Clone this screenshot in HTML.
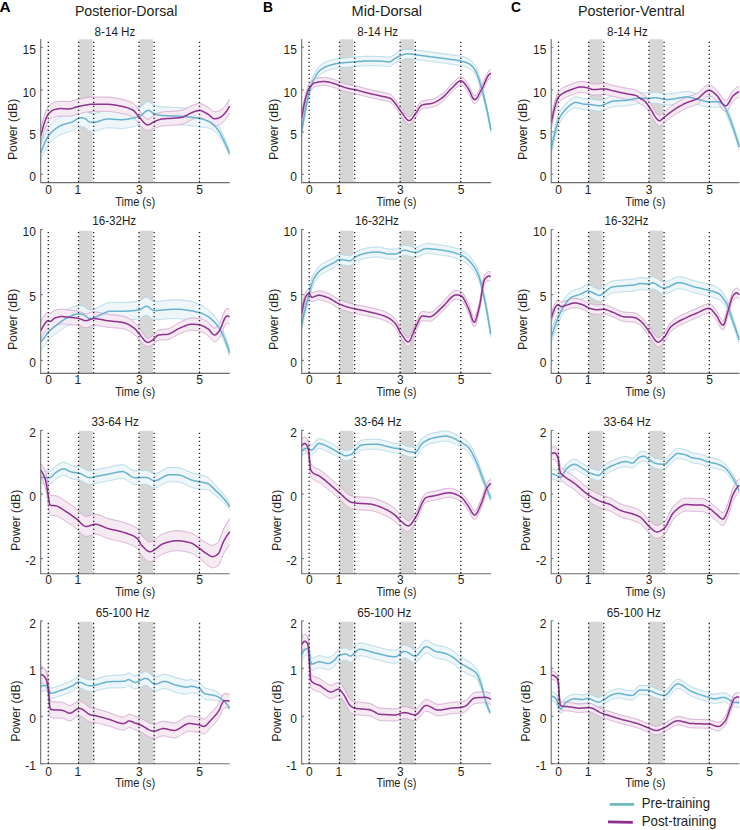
<!DOCTYPE html>
<html><head><meta charset="utf-8"><style>
html,body{margin:0;padding:0;background:#fff;}
body{width:740px;height:830px;position:relative;overflow:hidden;font-family:"Liberation Sans", sans-serif;}
</style></head><body>
<svg width="740" height="830" viewBox="0 0 740 830" style="position:absolute;left:0;top:0"><rect width="740" height="830" fill="#fff"/><text x="-0.6" y="11.9" font-family='"Liberation Sans", sans-serif' font-weight="bold" font-size="14" fill="#000" textLength="11.2" lengthAdjust="spacingAndGlyphs">A</text><text x="74.9" y="15.6" font-family='"Liberation Sans", sans-serif' font-size="15" fill="#231f20" textLength="102.4" lengthAdjust="spacingAndGlyphs">Posterior-Dorsal</text><clipPath id="clipA1"><rect x="40.7" y="36.0" width="190.0" height="146.6"/></clipPath><g><rect x="78.94" y="39.30" width="13.6" height="143.30" fill="#d6d6d6"/><rect x="139.42" y="39.30" width="13.6" height="143.30" fill="#d6d6d6"/><g clip-path="url(#clipA1)"><path d="M40.7,145.0 L41.7,142.1 L42.7,139.4 L43.7,136.9 L44.7,134.5 L45.7,132.4 L46.7,130.4 L47.7,128.7 L48.7,127.2 L49.7,125.8 L50.7,124.6 L51.7,123.6 L52.7,122.6 L53.7,121.7 L54.7,120.8 L55.7,119.9 L56.7,119.1 L57.7,118.4 L58.7,117.7 L59.7,117.1 L60.7,116.6 L61.7,116.2 L62.7,115.8 L63.7,115.5 L64.7,115.2 L65.7,114.9 L66.7,114.6 L67.7,114.4 L68.7,114.1 L69.7,113.8 L70.7,113.5 L71.7,113.1 L72.7,112.7 L73.7,112.2 L74.7,111.6 L75.7,110.9 L76.7,110.2 L77.7,109.6 L78.7,109.2 L79.7,108.9 L80.7,108.8 L81.7,108.9 L82.7,109.0 L83.7,109.3 L84.7,109.5 L85.7,110.1 L86.7,110.9 L87.7,111.9 L88.7,112.7 L89.7,113.2 L90.7,113.4 L91.7,113.5 L92.7,113.5 L93.7,113.5 L94.7,113.4 L95.7,113.3 L96.7,113.1 L97.7,112.8 L98.7,112.5 L99.7,112.1 L100.7,111.8 L101.7,111.4 L102.7,111.1 L103.7,110.8 L104.7,110.5 L105.7,110.3 L106.7,110.2 L107.7,110.2 L108.7,110.2 L109.7,110.2 L110.7,110.3 L111.7,110.3 L112.7,110.4 L113.7,110.5 L114.7,110.6 L115.7,110.7 L116.7,110.7 L117.7,110.8 L118.7,110.9 L119.7,110.9 L120.7,110.9 L121.7,110.9 L122.7,110.9 L123.7,110.8 L124.7,110.8 L125.7,110.7 L126.7,110.5 L127.7,110.4 L128.7,110.2 L129.7,110.1 L130.7,109.9 L131.7,109.6 L132.7,109.4 L133.7,109.2 L134.7,108.9 L135.7,108.6 L136.7,108.4 L137.7,108.1 L138.7,107.8 L139.7,107.4 L140.7,106.9 L141.7,106.1 L142.7,105.3 L143.7,104.4 L144.7,103.5 L145.7,102.7 L146.7,102.1 L147.7,101.7 L148.7,101.6 L149.7,102.0 L150.7,102.6 L151.7,103.5 L152.7,104.3 L153.7,104.9 L154.7,105.2 L155.7,105.5 L156.7,105.8 L157.7,106.0 L158.7,106.3 L159.7,106.5 L160.7,106.6 L161.7,106.7 L162.7,106.8 L163.7,106.9 L164.7,107.0 L165.7,107.0 L166.7,107.1 L167.7,107.2 L168.7,107.2 L169.7,107.2 L170.7,107.3 L171.7,107.3 L172.7,107.4 L173.7,107.4 L174.7,107.4 L175.7,107.5 L176.7,107.5 L177.7,107.6 L178.7,107.6 L179.7,107.7 L180.7,107.7 L181.7,107.8 L182.7,107.9 L183.7,107.9 L184.7,108.0 L185.7,108.1 L186.7,108.2 L187.7,108.3 L188.7,108.4 L189.7,108.6 L190.7,108.7 L191.7,108.8 L192.7,108.9 L193.7,109.1 L194.7,109.2 L195.7,109.4 L196.7,109.6 L197.7,109.7 L198.7,109.9 L199.7,110.1 L200.7,110.5 L201.7,110.9 L202.7,111.3 L203.7,111.8 L204.7,112.3 L205.7,112.9 L206.7,113.4 L207.7,114.0 L208.7,114.7 L209.7,115.4 L210.7,116.1 L211.7,116.9 L212.7,117.9 L213.7,119.1 L214.7,120.4 L215.7,121.7 L216.7,123.2 L217.7,124.7 L218.7,126.4 L219.7,128.2 L220.7,130.2 L221.7,132.3 L222.7,134.5 L223.7,136.7 L224.7,138.9 L225.7,141.2 L226.7,143.6 L227.7,146.1 L228.7,148.6 L229.6,151.0 L229.6,156.0 L228.7,154.0 L227.7,151.9 L226.7,149.8 L225.7,147.8 L224.7,145.9 L223.7,144.1 L222.7,142.3 L221.7,140.5 L220.7,138.8 L219.7,137.2 L218.7,135.8 L217.7,134.5 L216.7,133.4 L215.7,132.4 L214.7,131.4 L213.7,130.5 L212.7,129.8 L211.7,129.2 L210.7,128.7 L209.7,128.4 L208.7,128.2 L207.7,127.9 L206.7,127.7 L205.7,127.6 L204.7,127.4 L203.7,127.3 L202.7,127.3 L201.7,127.2 L200.7,127.2 L199.7,127.1 L198.7,126.9 L197.7,126.8 L196.7,126.6 L195.7,126.4 L194.7,126.3 L193.7,126.1 L192.7,126.0 L191.7,125.9 L190.7,125.7 L189.7,125.6 L188.7,125.5 L187.7,125.4 L186.7,125.3 L185.7,125.2 L184.7,125.1 L183.7,125.1 L182.7,125.0 L181.7,124.9 L180.7,124.9 L179.7,124.8 L178.7,124.8 L177.7,124.7 L176.7,124.7 L175.7,124.7 L174.7,124.6 L173.7,124.6 L172.7,124.6 L171.7,124.5 L170.7,124.5 L169.7,124.5 L168.7,124.4 L167.7,124.4 L166.7,124.3 L165.7,124.3 L164.7,124.2 L163.7,124.2 L162.7,124.1 L161.7,124.0 L160.7,123.9 L159.7,123.7 L158.7,123.6 L157.7,123.3 L156.7,123.1 L155.7,122.8 L154.7,122.5 L153.7,122.2 L152.7,121.6 L151.7,120.8 L150.7,120.0 L149.7,119.3 L148.7,119.0 L147.7,119.1 L146.7,119.5 L145.7,120.1 L144.7,120.9 L143.7,121.8 L142.7,122.7 L141.7,123.5 L140.7,124.3 L139.7,124.9 L138.7,125.2 L137.7,125.5 L136.7,125.8 L135.7,126.1 L134.7,126.4 L133.7,126.6 L132.7,126.9 L131.7,127.1 L130.7,127.4 L129.7,127.6 L128.7,127.7 L127.7,127.9 L126.7,128.1 L125.7,128.2 L124.7,128.3 L123.7,128.4 L122.7,128.4 L121.7,128.5 L120.7,128.5 L119.7,128.5 L118.7,128.4 L117.7,128.4 L116.7,128.3 L115.7,128.3 L114.7,128.2 L113.7,128.1 L112.7,128.0 L111.7,128.0 L110.7,127.9 L109.7,127.9 L108.7,127.8 L107.7,127.8 L106.7,127.9 L105.7,128.0 L104.7,128.2 L103.7,128.5 L102.7,128.8 L101.7,129.1 L100.7,129.5 L99.7,129.8 L98.7,130.2 L97.7,130.5 L96.7,130.8 L95.7,131.0 L94.7,131.2 L93.7,131.3 L92.7,131.3 L91.7,131.2 L90.7,131.2 L89.7,131.0 L88.7,130.5 L87.7,129.7 L86.7,128.7 L85.7,127.9 L84.7,127.3 L83.7,127.1 L82.7,126.9 L81.7,126.7 L80.7,126.6 L79.7,126.7 L78.7,127.0 L77.7,127.5 L76.7,128.1 L75.7,128.8 L74.7,129.5 L73.7,130.1 L72.7,130.6 L71.7,131.0 L70.7,131.4 L69.7,131.7 L68.7,132.0 L67.7,132.3 L66.7,132.6 L65.7,132.9 L64.7,133.2 L63.7,133.5 L62.7,133.8 L61.7,134.2 L60.7,134.6 L59.7,135.1 L58.7,135.6 L57.7,136.2 L56.7,136.8 L55.7,137.5 L54.7,138.2 L53.7,139.0 L52.7,139.8 L51.7,140.7 L50.7,141.7 L49.7,142.8 L48.7,144.0 L47.7,145.4 L46.7,147.0 L45.7,148.9 L44.7,151.0 L43.7,153.2 L42.7,155.6 L41.7,158.2 L40.7,161.0 Z" fill="#eff6fa" stroke="none"/><path d="M40.7,145.0 L41.7,142.1 L42.7,139.4 L43.7,136.9 L44.7,134.5 L45.7,132.4 L46.7,130.4 L47.7,128.7 L48.7,127.2 L49.7,125.8 L50.7,124.6 L51.7,123.6 L52.7,122.6 L53.7,121.7 L54.7,120.8 L55.7,119.9 L56.7,119.1 L57.7,118.4 L58.7,117.7 L59.7,117.1 L60.7,116.6 L61.7,116.2 L62.7,115.8 L63.7,115.5 L64.7,115.2 L65.7,114.9 L66.7,114.6 L67.7,114.4 L68.7,114.1 L69.7,113.8 L70.7,113.5 L71.7,113.1 L72.7,112.7 L73.7,112.2 L74.7,111.6 L75.7,110.9 L76.7,110.2 L77.7,109.6 L78.7,109.2 L79.7,108.9 L80.7,108.8 L81.7,108.9 L82.7,109.0 L83.7,109.3 L84.7,109.5 L85.7,110.1 L86.7,110.9 L87.7,111.9 L88.7,112.7 L89.7,113.2 L90.7,113.4 L91.7,113.5 L92.7,113.5 L93.7,113.5 L94.7,113.4 L95.7,113.3 L96.7,113.1 L97.7,112.8 L98.7,112.5 L99.7,112.1 L100.7,111.8 L101.7,111.4 L102.7,111.1 L103.7,110.8 L104.7,110.5 L105.7,110.3 L106.7,110.2 L107.7,110.2 L108.7,110.2 L109.7,110.2 L110.7,110.3 L111.7,110.3 L112.7,110.4 L113.7,110.5 L114.7,110.6 L115.7,110.7 L116.7,110.7 L117.7,110.8 L118.7,110.9 L119.7,110.9 L120.7,110.9 L121.7,110.9 L122.7,110.9 L123.7,110.8 L124.7,110.8 L125.7,110.7 L126.7,110.5 L127.7,110.4 L128.7,110.2 L129.7,110.1 L130.7,109.9 L131.7,109.6 L132.7,109.4 L133.7,109.2 L134.7,108.9 L135.7,108.6 L136.7,108.4 L137.7,108.1 L138.7,107.8 L139.7,107.4 L140.7,106.9 L141.7,106.1 L142.7,105.3 L143.7,104.4 L144.7,103.5 L145.7,102.7 L146.7,102.1 L147.7,101.7 L148.7,101.6 L149.7,102.0 L150.7,102.6 L151.7,103.5 L152.7,104.3 L153.7,104.9 L154.7,105.2 L155.7,105.5 L156.7,105.8 L157.7,106.0 L158.7,106.3 L159.7,106.5 L160.7,106.6 L161.7,106.7 L162.7,106.8 L163.7,106.9 L164.7,107.0 L165.7,107.0 L166.7,107.1 L167.7,107.2 L168.7,107.2 L169.7,107.2 L170.7,107.3 L171.7,107.3 L172.7,107.4 L173.7,107.4 L174.7,107.4 L175.7,107.5 L176.7,107.5 L177.7,107.6 L178.7,107.6 L179.7,107.7 L180.7,107.7 L181.7,107.8 L182.7,107.9 L183.7,107.9 L184.7,108.0 L185.7,108.1 L186.7,108.2 L187.7,108.3 L188.7,108.4 L189.7,108.6 L190.7,108.7 L191.7,108.8 L192.7,108.9 L193.7,109.1 L194.7,109.2 L195.7,109.4 L196.7,109.6 L197.7,109.7 L198.7,109.9 L199.7,110.1 L200.7,110.5 L201.7,110.9 L202.7,111.3 L203.7,111.8 L204.7,112.3 L205.7,112.9 L206.7,113.4 L207.7,114.0 L208.7,114.7 L209.7,115.4 L210.7,116.1 L211.7,116.9 L212.7,117.9 L213.7,119.1 L214.7,120.4 L215.7,121.7 L216.7,123.2 L217.7,124.7 L218.7,126.4 L219.7,128.2 L220.7,130.2 L221.7,132.3 L222.7,134.5 L223.7,136.7 L224.7,138.9 L225.7,141.2 L226.7,143.6 L227.7,146.1 L228.7,148.6 L229.6,151.0" fill="none" stroke="#a9d5e5" stroke-width="0.95"/><path d="M40.7,161.0 L41.7,158.2 L42.7,155.6 L43.7,153.2 L44.7,151.0 L45.7,148.9 L46.7,147.0 L47.7,145.4 L48.7,144.0 L49.7,142.8 L50.7,141.7 L51.7,140.7 L52.7,139.8 L53.7,139.0 L54.7,138.2 L55.7,137.5 L56.7,136.8 L57.7,136.2 L58.7,135.6 L59.7,135.1 L60.7,134.6 L61.7,134.2 L62.7,133.8 L63.7,133.5 L64.7,133.2 L65.7,132.9 L66.7,132.6 L67.7,132.3 L68.7,132.0 L69.7,131.7 L70.7,131.4 L71.7,131.0 L72.7,130.6 L73.7,130.1 L74.7,129.5 L75.7,128.8 L76.7,128.1 L77.7,127.5 L78.7,127.0 L79.7,126.7 L80.7,126.6 L81.7,126.7 L82.7,126.9 L83.7,127.1 L84.7,127.3 L85.7,127.9 L86.7,128.7 L87.7,129.7 L88.7,130.5 L89.7,131.0 L90.7,131.2 L91.7,131.2 L92.7,131.3 L93.7,131.3 L94.7,131.2 L95.7,131.0 L96.7,130.8 L97.7,130.5 L98.7,130.2 L99.7,129.8 L100.7,129.5 L101.7,129.1 L102.7,128.8 L103.7,128.5 L104.7,128.2 L105.7,128.0 L106.7,127.9 L107.7,127.8 L108.7,127.8 L109.7,127.9 L110.7,127.9 L111.7,128.0 L112.7,128.0 L113.7,128.1 L114.7,128.2 L115.7,128.3 L116.7,128.3 L117.7,128.4 L118.7,128.4 L119.7,128.5 L120.7,128.5 L121.7,128.5 L122.7,128.4 L123.7,128.4 L124.7,128.3 L125.7,128.2 L126.7,128.1 L127.7,127.9 L128.7,127.7 L129.7,127.6 L130.7,127.4 L131.7,127.1 L132.7,126.9 L133.7,126.6 L134.7,126.4 L135.7,126.1 L136.7,125.8 L137.7,125.5 L138.7,125.2 L139.7,124.9 L140.7,124.3 L141.7,123.5 L142.7,122.7 L143.7,121.8 L144.7,120.9 L145.7,120.1 L146.7,119.5 L147.7,119.1 L148.7,119.0 L149.7,119.3 L150.7,120.0 L151.7,120.8 L152.7,121.6 L153.7,122.2 L154.7,122.5 L155.7,122.8 L156.7,123.1 L157.7,123.3 L158.7,123.6 L159.7,123.7 L160.7,123.9 L161.7,124.0 L162.7,124.1 L163.7,124.2 L164.7,124.2 L165.7,124.3 L166.7,124.3 L167.7,124.4 L168.7,124.4 L169.7,124.5 L170.7,124.5 L171.7,124.5 L172.7,124.6 L173.7,124.6 L174.7,124.6 L175.7,124.7 L176.7,124.7 L177.7,124.7 L178.7,124.8 L179.7,124.8 L180.7,124.9 L181.7,124.9 L182.7,125.0 L183.7,125.1 L184.7,125.1 L185.7,125.2 L186.7,125.3 L187.7,125.4 L188.7,125.5 L189.7,125.6 L190.7,125.7 L191.7,125.9 L192.7,126.0 L193.7,126.1 L194.7,126.3 L195.7,126.4 L196.7,126.6 L197.7,126.8 L198.7,126.9 L199.7,127.1 L200.7,127.2 L201.7,127.2 L202.7,127.3 L203.7,127.3 L204.7,127.4 L205.7,127.6 L206.7,127.7 L207.7,127.9 L208.7,128.2 L209.7,128.4 L210.7,128.7 L211.7,129.2 L212.7,129.8 L213.7,130.5 L214.7,131.4 L215.7,132.4 L216.7,133.4 L217.7,134.5 L218.7,135.8 L219.7,137.2 L220.7,138.8 L221.7,140.5 L222.7,142.3 L223.7,144.1 L224.7,145.9 L225.7,147.8 L226.7,149.8 L227.7,151.9 L228.7,154.0 L229.6,156.0" fill="none" stroke="#a9d5e5" stroke-width="0.8"/><path d="M40.7,128.5 L41.7,124.5 L42.7,121.0 L43.7,117.7 L44.7,114.6 L45.7,111.8 L46.7,109.4 L47.7,107.6 L48.7,106.2 L49.7,105.2 L50.7,104.2 L51.7,103.5 L52.7,102.9 L53.7,102.5 L54.7,102.2 L55.7,101.9 L56.7,101.6 L57.7,101.4 L58.7,101.3 L59.7,101.2 L60.7,101.2 L61.7,101.2 L62.7,101.3 L63.7,101.3 L64.7,101.4 L65.7,101.4 L66.7,101.5 L67.7,101.5 L68.7,101.5 L69.7,101.5 L70.7,101.3 L71.7,101.1 L72.7,100.8 L73.7,100.5 L74.7,100.2 L75.7,99.9 L76.7,99.6 L77.7,99.4 L78.7,99.2 L79.7,99.0 L80.7,98.8 L81.7,98.6 L82.7,98.4 L83.7,98.2 L84.7,98.0 L85.7,97.8 L86.7,97.6 L87.7,97.4 L88.7,97.3 L89.7,97.2 L90.7,97.1 L91.7,97.0 L92.7,97.0 L93.7,97.0 L94.7,97.0 L95.7,97.0 L96.7,97.0 L97.7,97.0 L98.7,97.0 L99.7,97.0 L100.7,97.0 L101.7,97.0 L102.7,97.1 L103.7,97.1 L104.7,97.1 L105.7,97.1 L106.7,97.1 L107.7,97.1 L108.7,97.2 L109.7,97.2 L110.7,97.3 L111.7,97.4 L112.7,97.6 L113.7,97.7 L114.7,97.9 L115.7,98.0 L116.7,98.2 L117.7,98.4 L118.7,98.6 L119.7,98.8 L120.7,99.0 L121.7,99.2 L122.7,99.4 L123.7,99.7 L124.7,99.9 L125.7,100.2 L126.7,100.5 L127.7,100.8 L128.7,101.2 L129.7,101.6 L130.7,102.0 L131.7,102.5 L132.7,103.0 L133.7,103.6 L134.7,104.5 L135.7,105.7 L136.7,107.1 L137.7,108.4 L138.7,109.6 L139.7,110.7 L140.7,112.0 L141.7,113.4 L142.7,114.7 L143.7,116.1 L144.7,117.2 L145.7,118.2 L146.7,118.9 L147.7,119.3 L148.7,119.1 L149.7,118.5 L150.7,117.8 L151.7,116.9 L152.7,116.0 L153.7,115.3 L154.7,114.7 L155.7,114.1 L156.7,113.6 L157.7,113.2 L158.7,112.9 L159.7,112.6 L160.7,112.3 L161.7,112.1 L162.7,112.0 L163.7,111.8 L164.7,111.7 L165.7,111.7 L166.7,111.6 L167.7,111.5 L168.7,111.5 L169.7,111.4 L170.7,111.4 L171.7,111.3 L172.7,111.3 L173.7,111.2 L174.7,111.1 L175.7,111.1 L176.7,111.0 L177.7,110.9 L178.7,110.8 L179.7,110.7 L180.7,110.5 L181.7,110.3 L182.7,110.0 L183.7,109.6 L184.7,109.2 L185.7,108.7 L186.7,108.3 L187.7,107.8 L188.7,107.2 L189.7,106.7 L190.7,106.2 L191.7,105.7 L192.7,105.3 L193.7,104.9 L194.7,104.5 L195.7,104.1 L196.7,103.9 L197.7,103.7 L198.7,103.5 L199.7,103.5 L200.7,103.6 L201.7,103.9 L202.7,104.3 L203.7,104.8 L204.7,105.3 L205.7,105.9 L206.7,106.5 L207.7,107.1 L208.7,107.7 L209.7,108.5 L210.7,109.4 L211.7,110.3 L212.7,111.1 L213.7,111.6 L214.7,111.8 L215.7,111.8 L216.7,111.6 L217.7,111.4 L218.7,111.0 L219.7,110.6 L220.7,110.0 L221.7,109.3 L222.7,108.5 L223.7,107.6 L224.7,106.5 L225.7,105.2 L226.7,103.9 L227.7,102.3 L228.7,100.7 L229.6,99.0 L229.6,113.0 L228.7,114.7 L227.7,116.3 L226.7,117.9 L225.7,119.2 L224.7,120.5 L223.7,121.6 L222.7,122.5 L221.7,123.3 L220.7,124.0 L219.7,124.6 L218.7,125.0 L217.7,125.4 L216.7,125.6 L215.7,125.8 L214.7,125.8 L213.7,125.6 L212.7,125.1 L211.7,124.3 L210.7,123.4 L209.7,122.5 L208.7,121.7 L207.7,121.1 L206.7,120.5 L205.7,119.9 L204.7,119.3 L203.7,118.8 L202.7,118.3 L201.7,117.9 L200.7,117.6 L199.7,117.5 L198.7,117.5 L197.7,117.7 L196.7,117.9 L195.7,118.1 L194.7,118.5 L193.7,118.9 L192.7,119.3 L191.7,119.7 L190.7,120.2 L189.7,120.7 L188.7,121.2 L187.7,121.8 L186.7,122.3 L185.7,122.7 L184.7,123.2 L183.7,123.6 L182.7,124.0 L181.7,124.3 L180.7,124.5 L179.7,124.7 L178.7,124.8 L177.7,124.9 L176.7,125.0 L175.7,125.1 L174.7,125.1 L173.7,125.2 L172.7,125.3 L171.7,125.3 L170.7,125.4 L169.7,125.4 L168.7,125.5 L167.7,125.5 L166.7,125.6 L165.7,125.7 L164.7,125.7 L163.7,125.8 L162.7,126.0 L161.7,126.1 L160.7,126.3 L159.7,126.6 L158.7,126.9 L157.7,127.2 L156.7,127.6 L155.7,128.0 L154.7,128.2 L153.7,128.5 L152.7,128.8 L151.7,129.3 L150.7,129.8 L149.7,130.2 L148.7,130.4 L147.7,130.5 L146.7,130.4 L145.7,130.1 L144.7,129.5 L143.7,128.7 L142.7,127.7 L141.7,126.7 L140.7,125.7 L139.7,124.7 L138.7,123.6 L137.7,122.4 L136.7,121.1 L135.7,119.8 L134.7,118.6 L133.7,117.7 L132.7,117.1 L131.7,116.6 L130.7,116.1 L129.7,115.7 L128.7,115.3 L127.7,115.0 L126.7,114.6 L125.7,114.3 L124.7,114.1 L123.7,113.8 L122.7,113.6 L121.7,113.4 L120.7,113.2 L119.7,113.0 L118.7,112.8 L117.7,112.6 L116.7,112.5 L115.7,112.3 L114.7,112.1 L113.7,112.0 L112.7,111.8 L111.7,111.7 L110.7,111.6 L109.7,111.5 L108.7,111.5 L107.7,111.5 L106.7,111.5 L105.7,111.4 L104.7,111.4 L103.7,111.4 L102.7,111.4 L101.7,111.4 L100.7,111.4 L99.7,111.4 L98.7,111.4 L97.7,111.4 L96.7,111.4 L95.7,111.4 L94.7,111.4 L93.7,111.4 L92.7,111.4 L91.7,111.5 L90.7,111.6 L89.7,111.7 L88.7,111.8 L87.7,112.0 L86.7,112.1 L85.7,112.3 L84.7,112.5 L83.7,112.7 L82.7,112.9 L81.7,113.1 L80.7,113.4 L79.7,113.6 L78.7,113.8 L77.7,114.0 L76.7,114.3 L75.7,114.6 L74.7,114.9 L73.7,115.2 L72.7,115.5 L71.7,115.8 L70.7,116.0 L69.7,116.2 L68.7,116.3 L67.7,116.3 L66.7,116.2 L65.7,116.2 L64.7,116.1 L63.7,116.1 L62.7,116.1 L61.7,116.0 L60.7,116.0 L59.7,116.0 L58.7,116.1 L57.7,116.3 L56.7,116.5 L55.7,116.7 L54.7,117.0 L53.7,117.4 L52.7,117.8 L51.7,118.4 L50.7,119.1 L49.7,120.1 L48.7,121.2 L47.7,122.5 L46.7,124.4 L45.7,126.8 L44.7,129.5 L43.7,132.6 L42.7,136.0 L41.7,139.5 L40.7,143.5 Z" fill="#f5e9f2" stroke="none"/><path d="M40.7,128.5 L41.7,124.5 L42.7,121.0 L43.7,117.7 L44.7,114.6 L45.7,111.8 L46.7,109.4 L47.7,107.6 L48.7,106.2 L49.7,105.2 L50.7,104.2 L51.7,103.5 L52.7,102.9 L53.7,102.5 L54.7,102.2 L55.7,101.9 L56.7,101.6 L57.7,101.4 L58.7,101.3 L59.7,101.2 L60.7,101.2 L61.7,101.2 L62.7,101.3 L63.7,101.3 L64.7,101.4 L65.7,101.4 L66.7,101.5 L67.7,101.5 L68.7,101.5 L69.7,101.5 L70.7,101.3 L71.7,101.1 L72.7,100.8 L73.7,100.5 L74.7,100.2 L75.7,99.9 L76.7,99.6 L77.7,99.4 L78.7,99.2 L79.7,99.0 L80.7,98.8 L81.7,98.6 L82.7,98.4 L83.7,98.2 L84.7,98.0 L85.7,97.8 L86.7,97.6 L87.7,97.4 L88.7,97.3 L89.7,97.2 L90.7,97.1 L91.7,97.0 L92.7,97.0 L93.7,97.0 L94.7,97.0 L95.7,97.0 L96.7,97.0 L97.7,97.0 L98.7,97.0 L99.7,97.0 L100.7,97.0 L101.7,97.0 L102.7,97.1 L103.7,97.1 L104.7,97.1 L105.7,97.1 L106.7,97.1 L107.7,97.1 L108.7,97.2 L109.7,97.2 L110.7,97.3 L111.7,97.4 L112.7,97.6 L113.7,97.7 L114.7,97.9 L115.7,98.0 L116.7,98.2 L117.7,98.4 L118.7,98.6 L119.7,98.8 L120.7,99.0 L121.7,99.2 L122.7,99.4 L123.7,99.7 L124.7,99.9 L125.7,100.2 L126.7,100.5 L127.7,100.8 L128.7,101.2 L129.7,101.6 L130.7,102.0 L131.7,102.5 L132.7,103.0 L133.7,103.6 L134.7,104.5 L135.7,105.7 L136.7,107.1 L137.7,108.4 L138.7,109.6 L139.7,110.7 L140.7,112.0 L141.7,113.4 L142.7,114.7 L143.7,116.1 L144.7,117.2 L145.7,118.2 L146.7,118.9 L147.7,119.3 L148.7,119.1 L149.7,118.5 L150.7,117.8 L151.7,116.9 L152.7,116.0 L153.7,115.3 L154.7,114.7 L155.7,114.1 L156.7,113.6 L157.7,113.2 L158.7,112.9 L159.7,112.6 L160.7,112.3 L161.7,112.1 L162.7,112.0 L163.7,111.8 L164.7,111.7 L165.7,111.7 L166.7,111.6 L167.7,111.5 L168.7,111.5 L169.7,111.4 L170.7,111.4 L171.7,111.3 L172.7,111.3 L173.7,111.2 L174.7,111.1 L175.7,111.1 L176.7,111.0 L177.7,110.9 L178.7,110.8 L179.7,110.7 L180.7,110.5 L181.7,110.3 L182.7,110.0 L183.7,109.6 L184.7,109.2 L185.7,108.7 L186.7,108.3 L187.7,107.8 L188.7,107.2 L189.7,106.7 L190.7,106.2 L191.7,105.7 L192.7,105.3 L193.7,104.9 L194.7,104.5 L195.7,104.1 L196.7,103.9 L197.7,103.7 L198.7,103.5 L199.7,103.5 L200.7,103.6 L201.7,103.9 L202.7,104.3 L203.7,104.8 L204.7,105.3 L205.7,105.9 L206.7,106.5 L207.7,107.1 L208.7,107.7 L209.7,108.5 L210.7,109.4 L211.7,110.3 L212.7,111.1 L213.7,111.6 L214.7,111.8 L215.7,111.8 L216.7,111.6 L217.7,111.4 L218.7,111.0 L219.7,110.6 L220.7,110.0 L221.7,109.3 L222.7,108.5 L223.7,107.6 L224.7,106.5 L225.7,105.2 L226.7,103.9 L227.7,102.3 L228.7,100.7 L229.6,99.0" fill="none" stroke="#d4a2d0" stroke-width="0.95"/><path d="M40.7,143.5 L41.7,139.5 L42.7,136.0 L43.7,132.6 L44.7,129.5 L45.7,126.8 L46.7,124.4 L47.7,122.5 L48.7,121.2 L49.7,120.1 L50.7,119.1 L51.7,118.4 L52.7,117.8 L53.7,117.4 L54.7,117.0 L55.7,116.7 L56.7,116.5 L57.7,116.3 L58.7,116.1 L59.7,116.0 L60.7,116.0 L61.7,116.0 L62.7,116.1 L63.7,116.1 L64.7,116.1 L65.7,116.2 L66.7,116.2 L67.7,116.3 L68.7,116.3 L69.7,116.2 L70.7,116.0 L71.7,115.8 L72.7,115.5 L73.7,115.2 L74.7,114.9 L75.7,114.6 L76.7,114.3 L77.7,114.0 L78.7,113.8 L79.7,113.6 L80.7,113.4 L81.7,113.1 L82.7,112.9 L83.7,112.7 L84.7,112.5 L85.7,112.3 L86.7,112.1 L87.7,112.0 L88.7,111.8 L89.7,111.7 L90.7,111.6 L91.7,111.5 L92.7,111.4 L93.7,111.4 L94.7,111.4 L95.7,111.4 L96.7,111.4 L97.7,111.4 L98.7,111.4 L99.7,111.4 L100.7,111.4 L101.7,111.4 L102.7,111.4 L103.7,111.4 L104.7,111.4 L105.7,111.4 L106.7,111.5 L107.7,111.5 L108.7,111.5 L109.7,111.5 L110.7,111.6 L111.7,111.7 L112.7,111.8 L113.7,112.0 L114.7,112.1 L115.7,112.3 L116.7,112.5 L117.7,112.6 L118.7,112.8 L119.7,113.0 L120.7,113.2 L121.7,113.4 L122.7,113.6 L123.7,113.8 L124.7,114.1 L125.7,114.3 L126.7,114.6 L127.7,115.0 L128.7,115.3 L129.7,115.7 L130.7,116.1 L131.7,116.6 L132.7,117.1 L133.7,117.7 L134.7,118.6 L135.7,119.8 L136.7,121.1 L137.7,122.4 L138.7,123.6 L139.7,124.7 L140.7,125.7 L141.7,126.7 L142.7,127.7 L143.7,128.7 L144.7,129.5 L145.7,130.1 L146.7,130.4 L147.7,130.5 L148.7,130.4 L149.7,130.2 L150.7,129.8 L151.7,129.3 L152.7,128.8 L153.7,128.5 L154.7,128.2 L155.7,128.0 L156.7,127.6 L157.7,127.2 L158.7,126.9 L159.7,126.6 L160.7,126.3 L161.7,126.1 L162.7,126.0 L163.7,125.8 L164.7,125.7 L165.7,125.7 L166.7,125.6 L167.7,125.5 L168.7,125.5 L169.7,125.4 L170.7,125.4 L171.7,125.3 L172.7,125.3 L173.7,125.2 L174.7,125.1 L175.7,125.1 L176.7,125.0 L177.7,124.9 L178.7,124.8 L179.7,124.7 L180.7,124.5 L181.7,124.3 L182.7,124.0 L183.7,123.6 L184.7,123.2 L185.7,122.7 L186.7,122.3 L187.7,121.8 L188.7,121.2 L189.7,120.7 L190.7,120.2 L191.7,119.7 L192.7,119.3 L193.7,118.9 L194.7,118.5 L195.7,118.1 L196.7,117.9 L197.7,117.7 L198.7,117.5 L199.7,117.5 L200.7,117.6 L201.7,117.9 L202.7,118.3 L203.7,118.8 L204.7,119.3 L205.7,119.9 L206.7,120.5 L207.7,121.1 L208.7,121.7 L209.7,122.5 L210.7,123.4 L211.7,124.3 L212.7,125.1 L213.7,125.6 L214.7,125.8 L215.7,125.8 L216.7,125.6 L217.7,125.4 L218.7,125.0 L219.7,124.6 L220.7,124.0 L221.7,123.3 L222.7,122.5 L223.7,121.6 L224.7,120.5 L225.7,119.2 L226.7,117.9 L227.7,116.3 L228.7,114.7 L229.6,113.0" fill="none" stroke="#d4a2d0" stroke-width="0.8"/><path d="M40.7,153.0 L41.7,150.2 L42.7,147.5 L43.7,145.1 L44.7,142.8 L45.7,140.6 L46.7,138.7 L47.7,137.0 L48.7,135.6 L49.7,134.3 L50.7,133.2 L51.7,132.1 L52.7,131.2 L53.7,130.3 L54.7,129.5 L55.7,128.7 L56.7,128.0 L57.7,127.3 L58.7,126.6 L59.7,126.1 L60.7,125.6 L61.7,125.2 L62.7,124.8 L63.7,124.5 L64.7,124.2 L65.7,123.9 L66.7,123.6 L67.7,123.3 L68.7,123.1 L69.7,122.8 L70.7,122.4 L71.7,122.1 L72.7,121.7 L73.7,121.1 L74.7,120.5 L75.7,119.8 L76.7,119.2 L77.7,118.6 L78.7,118.1 L79.7,117.8 L80.7,117.7 L81.7,117.8 L82.7,117.9 L83.7,118.2 L84.7,118.4 L85.7,119.0 L86.7,119.8 L87.7,120.8 L88.7,121.6 L89.7,122.1 L90.7,122.3 L91.7,122.3 L92.7,122.4 L93.7,122.4 L94.7,122.3 L95.7,122.2 L96.7,121.9 L97.7,121.7 L98.7,121.3 L99.7,121.0 L100.7,120.6 L101.7,120.3 L102.7,119.9 L103.7,119.6 L104.7,119.4 L105.7,119.2 L106.7,119.0 L107.7,119.0 L108.7,119.0 L109.7,119.0 L110.7,119.1 L111.7,119.2 L112.7,119.2 L113.7,119.3 L114.7,119.4 L115.7,119.5 L116.7,119.5 L117.7,119.6 L118.7,119.6 L119.7,119.7 L120.7,119.7 L121.7,119.7 L122.7,119.7 L123.7,119.6 L124.7,119.5 L125.7,119.4 L126.7,119.3 L127.7,119.2 L128.7,119.0 L129.7,118.8 L130.7,118.6 L131.7,118.4 L132.7,118.2 L133.7,117.9 L134.7,117.6 L135.7,117.4 L136.7,117.1 L137.7,116.8 L138.7,116.5 L139.7,116.1 L140.7,115.6 L141.7,114.8 L142.7,114.0 L143.7,113.1 L144.7,112.2 L145.7,111.4 L146.7,110.8 L147.7,110.4 L148.7,110.3 L149.7,110.6 L150.7,111.3 L151.7,112.1 L152.7,112.9 L153.7,113.5 L154.7,113.9 L155.7,114.2 L156.7,114.4 L157.7,114.7 L158.7,114.9 L159.7,115.1 L160.7,115.3 L161.7,115.4 L162.7,115.5 L163.7,115.5 L164.7,115.6 L165.7,115.7 L166.7,115.7 L167.7,115.8 L168.7,115.8 L169.7,115.9 L170.7,115.9 L171.7,115.9 L172.7,116.0 L173.7,116.0 L174.7,116.0 L175.7,116.1 L176.7,116.1 L177.7,116.1 L178.7,116.2 L179.7,116.2 L180.7,116.3 L181.7,116.4 L182.7,116.4 L183.7,116.5 L184.7,116.6 L185.7,116.7 L186.7,116.8 L187.7,116.9 L188.7,117.0 L189.7,117.1 L190.7,117.2 L191.7,117.3 L192.7,117.5 L193.7,117.6 L194.7,117.8 L195.7,117.9 L196.7,118.1 L197.7,118.3 L198.7,118.4 L199.7,118.6 L200.7,118.8 L201.7,119.0 L202.7,119.3 L203.7,119.6 L204.7,119.9 L205.7,120.2 L206.7,120.6 L207.7,121.0 L208.7,121.4 L209.7,121.9 L210.7,122.4 L211.7,123.0 L212.7,123.8 L213.7,124.8 L214.7,125.9 L215.7,127.1 L216.7,128.3 L217.7,129.6 L218.7,131.1 L219.7,132.7 L220.7,134.5 L221.7,136.4 L222.7,138.4 L223.7,140.4 L224.7,142.4 L225.7,144.5 L226.7,146.7 L227.7,149.0 L228.7,151.3 L229.6,153.5" fill="none" stroke="#66b3cf" stroke-width="1.5" stroke-linejoin="round"/><path d="M40.7,136.0 L41.7,132.0 L42.7,128.5 L43.7,125.1 L44.7,122.1 L45.7,119.3 L46.7,116.9 L47.7,115.0 L48.7,113.7 L49.7,112.6 L50.7,111.7 L51.7,110.9 L52.7,110.3 L53.7,109.9 L54.7,109.6 L55.7,109.3 L56.7,109.1 L57.7,108.9 L58.7,108.7 L59.7,108.6 L60.7,108.6 L61.7,108.6 L62.7,108.7 L63.7,108.7 L64.7,108.8 L65.7,108.8 L66.7,108.9 L67.7,108.9 L68.7,108.9 L69.7,108.8 L70.7,108.7 L71.7,108.4 L72.7,108.2 L73.7,107.9 L74.7,107.5 L75.7,107.2 L76.7,106.9 L77.7,106.7 L78.7,106.5 L79.7,106.3 L80.7,106.1 L81.7,105.9 L82.7,105.6 L83.7,105.4 L84.7,105.2 L85.7,105.0 L86.7,104.9 L87.7,104.7 L88.7,104.5 L89.7,104.4 L90.7,104.3 L91.7,104.3 L92.7,104.2 L93.7,104.2 L94.7,104.2 L95.7,104.2 L96.7,104.2 L97.7,104.2 L98.7,104.2 L99.7,104.2 L100.7,104.2 L101.7,104.2 L102.7,104.2 L103.7,104.3 L104.7,104.3 L105.7,104.3 L106.7,104.3 L107.7,104.3 L108.7,104.3 L109.7,104.4 L110.7,104.5 L111.7,104.6 L112.7,104.7 L113.7,104.8 L114.7,105.0 L115.7,105.2 L116.7,105.3 L117.7,105.5 L118.7,105.7 L119.7,105.9 L120.7,106.1 L121.7,106.3 L122.7,106.5 L123.7,106.8 L124.7,107.0 L125.7,107.3 L126.7,107.6 L127.7,107.9 L128.7,108.2 L129.7,108.6 L130.7,109.1 L131.7,109.5 L132.7,110.0 L133.7,110.6 L134.7,111.6 L135.7,112.8 L136.7,114.1 L137.7,115.4 L138.7,116.6 L139.7,117.7 L140.7,118.8 L141.7,120.0 L142.7,121.2 L143.7,122.4 L144.7,123.3 L145.7,124.1 L146.7,124.7 L147.7,124.9 L148.7,124.8 L149.7,124.4 L150.7,123.8 L151.7,123.1 L152.7,122.4 L153.7,121.9 L154.7,121.5 L155.7,121.0 L156.7,120.6 L157.7,120.2 L158.7,119.9 L159.7,119.6 L160.7,119.3 L161.7,119.1 L162.7,119.0 L163.7,118.8 L164.7,118.7 L165.7,118.7 L166.7,118.6 L167.7,118.5 L168.7,118.5 L169.7,118.4 L170.7,118.4 L171.7,118.3 L172.7,118.3 L173.7,118.2 L174.7,118.1 L175.7,118.1 L176.7,118.0 L177.7,117.9 L178.7,117.8 L179.7,117.7 L180.7,117.5 L181.7,117.3 L182.7,117.0 L183.7,116.6 L184.7,116.2 L185.7,115.7 L186.7,115.3 L187.7,114.8 L188.7,114.2 L189.7,113.7 L190.7,113.2 L191.7,112.7 L192.7,112.3 L193.7,111.9 L194.7,111.5 L195.7,111.1 L196.7,110.9 L197.7,110.7 L198.7,110.5 L199.7,110.5 L200.7,110.6 L201.7,110.9 L202.7,111.3 L203.7,111.8 L204.7,112.3 L205.7,112.9 L206.7,113.5 L207.7,114.1 L208.7,114.7 L209.7,115.5 L210.7,116.4 L211.7,117.3 L212.7,118.1 L213.7,118.6 L214.7,118.8 L215.7,118.8 L216.7,118.6 L217.7,118.4 L218.7,118.0 L219.7,117.6 L220.7,117.0 L221.7,116.3 L222.7,115.5 L223.7,114.6 L224.7,113.5 L225.7,112.2 L226.7,110.9 L227.7,109.3 L228.7,107.7 L229.6,106.0" fill="none" stroke="#8e318f" stroke-width="1.5" stroke-linejoin="round"/></g><line x1="48.30" y1="41.70" x2="48.30" y2="182.90" stroke="#262626" stroke-width="1.35" stroke-dasharray="1.4 2.6"/><line x1="78.54" y1="41.70" x2="78.54" y2="182.90" stroke="#262626" stroke-width="1.35" stroke-dasharray="1.4 2.6"/><line x1="93.66" y1="41.70" x2="93.66" y2="182.90" stroke="#262626" stroke-width="1.35" stroke-dasharray="1.4 2.6"/><line x1="139.02" y1="41.70" x2="139.02" y2="182.90" stroke="#262626" stroke-width="1.35" stroke-dasharray="1.4 2.6"/><line x1="154.14" y1="41.70" x2="154.14" y2="182.90" stroke="#262626" stroke-width="1.35" stroke-dasharray="1.4 2.6"/><line x1="199.50" y1="41.70" x2="199.50" y2="182.90" stroke="#262626" stroke-width="1.35" stroke-dasharray="1.4 2.6"/><path d="M40.70,39.00 L40.70,182.60 L229.70,182.60" fill="none" stroke="#6d6e71" stroke-width="1.1"/><line x1="40.70" y1="174.30" x2="42.90" y2="174.30" stroke="#6d6e71" stroke-width="1"/><text x="35.90" y="180.90" text-anchor="end" font-family='"Liberation Sans", sans-serif' font-size="12" fill="#231f20">0</text><line x1="40.70" y1="131.90" x2="42.90" y2="131.90" stroke="#6d6e71" stroke-width="1"/><text x="35.90" y="138.50" text-anchor="end" font-family='"Liberation Sans", sans-serif' font-size="12" fill="#231f20">5</text><line x1="40.70" y1="89.90" x2="42.90" y2="89.90" stroke="#6d6e71" stroke-width="1"/><text x="35.90" y="96.50" text-anchor="end" font-family='"Liberation Sans", sans-serif' font-size="12" fill="#231f20">10</text><line x1="40.70" y1="47.20" x2="42.90" y2="47.20" stroke="#6d6e71" stroke-width="1"/><text x="35.90" y="53.80" text-anchor="end" font-family='"Liberation Sans", sans-serif' font-size="12" fill="#231f20">15</text><line x1="48.30" y1="182.60" x2="48.30" y2="180.60" stroke="#262626" stroke-width="1"/><text x="48.50" y="193.60" text-anchor="middle" font-family='"Liberation Sans", sans-serif' font-size="12" fill="#231f20">0</text><line x1="78.54" y1="182.60" x2="78.54" y2="180.60" stroke="#262626" stroke-width="1"/><text x="77.94" y="193.60" text-anchor="middle" font-family='"Liberation Sans", sans-serif' font-size="12" fill="#231f20">1</text><line x1="139.02" y1="182.60" x2="139.02" y2="180.60" stroke="#262626" stroke-width="1"/><text x="139.22" y="193.60" text-anchor="middle" font-family='"Liberation Sans", sans-serif' font-size="12" fill="#231f20">3</text><line x1="199.50" y1="182.60" x2="199.50" y2="180.60" stroke="#262626" stroke-width="1"/><text x="199.70" y="193.60" text-anchor="middle" font-family='"Liberation Sans", sans-serif' font-size="12" fill="#231f20">5</text><text x="115.20" y="205.70" font-family='"Liberation Sans", sans-serif' font-size="12" fill="#231f20" textLength="40" lengthAdjust="spacingAndGlyphs">Time (s)</text><text x="94.50" y="35.80" font-family='"Liberation Sans", sans-serif' font-size="12" fill="#231f20" textLength="40.9" lengthAdjust="spacingAndGlyphs">8-14 Hz</text><text transform="translate(16.85,160.10) rotate(-90)" x="0" y="0" font-family='"Liberation Sans", sans-serif' font-size="12" fill="#231f20" textLength="61.4" lengthAdjust="spacingAndGlyphs">Power (dB)</text></g><clipPath id="clipA2"><rect x="40.7" y="226.0" width="190.0" height="147.39999999999998"/></clipPath><g><rect x="78.94" y="230.70" width="13.6" height="142.70" fill="#d6d6d6"/><rect x="139.42" y="230.70" width="13.6" height="142.70" fill="#d6d6d6"/><g clip-path="url(#clipA2)"><path d="M40.7,334.0 L41.7,332.9 L42.7,331.7 L43.7,330.5 L44.7,329.1 L45.7,327.7 L46.7,326.3 L47.7,324.9 L48.7,323.8 L49.7,322.8 L50.7,321.8 L51.7,320.9 L52.7,320.1 L53.7,319.2 L54.7,318.4 L55.7,317.6 L56.7,316.9 L57.7,316.1 L58.7,315.3 L59.7,314.5 L60.7,313.7 L61.7,313.0 L62.7,312.3 L63.7,311.6 L64.7,311.0 L65.7,310.4 L66.7,309.9 L67.7,309.4 L68.7,308.9 L69.7,308.4 L70.7,307.9 L71.7,307.4 L72.7,307.0 L73.7,306.6 L74.7,306.2 L75.7,305.9 L76.7,305.7 L77.7,305.6 L78.7,305.5 L79.7,305.6 L80.7,305.7 L81.7,305.9 L82.7,306.1 L83.7,306.3 L84.7,306.9 L85.7,307.6 L86.7,308.4 L87.7,309.2 L88.7,309.8 L89.7,310.1 L90.7,310.1 L91.7,309.9 L92.7,309.6 L93.7,309.4 L94.7,309.0 L95.7,308.6 L96.7,308.1 L97.7,307.6 L98.7,307.0 L99.7,306.5 L100.7,306.0 L101.7,305.6 L102.7,305.1 L103.7,304.6 L104.7,304.2 L105.7,303.7 L106.7,303.3 L107.7,302.9 L108.7,302.7 L109.7,302.5 L110.7,302.5 L111.7,302.5 L112.7,302.5 L113.7,302.5 L114.7,302.5 L115.7,302.4 L116.7,302.4 L117.7,302.4 L118.7,302.4 L119.7,302.4 L120.7,302.4 L121.7,302.4 L122.7,302.4 L123.7,302.4 L124.7,302.3 L125.7,302.3 L126.7,302.3 L127.7,302.2 L128.7,302.2 L129.7,302.1 L130.7,302.0 L131.7,301.9 L132.7,301.8 L133.7,301.7 L134.7,301.6 L135.7,301.4 L136.7,301.3 L137.7,301.1 L138.7,301.0 L139.7,300.7 L140.7,300.3 L141.7,299.6 L142.7,298.9 L143.7,298.2 L144.7,297.6 L145.7,297.2 L146.7,297.1 L147.7,297.4 L148.7,298.0 L149.7,298.8 L150.7,299.7 L151.7,300.5 L152.7,301.1 L153.7,301.4 L154.7,301.3 L155.7,301.3 L156.7,301.3 L157.7,301.2 L158.7,301.1 L159.7,301.1 L160.7,301.0 L161.7,300.9 L162.7,300.8 L163.7,300.7 L164.7,300.6 L165.7,300.5 L166.7,300.4 L167.7,300.3 L168.7,300.2 L169.7,300.1 L170.7,300.1 L171.7,300.0 L172.7,299.9 L173.7,299.9 L174.7,299.9 L175.7,299.8 L176.7,299.8 L177.7,299.9 L178.7,299.9 L179.7,299.9 L180.7,300.0 L181.7,300.1 L182.7,300.1 L183.7,300.2 L184.7,300.3 L185.7,300.5 L186.7,300.6 L187.7,300.7 L188.7,300.9 L189.7,301.0 L190.7,301.3 L191.7,301.6 L192.7,302.0 L193.7,302.3 L194.7,302.7 L195.7,303.0 L196.7,303.4 L197.7,303.7 L198.7,304.1 L199.7,304.5 L200.7,304.9 L201.7,305.4 L202.7,306.0 L203.7,306.6 L204.7,307.2 L205.7,307.9 L206.7,308.6 L207.7,309.4 L208.7,310.2 L209.7,311.0 L210.7,312.0 L211.7,313.0 L212.7,314.1 L213.7,315.2 L214.7,316.4 L215.7,317.7 L216.7,319.1 L217.7,320.6 L218.7,322.2 L219.7,323.9 L220.7,325.8 L221.7,327.7 L222.7,329.9 L223.7,332.4 L224.7,335.0 L225.7,337.7 L226.7,340.6 L227.7,343.7 L228.7,346.9 L229.6,350.0 L229.6,356.0 L228.7,353.3 L227.7,350.5 L226.7,347.8 L225.7,345.3 L224.7,343.0 L223.7,340.8 L222.7,338.8 L221.7,337.0 L220.7,335.4 L219.7,334.0 L218.7,332.6 L217.7,331.4 L216.7,330.4 L215.7,329.4 L214.7,328.5 L213.7,327.6 L212.7,326.7 L211.7,325.9 L210.7,325.2 L209.7,324.5 L208.7,323.9 L207.7,323.4 L206.7,323.0 L205.7,322.5 L204.7,322.1 L203.7,321.7 L202.7,321.4 L201.7,321.1 L200.7,320.9 L199.7,320.8 L198.7,320.7 L197.7,320.6 L196.7,320.5 L195.7,320.4 L194.7,320.3 L193.7,320.3 L192.7,320.2 L191.7,320.2 L190.7,320.1 L189.7,320.0 L188.7,319.8 L187.7,319.7 L186.7,319.5 L185.7,319.4 L184.7,319.2 L183.7,319.1 L182.7,319.0 L181.7,318.9 L180.7,318.8 L179.7,318.7 L178.7,318.7 L177.7,318.6 L176.7,318.6 L175.7,318.6 L174.7,318.6 L173.7,318.6 L172.7,318.6 L171.7,318.6 L170.7,318.7 L169.7,318.7 L168.7,318.8 L167.7,318.9 L166.7,318.9 L165.7,319.0 L164.7,319.1 L163.7,319.2 L162.7,319.3 L161.7,319.3 L160.7,319.4 L159.7,319.5 L158.7,319.5 L157.7,319.6 L156.7,319.6 L155.7,319.6 L154.7,319.6 L153.7,319.6 L152.7,319.3 L151.7,318.7 L150.7,317.9 L149.7,317.0 L148.7,316.2 L147.7,315.6 L146.7,315.3 L145.7,315.4 L144.7,315.7 L143.7,316.3 L142.7,317.0 L141.7,317.7 L140.7,318.3 L139.7,318.7 L138.7,318.9 L137.7,319.1 L136.7,319.2 L135.7,319.3 L134.7,319.5 L133.7,319.6 L132.7,319.7 L131.7,319.7 L130.7,319.8 L129.7,319.9 L128.7,319.9 L127.7,320.0 L126.7,320.0 L125.7,320.0 L124.7,320.0 L123.7,320.0 L122.7,320.0 L121.7,320.0 L120.7,320.0 L119.7,320.0 L118.7,320.0 L117.7,320.0 L116.7,320.0 L115.7,320.0 L114.7,319.9 L113.7,319.9 L112.7,319.9 L111.7,319.9 L110.7,319.9 L109.7,319.9 L108.7,320.1 L107.7,320.3 L106.7,320.6 L105.7,321.0 L104.7,321.4 L103.7,321.9 L102.7,322.4 L101.7,322.8 L100.7,323.2 L99.7,323.7 L98.7,324.2 L97.7,324.7 L96.7,325.2 L95.7,325.7 L94.7,326.1 L93.7,326.5 L92.7,326.7 L91.7,326.9 L90.7,327.1 L89.7,327.1 L88.7,326.7 L87.7,326.1 L86.7,325.3 L85.7,324.5 L84.7,323.8 L83.7,323.2 L82.7,322.9 L81.7,322.7 L80.7,322.5 L79.7,322.4 L78.7,322.3 L77.7,322.3 L76.7,322.4 L75.7,322.6 L74.7,322.9 L73.7,323.2 L72.7,323.6 L71.7,324.0 L70.7,324.5 L69.7,325.0 L68.7,325.5 L67.7,325.9 L66.7,326.4 L65.7,326.9 L64.7,327.5 L63.7,328.1 L62.7,328.7 L61.7,329.4 L60.7,330.1 L59.7,330.9 L58.7,331.6 L57.7,332.4 L56.7,333.2 L55.7,333.9 L54.7,334.7 L53.7,335.5 L52.7,336.3 L51.7,337.1 L50.7,338.0 L49.7,339.0 L48.7,340.0 L47.7,341.1 L46.7,342.4 L45.7,343.8 L44.7,345.2 L43.7,346.6 L42.7,347.8 L41.7,348.9 L40.7,350.0 Z" fill="#eff6fa" stroke="none"/><path d="M40.7,334.0 L41.7,332.9 L42.7,331.7 L43.7,330.5 L44.7,329.1 L45.7,327.7 L46.7,326.3 L47.7,324.9 L48.7,323.8 L49.7,322.8 L50.7,321.8 L51.7,320.9 L52.7,320.1 L53.7,319.2 L54.7,318.4 L55.7,317.6 L56.7,316.9 L57.7,316.1 L58.7,315.3 L59.7,314.5 L60.7,313.7 L61.7,313.0 L62.7,312.3 L63.7,311.6 L64.7,311.0 L65.7,310.4 L66.7,309.9 L67.7,309.4 L68.7,308.9 L69.7,308.4 L70.7,307.9 L71.7,307.4 L72.7,307.0 L73.7,306.6 L74.7,306.2 L75.7,305.9 L76.7,305.7 L77.7,305.6 L78.7,305.5 L79.7,305.6 L80.7,305.7 L81.7,305.9 L82.7,306.1 L83.7,306.3 L84.7,306.9 L85.7,307.6 L86.7,308.4 L87.7,309.2 L88.7,309.8 L89.7,310.1 L90.7,310.1 L91.7,309.9 L92.7,309.6 L93.7,309.4 L94.7,309.0 L95.7,308.6 L96.7,308.1 L97.7,307.6 L98.7,307.0 L99.7,306.5 L100.7,306.0 L101.7,305.6 L102.7,305.1 L103.7,304.6 L104.7,304.2 L105.7,303.7 L106.7,303.3 L107.7,302.9 L108.7,302.7 L109.7,302.5 L110.7,302.5 L111.7,302.5 L112.7,302.5 L113.7,302.5 L114.7,302.5 L115.7,302.4 L116.7,302.4 L117.7,302.4 L118.7,302.4 L119.7,302.4 L120.7,302.4 L121.7,302.4 L122.7,302.4 L123.7,302.4 L124.7,302.3 L125.7,302.3 L126.7,302.3 L127.7,302.2 L128.7,302.2 L129.7,302.1 L130.7,302.0 L131.7,301.9 L132.7,301.8 L133.7,301.7 L134.7,301.6 L135.7,301.4 L136.7,301.3 L137.7,301.1 L138.7,301.0 L139.7,300.7 L140.7,300.3 L141.7,299.6 L142.7,298.9 L143.7,298.2 L144.7,297.6 L145.7,297.2 L146.7,297.1 L147.7,297.4 L148.7,298.0 L149.7,298.8 L150.7,299.7 L151.7,300.5 L152.7,301.1 L153.7,301.4 L154.7,301.3 L155.7,301.3 L156.7,301.3 L157.7,301.2 L158.7,301.1 L159.7,301.1 L160.7,301.0 L161.7,300.9 L162.7,300.8 L163.7,300.7 L164.7,300.6 L165.7,300.5 L166.7,300.4 L167.7,300.3 L168.7,300.2 L169.7,300.1 L170.7,300.1 L171.7,300.0 L172.7,299.9 L173.7,299.9 L174.7,299.9 L175.7,299.8 L176.7,299.8 L177.7,299.9 L178.7,299.9 L179.7,299.9 L180.7,300.0 L181.7,300.1 L182.7,300.1 L183.7,300.2 L184.7,300.3 L185.7,300.5 L186.7,300.6 L187.7,300.7 L188.7,300.9 L189.7,301.0 L190.7,301.3 L191.7,301.6 L192.7,302.0 L193.7,302.3 L194.7,302.7 L195.7,303.0 L196.7,303.4 L197.7,303.7 L198.7,304.1 L199.7,304.5 L200.7,304.9 L201.7,305.4 L202.7,306.0 L203.7,306.6 L204.7,307.2 L205.7,307.9 L206.7,308.6 L207.7,309.4 L208.7,310.2 L209.7,311.0 L210.7,312.0 L211.7,313.0 L212.7,314.1 L213.7,315.2 L214.7,316.4 L215.7,317.7 L216.7,319.1 L217.7,320.6 L218.7,322.2 L219.7,323.9 L220.7,325.8 L221.7,327.7 L222.7,329.9 L223.7,332.4 L224.7,335.0 L225.7,337.7 L226.7,340.6 L227.7,343.7 L228.7,346.9 L229.6,350.0" fill="none" stroke="#a9d5e5" stroke-width="0.95"/><path d="M40.7,350.0 L41.7,348.9 L42.7,347.8 L43.7,346.6 L44.7,345.2 L45.7,343.8 L46.7,342.4 L47.7,341.1 L48.7,340.0 L49.7,339.0 L50.7,338.0 L51.7,337.1 L52.7,336.3 L53.7,335.5 L54.7,334.7 L55.7,333.9 L56.7,333.2 L57.7,332.4 L58.7,331.6 L59.7,330.9 L60.7,330.1 L61.7,329.4 L62.7,328.7 L63.7,328.1 L64.7,327.5 L65.7,326.9 L66.7,326.4 L67.7,325.9 L68.7,325.5 L69.7,325.0 L70.7,324.5 L71.7,324.0 L72.7,323.6 L73.7,323.2 L74.7,322.9 L75.7,322.6 L76.7,322.4 L77.7,322.3 L78.7,322.3 L79.7,322.4 L80.7,322.5 L81.7,322.7 L82.7,322.9 L83.7,323.2 L84.7,323.8 L85.7,324.5 L86.7,325.3 L87.7,326.1 L88.7,326.7 L89.7,327.1 L90.7,327.1 L91.7,326.9 L92.7,326.7 L93.7,326.5 L94.7,326.1 L95.7,325.7 L96.7,325.2 L97.7,324.7 L98.7,324.2 L99.7,323.7 L100.7,323.2 L101.7,322.8 L102.7,322.4 L103.7,321.9 L104.7,321.4 L105.7,321.0 L106.7,320.6 L107.7,320.3 L108.7,320.1 L109.7,319.9 L110.7,319.9 L111.7,319.9 L112.7,319.9 L113.7,319.9 L114.7,319.9 L115.7,320.0 L116.7,320.0 L117.7,320.0 L118.7,320.0 L119.7,320.0 L120.7,320.0 L121.7,320.0 L122.7,320.0 L123.7,320.0 L124.7,320.0 L125.7,320.0 L126.7,320.0 L127.7,320.0 L128.7,319.9 L129.7,319.9 L130.7,319.8 L131.7,319.7 L132.7,319.7 L133.7,319.6 L134.7,319.5 L135.7,319.3 L136.7,319.2 L137.7,319.1 L138.7,318.9 L139.7,318.7 L140.7,318.3 L141.7,317.7 L142.7,317.0 L143.7,316.3 L144.7,315.7 L145.7,315.4 L146.7,315.3 L147.7,315.6 L148.7,316.2 L149.7,317.0 L150.7,317.9 L151.7,318.7 L152.7,319.3 L153.7,319.6 L154.7,319.6 L155.7,319.6 L156.7,319.6 L157.7,319.6 L158.7,319.5 L159.7,319.5 L160.7,319.4 L161.7,319.3 L162.7,319.3 L163.7,319.2 L164.7,319.1 L165.7,319.0 L166.7,318.9 L167.7,318.9 L168.7,318.8 L169.7,318.7 L170.7,318.7 L171.7,318.6 L172.7,318.6 L173.7,318.6 L174.7,318.6 L175.7,318.6 L176.7,318.6 L177.7,318.6 L178.7,318.7 L179.7,318.7 L180.7,318.8 L181.7,318.9 L182.7,319.0 L183.7,319.1 L184.7,319.2 L185.7,319.4 L186.7,319.5 L187.7,319.7 L188.7,319.8 L189.7,320.0 L190.7,320.1 L191.7,320.2 L192.7,320.2 L193.7,320.3 L194.7,320.3 L195.7,320.4 L196.7,320.5 L197.7,320.6 L198.7,320.7 L199.7,320.8 L200.7,320.9 L201.7,321.1 L202.7,321.4 L203.7,321.7 L204.7,322.1 L205.7,322.5 L206.7,323.0 L207.7,323.4 L208.7,323.9 L209.7,324.5 L210.7,325.2 L211.7,325.9 L212.7,326.7 L213.7,327.6 L214.7,328.5 L215.7,329.4 L216.7,330.4 L217.7,331.4 L218.7,332.6 L219.7,334.0 L220.7,335.4 L221.7,337.0 L222.7,338.8 L223.7,340.8 L224.7,343.0 L225.7,345.3 L226.7,347.8 L227.7,350.5 L228.7,353.3 L229.6,356.0" fill="none" stroke="#a9d5e5" stroke-width="0.8"/><path d="M40.7,322.0 L41.7,320.0 L42.7,318.3 L43.7,316.6 L44.7,315.1 L45.7,313.9 L46.7,312.9 L47.7,312.4 L48.7,312.4 L49.7,313.0 L50.7,313.1 L51.7,312.5 L52.7,311.7 L53.7,310.8 L54.7,310.2 L55.7,310.0 L56.7,309.8 L57.7,309.6 L58.7,309.4 L59.7,309.3 L60.7,309.2 L61.7,309.2 L62.7,309.3 L63.7,309.3 L64.7,309.4 L65.7,309.6 L66.7,309.7 L67.7,309.8 L68.7,309.9 L69.7,310.1 L70.7,310.2 L71.7,310.3 L72.7,310.4 L73.7,310.6 L74.7,310.7 L75.7,310.8 L76.7,311.0 L77.7,311.2 L78.7,311.4 L79.7,311.7 L80.7,312.0 L81.7,312.5 L82.7,312.9 L83.7,313.3 L84.7,313.6 L85.7,313.7 L86.7,313.7 L87.7,313.5 L88.7,313.1 L89.7,312.7 L90.7,312.4 L91.7,312.0 L92.7,311.8 L93.7,311.8 L94.7,311.8 L95.7,311.9 L96.7,312.1 L97.7,312.2 L98.7,312.4 L99.7,312.6 L100.7,312.8 L101.7,313.0 L102.7,313.2 L103.7,313.4 L104.7,313.6 L105.7,313.8 L106.7,314.0 L107.7,314.1 L108.7,314.3 L109.7,314.4 L110.7,314.6 L111.7,314.7 L112.7,314.8 L113.7,314.9 L114.7,315.0 L115.7,315.1 L116.7,315.2 L117.7,315.4 L118.7,315.5 L119.7,315.6 L120.7,315.8 L121.7,316.0 L122.7,316.2 L123.7,316.4 L124.7,316.7 L125.7,317.0 L126.7,317.4 L127.7,317.9 L128.7,318.4 L129.7,319.0 L130.7,319.6 L131.7,320.3 L132.7,321.0 L133.7,321.8 L134.7,322.6 L135.7,323.5 L136.7,324.6 L137.7,325.9 L138.7,327.2 L139.7,328.3 L140.7,329.8 L141.7,331.4 L142.7,332.9 L143.7,334.4 L144.7,335.8 L145.7,337.0 L146.7,337.8 L147.7,338.3 L148.7,338.2 L149.7,337.7 L150.7,337.0 L151.7,336.2 L152.7,335.3 L153.7,334.4 L154.7,333.5 L155.7,332.3 L156.7,331.2 L157.7,330.3 L158.7,329.9 L159.7,329.7 L160.7,329.6 L161.7,329.5 L162.7,329.4 L163.7,329.4 L164.7,329.3 L165.7,329.2 L166.7,329.1 L167.7,328.9 L168.7,328.6 L169.7,328.3 L170.7,327.8 L171.7,327.2 L172.7,326.6 L173.7,326.0 L174.7,325.4 L175.7,324.7 L176.7,324.1 L177.7,323.5 L178.7,322.9 L179.7,322.5 L180.7,322.0 L181.7,321.6 L182.7,321.1 L183.7,320.6 L184.7,320.2 L185.7,319.7 L186.7,319.3 L187.7,319.0 L188.7,318.6 L189.7,318.4 L190.7,318.2 L191.7,318.1 L192.7,318.1 L193.7,318.1 L194.7,318.1 L195.7,318.2 L196.7,318.3 L197.7,318.3 L198.7,318.4 L199.7,318.5 L200.7,318.7 L201.7,319.0 L202.7,319.4 L203.7,319.8 L204.7,320.3 L205.7,320.9 L206.7,321.4 L207.7,322.0 L208.7,322.7 L209.7,323.7 L210.7,324.9 L211.7,326.1 L212.7,327.1 L213.7,327.8 L214.7,328.1 L215.7,327.7 L216.7,326.9 L217.7,325.8 L218.7,324.6 L219.7,323.2 L220.7,321.0 L221.7,318.5 L222.7,315.9 L223.7,313.3 L224.7,311.1 L225.7,309.5 L226.7,308.7 L227.7,308.7 L228.7,308.8 L229.6,309.3 L229.6,324.3 L228.7,323.8 L227.7,323.5 L226.7,323.5 L225.7,324.2 L224.7,325.7 L223.7,327.9 L222.7,330.4 L221.7,332.9 L220.7,335.4 L219.7,337.4 L218.7,338.8 L217.7,339.9 L216.7,340.9 L215.7,341.7 L214.7,341.9 L213.7,341.6 L212.7,340.8 L211.7,339.7 L210.7,338.5 L209.7,337.2 L208.7,336.1 L207.7,335.4 L206.7,334.7 L205.7,334.1 L204.7,333.4 L203.7,332.9 L202.7,332.3 L201.7,331.9 L200.7,331.5 L199.7,331.3 L198.7,331.1 L197.7,330.9 L196.7,330.8 L195.7,330.6 L194.7,330.5 L193.7,330.4 L192.7,330.3 L191.7,330.3 L190.7,330.3 L189.7,330.4 L188.7,330.6 L187.7,330.8 L186.7,331.1 L185.7,331.5 L184.7,331.8 L183.7,332.2 L182.7,332.7 L181.7,333.1 L180.7,333.5 L179.7,333.9 L178.7,334.3 L177.7,334.7 L176.7,335.3 L175.7,335.9 L174.7,336.5 L173.7,337.0 L172.7,337.6 L171.7,338.2 L170.7,338.7 L169.7,339.1 L168.7,339.4 L167.7,339.6 L166.7,339.7 L165.7,339.8 L164.7,339.8 L163.7,339.8 L162.7,339.8 L161.7,339.9 L160.7,339.9 L159.7,340.0 L158.7,340.1 L157.7,340.4 L156.7,341.2 L155.7,342.3 L154.7,343.2 L153.7,343.9 L152.7,344.5 L151.7,345.1 L150.7,345.7 L149.7,346.1 L148.7,346.4 L147.7,346.5 L146.7,346.5 L145.7,346.1 L144.7,345.5 L143.7,344.6 L142.7,343.6 L141.7,342.5 L140.7,341.4 L139.7,340.3 L138.7,339.2 L137.7,338.0 L136.7,336.8 L135.7,335.6 L134.7,334.8 L133.7,334.0 L132.7,333.3 L131.7,332.6 L130.7,331.9 L129.7,331.3 L128.7,330.8 L127.7,330.3 L126.7,329.9 L125.7,329.5 L124.7,329.2 L123.7,329.0 L122.7,328.8 L121.7,328.6 L120.7,328.5 L119.7,328.4 L118.7,328.2 L117.7,328.1 L116.7,328.1 L115.7,328.0 L114.7,327.9 L113.7,327.8 L112.7,327.7 L111.7,327.7 L110.7,327.6 L109.7,327.5 L108.7,327.4 L107.7,327.3 L106.7,327.2 L105.7,327.0 L104.7,326.8 L103.7,326.7 L102.7,326.5 L101.7,326.3 L100.7,326.1 L99.7,326.0 L98.7,325.8 L97.7,325.7 L96.7,325.6 L95.7,325.5 L94.7,325.4 L93.7,325.4 L92.7,325.5 L91.7,325.7 L90.7,326.1 L89.7,326.5 L88.7,326.9 L87.7,327.3 L86.7,327.6 L85.7,327.6 L84.7,327.5 L83.7,327.3 L82.7,326.9 L81.7,326.5 L80.7,326.1 L79.7,325.8 L78.7,325.5 L77.7,325.4 L76.7,325.2 L75.7,325.1 L74.7,325.0 L73.7,324.9 L72.7,324.8 L71.7,324.7 L70.7,324.6 L69.7,324.5 L68.7,324.4 L67.7,324.3 L66.7,324.2 L65.7,324.2 L64.7,324.1 L63.7,324.0 L62.7,324.0 L61.7,324.0 L60.7,324.0 L59.7,324.2 L58.7,324.4 L57.7,324.7 L56.7,325.1 L55.7,325.5 L54.7,325.9 L53.7,326.7 L52.7,327.7 L51.7,328.7 L50.7,329.4 L49.7,329.6 L48.7,329.1 L47.7,329.3 L46.7,329.9 L45.7,331.0 L44.7,332.5 L43.7,334.1 L42.7,335.9 L41.7,337.8 L40.7,340.0 Z" fill="#f5e9f2" stroke="none"/><path d="M40.7,322.0 L41.7,320.0 L42.7,318.3 L43.7,316.6 L44.7,315.1 L45.7,313.9 L46.7,312.9 L47.7,312.4 L48.7,312.4 L49.7,313.0 L50.7,313.1 L51.7,312.5 L52.7,311.7 L53.7,310.8 L54.7,310.2 L55.7,310.0 L56.7,309.8 L57.7,309.6 L58.7,309.4 L59.7,309.3 L60.7,309.2 L61.7,309.2 L62.7,309.3 L63.7,309.3 L64.7,309.4 L65.7,309.6 L66.7,309.7 L67.7,309.8 L68.7,309.9 L69.7,310.1 L70.7,310.2 L71.7,310.3 L72.7,310.4 L73.7,310.6 L74.7,310.7 L75.7,310.8 L76.7,311.0 L77.7,311.2 L78.7,311.4 L79.7,311.7 L80.7,312.0 L81.7,312.5 L82.7,312.9 L83.7,313.3 L84.7,313.6 L85.7,313.7 L86.7,313.7 L87.7,313.5 L88.7,313.1 L89.7,312.7 L90.7,312.4 L91.7,312.0 L92.7,311.8 L93.7,311.8 L94.7,311.8 L95.7,311.9 L96.7,312.1 L97.7,312.2 L98.7,312.4 L99.7,312.6 L100.7,312.8 L101.7,313.0 L102.7,313.2 L103.7,313.4 L104.7,313.6 L105.7,313.8 L106.7,314.0 L107.7,314.1 L108.7,314.3 L109.7,314.4 L110.7,314.6 L111.7,314.7 L112.7,314.8 L113.7,314.9 L114.7,315.0 L115.7,315.1 L116.7,315.2 L117.7,315.4 L118.7,315.5 L119.7,315.6 L120.7,315.8 L121.7,316.0 L122.7,316.2 L123.7,316.4 L124.7,316.7 L125.7,317.0 L126.7,317.4 L127.7,317.9 L128.7,318.4 L129.7,319.0 L130.7,319.6 L131.7,320.3 L132.7,321.0 L133.7,321.8 L134.7,322.6 L135.7,323.5 L136.7,324.6 L137.7,325.9 L138.7,327.2 L139.7,328.3 L140.7,329.8 L141.7,331.4 L142.7,332.9 L143.7,334.4 L144.7,335.8 L145.7,337.0 L146.7,337.8 L147.7,338.3 L148.7,338.2 L149.7,337.7 L150.7,337.0 L151.7,336.2 L152.7,335.3 L153.7,334.4 L154.7,333.5 L155.7,332.3 L156.7,331.2 L157.7,330.3 L158.7,329.9 L159.7,329.7 L160.7,329.6 L161.7,329.5 L162.7,329.4 L163.7,329.4 L164.7,329.3 L165.7,329.2 L166.7,329.1 L167.7,328.9 L168.7,328.6 L169.7,328.3 L170.7,327.8 L171.7,327.2 L172.7,326.6 L173.7,326.0 L174.7,325.4 L175.7,324.7 L176.7,324.1 L177.7,323.5 L178.7,322.9 L179.7,322.5 L180.7,322.0 L181.7,321.6 L182.7,321.1 L183.7,320.6 L184.7,320.2 L185.7,319.7 L186.7,319.3 L187.7,319.0 L188.7,318.6 L189.7,318.4 L190.7,318.2 L191.7,318.1 L192.7,318.1 L193.7,318.1 L194.7,318.1 L195.7,318.2 L196.7,318.3 L197.7,318.3 L198.7,318.4 L199.7,318.5 L200.7,318.7 L201.7,319.0 L202.7,319.4 L203.7,319.8 L204.7,320.3 L205.7,320.9 L206.7,321.4 L207.7,322.0 L208.7,322.7 L209.7,323.7 L210.7,324.9 L211.7,326.1 L212.7,327.1 L213.7,327.8 L214.7,328.1 L215.7,327.7 L216.7,326.9 L217.7,325.8 L218.7,324.6 L219.7,323.2 L220.7,321.0 L221.7,318.5 L222.7,315.9 L223.7,313.3 L224.7,311.1 L225.7,309.5 L226.7,308.7 L227.7,308.7 L228.7,308.8 L229.6,309.3" fill="none" stroke="#d4a2d0" stroke-width="0.95"/><path d="M40.7,340.0 L41.7,337.8 L42.7,335.9 L43.7,334.1 L44.7,332.5 L45.7,331.0 L46.7,329.9 L47.7,329.3 L48.7,329.1 L49.7,329.6 L50.7,329.4 L51.7,328.7 L52.7,327.7 L53.7,326.7 L54.7,325.9 L55.7,325.5 L56.7,325.1 L57.7,324.7 L58.7,324.4 L59.7,324.2 L60.7,324.0 L61.7,324.0 L62.7,324.0 L63.7,324.0 L64.7,324.1 L65.7,324.2 L66.7,324.2 L67.7,324.3 L68.7,324.4 L69.7,324.5 L70.7,324.6 L71.7,324.7 L72.7,324.8 L73.7,324.9 L74.7,325.0 L75.7,325.1 L76.7,325.2 L77.7,325.4 L78.7,325.5 L79.7,325.8 L80.7,326.1 L81.7,326.5 L82.7,326.9 L83.7,327.3 L84.7,327.5 L85.7,327.6 L86.7,327.6 L87.7,327.3 L88.7,326.9 L89.7,326.5 L90.7,326.1 L91.7,325.7 L92.7,325.5 L93.7,325.4 L94.7,325.4 L95.7,325.5 L96.7,325.6 L97.7,325.7 L98.7,325.8 L99.7,326.0 L100.7,326.1 L101.7,326.3 L102.7,326.5 L103.7,326.7 L104.7,326.8 L105.7,327.0 L106.7,327.2 L107.7,327.3 L108.7,327.4 L109.7,327.5 L110.7,327.6 L111.7,327.7 L112.7,327.7 L113.7,327.8 L114.7,327.9 L115.7,328.0 L116.7,328.1 L117.7,328.1 L118.7,328.2 L119.7,328.4 L120.7,328.5 L121.7,328.6 L122.7,328.8 L123.7,329.0 L124.7,329.2 L125.7,329.5 L126.7,329.9 L127.7,330.3 L128.7,330.8 L129.7,331.3 L130.7,331.9 L131.7,332.6 L132.7,333.3 L133.7,334.0 L134.7,334.8 L135.7,335.6 L136.7,336.8 L137.7,338.0 L138.7,339.2 L139.7,340.3 L140.7,341.4 L141.7,342.5 L142.7,343.6 L143.7,344.6 L144.7,345.5 L145.7,346.1 L146.7,346.5 L147.7,346.5 L148.7,346.4 L149.7,346.1 L150.7,345.7 L151.7,345.1 L152.7,344.5 L153.7,343.9 L154.7,343.2 L155.7,342.3 L156.7,341.2 L157.7,340.4 L158.7,340.1 L159.7,340.0 L160.7,339.9 L161.7,339.9 L162.7,339.8 L163.7,339.8 L164.7,339.8 L165.7,339.8 L166.7,339.7 L167.7,339.6 L168.7,339.4 L169.7,339.1 L170.7,338.7 L171.7,338.2 L172.7,337.6 L173.7,337.0 L174.7,336.5 L175.7,335.9 L176.7,335.3 L177.7,334.7 L178.7,334.3 L179.7,333.9 L180.7,333.5 L181.7,333.1 L182.7,332.7 L183.7,332.2 L184.7,331.8 L185.7,331.5 L186.7,331.1 L187.7,330.8 L188.7,330.6 L189.7,330.4 L190.7,330.3 L191.7,330.3 L192.7,330.3 L193.7,330.4 L194.7,330.5 L195.7,330.6 L196.7,330.8 L197.7,330.9 L198.7,331.1 L199.7,331.3 L200.7,331.5 L201.7,331.9 L202.7,332.3 L203.7,332.9 L204.7,333.4 L205.7,334.1 L206.7,334.7 L207.7,335.4 L208.7,336.1 L209.7,337.2 L210.7,338.5 L211.7,339.7 L212.7,340.8 L213.7,341.6 L214.7,341.9 L215.7,341.7 L216.7,340.9 L217.7,339.9 L218.7,338.8 L219.7,337.4 L220.7,335.4 L221.7,332.9 L222.7,330.4 L223.7,327.9 L224.7,325.7 L225.7,324.2 L226.7,323.5 L227.7,323.5 L228.7,323.8 L229.6,324.3" fill="none" stroke="#d4a2d0" stroke-width="0.8"/><path d="M40.7,342.0 L41.7,340.9 L42.7,339.7 L43.7,338.5 L44.7,337.2 L45.7,335.7 L46.7,334.3 L47.7,333.0 L48.7,331.9 L49.7,330.9 L50.7,329.9 L51.7,329.0 L52.7,328.2 L53.7,327.4 L54.7,326.6 L55.7,325.8 L56.7,325.0 L57.7,324.2 L58.7,323.5 L59.7,322.7 L60.7,321.9 L61.7,321.2 L62.7,320.5 L63.7,319.9 L64.7,319.2 L65.7,318.7 L66.7,318.1 L67.7,317.7 L68.7,317.2 L69.7,316.7 L70.7,316.2 L71.7,315.7 L72.7,315.3 L73.7,314.9 L74.7,314.6 L75.7,314.3 L76.7,314.1 L77.7,313.9 L78.7,313.9 L79.7,314.0 L80.7,314.1 L81.7,314.3 L82.7,314.5 L83.7,314.8 L84.7,315.3 L85.7,316.1 L86.7,316.9 L87.7,317.7 L88.7,318.3 L89.7,318.6 L90.7,318.6 L91.7,318.4 L92.7,318.2 L93.7,317.9 L94.7,317.6 L95.7,317.2 L96.7,316.7 L97.7,316.1 L98.7,315.6 L99.7,315.1 L100.7,314.6 L101.7,314.2 L102.7,313.8 L103.7,313.3 L104.7,312.8 L105.7,312.4 L106.7,312.0 L107.7,311.6 L108.7,311.4 L109.7,311.2 L110.7,311.2 L111.7,311.2 L112.7,311.2 L113.7,311.2 L114.7,311.2 L115.7,311.2 L116.7,311.2 L117.7,311.2 L118.7,311.2 L119.7,311.2 L120.7,311.2 L121.7,311.2 L122.7,311.2 L123.7,311.2 L124.7,311.2 L125.7,311.2 L126.7,311.1 L127.7,311.1 L128.7,311.1 L129.7,311.0 L130.7,310.9 L131.7,310.8 L132.7,310.7 L133.7,310.6 L134.7,310.5 L135.7,310.4 L136.7,310.2 L137.7,310.1 L138.7,310.0 L139.7,309.7 L140.7,309.3 L141.7,308.7 L142.7,308.0 L143.7,307.3 L144.7,306.7 L145.7,306.3 L146.7,306.2 L147.7,306.5 L148.7,307.1 L149.7,307.9 L150.7,308.8 L151.7,309.6 L152.7,310.2 L153.7,310.5 L154.7,310.5 L155.7,310.5 L156.7,310.4 L157.7,310.4 L158.7,310.3 L159.7,310.3 L160.7,310.2 L161.7,310.1 L162.7,310.0 L163.7,309.9 L164.7,309.8 L165.7,309.8 L166.7,309.7 L167.7,309.6 L168.7,309.5 L169.7,309.4 L170.7,309.4 L171.7,309.3 L172.7,309.3 L173.7,309.2 L174.7,309.2 L175.7,309.2 L176.7,309.2 L177.7,309.2 L178.7,309.3 L179.7,309.3 L180.7,309.4 L181.7,309.5 L182.7,309.6 L183.7,309.7 L184.7,309.8 L185.7,309.9 L186.7,310.1 L187.7,310.2 L188.7,310.4 L189.7,310.5 L190.7,310.7 L191.7,310.9 L192.7,311.1 L193.7,311.3 L194.7,311.5 L195.7,311.7 L196.7,311.9 L197.7,312.2 L198.7,312.4 L199.7,312.6 L200.7,312.9 L201.7,313.3 L202.7,313.7 L203.7,314.1 L204.7,314.7 L205.7,315.2 L206.7,315.8 L207.7,316.4 L208.7,317.1 L209.7,317.8 L210.7,318.6 L211.7,319.5 L212.7,320.4 L213.7,321.4 L214.7,322.4 L215.7,323.5 L216.7,324.7 L217.7,326.0 L218.7,327.4 L219.7,328.9 L220.7,330.6 L221.7,332.4 L222.7,334.4 L223.7,336.6 L224.7,339.0 L225.7,341.5 L226.7,344.2 L227.7,347.1 L228.7,350.1 L229.6,353.0" fill="none" stroke="#66b3cf" stroke-width="1.5" stroke-linejoin="round"/><path d="M40.7,331.0 L41.7,328.9 L42.7,327.1 L43.7,325.4 L44.7,323.8 L45.7,322.5 L46.7,321.4 L47.7,320.8 L48.7,320.8 L49.7,321.3 L50.7,321.3 L51.7,320.6 L52.7,319.7 L53.7,318.8 L54.7,318.1 L55.7,317.7 L56.7,317.4 L57.7,317.2 L58.7,316.9 L59.7,316.7 L60.7,316.6 L61.7,316.6 L62.7,316.6 L63.7,316.7 L64.7,316.8 L65.7,316.9 L66.7,317.0 L67.7,317.1 L68.7,317.2 L69.7,317.3 L70.7,317.4 L71.7,317.5 L72.7,317.6 L73.7,317.7 L74.7,317.8 L75.7,318.0 L76.7,318.1 L77.7,318.3 L78.7,318.4 L79.7,318.7 L80.7,319.1 L81.7,319.5 L82.7,319.9 L83.7,320.3 L84.7,320.6 L85.7,320.7 L86.7,320.6 L87.7,320.4 L88.7,320.0 L89.7,319.6 L90.7,319.2 L91.7,318.9 L92.7,318.7 L93.7,318.6 L94.7,318.6 L95.7,318.7 L96.7,318.8 L97.7,318.9 L98.7,319.1 L99.7,319.3 L100.7,319.4 L101.7,319.6 L102.7,319.8 L103.7,320.0 L104.7,320.2 L105.7,320.4 L106.7,320.6 L107.7,320.7 L108.7,320.8 L109.7,321.0 L110.7,321.1 L111.7,321.2 L112.7,321.3 L113.7,321.4 L114.7,321.5 L115.7,321.5 L116.7,321.6 L117.7,321.8 L118.7,321.9 L119.7,322.0 L120.7,322.1 L121.7,322.3 L122.7,322.5 L123.7,322.7 L124.7,322.9 L125.7,323.2 L126.7,323.6 L127.7,324.1 L128.7,324.6 L129.7,325.2 L130.7,325.8 L131.7,326.4 L132.7,327.1 L133.7,327.9 L134.7,328.7 L135.7,329.5 L136.7,330.7 L137.7,332.0 L138.7,333.2 L139.7,334.3 L140.7,335.6 L141.7,336.9 L142.7,338.3 L143.7,339.5 L144.7,340.6 L145.7,341.5 L146.7,342.1 L147.7,342.4 L148.7,342.3 L149.7,341.9 L150.7,341.3 L151.7,340.6 L152.7,339.9 L153.7,339.1 L154.7,338.3 L155.7,337.3 L156.7,336.2 L157.7,335.4 L158.7,335.0 L159.7,334.9 L160.7,334.8 L161.7,334.7 L162.7,334.6 L163.7,334.6 L164.7,334.5 L165.7,334.5 L166.7,334.4 L167.7,334.3 L168.7,334.0 L169.7,333.7 L170.7,333.2 L171.7,332.7 L172.7,332.1 L173.7,331.5 L174.7,330.9 L175.7,330.3 L176.7,329.7 L177.7,329.1 L178.7,328.6 L179.7,328.2 L180.7,327.7 L181.7,327.3 L182.7,326.9 L183.7,326.4 L184.7,326.0 L185.7,325.6 L186.7,325.2 L187.7,324.9 L188.7,324.6 L189.7,324.4 L190.7,324.3 L191.7,324.2 L192.7,324.2 L193.7,324.3 L194.7,324.3 L195.7,324.4 L196.7,324.5 L197.7,324.6 L198.7,324.8 L199.7,324.9 L200.7,325.1 L201.7,325.5 L202.7,325.9 L203.7,326.3 L204.7,326.9 L205.7,327.5 L206.7,328.1 L207.7,328.7 L208.7,329.4 L209.7,330.5 L210.7,331.7 L211.7,332.9 L212.7,334.0 L213.7,334.7 L214.7,335.0 L215.7,334.7 L216.7,333.9 L217.7,332.9 L218.7,331.7 L219.7,330.3 L220.7,328.2 L221.7,325.7 L222.7,323.1 L223.7,320.6 L224.7,318.4 L225.7,316.9 L226.7,316.1 L227.7,316.1 L228.7,316.3 L229.6,316.8" fill="none" stroke="#8e318f" stroke-width="1.5" stroke-linejoin="round"/></g><line x1="48.30" y1="231.90" x2="48.30" y2="373.70" stroke="#262626" stroke-width="1.35" stroke-dasharray="1.4 2.6"/><line x1="78.54" y1="231.90" x2="78.54" y2="373.70" stroke="#262626" stroke-width="1.35" stroke-dasharray="1.4 2.6"/><line x1="93.66" y1="231.90" x2="93.66" y2="373.70" stroke="#262626" stroke-width="1.35" stroke-dasharray="1.4 2.6"/><line x1="139.02" y1="231.90" x2="139.02" y2="373.70" stroke="#262626" stroke-width="1.35" stroke-dasharray="1.4 2.6"/><line x1="154.14" y1="231.90" x2="154.14" y2="373.70" stroke="#262626" stroke-width="1.35" stroke-dasharray="1.4 2.6"/><line x1="199.50" y1="231.90" x2="199.50" y2="373.70" stroke="#262626" stroke-width="1.35" stroke-dasharray="1.4 2.6"/><path d="M40.70,229.00 L40.70,373.40 L229.70,373.40" fill="none" stroke="#6d6e71" stroke-width="1.1"/><line x1="40.70" y1="360.40" x2="42.90" y2="360.40" stroke="#6d6e71" stroke-width="1"/><text x="35.90" y="367.00" text-anchor="end" font-family='"Liberation Sans", sans-serif' font-size="12" fill="#231f20">0</text><line x1="40.70" y1="294.70" x2="42.90" y2="294.70" stroke="#6d6e71" stroke-width="1"/><text x="35.90" y="301.30" text-anchor="end" font-family='"Liberation Sans", sans-serif' font-size="12" fill="#231f20">5</text><line x1="40.70" y1="229.60" x2="42.90" y2="229.60" stroke="#6d6e71" stroke-width="1"/><text x="35.90" y="236.20" text-anchor="end" font-family='"Liberation Sans", sans-serif' font-size="12" fill="#231f20">10</text><line x1="48.30" y1="373.40" x2="48.30" y2="371.40" stroke="#262626" stroke-width="1"/><text x="48.50" y="384.10" text-anchor="middle" font-family='"Liberation Sans", sans-serif' font-size="12" fill="#231f20">0</text><line x1="78.54" y1="373.40" x2="78.54" y2="371.40" stroke="#262626" stroke-width="1"/><text x="77.94" y="384.10" text-anchor="middle" font-family='"Liberation Sans", sans-serif' font-size="12" fill="#231f20">1</text><line x1="139.02" y1="373.40" x2="139.02" y2="371.40" stroke="#262626" stroke-width="1"/><text x="139.22" y="384.10" text-anchor="middle" font-family='"Liberation Sans", sans-serif' font-size="12" fill="#231f20">3</text><line x1="199.50" y1="373.40" x2="199.50" y2="371.40" stroke="#262626" stroke-width="1"/><text x="199.70" y="384.10" text-anchor="middle" font-family='"Liberation Sans", sans-serif' font-size="12" fill="#231f20">5</text><text x="115.20" y="396.20" font-family='"Liberation Sans", sans-serif' font-size="12" fill="#231f20" textLength="40" lengthAdjust="spacingAndGlyphs">Time (s)</text><text x="92.25" y="225.20" font-family='"Liberation Sans", sans-serif' font-size="12" fill="#231f20" textLength="43.9" lengthAdjust="spacingAndGlyphs">16-32Hz</text><text transform="translate(16.85,350.10) rotate(-90)" x="0" y="0" font-family='"Liberation Sans", sans-serif' font-size="12" fill="#231f20" textLength="61.4" lengthAdjust="spacingAndGlyphs">Power (dB)</text></g><clipPath id="clipA3"><rect x="40.7" y="427.0" width="190.0" height="146.79999999999995"/></clipPath><g><rect x="78.94" y="430.90" width="13.6" height="142.90" fill="#d6d6d6"/><rect x="139.42" y="430.90" width="13.6" height="142.90" fill="#d6d6d6"/><g clip-path="url(#clipA3)"><path d="M40.7,470.5 L41.7,470.7 L42.7,470.9 L43.7,471.0 L44.7,471.1 L45.7,471.1 L46.7,471.1 L47.7,471.2 L48.7,471.2 L49.7,471.1 L50.7,470.8 L51.7,470.1 L52.7,469.1 L53.7,468.0 L54.7,467.0 L55.7,466.1 L56.7,465.4 L57.7,464.8 L58.7,464.2 L59.7,463.6 L60.7,463.1 L61.7,462.6 L62.7,462.4 L63.7,462.3 L64.7,462.4 L65.7,462.7 L66.7,463.1 L67.7,463.6 L68.7,464.1 L69.7,464.7 L70.7,465.1 L71.7,465.5 L72.7,465.7 L73.7,465.8 L74.7,465.9 L75.7,466.0 L76.7,466.1 L77.7,466.2 L78.7,466.3 L79.7,466.6 L80.7,467.0 L81.7,467.5 L82.7,468.0 L83.7,468.6 L84.7,469.1 L85.7,469.7 L86.7,470.1 L87.7,470.5 L88.7,470.8 L89.7,470.9 L90.7,470.9 L91.7,470.7 L92.7,470.4 L93.7,470.2 L94.7,470.0 L95.7,469.8 L96.7,469.6 L97.7,469.4 L98.7,469.2 L99.7,469.0 L100.7,468.8 L101.7,468.6 L102.7,468.4 L103.7,468.2 L104.7,468.0 L105.7,467.8 L106.7,467.6 L107.7,467.4 L108.7,467.2 L109.7,467.0 L110.7,466.8 L111.7,466.5 L112.7,466.3 L113.7,466.0 L114.7,465.8 L115.7,465.6 L116.7,465.4 L117.7,465.2 L118.7,465.0 L119.7,464.9 L120.7,464.8 L121.7,464.7 L122.7,464.7 L123.7,464.9 L124.7,465.2 L125.7,465.7 L126.7,466.3 L127.7,467.0 L128.7,467.7 L129.7,468.4 L130.7,469.1 L131.7,469.7 L132.7,470.2 L133.7,470.6 L134.7,470.7 L135.7,470.7 L136.7,470.7 L137.7,470.7 L138.7,470.6 L139.7,470.6 L140.7,470.5 L141.7,470.5 L142.7,470.5 L143.7,470.4 L144.7,470.4 L145.7,470.4 L146.7,470.4 L147.7,470.7 L148.7,471.1 L149.7,471.7 L150.7,472.3 L151.7,472.8 L152.7,473.3 L153.7,473.6 L154.7,473.6 L155.7,473.5 L156.7,473.2 L157.7,472.9 L158.7,472.4 L159.7,471.9 L160.7,471.4 L161.7,470.8 L162.7,470.2 L163.7,469.6 L164.7,469.0 L165.7,468.6 L166.7,468.1 L167.7,467.8 L168.7,467.6 L169.7,467.6 L170.7,467.5 L171.7,467.5 L172.7,467.5 L173.7,467.5 L174.7,467.5 L175.7,467.5 L176.7,467.5 L177.7,467.6 L178.7,467.7 L179.7,467.9 L180.7,468.2 L181.7,468.5 L182.7,468.9 L183.7,469.3 L184.7,469.7 L185.7,470.2 L186.7,470.7 L187.7,471.1 L188.7,471.6 L189.7,472.0 L190.7,472.4 L191.7,472.8 L192.7,473.1 L193.7,473.4 L194.7,473.6 L195.7,473.8 L196.7,474.1 L197.7,474.3 L198.7,474.5 L199.7,474.7 L200.7,474.9 L201.7,475.2 L202.7,475.5 L203.7,475.8 L204.7,476.1 L205.7,476.4 L206.7,476.8 L207.7,477.3 L208.7,478.0 L209.7,478.8 L210.7,479.9 L211.7,481.0 L212.7,482.1 L213.7,483.3 L214.7,484.4 L215.7,485.5 L216.7,486.6 L217.7,487.7 L218.7,488.8 L219.7,489.9 L220.7,491.0 L221.7,492.2 L222.7,493.5 L223.7,494.7 L224.7,496.0 L225.7,497.4 L226.7,498.9 L227.7,500.4 L228.7,501.9 L229.7,503.5 L229.9,503.8 L229.9,509.8 L229.7,509.5 L228.7,508.3 L227.7,507.0 L226.7,505.8 L225.7,504.6 L224.7,503.5 L223.7,502.5 L222.7,501.5 L221.7,500.6 L220.7,499.7 L219.7,498.8 L218.7,498.0 L217.7,497.2 L216.7,496.4 L215.7,495.6 L214.7,494.8 L213.7,494.0 L212.7,493.1 L211.7,492.2 L210.7,491.4 L209.7,490.6 L208.7,490.1 L207.7,489.6 L206.7,489.5 L205.7,489.4 L204.7,489.3 L203.7,489.3 L202.7,489.3 L201.7,489.3 L200.7,489.3 L199.7,489.3 L198.7,489.1 L197.7,488.8 L196.7,488.6 L195.7,488.4 L194.7,488.2 L193.7,487.9 L192.7,487.6 L191.7,487.3 L190.7,486.9 L189.7,486.5 L188.7,486.1 L187.7,485.6 L186.7,485.1 L185.7,484.6 L184.7,484.2 L183.7,483.7 L182.7,483.3 L181.7,482.9 L180.7,482.6 L179.7,482.3 L178.7,482.1 L177.7,481.9 L176.7,481.9 L175.7,481.9 L174.7,481.9 L173.7,481.9 L172.7,481.9 L171.7,481.9 L170.7,481.9 L169.7,481.8 L168.7,481.9 L167.7,482.1 L166.7,482.4 L165.7,482.8 L164.7,483.3 L163.7,483.8 L162.7,484.4 L161.7,485.0 L160.7,485.6 L159.7,486.1 L158.7,486.6 L157.7,487.1 L156.7,487.4 L155.7,487.7 L154.7,487.8 L153.7,487.7 L152.7,487.4 L151.7,486.9 L150.7,486.4 L149.7,485.8 L148.7,485.2 L147.7,484.8 L146.7,484.5 L145.7,484.4 L144.7,484.4 L143.7,484.5 L142.7,484.5 L141.7,484.5 L140.7,484.5 L139.7,484.6 L138.7,484.6 L137.7,484.6 L136.7,484.7 L135.7,484.7 L134.7,484.7 L133.7,484.5 L132.7,484.1 L131.7,483.6 L130.7,483.0 L129.7,482.3 L128.7,481.6 L127.7,480.9 L126.7,480.2 L125.7,479.6 L124.7,479.1 L123.7,478.7 L122.7,478.5 L121.7,478.5 L120.7,478.6 L119.7,478.7 L118.7,478.8 L117.7,478.9 L116.7,479.1 L115.7,479.3 L114.7,479.5 L113.7,479.8 L112.7,480.0 L111.7,480.3 L110.7,480.5 L109.7,480.7 L108.7,480.9 L107.7,481.1 L106.7,481.3 L105.7,481.5 L104.7,481.7 L103.7,481.8 L102.7,482.0 L101.7,482.2 L100.7,482.4 L99.7,482.6 L98.7,482.8 L97.7,482.9 L96.7,483.1 L95.7,483.3 L94.7,483.5 L93.7,483.7 L92.7,483.9 L91.7,484.2 L90.7,484.4 L89.7,484.4 L88.7,484.3 L87.7,484.0 L86.7,483.6 L85.7,483.1 L84.7,482.6 L83.7,482.0 L82.7,481.4 L81.7,480.9 L80.7,480.4 L79.7,480.0 L78.7,479.7 L77.7,479.6 L76.7,479.4 L75.7,479.3 L74.7,479.3 L73.7,479.1 L72.7,479.0 L71.7,478.8 L70.7,478.4 L69.7,478.0 L68.7,477.4 L67.7,476.9 L66.7,476.4 L65.7,475.9 L64.7,475.6 L63.7,475.5 L62.7,475.6 L61.7,475.8 L60.7,476.3 L59.7,476.8 L58.7,477.3 L57.7,478.0 L56.7,478.6 L55.7,479.2 L54.7,480.1 L53.7,481.1 L52.7,482.2 L51.7,483.2 L50.7,483.9 L49.7,484.2 L48.7,484.2 L47.7,484.2 L46.7,484.2 L45.7,484.2 L44.7,484.1 L43.7,484.0 L42.7,483.9 L41.7,483.7 L40.7,483.5 Z" fill="#eff6fa" stroke="none"/><path d="M40.7,470.5 L41.7,470.7 L42.7,470.9 L43.7,471.0 L44.7,471.1 L45.7,471.1 L46.7,471.1 L47.7,471.2 L48.7,471.2 L49.7,471.1 L50.7,470.8 L51.7,470.1 L52.7,469.1 L53.7,468.0 L54.7,467.0 L55.7,466.1 L56.7,465.4 L57.7,464.8 L58.7,464.2 L59.7,463.6 L60.7,463.1 L61.7,462.6 L62.7,462.4 L63.7,462.3 L64.7,462.4 L65.7,462.7 L66.7,463.1 L67.7,463.6 L68.7,464.1 L69.7,464.7 L70.7,465.1 L71.7,465.5 L72.7,465.7 L73.7,465.8 L74.7,465.9 L75.7,466.0 L76.7,466.1 L77.7,466.2 L78.7,466.3 L79.7,466.6 L80.7,467.0 L81.7,467.5 L82.7,468.0 L83.7,468.6 L84.7,469.1 L85.7,469.7 L86.7,470.1 L87.7,470.5 L88.7,470.8 L89.7,470.9 L90.7,470.9 L91.7,470.7 L92.7,470.4 L93.7,470.2 L94.7,470.0 L95.7,469.8 L96.7,469.6 L97.7,469.4 L98.7,469.2 L99.7,469.0 L100.7,468.8 L101.7,468.6 L102.7,468.4 L103.7,468.2 L104.7,468.0 L105.7,467.8 L106.7,467.6 L107.7,467.4 L108.7,467.2 L109.7,467.0 L110.7,466.8 L111.7,466.5 L112.7,466.3 L113.7,466.0 L114.7,465.8 L115.7,465.6 L116.7,465.4 L117.7,465.2 L118.7,465.0 L119.7,464.9 L120.7,464.8 L121.7,464.7 L122.7,464.7 L123.7,464.9 L124.7,465.2 L125.7,465.7 L126.7,466.3 L127.7,467.0 L128.7,467.7 L129.7,468.4 L130.7,469.1 L131.7,469.7 L132.7,470.2 L133.7,470.6 L134.7,470.7 L135.7,470.7 L136.7,470.7 L137.7,470.7 L138.7,470.6 L139.7,470.6 L140.7,470.5 L141.7,470.5 L142.7,470.5 L143.7,470.4 L144.7,470.4 L145.7,470.4 L146.7,470.4 L147.7,470.7 L148.7,471.1 L149.7,471.7 L150.7,472.3 L151.7,472.8 L152.7,473.3 L153.7,473.6 L154.7,473.6 L155.7,473.5 L156.7,473.2 L157.7,472.9 L158.7,472.4 L159.7,471.9 L160.7,471.4 L161.7,470.8 L162.7,470.2 L163.7,469.6 L164.7,469.0 L165.7,468.6 L166.7,468.1 L167.7,467.8 L168.7,467.6 L169.7,467.6 L170.7,467.5 L171.7,467.5 L172.7,467.5 L173.7,467.5 L174.7,467.5 L175.7,467.5 L176.7,467.5 L177.7,467.6 L178.7,467.7 L179.7,467.9 L180.7,468.2 L181.7,468.5 L182.7,468.9 L183.7,469.3 L184.7,469.7 L185.7,470.2 L186.7,470.7 L187.7,471.1 L188.7,471.6 L189.7,472.0 L190.7,472.4 L191.7,472.8 L192.7,473.1 L193.7,473.4 L194.7,473.6 L195.7,473.8 L196.7,474.1 L197.7,474.3 L198.7,474.5 L199.7,474.7 L200.7,474.9 L201.7,475.2 L202.7,475.5 L203.7,475.8 L204.7,476.1 L205.7,476.4 L206.7,476.8 L207.7,477.3 L208.7,478.0 L209.7,478.8 L210.7,479.9 L211.7,481.0 L212.7,482.1 L213.7,483.3 L214.7,484.4 L215.7,485.5 L216.7,486.6 L217.7,487.7 L218.7,488.8 L219.7,489.9 L220.7,491.0 L221.7,492.2 L222.7,493.5 L223.7,494.7 L224.7,496.0 L225.7,497.4 L226.7,498.9 L227.7,500.4 L228.7,501.9 L229.7,503.5 L229.9,503.8" fill="none" stroke="#a9d5e5" stroke-width="0.95"/><path d="M40.7,483.5 L41.7,483.7 L42.7,483.9 L43.7,484.0 L44.7,484.1 L45.7,484.2 L46.7,484.2 L47.7,484.2 L48.7,484.2 L49.7,484.2 L50.7,483.9 L51.7,483.2 L52.7,482.2 L53.7,481.1 L54.7,480.1 L55.7,479.2 L56.7,478.6 L57.7,478.0 L58.7,477.3 L59.7,476.8 L60.7,476.3 L61.7,475.8 L62.7,475.6 L63.7,475.5 L64.7,475.6 L65.7,475.9 L66.7,476.4 L67.7,476.9 L68.7,477.4 L69.7,478.0 L70.7,478.4 L71.7,478.8 L72.7,479.0 L73.7,479.1 L74.7,479.3 L75.7,479.3 L76.7,479.4 L77.7,479.6 L78.7,479.7 L79.7,480.0 L80.7,480.4 L81.7,480.9 L82.7,481.4 L83.7,482.0 L84.7,482.6 L85.7,483.1 L86.7,483.6 L87.7,484.0 L88.7,484.3 L89.7,484.4 L90.7,484.4 L91.7,484.2 L92.7,483.9 L93.7,483.7 L94.7,483.5 L95.7,483.3 L96.7,483.1 L97.7,482.9 L98.7,482.8 L99.7,482.6 L100.7,482.4 L101.7,482.2 L102.7,482.0 L103.7,481.8 L104.7,481.7 L105.7,481.5 L106.7,481.3 L107.7,481.1 L108.7,480.9 L109.7,480.7 L110.7,480.5 L111.7,480.3 L112.7,480.0 L113.7,479.8 L114.7,479.5 L115.7,479.3 L116.7,479.1 L117.7,478.9 L118.7,478.8 L119.7,478.7 L120.7,478.6 L121.7,478.5 L122.7,478.5 L123.7,478.7 L124.7,479.1 L125.7,479.6 L126.7,480.2 L127.7,480.9 L128.7,481.6 L129.7,482.3 L130.7,483.0 L131.7,483.6 L132.7,484.1 L133.7,484.5 L134.7,484.7 L135.7,484.7 L136.7,484.7 L137.7,484.6 L138.7,484.6 L139.7,484.6 L140.7,484.5 L141.7,484.5 L142.7,484.5 L143.7,484.5 L144.7,484.4 L145.7,484.4 L146.7,484.5 L147.7,484.8 L148.7,485.2 L149.7,485.8 L150.7,486.4 L151.7,486.9 L152.7,487.4 L153.7,487.7 L154.7,487.8 L155.7,487.7 L156.7,487.4 L157.7,487.1 L158.7,486.6 L159.7,486.1 L160.7,485.6 L161.7,485.0 L162.7,484.4 L163.7,483.8 L164.7,483.3 L165.7,482.8 L166.7,482.4 L167.7,482.1 L168.7,481.9 L169.7,481.8 L170.7,481.9 L171.7,481.9 L172.7,481.9 L173.7,481.9 L174.7,481.9 L175.7,481.9 L176.7,481.9 L177.7,481.9 L178.7,482.1 L179.7,482.3 L180.7,482.6 L181.7,482.9 L182.7,483.3 L183.7,483.7 L184.7,484.2 L185.7,484.6 L186.7,485.1 L187.7,485.6 L188.7,486.1 L189.7,486.5 L190.7,486.9 L191.7,487.3 L192.7,487.6 L193.7,487.9 L194.7,488.2 L195.7,488.4 L196.7,488.6 L197.7,488.8 L198.7,489.1 L199.7,489.3 L200.7,489.3 L201.7,489.3 L202.7,489.3 L203.7,489.3 L204.7,489.3 L205.7,489.4 L206.7,489.5 L207.7,489.6 L208.7,490.1 L209.7,490.6 L210.7,491.4 L211.7,492.2 L212.7,493.1 L213.7,494.0 L214.7,494.8 L215.7,495.6 L216.7,496.4 L217.7,497.2 L218.7,498.0 L219.7,498.8 L220.7,499.7 L221.7,500.6 L222.7,501.5 L223.7,502.5 L224.7,503.5 L225.7,504.6 L226.7,505.8 L227.7,507.0 L228.7,508.3 L229.7,509.5 L229.9,509.8" fill="none" stroke="#a9d5e5" stroke-width="0.8"/><path d="M40.7,464.0 L41.7,465.2 L42.7,466.5 L43.7,468.0 L44.7,469.9 L45.7,472.7 L46.7,477.5 L47.7,483.3 L48.7,489.1 L49.7,494.7 L50.7,495.5 L51.7,495.5 L52.7,495.6 L53.7,495.6 L54.7,495.7 L55.7,495.8 L56.7,496.1 L57.7,496.4 L58.7,496.9 L59.7,497.4 L60.7,498.0 L61.7,498.7 L62.7,499.3 L63.7,500.0 L64.7,500.7 L65.7,501.4 L66.7,502.0 L67.7,502.6 L68.7,503.3 L69.7,504.0 L70.7,504.6 L71.7,505.4 L72.7,506.1 L73.7,506.8 L74.7,507.6 L75.7,508.3 L76.7,509.1 L77.7,509.9 L78.7,510.9 L79.7,511.9 L80.7,513.0 L81.7,514.0 L82.7,514.9 L83.7,515.6 L84.7,516.1 L85.7,516.4 L86.7,516.4 L87.7,516.2 L88.7,516.0 L89.7,515.7 L90.7,515.3 L91.7,515.0 L92.7,514.7 L93.7,514.5 L94.7,514.3 L95.7,514.3 L96.7,514.4 L97.7,514.6 L98.7,514.9 L99.7,515.2 L100.7,515.6 L101.7,516.0 L102.7,516.4 L103.7,516.9 L104.7,517.3 L105.7,517.7 L106.7,518.1 L107.7,518.4 L108.7,518.7 L109.7,519.0 L110.7,519.2 L111.7,519.4 L112.7,519.7 L113.7,519.9 L114.7,520.1 L115.7,520.3 L116.7,520.5 L117.7,520.8 L118.7,521.0 L119.7,521.2 L120.7,521.5 L121.7,521.8 L122.7,522.1 L123.7,522.4 L124.7,522.7 L125.7,523.0 L126.7,523.3 L127.7,523.7 L128.7,524.0 L129.7,524.4 L130.7,524.8 L131.7,525.2 L132.7,525.7 L133.7,526.2 L134.7,526.7 L135.7,527.4 L136.7,528.1 L137.7,528.9 L138.7,530.3 L139.7,532.1 L140.7,533.9 L141.7,535.4 L142.7,536.4 L143.7,537.5 L144.7,538.5 L145.7,539.5 L146.7,540.3 L147.7,541.0 L148.7,541.5 L149.7,541.8 L150.7,541.7 L151.7,541.4 L152.7,540.8 L153.7,540.1 L154.7,539.5 L155.7,538.9 L156.7,538.1 L157.7,537.3 L158.7,536.5 L159.7,535.7 L160.7,535.0 L161.7,534.4 L162.7,533.9 L163.7,533.5 L164.7,533.2 L165.7,532.8 L166.7,532.5 L167.7,532.2 L168.7,531.9 L169.7,531.7 L170.7,531.4 L171.7,531.2 L172.7,531.0 L173.7,530.9 L174.7,530.8 L175.7,530.7 L176.7,530.7 L177.7,530.7 L178.7,530.8 L179.7,530.8 L180.7,530.9 L181.7,531.0 L182.7,531.2 L183.7,531.3 L184.7,531.5 L185.7,531.7 L186.7,531.9 L187.7,532.1 L188.7,532.4 L189.7,532.6 L190.7,532.9 L191.7,533.2 L192.7,533.7 L193.7,534.3 L194.7,534.9 L195.7,535.6 L196.7,536.4 L197.7,537.1 L198.7,537.8 L199.7,538.5 L200.7,539.2 L201.7,539.8 L202.7,540.5 L203.7,541.2 L204.7,541.9 L205.7,542.5 L206.7,543.1 L207.7,543.6 L208.7,544.1 L209.7,544.6 L210.7,545.1 L211.7,545.3 L212.7,545.3 L213.7,545.1 L214.7,544.6 L215.7,544.0 L216.7,543.3 L217.7,542.4 L218.7,541.3 L219.7,539.3 L220.7,536.7 L221.7,533.8 L222.7,531.1 L223.7,528.8 L224.7,526.9 L225.7,525.1 L226.7,523.4 L227.7,521.8 L228.7,520.3 L229.7,519.0 L229.9,518.7 L229.9,544.7 L229.7,544.9 L228.7,546.1 L227.7,547.3 L226.7,548.8 L225.7,550.3 L224.7,551.9 L223.7,553.6 L222.7,555.6 L221.7,558.2 L220.7,560.8 L219.7,563.3 L218.7,565.1 L217.7,566.0 L216.7,566.6 L215.7,567.2 L214.7,567.6 L213.7,567.8 L212.7,567.9 L211.7,567.7 L210.7,567.2 L209.7,566.6 L208.7,565.8 L207.7,565.1 L206.7,564.4 L205.7,563.6 L204.7,562.8 L203.7,562.0 L202.7,561.1 L201.7,560.2 L200.7,559.3 L199.7,558.5 L198.7,557.8 L197.7,557.1 L196.7,556.4 L195.7,555.6 L194.7,554.9 L193.7,554.3 L192.7,553.7 L191.7,553.2 L190.7,552.9 L189.7,552.6 L188.7,552.4 L187.7,552.1 L186.7,551.9 L185.7,551.7 L184.7,551.5 L183.7,551.3 L182.7,551.2 L181.7,551.0 L180.7,550.9 L179.7,550.8 L178.7,550.8 L177.7,550.7 L176.7,550.7 L175.7,550.7 L174.7,550.8 L173.7,550.9 L172.7,551.0 L171.7,551.2 L170.7,551.4 L169.7,551.7 L168.7,551.9 L167.7,552.2 L166.7,552.5 L165.7,552.8 L164.7,553.2 L163.7,553.5 L162.7,553.9 L161.7,554.4 L160.7,555.0 L159.7,555.7 L158.7,556.5 L157.7,557.3 L156.7,558.1 L155.7,558.9 L154.7,559.5 L153.7,560.1 L152.7,560.8 L151.7,561.4 L150.7,561.7 L149.7,561.8 L148.7,561.5 L147.7,561.0 L146.7,560.3 L145.7,559.5 L144.7,558.5 L143.7,557.5 L142.7,556.4 L141.7,555.4 L140.7,553.9 L139.7,552.1 L138.7,550.3 L137.7,548.9 L136.7,548.1 L135.7,547.4 L134.7,546.7 L133.7,546.2 L132.7,545.7 L131.7,545.2 L130.7,544.8 L129.7,544.4 L128.7,544.0 L127.7,543.7 L126.7,543.3 L125.7,543.0 L124.7,542.7 L123.7,542.4 L122.7,542.1 L121.7,541.8 L120.7,541.5 L119.7,541.2 L118.7,541.0 L117.7,540.8 L116.7,540.5 L115.7,540.3 L114.7,540.1 L113.7,539.9 L112.7,539.7 L111.7,539.4 L110.7,539.2 L109.7,539.0 L108.7,538.7 L107.7,538.4 L106.7,538.1 L105.7,537.7 L104.7,537.3 L103.7,536.9 L102.7,536.4 L101.7,536.0 L100.7,535.6 L99.7,535.2 L98.7,534.9 L97.7,534.6 L96.7,534.4 L95.7,534.3 L94.7,534.3 L93.7,534.5 L92.7,534.7 L91.7,535.0 L90.7,535.3 L89.7,535.7 L88.7,536.0 L87.7,536.2 L86.7,536.4 L85.7,536.4 L84.7,536.1 L83.7,535.6 L82.7,534.9 L81.7,534.0 L80.7,533.0 L79.7,531.9 L78.7,530.9 L77.7,529.9 L76.7,529.1 L75.7,528.3 L74.7,527.6 L73.7,526.8 L72.7,526.1 L71.7,525.4 L70.7,524.6 L69.7,524.0 L68.7,523.3 L67.7,522.6 L66.7,522.0 L65.7,521.4 L64.7,520.7 L63.7,520.0 L62.7,519.3 L61.7,518.7 L60.7,518.0 L59.7,517.4 L58.7,516.9 L57.7,516.4 L56.7,516.1 L55.7,515.8 L54.7,515.7 L53.7,515.6 L52.7,515.6 L51.7,515.5 L50.7,515.5 L49.7,514.5 L48.7,508.0 L47.7,501.3 L46.7,494.7 L45.7,489.0 L44.7,485.4 L43.7,482.6 L42.7,480.2 L41.7,478.0 L40.7,476.0 Z" fill="#f5e9f2" stroke="none"/><path d="M40.7,464.0 L41.7,465.2 L42.7,466.5 L43.7,468.0 L44.7,469.9 L45.7,472.7 L46.7,477.5 L47.7,483.3 L48.7,489.1 L49.7,494.7 L50.7,495.5 L51.7,495.5 L52.7,495.6 L53.7,495.6 L54.7,495.7 L55.7,495.8 L56.7,496.1 L57.7,496.4 L58.7,496.9 L59.7,497.4 L60.7,498.0 L61.7,498.7 L62.7,499.3 L63.7,500.0 L64.7,500.7 L65.7,501.4 L66.7,502.0 L67.7,502.6 L68.7,503.3 L69.7,504.0 L70.7,504.6 L71.7,505.4 L72.7,506.1 L73.7,506.8 L74.7,507.6 L75.7,508.3 L76.7,509.1 L77.7,509.9 L78.7,510.9 L79.7,511.9 L80.7,513.0 L81.7,514.0 L82.7,514.9 L83.7,515.6 L84.7,516.1 L85.7,516.4 L86.7,516.4 L87.7,516.2 L88.7,516.0 L89.7,515.7 L90.7,515.3 L91.7,515.0 L92.7,514.7 L93.7,514.5 L94.7,514.3 L95.7,514.3 L96.7,514.4 L97.7,514.6 L98.7,514.9 L99.7,515.2 L100.7,515.6 L101.7,516.0 L102.7,516.4 L103.7,516.9 L104.7,517.3 L105.7,517.7 L106.7,518.1 L107.7,518.4 L108.7,518.7 L109.7,519.0 L110.7,519.2 L111.7,519.4 L112.7,519.7 L113.7,519.9 L114.7,520.1 L115.7,520.3 L116.7,520.5 L117.7,520.8 L118.7,521.0 L119.7,521.2 L120.7,521.5 L121.7,521.8 L122.7,522.1 L123.7,522.4 L124.7,522.7 L125.7,523.0 L126.7,523.3 L127.7,523.7 L128.7,524.0 L129.7,524.4 L130.7,524.8 L131.7,525.2 L132.7,525.7 L133.7,526.2 L134.7,526.7 L135.7,527.4 L136.7,528.1 L137.7,528.9 L138.7,530.3 L139.7,532.1 L140.7,533.9 L141.7,535.4 L142.7,536.4 L143.7,537.5 L144.7,538.5 L145.7,539.5 L146.7,540.3 L147.7,541.0 L148.7,541.5 L149.7,541.8 L150.7,541.7 L151.7,541.4 L152.7,540.8 L153.7,540.1 L154.7,539.5 L155.7,538.9 L156.7,538.1 L157.7,537.3 L158.7,536.5 L159.7,535.7 L160.7,535.0 L161.7,534.4 L162.7,533.9 L163.7,533.5 L164.7,533.2 L165.7,532.8 L166.7,532.5 L167.7,532.2 L168.7,531.9 L169.7,531.7 L170.7,531.4 L171.7,531.2 L172.7,531.0 L173.7,530.9 L174.7,530.8 L175.7,530.7 L176.7,530.7 L177.7,530.7 L178.7,530.8 L179.7,530.8 L180.7,530.9 L181.7,531.0 L182.7,531.2 L183.7,531.3 L184.7,531.5 L185.7,531.7 L186.7,531.9 L187.7,532.1 L188.7,532.4 L189.7,532.6 L190.7,532.9 L191.7,533.2 L192.7,533.7 L193.7,534.3 L194.7,534.9 L195.7,535.6 L196.7,536.4 L197.7,537.1 L198.7,537.8 L199.7,538.5 L200.7,539.2 L201.7,539.8 L202.7,540.5 L203.7,541.2 L204.7,541.9 L205.7,542.5 L206.7,543.1 L207.7,543.6 L208.7,544.1 L209.7,544.6 L210.7,545.1 L211.7,545.3 L212.7,545.3 L213.7,545.1 L214.7,544.6 L215.7,544.0 L216.7,543.3 L217.7,542.4 L218.7,541.3 L219.7,539.3 L220.7,536.7 L221.7,533.8 L222.7,531.1 L223.7,528.8 L224.7,526.9 L225.7,525.1 L226.7,523.4 L227.7,521.8 L228.7,520.3 L229.7,519.0 L229.9,518.7" fill="none" stroke="#d4a2d0" stroke-width="0.95"/><path d="M40.7,476.0 L41.7,478.0 L42.7,480.2 L43.7,482.6 L44.7,485.4 L45.7,489.0 L46.7,494.7 L47.7,501.3 L48.7,508.0 L49.7,514.5 L50.7,515.5 L51.7,515.5 L52.7,515.6 L53.7,515.6 L54.7,515.7 L55.7,515.8 L56.7,516.1 L57.7,516.4 L58.7,516.9 L59.7,517.4 L60.7,518.0 L61.7,518.7 L62.7,519.3 L63.7,520.0 L64.7,520.7 L65.7,521.4 L66.7,522.0 L67.7,522.6 L68.7,523.3 L69.7,524.0 L70.7,524.6 L71.7,525.4 L72.7,526.1 L73.7,526.8 L74.7,527.6 L75.7,528.3 L76.7,529.1 L77.7,529.9 L78.7,530.9 L79.7,531.9 L80.7,533.0 L81.7,534.0 L82.7,534.9 L83.7,535.6 L84.7,536.1 L85.7,536.4 L86.7,536.4 L87.7,536.2 L88.7,536.0 L89.7,535.7 L90.7,535.3 L91.7,535.0 L92.7,534.7 L93.7,534.5 L94.7,534.3 L95.7,534.3 L96.7,534.4 L97.7,534.6 L98.7,534.9 L99.7,535.2 L100.7,535.6 L101.7,536.0 L102.7,536.4 L103.7,536.9 L104.7,537.3 L105.7,537.7 L106.7,538.1 L107.7,538.4 L108.7,538.7 L109.7,539.0 L110.7,539.2 L111.7,539.4 L112.7,539.7 L113.7,539.9 L114.7,540.1 L115.7,540.3 L116.7,540.5 L117.7,540.8 L118.7,541.0 L119.7,541.2 L120.7,541.5 L121.7,541.8 L122.7,542.1 L123.7,542.4 L124.7,542.7 L125.7,543.0 L126.7,543.3 L127.7,543.7 L128.7,544.0 L129.7,544.4 L130.7,544.8 L131.7,545.2 L132.7,545.7 L133.7,546.2 L134.7,546.7 L135.7,547.4 L136.7,548.1 L137.7,548.9 L138.7,550.3 L139.7,552.1 L140.7,553.9 L141.7,555.4 L142.7,556.4 L143.7,557.5 L144.7,558.5 L145.7,559.5 L146.7,560.3 L147.7,561.0 L148.7,561.5 L149.7,561.8 L150.7,561.7 L151.7,561.4 L152.7,560.8 L153.7,560.1 L154.7,559.5 L155.7,558.9 L156.7,558.1 L157.7,557.3 L158.7,556.5 L159.7,555.7 L160.7,555.0 L161.7,554.4 L162.7,553.9 L163.7,553.5 L164.7,553.2 L165.7,552.8 L166.7,552.5 L167.7,552.2 L168.7,551.9 L169.7,551.7 L170.7,551.4 L171.7,551.2 L172.7,551.0 L173.7,550.9 L174.7,550.8 L175.7,550.7 L176.7,550.7 L177.7,550.7 L178.7,550.8 L179.7,550.8 L180.7,550.9 L181.7,551.0 L182.7,551.2 L183.7,551.3 L184.7,551.5 L185.7,551.7 L186.7,551.9 L187.7,552.1 L188.7,552.4 L189.7,552.6 L190.7,552.9 L191.7,553.2 L192.7,553.7 L193.7,554.3 L194.7,554.9 L195.7,555.6 L196.7,556.4 L197.7,557.1 L198.7,557.8 L199.7,558.5 L200.7,559.3 L201.7,560.2 L202.7,561.1 L203.7,562.0 L204.7,562.8 L205.7,563.6 L206.7,564.4 L207.7,565.1 L208.7,565.8 L209.7,566.6 L210.7,567.2 L211.7,567.7 L212.7,567.9 L213.7,567.8 L214.7,567.6 L215.7,567.2 L216.7,566.6 L217.7,566.0 L218.7,565.1 L219.7,563.3 L220.7,560.8 L221.7,558.2 L222.7,555.6 L223.7,553.6 L224.7,551.9 L225.7,550.3 L226.7,548.8 L227.7,547.3 L228.7,546.1 L229.7,544.9 L229.9,544.7" fill="none" stroke="#d4a2d0" stroke-width="0.8"/><path d="M40.7,477.0 L41.7,477.2 L42.7,477.4 L43.7,477.5 L44.7,477.6 L45.7,477.6 L46.7,477.7 L47.7,477.7 L48.7,477.7 L49.7,477.7 L50.7,477.3 L51.7,476.6 L52.7,475.7 L53.7,474.6 L54.7,473.5 L55.7,472.6 L56.7,472.0 L57.7,471.4 L58.7,470.8 L59.7,470.2 L60.7,469.7 L61.7,469.2 L62.7,469.0 L63.7,468.9 L64.7,469.0 L65.7,469.3 L66.7,469.7 L67.7,470.3 L68.7,470.8 L69.7,471.3 L70.7,471.8 L71.7,472.1 L72.7,472.3 L73.7,472.5 L74.7,472.6 L75.7,472.7 L76.7,472.8 L77.7,472.9 L78.7,473.0 L79.7,473.3 L80.7,473.7 L81.7,474.2 L82.7,474.7 L83.7,475.3 L84.7,475.8 L85.7,476.4 L86.7,476.9 L87.7,477.3 L88.7,477.6 L89.7,477.7 L90.7,477.6 L91.7,477.4 L92.7,477.2 L93.7,476.9 L94.7,476.7 L95.7,476.5 L96.7,476.4 L97.7,476.2 L98.7,476.0 L99.7,475.8 L100.7,475.6 L101.7,475.4 L102.7,475.2 L103.7,475.0 L104.7,474.8 L105.7,474.7 L106.7,474.5 L107.7,474.3 L108.7,474.1 L109.7,473.9 L110.7,473.6 L111.7,473.4 L112.7,473.2 L113.7,472.9 L114.7,472.7 L115.7,472.4 L116.7,472.2 L117.7,472.1 L118.7,471.9 L119.7,471.8 L120.7,471.7 L121.7,471.6 L122.7,471.6 L123.7,471.8 L124.7,472.1 L125.7,472.6 L126.7,473.2 L127.7,473.9 L128.7,474.6 L129.7,475.4 L130.7,476.1 L131.7,476.7 L132.7,477.2 L133.7,477.5 L134.7,477.7 L135.7,477.7 L136.7,477.7 L137.7,477.7 L138.7,477.6 L139.7,477.6 L140.7,477.5 L141.7,477.5 L142.7,477.5 L143.7,477.4 L144.7,477.4 L145.7,477.4 L146.7,477.4 L147.7,477.7 L148.7,478.2 L149.7,478.7 L150.7,479.3 L151.7,479.9 L152.7,480.3 L153.7,480.6 L154.7,480.7 L155.7,480.6 L156.7,480.3 L157.7,480.0 L158.7,479.5 L159.7,479.0 L160.7,478.5 L161.7,477.9 L162.7,477.3 L163.7,476.7 L164.7,476.2 L165.7,475.7 L166.7,475.3 L167.7,475.0 L168.7,474.8 L169.7,474.7 L170.7,474.7 L171.7,474.7 L172.7,474.7 L173.7,474.7 L174.7,474.7 L175.7,474.7 L176.7,474.7 L177.7,474.8 L178.7,474.9 L179.7,475.1 L180.7,475.4 L181.7,475.7 L182.7,476.1 L183.7,476.5 L184.7,477.0 L185.7,477.4 L186.7,477.9 L187.7,478.4 L188.7,478.8 L189.7,479.3 L190.7,479.7 L191.7,480.0 L192.7,480.4 L193.7,480.6 L194.7,480.9 L195.7,481.1 L196.7,481.3 L197.7,481.6 L198.7,481.8 L199.7,482.0 L200.7,482.1 L201.7,482.3 L202.7,482.4 L203.7,482.5 L204.7,482.7 L205.7,482.9 L206.7,483.1 L207.7,483.5 L208.7,484.0 L209.7,484.7 L210.7,485.6 L211.7,486.6 L212.7,487.6 L213.7,488.6 L214.7,489.6 L215.7,490.6 L216.7,491.5 L217.7,492.4 L218.7,493.4 L219.7,494.4 L220.7,495.4 L221.7,496.4 L222.7,497.5 L223.7,498.6 L224.7,499.8 L225.7,501.0 L226.7,502.3 L227.7,503.7 L228.7,505.1 L229.7,506.5 L229.9,506.8" fill="none" stroke="#66b3cf" stroke-width="1.5" stroke-linejoin="round"/><path d="M40.7,470.0 L41.7,471.6 L42.7,473.3 L43.7,475.3 L44.7,477.7 L45.7,480.8 L46.7,486.1 L47.7,492.3 L48.7,498.5 L49.7,504.6 L50.7,505.5 L51.7,505.5 L52.7,505.6 L53.7,505.6 L54.7,505.7 L55.7,505.8 L56.7,506.1 L57.7,506.4 L58.7,506.9 L59.7,507.4 L60.7,508.0 L61.7,508.7 L62.7,509.3 L63.7,510.0 L64.7,510.7 L65.7,511.4 L66.7,512.0 L67.7,512.6 L68.7,513.3 L69.7,514.0 L70.7,514.6 L71.7,515.4 L72.7,516.1 L73.7,516.8 L74.7,517.6 L75.7,518.3 L76.7,519.1 L77.7,519.9 L78.7,520.9 L79.7,521.9 L80.7,523.0 L81.7,524.0 L82.7,524.9 L83.7,525.6 L84.7,526.1 L85.7,526.4 L86.7,526.4 L87.7,526.2 L88.7,526.0 L89.7,525.7 L90.7,525.3 L91.7,525.0 L92.7,524.7 L93.7,524.5 L94.7,524.3 L95.7,524.3 L96.7,524.4 L97.7,524.6 L98.7,524.9 L99.7,525.2 L100.7,525.6 L101.7,526.0 L102.7,526.4 L103.7,526.9 L104.7,527.3 L105.7,527.7 L106.7,528.1 L107.7,528.4 L108.7,528.7 L109.7,529.0 L110.7,529.2 L111.7,529.4 L112.7,529.7 L113.7,529.9 L114.7,530.1 L115.7,530.3 L116.7,530.5 L117.7,530.8 L118.7,531.0 L119.7,531.2 L120.7,531.5 L121.7,531.8 L122.7,532.1 L123.7,532.4 L124.7,532.7 L125.7,533.0 L126.7,533.3 L127.7,533.7 L128.7,534.0 L129.7,534.4 L130.7,534.8 L131.7,535.2 L132.7,535.7 L133.7,536.2 L134.7,536.7 L135.7,537.4 L136.7,538.1 L137.7,538.9 L138.7,540.3 L139.7,542.1 L140.7,543.9 L141.7,545.4 L142.7,546.4 L143.7,547.5 L144.7,548.5 L145.7,549.5 L146.7,550.3 L147.7,551.0 L148.7,551.5 L149.7,551.8 L150.7,551.7 L151.7,551.4 L152.7,550.8 L153.7,550.1 L154.7,549.5 L155.7,548.9 L156.7,548.1 L157.7,547.3 L158.7,546.5 L159.7,545.7 L160.7,545.0 L161.7,544.4 L162.7,543.9 L163.7,543.5 L164.7,543.2 L165.7,542.8 L166.7,542.5 L167.7,542.2 L168.7,541.9 L169.7,541.7 L170.7,541.4 L171.7,541.2 L172.7,541.0 L173.7,540.9 L174.7,540.8 L175.7,540.7 L176.7,540.7 L177.7,540.7 L178.7,540.8 L179.7,540.8 L180.7,540.9 L181.7,541.0 L182.7,541.2 L183.7,541.3 L184.7,541.5 L185.7,541.7 L186.7,541.9 L187.7,542.1 L188.7,542.4 L189.7,542.6 L190.7,542.9 L191.7,543.2 L192.7,543.7 L193.7,544.3 L194.7,544.9 L195.7,545.6 L196.7,546.4 L197.7,547.1 L198.7,547.8 L199.7,548.5 L200.7,549.2 L201.7,550.0 L202.7,550.8 L203.7,551.6 L204.7,552.4 L205.7,553.1 L206.7,553.7 L207.7,554.3 L208.7,555.0 L209.7,555.6 L210.7,556.1 L211.7,556.5 L212.7,556.6 L213.7,556.5 L214.7,556.1 L215.7,555.6 L216.7,555.0 L217.7,554.2 L218.7,553.2 L219.7,551.3 L220.7,548.8 L221.7,546.0 L222.7,543.4 L223.7,541.2 L224.7,539.4 L225.7,537.7 L226.7,536.1 L227.7,534.6 L228.7,533.2 L229.7,531.9 L229.9,531.7" fill="none" stroke="#8e318f" stroke-width="1.5" stroke-linejoin="round"/></g><line x1="48.30" y1="432.70" x2="48.30" y2="574.10" stroke="#262626" stroke-width="1.35" stroke-dasharray="1.4 2.6"/><line x1="78.54" y1="432.70" x2="78.54" y2="574.10" stroke="#262626" stroke-width="1.35" stroke-dasharray="1.4 2.6"/><line x1="93.66" y1="432.70" x2="93.66" y2="574.10" stroke="#262626" stroke-width="1.35" stroke-dasharray="1.4 2.6"/><line x1="139.02" y1="432.70" x2="139.02" y2="574.10" stroke="#262626" stroke-width="1.35" stroke-dasharray="1.4 2.6"/><line x1="154.14" y1="432.70" x2="154.14" y2="574.10" stroke="#262626" stroke-width="1.35" stroke-dasharray="1.4 2.6"/><line x1="199.50" y1="432.70" x2="199.50" y2="574.10" stroke="#262626" stroke-width="1.35" stroke-dasharray="1.4 2.6"/><path d="M40.70,430.00 L40.70,573.80 L229.70,573.80" fill="none" stroke="#6d6e71" stroke-width="1.1"/><line x1="40.70" y1="558.60" x2="42.90" y2="558.60" stroke="#6d6e71" stroke-width="1"/><text x="35.90" y="565.20" text-anchor="end" font-family='"Liberation Sans", sans-serif' font-size="12" fill="#231f20">-2</text><line x1="40.70" y1="494.00" x2="42.90" y2="494.00" stroke="#6d6e71" stroke-width="1"/><text x="35.90" y="500.60" text-anchor="end" font-family='"Liberation Sans", sans-serif' font-size="12" fill="#231f20">0</text><line x1="40.70" y1="430.40" x2="42.90" y2="430.40" stroke="#6d6e71" stroke-width="1"/><text x="35.90" y="437.00" text-anchor="end" font-family='"Liberation Sans", sans-serif' font-size="12" fill="#231f20">2</text><line x1="48.30" y1="573.80" x2="48.30" y2="571.80" stroke="#262626" stroke-width="1"/><text x="48.50" y="584.30" text-anchor="middle" font-family='"Liberation Sans", sans-serif' font-size="12" fill="#231f20">0</text><line x1="78.54" y1="573.80" x2="78.54" y2="571.80" stroke="#262626" stroke-width="1"/><text x="77.94" y="584.30" text-anchor="middle" font-family='"Liberation Sans", sans-serif' font-size="12" fill="#231f20">1</text><line x1="139.02" y1="573.80" x2="139.02" y2="571.80" stroke="#262626" stroke-width="1"/><text x="139.22" y="584.30" text-anchor="middle" font-family='"Liberation Sans", sans-serif' font-size="12" fill="#231f20">3</text><line x1="199.50" y1="573.80" x2="199.50" y2="571.80" stroke="#262626" stroke-width="1"/><text x="199.70" y="584.30" text-anchor="middle" font-family='"Liberation Sans", sans-serif' font-size="12" fill="#231f20">5</text><text x="115.20" y="596.10" font-family='"Liberation Sans", sans-serif' font-size="12" fill="#231f20" textLength="40" lengthAdjust="spacingAndGlyphs">Time (s)</text><text x="91.45" y="426.30" font-family='"Liberation Sans", sans-serif' font-size="12" fill="#231f20" textLength="47.3" lengthAdjust="spacingAndGlyphs">33-64 Hz</text><text transform="translate(19.80,551.10) rotate(-90)" x="0" y="0" font-family='"Liberation Sans", sans-serif' font-size="12" fill="#231f20" textLength="61.4" lengthAdjust="spacingAndGlyphs">Power (dB)</text></g><clipPath id="clipA4"><rect x="40.7" y="617.6" width="190.0" height="146.19999999999993"/></clipPath><g><rect x="78.94" y="621.70" width="13.6" height="142.10" fill="#d6d6d6"/><rect x="139.42" y="621.70" width="13.6" height="142.10" fill="#d6d6d6"/><g clip-path="url(#clipA4)"><path d="M40.7,681.8 L41.7,681.2 L42.7,680.8 L43.7,680.5 L44.7,680.4 L45.7,680.3 L46.7,680.3 L47.7,681.3 L48.7,683.9 L49.7,686.6 L50.7,688.0 L51.7,688.0 L52.7,687.8 L53.7,687.6 L54.7,687.3 L55.7,686.9 L56.7,686.6 L57.7,686.2 L58.7,685.8 L59.7,685.4 L60.7,685.0 L61.7,684.7 L62.7,684.3 L63.7,684.0 L64.7,683.6 L65.7,683.2 L66.7,682.8 L67.7,682.4 L68.7,682.0 L69.7,681.5 L70.7,681.1 L71.7,680.6 L72.7,680.1 L73.7,679.4 L74.7,678.6 L75.7,677.9 L76.7,677.2 L77.7,676.7 L78.7,676.6 L79.7,676.7 L80.7,676.9 L81.7,677.2 L82.7,677.6 L83.7,678.0 L84.7,678.5 L85.7,678.9 L86.7,679.3 L87.7,679.6 L88.7,679.9 L89.7,680.0 L90.7,679.9 L91.7,679.8 L92.7,679.6 L93.7,679.5 L94.7,679.3 L95.7,679.0 L96.7,678.8 L97.7,678.5 L98.7,678.2 L99.7,677.9 L100.7,677.6 L101.7,677.3 L102.7,677.0 L103.7,676.7 L104.7,676.4 L105.7,676.2 L106.7,676.0 L107.7,675.8 L108.7,675.7 L109.7,675.6 L110.7,675.5 L111.7,675.4 L112.7,675.4 L113.7,675.3 L114.7,675.3 L115.7,675.3 L116.7,675.2 L117.7,675.2 L118.7,675.1 L119.7,675.1 L120.7,675.0 L121.7,675.0 L122.7,674.9 L123.7,674.8 L124.7,674.7 L125.7,674.5 L126.7,673.9 L127.7,673.2 L128.7,673.0 L129.7,673.2 L130.7,673.7 L131.7,674.4 L132.7,675.0 L133.7,675.5 L134.7,675.8 L135.7,675.7 L136.7,675.5 L137.7,675.1 L138.7,674.6 L139.7,674.1 L140.7,673.5 L141.7,673.0 L142.7,672.5 L143.7,672.0 L144.7,671.7 L145.7,671.6 L146.7,671.7 L147.7,672.2 L148.7,672.8 L149.7,673.6 L150.7,674.5 L151.7,675.4 L152.7,676.1 L153.7,676.7 L154.7,677.1 L155.7,677.1 L156.7,676.9 L157.7,676.6 L158.7,676.2 L159.7,675.7 L160.7,675.2 L161.7,674.8 L162.7,674.5 L163.7,674.3 L164.7,674.3 L165.7,674.4 L166.7,674.6 L167.7,674.9 L168.7,675.2 L169.7,675.6 L170.7,675.9 L171.7,676.3 L172.7,676.7 L173.7,677.1 L174.7,677.4 L175.7,677.6 L176.7,677.8 L177.7,678.1 L178.7,678.3 L179.7,678.6 L180.7,678.8 L181.7,679.1 L182.7,679.4 L183.7,679.7 L184.7,679.9 L185.7,680.1 L186.7,680.2 L187.7,680.3 L188.7,680.1 L189.7,679.6 L190.7,679.5 L191.7,679.7 L192.7,679.8 L193.7,680.1 L194.7,680.4 L195.7,680.7 L196.7,681.1 L197.7,681.5 L198.7,682.0 L199.7,682.5 L200.7,683.5 L201.7,684.9 L202.7,686.3 L203.7,687.3 L204.7,687.8 L205.7,688.2 L206.7,688.5 L207.7,688.8 L208.7,689.1 L209.7,689.3 L210.7,689.5 L211.7,689.8 L212.7,690.0 L213.7,690.3 L214.7,690.6 L215.7,691.0 L216.7,691.6 L217.7,692.2 L218.7,692.9 L219.7,693.7 L220.7,694.6 L221.7,695.5 L222.7,696.5 L223.7,697.6 L224.7,698.8 L225.7,700.1 L226.7,701.5 L227.7,703.0 L228.7,704.6 L229.6,706.1 L229.6,710.1 L228.7,709.0 L227.7,707.8 L226.7,706.7 L225.7,705.7 L224.7,704.8 L223.7,704.0 L222.7,703.3 L221.7,702.8 L220.7,702.3 L219.7,701.8 L218.7,701.4 L217.7,701.1 L216.7,700.9 L215.7,700.7 L214.7,700.6 L213.7,700.4 L212.7,700.3 L211.7,700.2 L210.7,700.1 L209.7,700.0 L208.7,699.9 L207.7,699.8 L206.7,699.7 L205.7,699.5 L204.7,699.2 L203.7,698.9 L202.7,698.0 L201.7,696.7 L200.7,695.4 L199.7,694.6 L198.7,694.2 L197.7,693.9 L196.7,693.6 L195.7,693.4 L194.7,693.2 L193.7,693.0 L192.7,692.9 L191.7,692.9 L190.7,692.9 L189.7,693.1 L188.7,693.7 L187.7,694.1 L186.7,694.1 L185.7,694.1 L184.7,694.1 L183.7,694.0 L182.7,693.9 L181.7,693.7 L180.7,693.6 L179.7,693.3 L178.7,693.1 L177.7,692.8 L176.7,692.5 L175.7,692.3 L174.7,692.0 L173.7,691.7 L172.7,691.3 L171.7,690.9 L170.7,690.4 L169.7,690.0 L168.7,689.6 L167.7,689.2 L166.7,688.9 L165.7,688.7 L164.7,688.6 L163.7,688.5 L162.7,688.7 L161.7,689.0 L160.7,689.4 L159.7,689.8 L158.7,690.2 L157.7,690.6 L156.7,690.9 L155.7,691.1 L154.7,691.0 L153.7,690.6 L152.7,690.0 L151.7,689.2 L150.7,688.3 L149.7,687.4 L148.7,686.5 L147.7,685.8 L146.7,685.4 L145.7,685.2 L144.7,685.3 L143.7,685.6 L142.7,685.9 L141.7,686.4 L140.7,686.9 L139.7,687.5 L138.7,688.0 L137.7,688.4 L136.7,688.8 L135.7,689.0 L134.7,689.0 L133.7,688.7 L132.7,688.1 L131.7,687.5 L130.7,686.8 L129.7,686.3 L128.7,686.0 L127.7,686.2 L126.7,686.8 L125.7,687.4 L124.7,687.6 L123.7,687.6 L122.7,687.7 L121.7,687.7 L120.7,687.8 L119.7,687.8 L118.7,687.8 L117.7,687.8 L116.7,687.8 L115.7,687.8 L114.7,687.8 L113.7,687.8 L112.7,687.8 L111.7,687.8 L110.7,687.9 L109.7,687.9 L108.7,688.0 L107.7,688.1 L106.7,688.2 L105.7,688.4 L104.7,688.6 L103.7,688.8 L102.7,689.1 L101.7,689.3 L100.7,689.6 L99.7,689.9 L98.7,690.2 L97.7,690.4 L96.7,690.7 L95.7,690.9 L94.7,691.1 L93.7,691.2 L92.7,691.4 L91.7,691.5 L90.7,691.6 L89.7,691.6 L88.7,691.5 L87.7,691.2 L86.7,690.9 L85.7,690.4 L84.7,690.0 L83.7,689.5 L82.7,689.0 L81.7,688.6 L80.7,688.2 L79.7,688.0 L78.7,687.8 L77.7,687.9 L76.7,688.4 L75.7,689.0 L74.7,689.8 L73.7,690.5 L72.7,691.2 L71.7,691.7 L70.7,692.1 L69.7,692.5 L68.7,692.9 L67.7,693.3 L66.7,693.7 L65.7,694.0 L64.7,694.4 L63.7,694.7 L62.7,695.1 L61.7,695.4 L60.7,695.7 L59.7,696.0 L58.7,696.4 L57.7,696.7 L56.7,697.1 L55.7,697.4 L54.7,697.8 L53.7,698.0 L52.7,698.2 L51.7,698.3 L50.7,698.4 L49.7,696.9 L48.7,694.1 L47.7,691.5 L46.7,690.5 L45.7,690.5 L44.7,690.5 L43.7,690.6 L42.7,690.9 L41.7,691.2 L40.7,691.8 Z" fill="#eff6fa" stroke="none"/><path d="M40.7,681.8 L41.7,681.2 L42.7,680.8 L43.7,680.5 L44.7,680.4 L45.7,680.3 L46.7,680.3 L47.7,681.3 L48.7,683.9 L49.7,686.6 L50.7,688.0 L51.7,688.0 L52.7,687.8 L53.7,687.6 L54.7,687.3 L55.7,686.9 L56.7,686.6 L57.7,686.2 L58.7,685.8 L59.7,685.4 L60.7,685.0 L61.7,684.7 L62.7,684.3 L63.7,684.0 L64.7,683.6 L65.7,683.2 L66.7,682.8 L67.7,682.4 L68.7,682.0 L69.7,681.5 L70.7,681.1 L71.7,680.6 L72.7,680.1 L73.7,679.4 L74.7,678.6 L75.7,677.9 L76.7,677.2 L77.7,676.7 L78.7,676.6 L79.7,676.7 L80.7,676.9 L81.7,677.2 L82.7,677.6 L83.7,678.0 L84.7,678.5 L85.7,678.9 L86.7,679.3 L87.7,679.6 L88.7,679.9 L89.7,680.0 L90.7,679.9 L91.7,679.8 L92.7,679.6 L93.7,679.5 L94.7,679.3 L95.7,679.0 L96.7,678.8 L97.7,678.5 L98.7,678.2 L99.7,677.9 L100.7,677.6 L101.7,677.3 L102.7,677.0 L103.7,676.7 L104.7,676.4 L105.7,676.2 L106.7,676.0 L107.7,675.8 L108.7,675.7 L109.7,675.6 L110.7,675.5 L111.7,675.4 L112.7,675.4 L113.7,675.3 L114.7,675.3 L115.7,675.3 L116.7,675.2 L117.7,675.2 L118.7,675.1 L119.7,675.1 L120.7,675.0 L121.7,675.0 L122.7,674.9 L123.7,674.8 L124.7,674.7 L125.7,674.5 L126.7,673.9 L127.7,673.2 L128.7,673.0 L129.7,673.2 L130.7,673.7 L131.7,674.4 L132.7,675.0 L133.7,675.5 L134.7,675.8 L135.7,675.7 L136.7,675.5 L137.7,675.1 L138.7,674.6 L139.7,674.1 L140.7,673.5 L141.7,673.0 L142.7,672.5 L143.7,672.0 L144.7,671.7 L145.7,671.6 L146.7,671.7 L147.7,672.2 L148.7,672.8 L149.7,673.6 L150.7,674.5 L151.7,675.4 L152.7,676.1 L153.7,676.7 L154.7,677.1 L155.7,677.1 L156.7,676.9 L157.7,676.6 L158.7,676.2 L159.7,675.7 L160.7,675.2 L161.7,674.8 L162.7,674.5 L163.7,674.3 L164.7,674.3 L165.7,674.4 L166.7,674.6 L167.7,674.9 L168.7,675.2 L169.7,675.6 L170.7,675.9 L171.7,676.3 L172.7,676.7 L173.7,677.1 L174.7,677.4 L175.7,677.6 L176.7,677.8 L177.7,678.1 L178.7,678.3 L179.7,678.6 L180.7,678.8 L181.7,679.1 L182.7,679.4 L183.7,679.7 L184.7,679.9 L185.7,680.1 L186.7,680.2 L187.7,680.3 L188.7,680.1 L189.7,679.6 L190.7,679.5 L191.7,679.7 L192.7,679.8 L193.7,680.1 L194.7,680.4 L195.7,680.7 L196.7,681.1 L197.7,681.5 L198.7,682.0 L199.7,682.5 L200.7,683.5 L201.7,684.9 L202.7,686.3 L203.7,687.3 L204.7,687.8 L205.7,688.2 L206.7,688.5 L207.7,688.8 L208.7,689.1 L209.7,689.3 L210.7,689.5 L211.7,689.8 L212.7,690.0 L213.7,690.3 L214.7,690.6 L215.7,691.0 L216.7,691.6 L217.7,692.2 L218.7,692.9 L219.7,693.7 L220.7,694.6 L221.7,695.5 L222.7,696.5 L223.7,697.6 L224.7,698.8 L225.7,700.1 L226.7,701.5 L227.7,703.0 L228.7,704.6 L229.6,706.1" fill="none" stroke="#a9d5e5" stroke-width="0.95"/><path d="M40.7,691.8 L41.7,691.2 L42.7,690.9 L43.7,690.6 L44.7,690.5 L45.7,690.5 L46.7,690.5 L47.7,691.5 L48.7,694.1 L49.7,696.9 L50.7,698.4 L51.7,698.3 L52.7,698.2 L53.7,698.0 L54.7,697.8 L55.7,697.4 L56.7,697.1 L57.7,696.7 L58.7,696.4 L59.7,696.0 L60.7,695.7 L61.7,695.4 L62.7,695.1 L63.7,694.7 L64.7,694.4 L65.7,694.0 L66.7,693.7 L67.7,693.3 L68.7,692.9 L69.7,692.5 L70.7,692.1 L71.7,691.7 L72.7,691.2 L73.7,690.5 L74.7,689.8 L75.7,689.0 L76.7,688.4 L77.7,687.9 L78.7,687.8 L79.7,688.0 L80.7,688.2 L81.7,688.6 L82.7,689.0 L83.7,689.5 L84.7,690.0 L85.7,690.4 L86.7,690.9 L87.7,691.2 L88.7,691.5 L89.7,691.6 L90.7,691.6 L91.7,691.5 L92.7,691.4 L93.7,691.2 L94.7,691.1 L95.7,690.9 L96.7,690.7 L97.7,690.4 L98.7,690.2 L99.7,689.9 L100.7,689.6 L101.7,689.3 L102.7,689.1 L103.7,688.8 L104.7,688.6 L105.7,688.4 L106.7,688.2 L107.7,688.1 L108.7,688.0 L109.7,687.9 L110.7,687.9 L111.7,687.8 L112.7,687.8 L113.7,687.8 L114.7,687.8 L115.7,687.8 L116.7,687.8 L117.7,687.8 L118.7,687.8 L119.7,687.8 L120.7,687.8 L121.7,687.7 L122.7,687.7 L123.7,687.6 L124.7,687.6 L125.7,687.4 L126.7,686.8 L127.7,686.2 L128.7,686.0 L129.7,686.3 L130.7,686.8 L131.7,687.5 L132.7,688.1 L133.7,688.7 L134.7,689.0 L135.7,689.0 L136.7,688.8 L137.7,688.4 L138.7,688.0 L139.7,687.5 L140.7,686.9 L141.7,686.4 L142.7,685.9 L143.7,685.6 L144.7,685.3 L145.7,685.2 L146.7,685.4 L147.7,685.8 L148.7,686.5 L149.7,687.4 L150.7,688.3 L151.7,689.2 L152.7,690.0 L153.7,690.6 L154.7,691.0 L155.7,691.1 L156.7,690.9 L157.7,690.6 L158.7,690.2 L159.7,689.8 L160.7,689.4 L161.7,689.0 L162.7,688.7 L163.7,688.5 L164.7,688.6 L165.7,688.7 L166.7,688.9 L167.7,689.2 L168.7,689.6 L169.7,690.0 L170.7,690.4 L171.7,690.9 L172.7,691.3 L173.7,691.7 L174.7,692.0 L175.7,692.3 L176.7,692.5 L177.7,692.8 L178.7,693.1 L179.7,693.3 L180.7,693.6 L181.7,693.7 L182.7,693.9 L183.7,694.0 L184.7,694.1 L185.7,694.1 L186.7,694.1 L187.7,694.1 L188.7,693.7 L189.7,693.1 L190.7,692.9 L191.7,692.9 L192.7,692.9 L193.7,693.0 L194.7,693.2 L195.7,693.4 L196.7,693.6 L197.7,693.9 L198.7,694.2 L199.7,694.6 L200.7,695.4 L201.7,696.7 L202.7,698.0 L203.7,698.9 L204.7,699.2 L205.7,699.5 L206.7,699.7 L207.7,699.8 L208.7,699.9 L209.7,700.0 L210.7,700.1 L211.7,700.2 L212.7,700.3 L213.7,700.4 L214.7,700.6 L215.7,700.7 L216.7,700.9 L217.7,701.1 L218.7,701.4 L219.7,701.8 L220.7,702.3 L221.7,702.8 L222.7,703.3 L223.7,704.0 L224.7,704.8 L225.7,705.7 L226.7,706.7 L227.7,707.8 L228.7,709.0 L229.6,710.1" fill="none" stroke="#a9d5e5" stroke-width="0.8"/><path d="M40.7,666.0 L41.7,666.2 L42.7,666.7 L43.7,667.5 L44.7,668.6 L45.7,670.0 L46.7,672.2 L47.7,677.2 L48.7,684.1 L49.7,697.9 L50.7,701.1 L51.7,701.3 L52.7,701.5 L53.7,701.7 L54.7,701.8 L55.7,701.9 L56.7,701.9 L57.7,702.0 L58.7,702.0 L59.7,702.1 L60.7,702.2 L61.7,702.3 L62.7,702.5 L63.7,702.8 L64.7,703.2 L65.7,703.8 L66.7,704.3 L67.7,704.9 L68.7,705.3 L69.7,705.4 L70.7,705.3 L71.7,704.9 L72.7,704.4 L73.7,703.7 L74.7,703.0 L75.7,702.3 L76.7,701.6 L77.7,701.2 L78.7,700.9 L79.7,700.9 L80.7,701.2 L81.7,701.6 L82.7,702.1 L83.7,702.8 L84.7,703.6 L85.7,704.4 L86.7,705.2 L87.7,705.9 L88.7,706.6 L89.7,707.2 L90.7,707.7 L91.7,707.9 L92.7,708.1 L93.7,708.3 L94.7,708.5 L95.7,708.7 L96.7,708.9 L97.7,709.2 L98.7,709.5 L99.7,709.7 L100.7,710.0 L101.7,710.3 L102.7,710.6 L103.7,710.9 L104.7,711.2 L105.7,711.5 L106.7,711.8 L107.7,712.1 L108.7,712.4 L109.7,712.8 L110.7,713.2 L111.7,713.6 L112.7,714.0 L113.7,714.4 L114.7,714.8 L115.7,715.2 L116.7,715.6 L117.7,715.9 L118.7,716.3 L119.7,716.6 L120.7,716.8 L121.7,716.9 L122.7,717.0 L123.7,717.0 L124.7,716.8 L125.7,716.2 L126.7,715.5 L127.7,714.8 L128.7,714.3 L129.7,714.3 L130.7,714.5 L131.7,714.8 L132.7,715.3 L133.7,715.7 L134.7,716.1 L135.7,716.4 L136.7,716.7 L137.7,717.0 L138.7,717.3 L139.7,717.7 L140.7,718.1 L141.7,718.6 L142.7,719.2 L143.7,719.7 L144.7,720.3 L145.7,720.9 L146.7,721.5 L147.7,722.1 L148.7,722.6 L149.7,723.0 L150.7,723.4 L151.7,723.7 L152.7,723.9 L153.7,724.0 L154.7,723.9 L155.7,723.7 L156.7,723.4 L157.7,723.0 L158.7,722.6 L159.7,722.2 L160.7,721.8 L161.7,721.5 L162.7,721.3 L163.7,721.3 L164.7,721.3 L165.7,721.5 L166.7,721.6 L167.7,721.8 L168.7,722.1 L169.7,722.3 L170.7,722.5 L171.7,722.7 L172.7,722.8 L173.7,722.9 L174.7,722.9 L175.7,722.7 L176.7,722.3 L177.7,721.9 L178.7,721.3 L179.7,720.7 L180.7,720.0 L181.7,719.3 L182.7,718.6 L183.7,717.9 L184.7,717.3 L185.7,716.8 L186.7,716.3 L187.7,716.0 L188.7,715.8 L189.7,715.8 L190.7,715.9 L191.7,716.0 L192.7,716.1 L193.7,716.2 L194.7,716.4 L195.7,716.6 L196.7,716.8 L197.7,717.0 L198.7,717.2 L199.7,717.4 L200.7,717.8 L201.7,718.2 L202.7,718.6 L203.7,718.9 L204.7,718.7 L205.7,718.2 L206.7,717.4 L207.7,716.3 L208.7,715.2 L209.7,714.0 L210.7,712.9 L211.7,711.9 L212.7,710.9 L213.7,709.9 L214.7,708.8 L215.7,707.6 L216.7,706.4 L217.7,705.1 L218.7,703.7 L219.7,701.9 L220.7,699.6 L221.7,697.1 L222.7,695.0 L223.7,693.8 L224.7,693.6 L225.7,693.6 L226.7,693.7 L227.7,693.8 L228.7,693.9 L229.6,694.1 L229.6,708.1 L228.7,707.9 L227.7,707.8 L226.7,707.8 L225.7,707.8 L224.7,707.8 L223.7,708.0 L222.7,709.3 L221.7,711.4 L220.7,713.9 L219.7,716.3 L218.7,718.2 L217.7,719.6 L216.7,720.9 L215.7,722.2 L214.7,723.4 L213.7,724.5 L212.7,725.6 L211.7,726.6 L210.7,727.7 L209.7,728.8 L208.7,730.0 L207.7,731.2 L206.7,732.3 L205.7,733.2 L204.7,733.8 L203.7,733.9 L202.7,733.7 L201.7,733.3 L200.7,732.9 L199.7,732.6 L198.7,732.4 L197.7,732.3 L196.7,732.1 L195.7,731.9 L194.7,731.8 L193.7,731.7 L192.7,731.6 L191.7,731.5 L190.7,731.4 L189.7,731.4 L188.7,731.4 L187.7,731.5 L186.7,731.8 L185.7,732.2 L184.7,732.7 L183.7,733.3 L182.7,734.0 L181.7,734.6 L180.7,735.3 L179.7,735.9 L178.7,736.5 L177.7,737.0 L176.7,737.4 L175.7,737.7 L174.7,737.9 L173.7,737.9 L172.7,737.8 L171.7,737.6 L170.7,737.4 L169.7,737.1 L168.7,736.9 L167.7,736.6 L166.7,736.4 L165.7,736.2 L164.7,736.0 L163.7,735.9 L162.7,735.9 L161.7,736.1 L160.7,736.3 L159.7,736.7 L158.7,737.0 L157.7,737.4 L156.7,737.8 L155.7,738.0 L154.7,738.2 L153.7,738.2 L152.7,738.1 L151.7,737.9 L150.7,737.6 L149.7,737.1 L148.7,736.6 L147.7,736.1 L146.7,735.5 L145.7,734.9 L144.7,734.3 L143.7,733.6 L142.7,733.0 L141.7,732.4 L140.7,731.9 L139.7,731.4 L138.7,731.0 L137.7,730.7 L136.7,730.3 L135.7,730.0 L134.7,729.7 L133.7,729.2 L132.7,728.7 L131.7,728.2 L130.7,727.8 L129.7,727.6 L128.7,727.6 L127.7,728.1 L126.7,728.7 L125.7,729.4 L124.7,730.0 L123.7,730.2 L122.7,730.1 L121.7,730.0 L120.7,729.8 L119.7,729.6 L118.7,729.3 L117.7,729.0 L116.7,728.7 L115.7,728.4 L114.7,728.1 L113.7,727.7 L112.7,727.3 L111.7,727.0 L110.7,726.6 L109.7,726.3 L108.7,726.0 L107.7,725.7 L106.7,725.5 L105.7,725.2 L104.7,725.0 L103.7,724.7 L102.7,724.5 L101.7,724.2 L100.7,724.0 L99.7,723.8 L98.7,723.5 L97.7,723.3 L96.7,723.1 L95.7,722.9 L94.7,722.7 L93.7,722.6 L92.7,722.5 L91.7,722.4 L90.7,722.1 L89.7,721.7 L88.7,721.2 L87.7,720.6 L86.7,719.9 L85.7,719.1 L84.7,718.4 L83.7,717.7 L82.7,717.0 L81.7,716.5 L80.7,716.1 L79.7,715.9 L78.7,716.0 L77.7,716.3 L76.7,716.8 L75.7,717.5 L74.7,718.3 L73.7,719.0 L72.7,719.8 L71.7,720.4 L70.7,720.8 L69.7,721.0 L68.7,720.9 L67.7,720.5 L66.7,720.0 L65.7,719.5 L64.7,719.0 L63.7,718.6 L62.7,718.4 L61.7,718.3 L60.7,718.2 L59.7,718.2 L58.7,718.1 L57.7,718.1 L56.7,718.1 L55.7,718.1 L54.7,718.1 L53.7,718.0 L52.7,717.9 L51.7,717.8 L50.7,717.6 L49.7,714.5 L48.7,700.7 L47.7,693.8 L46.7,688.9 L45.7,686.8 L44.7,685.4 L43.7,684.4 L42.7,683.6 L41.7,683.1 L40.7,683.0 Z" fill="#f5e9f2" stroke="none"/><path d="M40.7,666.0 L41.7,666.2 L42.7,666.7 L43.7,667.5 L44.7,668.6 L45.7,670.0 L46.7,672.2 L47.7,677.2 L48.7,684.1 L49.7,697.9 L50.7,701.1 L51.7,701.3 L52.7,701.5 L53.7,701.7 L54.7,701.8 L55.7,701.9 L56.7,701.9 L57.7,702.0 L58.7,702.0 L59.7,702.1 L60.7,702.2 L61.7,702.3 L62.7,702.5 L63.7,702.8 L64.7,703.2 L65.7,703.8 L66.7,704.3 L67.7,704.9 L68.7,705.3 L69.7,705.4 L70.7,705.3 L71.7,704.9 L72.7,704.4 L73.7,703.7 L74.7,703.0 L75.7,702.3 L76.7,701.6 L77.7,701.2 L78.7,700.9 L79.7,700.9 L80.7,701.2 L81.7,701.6 L82.7,702.1 L83.7,702.8 L84.7,703.6 L85.7,704.4 L86.7,705.2 L87.7,705.9 L88.7,706.6 L89.7,707.2 L90.7,707.7 L91.7,707.9 L92.7,708.1 L93.7,708.3 L94.7,708.5 L95.7,708.7 L96.7,708.9 L97.7,709.2 L98.7,709.5 L99.7,709.7 L100.7,710.0 L101.7,710.3 L102.7,710.6 L103.7,710.9 L104.7,711.2 L105.7,711.5 L106.7,711.8 L107.7,712.1 L108.7,712.4 L109.7,712.8 L110.7,713.2 L111.7,713.6 L112.7,714.0 L113.7,714.4 L114.7,714.8 L115.7,715.2 L116.7,715.6 L117.7,715.9 L118.7,716.3 L119.7,716.6 L120.7,716.8 L121.7,716.9 L122.7,717.0 L123.7,717.0 L124.7,716.8 L125.7,716.2 L126.7,715.5 L127.7,714.8 L128.7,714.3 L129.7,714.3 L130.7,714.5 L131.7,714.8 L132.7,715.3 L133.7,715.7 L134.7,716.1 L135.7,716.4 L136.7,716.7 L137.7,717.0 L138.7,717.3 L139.7,717.7 L140.7,718.1 L141.7,718.6 L142.7,719.2 L143.7,719.7 L144.7,720.3 L145.7,720.9 L146.7,721.5 L147.7,722.1 L148.7,722.6 L149.7,723.0 L150.7,723.4 L151.7,723.7 L152.7,723.9 L153.7,724.0 L154.7,723.9 L155.7,723.7 L156.7,723.4 L157.7,723.0 L158.7,722.6 L159.7,722.2 L160.7,721.8 L161.7,721.5 L162.7,721.3 L163.7,721.3 L164.7,721.3 L165.7,721.5 L166.7,721.6 L167.7,721.8 L168.7,722.1 L169.7,722.3 L170.7,722.5 L171.7,722.7 L172.7,722.8 L173.7,722.9 L174.7,722.9 L175.7,722.7 L176.7,722.3 L177.7,721.9 L178.7,721.3 L179.7,720.7 L180.7,720.0 L181.7,719.3 L182.7,718.6 L183.7,717.9 L184.7,717.3 L185.7,716.8 L186.7,716.3 L187.7,716.0 L188.7,715.8 L189.7,715.8 L190.7,715.9 L191.7,716.0 L192.7,716.1 L193.7,716.2 L194.7,716.4 L195.7,716.6 L196.7,716.8 L197.7,717.0 L198.7,717.2 L199.7,717.4 L200.7,717.8 L201.7,718.2 L202.7,718.6 L203.7,718.9 L204.7,718.7 L205.7,718.2 L206.7,717.4 L207.7,716.3 L208.7,715.2 L209.7,714.0 L210.7,712.9 L211.7,711.9 L212.7,710.9 L213.7,709.9 L214.7,708.8 L215.7,707.6 L216.7,706.4 L217.7,705.1 L218.7,703.7 L219.7,701.9 L220.7,699.6 L221.7,697.1 L222.7,695.0 L223.7,693.8 L224.7,693.6 L225.7,693.6 L226.7,693.7 L227.7,693.8 L228.7,693.9 L229.6,694.1" fill="none" stroke="#d4a2d0" stroke-width="0.95"/><path d="M40.7,683.0 L41.7,683.1 L42.7,683.6 L43.7,684.4 L44.7,685.4 L45.7,686.8 L46.7,688.9 L47.7,693.8 L48.7,700.7 L49.7,714.5 L50.7,717.6 L51.7,717.8 L52.7,717.9 L53.7,718.0 L54.7,718.1 L55.7,718.1 L56.7,718.1 L57.7,718.1 L58.7,718.1 L59.7,718.2 L60.7,718.2 L61.7,718.3 L62.7,718.4 L63.7,718.6 L64.7,719.0 L65.7,719.5 L66.7,720.0 L67.7,720.5 L68.7,720.9 L69.7,721.0 L70.7,720.8 L71.7,720.4 L72.7,719.8 L73.7,719.0 L74.7,718.3 L75.7,717.5 L76.7,716.8 L77.7,716.3 L78.7,716.0 L79.7,715.9 L80.7,716.1 L81.7,716.5 L82.7,717.0 L83.7,717.7 L84.7,718.4 L85.7,719.1 L86.7,719.9 L87.7,720.6 L88.7,721.2 L89.7,721.7 L90.7,722.1 L91.7,722.4 L92.7,722.5 L93.7,722.6 L94.7,722.7 L95.7,722.9 L96.7,723.1 L97.7,723.3 L98.7,723.5 L99.7,723.8 L100.7,724.0 L101.7,724.2 L102.7,724.5 L103.7,724.7 L104.7,725.0 L105.7,725.2 L106.7,725.5 L107.7,725.7 L108.7,726.0 L109.7,726.3 L110.7,726.6 L111.7,727.0 L112.7,727.3 L113.7,727.7 L114.7,728.1 L115.7,728.4 L116.7,728.7 L117.7,729.0 L118.7,729.3 L119.7,729.6 L120.7,729.8 L121.7,730.0 L122.7,730.1 L123.7,730.2 L124.7,730.0 L125.7,729.4 L126.7,728.7 L127.7,728.1 L128.7,727.6 L129.7,727.6 L130.7,727.8 L131.7,728.2 L132.7,728.7 L133.7,729.2 L134.7,729.7 L135.7,730.0 L136.7,730.3 L137.7,730.7 L138.7,731.0 L139.7,731.4 L140.7,731.9 L141.7,732.4 L142.7,733.0 L143.7,733.6 L144.7,734.3 L145.7,734.9 L146.7,735.5 L147.7,736.1 L148.7,736.6 L149.7,737.1 L150.7,737.6 L151.7,737.9 L152.7,738.1 L153.7,738.2 L154.7,738.2 L155.7,738.0 L156.7,737.8 L157.7,737.4 L158.7,737.0 L159.7,736.7 L160.7,736.3 L161.7,736.1 L162.7,735.9 L163.7,735.9 L164.7,736.0 L165.7,736.2 L166.7,736.4 L167.7,736.6 L168.7,736.9 L169.7,737.1 L170.7,737.4 L171.7,737.6 L172.7,737.8 L173.7,737.9 L174.7,737.9 L175.7,737.7 L176.7,737.4 L177.7,737.0 L178.7,736.5 L179.7,735.9 L180.7,735.3 L181.7,734.6 L182.7,734.0 L183.7,733.3 L184.7,732.7 L185.7,732.2 L186.7,731.8 L187.7,731.5 L188.7,731.4 L189.7,731.4 L190.7,731.4 L191.7,731.5 L192.7,731.6 L193.7,731.7 L194.7,731.8 L195.7,731.9 L196.7,732.1 L197.7,732.3 L198.7,732.4 L199.7,732.6 L200.7,732.9 L201.7,733.3 L202.7,733.7 L203.7,733.9 L204.7,733.8 L205.7,733.2 L206.7,732.3 L207.7,731.2 L208.7,730.0 L209.7,728.8 L210.7,727.7 L211.7,726.6 L212.7,725.6 L213.7,724.5 L214.7,723.4 L215.7,722.2 L216.7,720.9 L217.7,719.6 L218.7,718.2 L219.7,716.3 L220.7,713.9 L221.7,711.4 L222.7,709.3 L223.7,708.0 L224.7,707.8 L225.7,707.8 L226.7,707.8 L227.7,707.8 L228.7,707.9 L229.6,708.1" fill="none" stroke="#d4a2d0" stroke-width="0.8"/><path d="M40.7,686.8 L41.7,686.2 L42.7,685.8 L43.7,685.6 L44.7,685.5 L45.7,685.4 L46.7,685.4 L47.7,686.4 L48.7,689.0 L49.7,691.8 L50.7,693.2 L51.7,693.2 L52.7,693.0 L53.7,692.8 L54.7,692.5 L55.7,692.2 L56.7,691.8 L57.7,691.4 L58.7,691.1 L59.7,690.7 L60.7,690.4 L61.7,690.0 L62.7,689.7 L63.7,689.4 L64.7,689.0 L65.7,688.6 L66.7,688.2 L67.7,687.9 L68.7,687.4 L69.7,687.0 L70.7,686.6 L71.7,686.1 L72.7,685.6 L73.7,685.0 L74.7,684.2 L75.7,683.4 L76.7,682.8 L77.7,682.3 L78.7,682.2 L79.7,682.3 L80.7,682.5 L81.7,682.9 L82.7,683.3 L83.7,683.7 L84.7,684.2 L85.7,684.7 L86.7,685.1 L87.7,685.4 L88.7,685.7 L89.7,685.8 L90.7,685.8 L91.7,685.7 L92.7,685.5 L93.7,685.4 L94.7,685.2 L95.7,685.0 L96.7,684.7 L97.7,684.5 L98.7,684.2 L99.7,683.9 L100.7,683.6 L101.7,683.3 L102.7,683.0 L103.7,682.7 L104.7,682.5 L105.7,682.3 L106.7,682.1 L107.7,681.9 L108.7,681.8 L109.7,681.7 L110.7,681.7 L111.7,681.6 L112.7,681.6 L113.7,681.6 L114.7,681.5 L115.7,681.5 L116.7,681.5 L117.7,681.5 L118.7,681.5 L119.7,681.4 L120.7,681.4 L121.7,681.3 L122.7,681.3 L123.7,681.2 L124.7,681.1 L125.7,680.9 L126.7,680.3 L127.7,679.7 L128.7,679.5 L129.7,679.8 L130.7,680.3 L131.7,680.9 L132.7,681.6 L133.7,682.1 L134.7,682.4 L135.7,682.4 L136.7,682.1 L137.7,681.8 L138.7,681.3 L139.7,680.8 L140.7,680.2 L141.7,679.7 L142.7,679.2 L143.7,678.8 L144.7,678.5 L145.7,678.4 L146.7,678.5 L147.7,679.0 L148.7,679.7 L149.7,680.5 L150.7,681.4 L151.7,682.3 L152.7,683.1 L153.7,683.7 L154.7,684.0 L155.7,684.1 L156.7,683.9 L157.7,683.6 L158.7,683.2 L159.7,682.8 L160.7,682.3 L161.7,681.9 L162.7,681.6 L163.7,681.4 L164.7,681.4 L165.7,681.5 L166.7,681.8 L167.7,682.0 L168.7,682.4 L169.7,682.8 L170.7,683.2 L171.7,683.6 L172.7,684.0 L173.7,684.4 L174.7,684.7 L175.7,684.9 L176.7,685.2 L177.7,685.4 L178.7,685.7 L179.7,686.0 L180.7,686.2 L181.7,686.4 L182.7,686.6 L183.7,686.8 L184.7,687.0 L185.7,687.1 L186.7,687.2 L187.7,687.2 L188.7,686.9 L189.7,686.4 L190.7,686.2 L191.7,686.3 L192.7,686.4 L193.7,686.5 L194.7,686.8 L195.7,687.0 L196.7,687.4 L197.7,687.7 L198.7,688.1 L199.7,688.5 L200.7,689.4 L201.7,690.8 L202.7,692.1 L203.7,693.1 L204.7,693.5 L205.7,693.8 L206.7,694.1 L207.7,694.3 L208.7,694.5 L209.7,694.7 L210.7,694.8 L211.7,695.0 L212.7,695.1 L213.7,695.3 L214.7,695.6 L215.7,695.9 L216.7,696.2 L217.7,696.7 L218.7,697.2 L219.7,697.8 L220.7,698.4 L221.7,699.2 L222.7,699.9 L223.7,700.8 L224.7,701.8 L225.7,702.9 L226.7,704.1 L227.7,705.4 L228.7,706.8 L229.6,708.1" fill="none" stroke="#66b3cf" stroke-width="1.5" stroke-linejoin="round"/><path d="M40.7,674.5 L41.7,674.7 L42.7,675.2 L43.7,676.0 L44.7,677.0 L45.7,678.4 L46.7,680.6 L47.7,685.5 L48.7,692.4 L49.7,706.2 L50.7,709.4 L51.7,709.6 L52.7,709.7 L53.7,709.8 L54.7,709.9 L55.7,710.0 L56.7,710.0 L57.7,710.1 L58.7,710.1 L59.7,710.1 L60.7,710.2 L61.7,710.3 L62.7,710.5 L63.7,710.7 L64.7,711.1 L65.7,711.6 L66.7,712.2 L67.7,712.7 L68.7,713.1 L69.7,713.2 L70.7,713.1 L71.7,712.7 L72.7,712.1 L73.7,711.4 L74.7,710.6 L75.7,709.9 L76.7,709.2 L77.7,708.7 L78.7,708.4 L79.7,708.4 L80.7,708.6 L81.7,709.0 L82.7,709.6 L83.7,710.2 L84.7,711.0 L85.7,711.7 L86.7,712.5 L87.7,713.3 L88.7,713.9 L89.7,714.5 L90.7,714.9 L91.7,715.2 L92.7,715.3 L93.7,715.4 L94.7,715.6 L95.7,715.8 L96.7,716.0 L97.7,716.2 L98.7,716.5 L99.7,716.7 L100.7,717.0 L101.7,717.3 L102.7,717.5 L103.7,717.8 L104.7,718.1 L105.7,718.4 L106.7,718.7 L107.7,718.9 L108.7,719.2 L109.7,719.5 L110.7,719.9 L111.7,720.3 L112.7,720.6 L113.7,721.0 L114.7,721.4 L115.7,721.8 L116.7,722.2 L117.7,722.5 L118.7,722.8 L119.7,723.1 L120.7,723.3 L121.7,723.4 L122.7,723.6 L123.7,723.6 L124.7,723.4 L125.7,722.8 L126.7,722.1 L127.7,721.4 L128.7,721.0 L129.7,720.9 L130.7,721.2 L131.7,721.5 L132.7,722.0 L133.7,722.5 L134.7,722.9 L135.7,723.2 L136.7,723.5 L137.7,723.8 L138.7,724.2 L139.7,724.6 L140.7,725.0 L141.7,725.5 L142.7,726.1 L143.7,726.7 L144.7,727.3 L145.7,727.9 L146.7,728.5 L147.7,729.1 L148.7,729.6 L149.7,730.1 L150.7,730.5 L151.7,730.8 L152.7,731.0 L153.7,731.1 L154.7,731.0 L155.7,730.9 L156.7,730.6 L157.7,730.2 L158.7,729.8 L159.7,729.4 L160.7,729.1 L161.7,728.8 L162.7,728.6 L163.7,728.6 L164.7,728.7 L165.7,728.8 L166.7,729.0 L167.7,729.2 L168.7,729.5 L169.7,729.7 L170.7,730.0 L171.7,730.2 L172.7,730.3 L173.7,730.4 L174.7,730.4 L175.7,730.2 L176.7,729.9 L177.7,729.5 L178.7,728.9 L179.7,728.3 L180.7,727.6 L181.7,727.0 L182.7,726.3 L183.7,725.6 L184.7,725.0 L185.7,724.5 L186.7,724.1 L187.7,723.8 L188.7,723.6 L189.7,723.6 L190.7,723.6 L191.7,723.7 L192.7,723.8 L193.7,723.9 L194.7,724.1 L195.7,724.3 L196.7,724.4 L197.7,724.6 L198.7,724.8 L199.7,725.0 L200.7,725.4 L201.7,725.8 L202.7,726.2 L203.7,726.4 L204.7,726.3 L205.7,725.7 L206.7,724.8 L207.7,723.8 L208.7,722.6 L209.7,721.4 L210.7,720.3 L211.7,719.3 L212.7,718.2 L213.7,717.2 L214.7,716.1 L215.7,714.9 L216.7,713.7 L217.7,712.4 L218.7,710.9 L219.7,709.1 L220.7,706.8 L221.7,704.3 L222.7,702.2 L223.7,700.9 L224.7,700.7 L225.7,700.7 L226.7,700.7 L227.7,700.8 L228.7,700.9 L229.6,701.1" fill="none" stroke="#8e318f" stroke-width="1.5" stroke-linejoin="round"/></g><line x1="48.30" y1="622.80" x2="48.30" y2="764.10" stroke="#262626" stroke-width="1.35" stroke-dasharray="1.4 2.6"/><line x1="78.54" y1="622.80" x2="78.54" y2="764.10" stroke="#262626" stroke-width="1.35" stroke-dasharray="1.4 2.6"/><line x1="93.66" y1="622.80" x2="93.66" y2="764.10" stroke="#262626" stroke-width="1.35" stroke-dasharray="1.4 2.6"/><line x1="139.02" y1="622.80" x2="139.02" y2="764.10" stroke="#262626" stroke-width="1.35" stroke-dasharray="1.4 2.6"/><line x1="154.14" y1="622.80" x2="154.14" y2="764.10" stroke="#262626" stroke-width="1.35" stroke-dasharray="1.4 2.6"/><line x1="199.50" y1="622.80" x2="199.50" y2="764.10" stroke="#262626" stroke-width="1.35" stroke-dasharray="1.4 2.6"/><path d="M40.70,620.60 L40.70,763.80 L229.70,763.80" fill="none" stroke="#6d6e71" stroke-width="1.1"/><line x1="40.70" y1="763.80" x2="42.90" y2="763.80" stroke="#6d6e71" stroke-width="1"/><text x="35.90" y="770.40" text-anchor="end" font-family='"Liberation Sans", sans-serif' font-size="12" fill="#231f20">-1</text><line x1="40.70" y1="716.30" x2="42.90" y2="716.30" stroke="#6d6e71" stroke-width="1"/><text x="35.90" y="722.90" text-anchor="end" font-family='"Liberation Sans", sans-serif' font-size="12" fill="#231f20">0</text><line x1="40.70" y1="668.30" x2="42.90" y2="668.30" stroke="#6d6e71" stroke-width="1"/><text x="35.90" y="674.90" text-anchor="end" font-family='"Liberation Sans", sans-serif' font-size="12" fill="#231f20">1</text><line x1="40.70" y1="620.90" x2="42.90" y2="620.90" stroke="#6d6e71" stroke-width="1"/><text x="35.90" y="627.50" text-anchor="end" font-family='"Liberation Sans", sans-serif' font-size="12" fill="#231f20">2</text><line x1="48.30" y1="763.80" x2="48.30" y2="761.80" stroke="#262626" stroke-width="1"/><text x="48.50" y="775.90" text-anchor="middle" font-family='"Liberation Sans", sans-serif' font-size="12" fill="#231f20">0</text><line x1="78.54" y1="763.80" x2="78.54" y2="761.80" stroke="#262626" stroke-width="1"/><text x="77.94" y="775.90" text-anchor="middle" font-family='"Liberation Sans", sans-serif' font-size="12" fill="#231f20">1</text><line x1="139.02" y1="763.80" x2="139.02" y2="761.80" stroke="#262626" stroke-width="1"/><text x="139.22" y="775.90" text-anchor="middle" font-family='"Liberation Sans", sans-serif' font-size="12" fill="#231f20">3</text><line x1="199.50" y1="763.80" x2="199.50" y2="761.80" stroke="#262626" stroke-width="1"/><text x="199.70" y="775.90" text-anchor="middle" font-family='"Liberation Sans", sans-serif' font-size="12" fill="#231f20">5</text><text x="115.20" y="787.20" font-family='"Liberation Sans", sans-serif' font-size="12" fill="#231f20" textLength="40" lengthAdjust="spacingAndGlyphs">Time (s)</text><text x="95.65" y="616.80" font-family='"Liberation Sans", sans-serif' font-size="12" fill="#231f20" textLength="54.0" lengthAdjust="spacingAndGlyphs">65-100 Hz</text><text transform="translate(19.80,741.70) rotate(-90)" x="0" y="0" font-family='"Liberation Sans", sans-serif' font-size="12" fill="#231f20" textLength="61.4" lengthAdjust="spacingAndGlyphs">Power (dB)</text></g><text x="263.0" y="11.9" font-family='"Liberation Sans", sans-serif' font-weight="bold" font-size="14" fill="#000" textLength="10.0" lengthAdjust="spacingAndGlyphs">B</text><text x="351.6" y="15.6" font-family='"Liberation Sans", sans-serif' font-size="15" fill="#231f20" textLength="70.5" lengthAdjust="spacingAndGlyphs">Mid-Dorsal</text><clipPath id="clipB1"><rect x="301.7" y="36.0" width="190.40000000000003" height="146.6"/></clipPath><g><rect x="339.92" y="39.30" width="13.6" height="143.30" fill="#d6d6d6"/><rect x="400.56" y="39.30" width="13.6" height="143.30" fill="#d6d6d6"/><g clip-path="url(#clipB1)"><path d="M301.7,126.3 L302.7,120.2 L303.7,114.4 L304.7,108.9 L305.7,103.7 L306.7,98.6 L307.7,93.8 L308.7,89.5 L309.7,85.9 L310.7,82.6 L311.7,79.7 L312.7,77.1 L313.7,75.0 L314.7,73.1 L315.7,71.3 L316.7,69.6 L317.7,68.1 L318.7,66.9 L319.7,65.8 L320.7,65.0 L321.7,64.3 L322.7,63.7 L323.7,63.1 L324.7,62.5 L325.7,62.1 L326.7,61.6 L327.7,61.3 L328.7,60.9 L329.7,60.6 L330.7,60.3 L331.7,60.0 L332.7,59.8 L333.7,59.5 L334.7,59.3 L335.7,59.1 L336.7,58.9 L337.7,58.8 L338.7,58.6 L339.7,58.5 L340.7,58.4 L341.7,58.2 L342.7,58.1 L343.7,58.0 L344.7,58.0 L345.7,57.9 L346.7,57.8 L347.7,57.7 L348.7,57.6 L349.7,57.6 L350.7,57.5 L351.7,57.4 L352.7,57.3 L353.7,57.3 L354.7,57.2 L355.7,57.1 L356.7,57.0 L357.7,56.9 L358.7,56.8 L359.7,56.8 L360.7,56.7 L361.7,56.6 L362.7,56.5 L363.7,56.4 L364.7,56.4 L365.7,56.3 L366.7,56.3 L367.7,56.3 L368.7,56.3 L369.7,56.3 L370.7,56.3 L371.7,56.3 L372.7,56.3 L373.7,56.3 L374.7,56.4 L375.7,56.4 L376.7,56.4 L377.7,56.4 L378.7,56.4 L379.7,56.5 L380.7,56.5 L381.7,56.5 L382.7,56.6 L383.7,56.7 L384.7,56.8 L385.7,56.9 L386.7,57.1 L387.7,57.1 L388.7,57.2 L389.7,57.2 L390.7,56.8 L391.7,56.2 L392.7,55.4 L393.7,54.7 L394.7,54.0 L395.7,53.4 L396.7,52.8 L397.7,52.2 L398.7,51.7 L399.7,51.2 L400.7,50.9 L401.7,50.6 L402.7,50.2 L403.7,49.9 L404.7,49.6 L405.7,49.4 L406.7,49.2 L407.7,49.1 L408.7,49.1 L409.7,49.2 L410.7,49.3 L411.7,49.4 L412.7,49.6 L413.7,49.7 L414.7,49.9 L415.7,50.1 L416.7,50.2 L417.7,50.3 L418.7,50.5 L419.7,50.6 L420.7,50.7 L421.7,50.9 L422.7,51.0 L423.7,51.1 L424.7,51.3 L425.7,51.4 L426.7,51.5 L427.7,51.7 L428.7,51.8 L429.7,51.9 L430.7,52.1 L431.7,52.2 L432.7,52.3 L433.7,52.4 L434.7,52.6 L435.7,52.7 L436.7,52.8 L437.7,53.0 L438.7,53.1 L439.7,53.2 L440.7,53.4 L441.7,53.5 L442.7,53.6 L443.7,53.8 L444.7,53.9 L445.7,54.0 L446.7,54.2 L447.7,54.3 L448.7,54.4 L449.7,54.6 L450.7,54.7 L451.7,54.9 L452.7,55.0 L453.7,55.1 L454.7,55.3 L455.7,55.4 L456.7,55.6 L457.7,55.7 L458.7,55.9 L459.7,56.1 L460.7,56.3 L461.7,56.5 L462.7,56.7 L463.7,57.0 L464.7,57.3 L465.7,57.6 L466.7,58.0 L467.7,58.4 L468.7,58.9 L469.7,59.4 L470.7,60.2 L471.7,61.2 L472.7,62.5 L473.7,63.8 L474.7,65.4 L475.7,67.1 L476.7,69.0 L477.7,71.6 L478.7,74.6 L479.7,78.0 L480.7,81.6 L481.7,85.1 L482.7,88.8 L483.7,92.7 L484.7,96.9 L485.7,101.2 L486.7,105.7 L487.7,110.3 L488.7,115.3 L489.7,120.5 L490.7,126.0 L490.9,127.1 L490.9,133.1 L490.7,132.0 L489.7,126.7 L488.7,121.7 L487.7,116.9 L486.7,112.3 L485.7,108.0 L484.7,103.9 L483.7,99.9 L482.7,96.2 L481.7,92.6 L480.7,89.2 L479.7,85.9 L478.7,82.6 L477.7,79.7 L476.7,77.3 L475.7,75.6 L474.7,74.0 L473.7,72.6 L472.7,71.4 L471.7,70.4 L470.7,69.5 L469.7,68.8 L468.7,68.3 L467.7,67.8 L466.7,67.4 L465.7,67.0 L464.7,66.7 L463.7,66.4 L462.7,66.1 L461.7,65.9 L460.7,65.7 L459.7,65.5 L458.7,65.3 L457.7,65.1 L456.7,65.0 L455.7,64.8 L454.7,64.7 L453.7,64.5 L452.7,64.4 L451.7,64.3 L450.7,64.1 L449.7,64.0 L448.7,63.8 L447.7,63.7 L446.7,63.6 L445.7,63.4 L444.7,63.3 L443.7,63.2 L442.7,63.0 L441.7,62.9 L440.7,62.8 L439.7,62.6 L438.7,62.5 L437.7,62.4 L436.7,62.2 L435.7,62.1 L434.7,62.0 L433.7,61.8 L432.7,61.7 L431.7,61.6 L430.7,61.5 L429.7,61.3 L428.7,61.2 L427.7,61.1 L426.7,60.9 L425.7,60.8 L424.7,60.7 L423.7,60.5 L422.7,60.4 L421.7,60.3 L420.7,60.1 L419.7,60.0 L418.7,59.9 L417.7,59.7 L416.7,59.6 L415.7,59.5 L414.7,59.3 L413.7,59.1 L412.7,59.0 L411.7,58.8 L410.7,58.7 L409.7,58.6 L408.7,58.5 L407.7,58.5 L406.7,58.6 L405.7,58.8 L404.7,59.0 L403.7,59.3 L402.7,59.6 L401.7,60.0 L400.7,60.3 L399.7,60.6 L398.7,61.1 L397.7,61.6 L396.7,62.2 L395.7,62.8 L394.7,63.4 L393.7,64.1 L392.7,64.8 L391.7,65.6 L390.7,66.2 L389.7,66.6 L388.7,66.6 L387.7,66.5 L386.7,66.5 L385.7,66.3 L384.7,66.2 L383.7,66.1 L382.7,66.0 L381.7,65.9 L380.7,65.9 L379.7,65.9 L378.7,65.8 L377.7,65.8 L376.7,65.8 L375.7,65.8 L374.7,65.8 L373.7,65.7 L372.7,65.7 L371.7,65.7 L370.7,65.7 L369.7,65.7 L368.7,65.7 L367.7,65.7 L366.7,65.7 L365.7,65.7 L364.7,65.8 L363.7,65.8 L362.7,65.9 L361.7,66.0 L360.7,66.1 L359.7,66.2 L358.7,66.2 L357.7,66.3 L356.7,66.4 L355.7,66.5 L354.7,66.6 L353.7,66.7 L352.7,66.7 L351.7,66.8 L350.7,66.9 L349.7,67.0 L348.7,67.0 L347.7,67.1 L346.7,67.2 L345.7,67.3 L344.7,67.4 L343.7,67.4 L342.7,67.5 L341.7,67.6 L340.7,67.8 L339.7,67.9 L338.7,68.0 L337.7,68.2 L336.7,68.3 L335.7,68.5 L334.7,68.7 L333.7,68.9 L332.7,69.2 L331.7,69.4 L330.7,69.7 L329.7,70.0 L328.7,70.3 L327.7,70.7 L326.7,71.0 L325.7,71.5 L324.7,71.9 L323.7,72.5 L322.7,73.1 L321.7,73.7 L320.7,74.4 L319.7,75.2 L318.7,76.3 L317.7,77.5 L316.7,79.0 L315.7,80.7 L314.7,82.5 L313.7,84.4 L312.7,86.5 L311.7,89.1 L310.7,92.0 L309.7,95.3 L308.7,98.9 L307.7,103.2 L306.7,108.0 L305.7,113.1 L304.7,118.3 L303.7,123.8 L302.7,129.6 L301.7,135.7 Z" fill="#eff6fa" stroke="none"/><path d="M301.7,126.3 L302.7,120.2 L303.7,114.4 L304.7,108.9 L305.7,103.7 L306.7,98.6 L307.7,93.8 L308.7,89.5 L309.7,85.9 L310.7,82.6 L311.7,79.7 L312.7,77.1 L313.7,75.0 L314.7,73.1 L315.7,71.3 L316.7,69.6 L317.7,68.1 L318.7,66.9 L319.7,65.8 L320.7,65.0 L321.7,64.3 L322.7,63.7 L323.7,63.1 L324.7,62.5 L325.7,62.1 L326.7,61.6 L327.7,61.3 L328.7,60.9 L329.7,60.6 L330.7,60.3 L331.7,60.0 L332.7,59.8 L333.7,59.5 L334.7,59.3 L335.7,59.1 L336.7,58.9 L337.7,58.8 L338.7,58.6 L339.7,58.5 L340.7,58.4 L341.7,58.2 L342.7,58.1 L343.7,58.0 L344.7,58.0 L345.7,57.9 L346.7,57.8 L347.7,57.7 L348.7,57.6 L349.7,57.6 L350.7,57.5 L351.7,57.4 L352.7,57.3 L353.7,57.3 L354.7,57.2 L355.7,57.1 L356.7,57.0 L357.7,56.9 L358.7,56.8 L359.7,56.8 L360.7,56.7 L361.7,56.6 L362.7,56.5 L363.7,56.4 L364.7,56.4 L365.7,56.3 L366.7,56.3 L367.7,56.3 L368.7,56.3 L369.7,56.3 L370.7,56.3 L371.7,56.3 L372.7,56.3 L373.7,56.3 L374.7,56.4 L375.7,56.4 L376.7,56.4 L377.7,56.4 L378.7,56.4 L379.7,56.5 L380.7,56.5 L381.7,56.5 L382.7,56.6 L383.7,56.7 L384.7,56.8 L385.7,56.9 L386.7,57.1 L387.7,57.1 L388.7,57.2 L389.7,57.2 L390.7,56.8 L391.7,56.2 L392.7,55.4 L393.7,54.7 L394.7,54.0 L395.7,53.4 L396.7,52.8 L397.7,52.2 L398.7,51.7 L399.7,51.2 L400.7,50.9 L401.7,50.6 L402.7,50.2 L403.7,49.9 L404.7,49.6 L405.7,49.4 L406.7,49.2 L407.7,49.1 L408.7,49.1 L409.7,49.2 L410.7,49.3 L411.7,49.4 L412.7,49.6 L413.7,49.7 L414.7,49.9 L415.7,50.1 L416.7,50.2 L417.7,50.3 L418.7,50.5 L419.7,50.6 L420.7,50.7 L421.7,50.9 L422.7,51.0 L423.7,51.1 L424.7,51.3 L425.7,51.4 L426.7,51.5 L427.7,51.7 L428.7,51.8 L429.7,51.9 L430.7,52.1 L431.7,52.2 L432.7,52.3 L433.7,52.4 L434.7,52.6 L435.7,52.7 L436.7,52.8 L437.7,53.0 L438.7,53.1 L439.7,53.2 L440.7,53.4 L441.7,53.5 L442.7,53.6 L443.7,53.8 L444.7,53.9 L445.7,54.0 L446.7,54.2 L447.7,54.3 L448.7,54.4 L449.7,54.6 L450.7,54.7 L451.7,54.9 L452.7,55.0 L453.7,55.1 L454.7,55.3 L455.7,55.4 L456.7,55.6 L457.7,55.7 L458.7,55.9 L459.7,56.1 L460.7,56.3 L461.7,56.5 L462.7,56.7 L463.7,57.0 L464.7,57.3 L465.7,57.6 L466.7,58.0 L467.7,58.4 L468.7,58.9 L469.7,59.4 L470.7,60.2 L471.7,61.2 L472.7,62.5 L473.7,63.8 L474.7,65.4 L475.7,67.1 L476.7,69.0 L477.7,71.6 L478.7,74.6 L479.7,78.0 L480.7,81.6 L481.7,85.1 L482.7,88.8 L483.7,92.7 L484.7,96.9 L485.7,101.2 L486.7,105.7 L487.7,110.3 L488.7,115.3 L489.7,120.5 L490.7,126.0 L490.9,127.1" fill="none" stroke="#a9d5e5" stroke-width="0.95"/><path d="M301.7,135.7 L302.7,129.6 L303.7,123.8 L304.7,118.3 L305.7,113.1 L306.7,108.0 L307.7,103.2 L308.7,98.9 L309.7,95.3 L310.7,92.0 L311.7,89.1 L312.7,86.5 L313.7,84.4 L314.7,82.5 L315.7,80.7 L316.7,79.0 L317.7,77.5 L318.7,76.3 L319.7,75.2 L320.7,74.4 L321.7,73.7 L322.7,73.1 L323.7,72.5 L324.7,71.9 L325.7,71.5 L326.7,71.0 L327.7,70.7 L328.7,70.3 L329.7,70.0 L330.7,69.7 L331.7,69.4 L332.7,69.2 L333.7,68.9 L334.7,68.7 L335.7,68.5 L336.7,68.3 L337.7,68.2 L338.7,68.0 L339.7,67.9 L340.7,67.8 L341.7,67.6 L342.7,67.5 L343.7,67.4 L344.7,67.4 L345.7,67.3 L346.7,67.2 L347.7,67.1 L348.7,67.0 L349.7,67.0 L350.7,66.9 L351.7,66.8 L352.7,66.7 L353.7,66.7 L354.7,66.6 L355.7,66.5 L356.7,66.4 L357.7,66.3 L358.7,66.2 L359.7,66.2 L360.7,66.1 L361.7,66.0 L362.7,65.9 L363.7,65.8 L364.7,65.8 L365.7,65.7 L366.7,65.7 L367.7,65.7 L368.7,65.7 L369.7,65.7 L370.7,65.7 L371.7,65.7 L372.7,65.7 L373.7,65.7 L374.7,65.8 L375.7,65.8 L376.7,65.8 L377.7,65.8 L378.7,65.8 L379.7,65.9 L380.7,65.9 L381.7,65.9 L382.7,66.0 L383.7,66.1 L384.7,66.2 L385.7,66.3 L386.7,66.5 L387.7,66.5 L388.7,66.6 L389.7,66.6 L390.7,66.2 L391.7,65.6 L392.7,64.8 L393.7,64.1 L394.7,63.4 L395.7,62.8 L396.7,62.2 L397.7,61.6 L398.7,61.1 L399.7,60.6 L400.7,60.3 L401.7,60.0 L402.7,59.6 L403.7,59.3 L404.7,59.0 L405.7,58.8 L406.7,58.6 L407.7,58.5 L408.7,58.5 L409.7,58.6 L410.7,58.7 L411.7,58.8 L412.7,59.0 L413.7,59.1 L414.7,59.3 L415.7,59.5 L416.7,59.6 L417.7,59.7 L418.7,59.9 L419.7,60.0 L420.7,60.1 L421.7,60.3 L422.7,60.4 L423.7,60.5 L424.7,60.7 L425.7,60.8 L426.7,60.9 L427.7,61.1 L428.7,61.2 L429.7,61.3 L430.7,61.5 L431.7,61.6 L432.7,61.7 L433.7,61.8 L434.7,62.0 L435.7,62.1 L436.7,62.2 L437.7,62.4 L438.7,62.5 L439.7,62.6 L440.7,62.8 L441.7,62.9 L442.7,63.0 L443.7,63.2 L444.7,63.3 L445.7,63.4 L446.7,63.6 L447.7,63.7 L448.7,63.8 L449.7,64.0 L450.7,64.1 L451.7,64.3 L452.7,64.4 L453.7,64.5 L454.7,64.7 L455.7,64.8 L456.7,65.0 L457.7,65.1 L458.7,65.3 L459.7,65.5 L460.7,65.7 L461.7,65.9 L462.7,66.1 L463.7,66.4 L464.7,66.7 L465.7,67.0 L466.7,67.4 L467.7,67.8 L468.7,68.3 L469.7,68.8 L470.7,69.5 L471.7,70.4 L472.7,71.4 L473.7,72.6 L474.7,74.0 L475.7,75.6 L476.7,77.3 L477.7,79.7 L478.7,82.6 L479.7,85.9 L480.7,89.2 L481.7,92.6 L482.7,96.2 L483.7,99.9 L484.7,103.9 L485.7,108.0 L486.7,112.3 L487.7,116.9 L488.7,121.7 L489.7,126.7 L490.7,132.0 L490.9,133.1" fill="none" stroke="#a9d5e5" stroke-width="0.8"/><path d="M301.7,114.0 L302.7,108.0 L303.7,102.5 L304.7,97.8 L305.7,93.9 L306.7,90.4 L307.7,87.4 L308.7,85.1 L309.7,83.5 L310.7,82.2 L311.7,81.0 L312.7,80.0 L313.7,79.3 L314.7,78.9 L315.7,78.6 L316.7,78.4 L317.7,78.2 L318.7,78.0 L319.7,77.8 L320.7,77.7 L321.7,77.6 L322.7,77.5 L323.7,77.5 L324.7,77.5 L325.7,77.6 L326.7,77.7 L327.7,77.9 L328.7,78.1 L329.7,78.3 L330.7,78.6 L331.7,78.9 L332.7,79.2 L333.7,79.5 L334.7,79.8 L335.7,80.1 L336.7,80.5 L337.7,80.8 L338.7,81.2 L339.7,81.6 L340.7,81.9 L341.7,82.3 L342.7,82.7 L343.7,83.1 L344.7,83.4 L345.7,83.8 L346.7,84.0 L347.7,84.3 L348.7,84.5 L349.7,84.7 L350.7,84.9 L351.7,85.0 L352.7,85.2 L353.7,85.4 L354.7,85.6 L355.7,85.8 L356.7,86.1 L357.7,86.3 L358.7,86.6 L359.7,86.9 L360.7,87.1 L361.7,87.4 L362.7,87.7 L363.7,88.0 L364.7,88.2 L365.7,88.5 L366.7,88.8 L367.7,89.0 L368.7,89.3 L369.7,89.5 L370.7,89.7 L371.7,90.0 L372.7,90.2 L373.7,90.4 L374.7,90.6 L375.7,90.9 L376.7,91.1 L377.7,91.3 L378.7,91.5 L379.7,91.8 L380.7,92.0 L381.7,92.2 L382.7,92.4 L383.7,92.6 L384.7,92.8 L385.7,93.0 L386.7,93.2 L387.7,93.5 L388.7,93.7 L389.7,94.1 L390.7,94.5 L391.7,95.2 L392.7,96.3 L393.7,97.5 L394.7,98.7 L395.7,100.0 L396.7,101.3 L397.7,102.8 L398.7,104.3 L399.7,105.7 L400.7,107.2 L401.7,108.5 L402.7,109.8 L403.7,111.2 L404.7,112.7 L405.7,114.1 L406.7,115.2 L407.7,116.1 L408.7,116.6 L409.7,116.6 L410.7,116.0 L411.7,114.9 L412.7,113.6 L413.7,112.1 L414.7,110.7 L415.7,109.4 L416.7,107.9 L417.7,106.3 L418.7,104.7 L419.7,103.2 L420.7,102.0 L421.7,101.2 L422.7,100.9 L423.7,100.6 L424.7,100.4 L425.7,100.2 L426.7,100.1 L427.7,100.0 L428.7,99.9 L429.7,99.7 L430.7,99.6 L431.7,99.4 L432.7,99.1 L433.7,98.8 L434.7,98.4 L435.7,97.9 L436.7,97.4 L437.7,96.8 L438.7,96.2 L439.7,95.5 L440.7,94.8 L441.7,94.1 L442.7,93.4 L443.7,92.6 L444.7,91.6 L445.7,90.6 L446.7,89.5 L447.7,88.4 L448.7,87.3 L449.7,86.3 L450.7,85.2 L451.7,84.3 L452.7,83.3 L453.7,82.3 L454.7,81.2 L455.7,80.1 L456.7,79.1 L457.7,78.2 L458.7,77.5 L459.7,77.0 L460.7,76.8 L461.7,77.0 L462.7,77.6 L463.7,78.5 L464.7,79.7 L465.7,81.0 L466.7,82.4 L467.7,83.8 L468.7,85.3 L469.7,87.3 L470.7,89.5 L471.7,91.8 L472.7,93.8 L473.7,95.2 L474.7,95.7 L475.7,95.3 L476.7,94.3 L477.7,92.8 L478.7,90.9 L479.7,89.0 L480.7,87.0 L481.7,85.3 L482.7,83.3 L483.7,81.2 L484.7,78.9 L485.7,76.6 L486.7,74.4 L487.7,72.5 L488.7,71.0 L489.7,70.0 L490.7,69.5 L490.9,69.4 L490.9,77.4 L490.7,77.5 L489.7,78.0 L488.7,79.0 L487.7,80.5 L486.7,82.4 L485.7,84.6 L484.7,86.9 L483.7,89.2 L482.7,91.3 L481.7,93.3 L480.7,95.0 L479.7,97.0 L478.7,98.9 L477.7,100.8 L476.7,102.3 L475.7,103.3 L474.7,103.7 L473.7,103.2 L472.7,101.8 L471.7,99.8 L470.7,97.5 L469.7,95.3 L468.7,93.3 L467.7,91.8 L466.7,90.4 L465.7,89.0 L464.7,87.7 L463.7,86.5 L462.7,85.6 L461.7,85.0 L460.7,84.8 L459.7,85.0 L458.7,85.5 L457.7,86.2 L456.7,87.1 L455.7,88.1 L454.7,89.2 L453.7,90.3 L452.7,91.3 L451.7,92.3 L450.7,93.2 L449.7,94.3 L448.7,95.3 L447.7,96.4 L446.7,97.5 L445.7,98.6 L444.7,99.6 L443.7,100.6 L442.7,101.4 L441.7,102.1 L440.7,102.8 L439.7,103.5 L438.7,104.2 L437.7,104.8 L436.7,105.4 L435.7,105.9 L434.7,106.4 L433.7,106.8 L432.7,107.1 L431.7,107.4 L430.7,107.6 L429.7,107.7 L428.7,107.9 L427.7,108.0 L426.7,108.1 L425.7,108.2 L424.7,108.4 L423.7,108.6 L422.7,108.9 L421.7,109.2 L420.7,110.0 L419.7,111.2 L418.7,112.7 L417.7,114.3 L416.7,115.9 L415.7,117.4 L414.7,118.7 L413.7,120.1 L412.7,121.6 L411.7,122.9 L410.7,124.0 L409.7,124.6 L408.7,124.6 L407.7,124.1 L406.7,123.2 L405.7,122.1 L404.7,120.7 L403.7,119.2 L402.7,117.8 L401.7,116.5 L400.7,115.2 L399.7,113.7 L398.7,112.3 L397.7,110.8 L396.7,109.3 L395.7,108.0 L394.7,106.7 L393.7,105.5 L392.7,104.3 L391.7,103.2 L390.7,102.5 L389.7,102.1 L388.7,101.7 L387.7,101.5 L386.7,101.2 L385.7,101.0 L384.7,100.8 L383.7,100.6 L382.7,100.4 L381.7,100.2 L380.7,100.0 L379.7,99.8 L378.7,99.5 L377.7,99.3 L376.7,99.1 L375.7,98.9 L374.7,98.6 L373.7,98.4 L372.7,98.2 L371.7,98.0 L370.7,97.7 L369.7,97.5 L368.7,97.3 L367.7,97.0 L366.7,96.8 L365.7,96.5 L364.7,96.2 L363.7,96.0 L362.7,95.7 L361.7,95.4 L360.7,95.1 L359.7,94.9 L358.7,94.6 L357.7,94.3 L356.7,94.1 L355.7,93.8 L354.7,93.6 L353.7,93.4 L352.7,93.2 L351.7,93.0 L350.7,92.9 L349.7,92.7 L348.7,92.5 L347.7,92.3 L346.7,92.0 L345.7,91.8 L344.7,91.4 L343.7,91.1 L342.7,90.7 L341.7,90.3 L340.7,89.9 L339.7,89.6 L338.7,89.2 L337.7,88.8 L336.7,88.5 L335.7,88.1 L334.7,87.8 L333.7,87.5 L332.7,87.2 L331.7,86.9 L330.7,86.6 L329.7,86.3 L328.7,86.1 L327.7,85.9 L326.7,85.7 L325.7,85.6 L324.7,85.5 L323.7,85.5 L322.7,85.5 L321.7,85.6 L320.7,85.7 L319.7,85.8 L318.7,86.0 L317.7,86.2 L316.7,86.4 L315.7,86.6 L314.7,86.9 L313.7,87.3 L312.7,88.0 L311.7,89.0 L310.7,90.2 L309.7,91.5 L308.7,93.1 L307.7,95.4 L306.7,98.4 L305.7,101.9 L304.7,105.8 L303.7,110.5 L302.7,116.0 L301.7,122.0 Z" fill="#f5e9f2" stroke="none"/><path d="M301.7,114.0 L302.7,108.0 L303.7,102.5 L304.7,97.8 L305.7,93.9 L306.7,90.4 L307.7,87.4 L308.7,85.1 L309.7,83.5 L310.7,82.2 L311.7,81.0 L312.7,80.0 L313.7,79.3 L314.7,78.9 L315.7,78.6 L316.7,78.4 L317.7,78.2 L318.7,78.0 L319.7,77.8 L320.7,77.7 L321.7,77.6 L322.7,77.5 L323.7,77.5 L324.7,77.5 L325.7,77.6 L326.7,77.7 L327.7,77.9 L328.7,78.1 L329.7,78.3 L330.7,78.6 L331.7,78.9 L332.7,79.2 L333.7,79.5 L334.7,79.8 L335.7,80.1 L336.7,80.5 L337.7,80.8 L338.7,81.2 L339.7,81.6 L340.7,81.9 L341.7,82.3 L342.7,82.7 L343.7,83.1 L344.7,83.4 L345.7,83.8 L346.7,84.0 L347.7,84.3 L348.7,84.5 L349.7,84.7 L350.7,84.9 L351.7,85.0 L352.7,85.2 L353.7,85.4 L354.7,85.6 L355.7,85.8 L356.7,86.1 L357.7,86.3 L358.7,86.6 L359.7,86.9 L360.7,87.1 L361.7,87.4 L362.7,87.7 L363.7,88.0 L364.7,88.2 L365.7,88.5 L366.7,88.8 L367.7,89.0 L368.7,89.3 L369.7,89.5 L370.7,89.7 L371.7,90.0 L372.7,90.2 L373.7,90.4 L374.7,90.6 L375.7,90.9 L376.7,91.1 L377.7,91.3 L378.7,91.5 L379.7,91.8 L380.7,92.0 L381.7,92.2 L382.7,92.4 L383.7,92.6 L384.7,92.8 L385.7,93.0 L386.7,93.2 L387.7,93.5 L388.7,93.7 L389.7,94.1 L390.7,94.5 L391.7,95.2 L392.7,96.3 L393.7,97.5 L394.7,98.7 L395.7,100.0 L396.7,101.3 L397.7,102.8 L398.7,104.3 L399.7,105.7 L400.7,107.2 L401.7,108.5 L402.7,109.8 L403.7,111.2 L404.7,112.7 L405.7,114.1 L406.7,115.2 L407.7,116.1 L408.7,116.6 L409.7,116.6 L410.7,116.0 L411.7,114.9 L412.7,113.6 L413.7,112.1 L414.7,110.7 L415.7,109.4 L416.7,107.9 L417.7,106.3 L418.7,104.7 L419.7,103.2 L420.7,102.0 L421.7,101.2 L422.7,100.9 L423.7,100.6 L424.7,100.4 L425.7,100.2 L426.7,100.1 L427.7,100.0 L428.7,99.9 L429.7,99.7 L430.7,99.6 L431.7,99.4 L432.7,99.1 L433.7,98.8 L434.7,98.4 L435.7,97.9 L436.7,97.4 L437.7,96.8 L438.7,96.2 L439.7,95.5 L440.7,94.8 L441.7,94.1 L442.7,93.4 L443.7,92.6 L444.7,91.6 L445.7,90.6 L446.7,89.5 L447.7,88.4 L448.7,87.3 L449.7,86.3 L450.7,85.2 L451.7,84.3 L452.7,83.3 L453.7,82.3 L454.7,81.2 L455.7,80.1 L456.7,79.1 L457.7,78.2 L458.7,77.5 L459.7,77.0 L460.7,76.8 L461.7,77.0 L462.7,77.6 L463.7,78.5 L464.7,79.7 L465.7,81.0 L466.7,82.4 L467.7,83.8 L468.7,85.3 L469.7,87.3 L470.7,89.5 L471.7,91.8 L472.7,93.8 L473.7,95.2 L474.7,95.7 L475.7,95.3 L476.7,94.3 L477.7,92.8 L478.7,90.9 L479.7,89.0 L480.7,87.0 L481.7,85.3 L482.7,83.3 L483.7,81.2 L484.7,78.9 L485.7,76.6 L486.7,74.4 L487.7,72.5 L488.7,71.0 L489.7,70.0 L490.7,69.5 L490.9,69.4" fill="none" stroke="#d4a2d0" stroke-width="0.95"/><path d="M301.7,122.0 L302.7,116.0 L303.7,110.5 L304.7,105.8 L305.7,101.9 L306.7,98.4 L307.7,95.4 L308.7,93.1 L309.7,91.5 L310.7,90.2 L311.7,89.0 L312.7,88.0 L313.7,87.3 L314.7,86.9 L315.7,86.6 L316.7,86.4 L317.7,86.2 L318.7,86.0 L319.7,85.8 L320.7,85.7 L321.7,85.6 L322.7,85.5 L323.7,85.5 L324.7,85.5 L325.7,85.6 L326.7,85.7 L327.7,85.9 L328.7,86.1 L329.7,86.3 L330.7,86.6 L331.7,86.9 L332.7,87.2 L333.7,87.5 L334.7,87.8 L335.7,88.1 L336.7,88.5 L337.7,88.8 L338.7,89.2 L339.7,89.6 L340.7,89.9 L341.7,90.3 L342.7,90.7 L343.7,91.1 L344.7,91.4 L345.7,91.8 L346.7,92.0 L347.7,92.3 L348.7,92.5 L349.7,92.7 L350.7,92.9 L351.7,93.0 L352.7,93.2 L353.7,93.4 L354.7,93.6 L355.7,93.8 L356.7,94.1 L357.7,94.3 L358.7,94.6 L359.7,94.9 L360.7,95.1 L361.7,95.4 L362.7,95.7 L363.7,96.0 L364.7,96.2 L365.7,96.5 L366.7,96.8 L367.7,97.0 L368.7,97.3 L369.7,97.5 L370.7,97.7 L371.7,98.0 L372.7,98.2 L373.7,98.4 L374.7,98.6 L375.7,98.9 L376.7,99.1 L377.7,99.3 L378.7,99.5 L379.7,99.8 L380.7,100.0 L381.7,100.2 L382.7,100.4 L383.7,100.6 L384.7,100.8 L385.7,101.0 L386.7,101.2 L387.7,101.5 L388.7,101.7 L389.7,102.1 L390.7,102.5 L391.7,103.2 L392.7,104.3 L393.7,105.5 L394.7,106.7 L395.7,108.0 L396.7,109.3 L397.7,110.8 L398.7,112.3 L399.7,113.7 L400.7,115.2 L401.7,116.5 L402.7,117.8 L403.7,119.2 L404.7,120.7 L405.7,122.1 L406.7,123.2 L407.7,124.1 L408.7,124.6 L409.7,124.6 L410.7,124.0 L411.7,122.9 L412.7,121.6 L413.7,120.1 L414.7,118.7 L415.7,117.4 L416.7,115.9 L417.7,114.3 L418.7,112.7 L419.7,111.2 L420.7,110.0 L421.7,109.2 L422.7,108.9 L423.7,108.6 L424.7,108.4 L425.7,108.2 L426.7,108.1 L427.7,108.0 L428.7,107.9 L429.7,107.7 L430.7,107.6 L431.7,107.4 L432.7,107.1 L433.7,106.8 L434.7,106.4 L435.7,105.9 L436.7,105.4 L437.7,104.8 L438.7,104.2 L439.7,103.5 L440.7,102.8 L441.7,102.1 L442.7,101.4 L443.7,100.6 L444.7,99.6 L445.7,98.6 L446.7,97.5 L447.7,96.4 L448.7,95.3 L449.7,94.3 L450.7,93.2 L451.7,92.3 L452.7,91.3 L453.7,90.3 L454.7,89.2 L455.7,88.1 L456.7,87.1 L457.7,86.2 L458.7,85.5 L459.7,85.0 L460.7,84.8 L461.7,85.0 L462.7,85.6 L463.7,86.5 L464.7,87.7 L465.7,89.0 L466.7,90.4 L467.7,91.8 L468.7,93.3 L469.7,95.3 L470.7,97.5 L471.7,99.8 L472.7,101.8 L473.7,103.2 L474.7,103.7 L475.7,103.3 L476.7,102.3 L477.7,100.8 L478.7,98.9 L479.7,97.0 L480.7,95.0 L481.7,93.3 L482.7,91.3 L483.7,89.2 L484.7,86.9 L485.7,84.6 L486.7,82.4 L487.7,80.5 L488.7,79.0 L489.7,78.0 L490.7,77.5 L490.9,77.4" fill="none" stroke="#d4a2d0" stroke-width="0.8"/><path d="M301.7,131.0 L302.7,124.9 L303.7,119.1 L304.7,113.6 L305.7,108.4 L306.7,103.3 L307.7,98.5 L308.7,94.2 L309.7,90.6 L310.7,87.3 L311.7,84.4 L312.7,81.8 L313.7,79.7 L314.7,77.8 L315.7,76.0 L316.7,74.3 L317.7,72.8 L318.7,71.6 L319.7,70.5 L320.7,69.7 L321.7,69.0 L322.7,68.4 L323.7,67.8 L324.7,67.2 L325.7,66.8 L326.7,66.3 L327.7,66.0 L328.7,65.6 L329.7,65.3 L330.7,65.0 L331.7,64.7 L332.7,64.5 L333.7,64.2 L334.7,64.0 L335.7,63.8 L336.7,63.6 L337.7,63.5 L338.7,63.3 L339.7,63.2 L340.7,63.1 L341.7,62.9 L342.7,62.8 L343.7,62.7 L344.7,62.7 L345.7,62.6 L346.7,62.5 L347.7,62.4 L348.7,62.3 L349.7,62.3 L350.7,62.2 L351.7,62.1 L352.7,62.0 L353.7,62.0 L354.7,61.9 L355.7,61.8 L356.7,61.7 L357.7,61.6 L358.7,61.5 L359.7,61.5 L360.7,61.4 L361.7,61.3 L362.7,61.2 L363.7,61.1 L364.7,61.1 L365.7,61.0 L366.7,61.0 L367.7,61.0 L368.7,61.0 L369.7,61.0 L370.7,61.0 L371.7,61.0 L372.7,61.0 L373.7,61.0 L374.7,61.1 L375.7,61.1 L376.7,61.1 L377.7,61.1 L378.7,61.1 L379.7,61.2 L380.7,61.2 L381.7,61.2 L382.7,61.3 L383.7,61.4 L384.7,61.5 L385.7,61.6 L386.7,61.8 L387.7,61.8 L388.7,61.9 L389.7,61.9 L390.7,61.5 L391.7,60.9 L392.7,60.1 L393.7,59.4 L394.7,58.7 L395.7,58.1 L396.7,57.5 L397.7,56.9 L398.7,56.4 L399.7,55.9 L400.7,55.6 L401.7,55.3 L402.7,54.9 L403.7,54.6 L404.7,54.3 L405.7,54.1 L406.7,53.9 L407.7,53.8 L408.7,53.8 L409.7,53.9 L410.7,54.0 L411.7,54.1 L412.7,54.3 L413.7,54.4 L414.7,54.6 L415.7,54.8 L416.7,54.9 L417.7,55.0 L418.7,55.2 L419.7,55.3 L420.7,55.4 L421.7,55.6 L422.7,55.7 L423.7,55.8 L424.7,56.0 L425.7,56.1 L426.7,56.2 L427.7,56.4 L428.7,56.5 L429.7,56.6 L430.7,56.8 L431.7,56.9 L432.7,57.0 L433.7,57.1 L434.7,57.3 L435.7,57.4 L436.7,57.5 L437.7,57.7 L438.7,57.8 L439.7,57.9 L440.7,58.1 L441.7,58.2 L442.7,58.3 L443.7,58.5 L444.7,58.6 L445.7,58.7 L446.7,58.9 L447.7,59.0 L448.7,59.1 L449.7,59.3 L450.7,59.4 L451.7,59.6 L452.7,59.7 L453.7,59.8 L454.7,60.0 L455.7,60.1 L456.7,60.3 L457.7,60.4 L458.7,60.6 L459.7,60.8 L460.7,61.0 L461.7,61.2 L462.7,61.4 L463.7,61.7 L464.7,62.0 L465.7,62.3 L466.7,62.7 L467.7,63.1 L468.7,63.6 L469.7,64.1 L470.7,64.9 L471.7,65.8 L472.7,66.9 L473.7,68.2 L474.7,69.7 L475.7,71.3 L476.7,73.2 L477.7,75.7 L478.7,78.6 L479.7,81.9 L480.7,85.4 L481.7,88.9 L482.7,92.5 L483.7,96.3 L484.7,100.4 L485.7,104.6 L486.7,109.0 L487.7,113.6 L488.7,118.5 L489.7,123.6 L490.7,129.0 L490.9,130.1" fill="none" stroke="#66b3cf" stroke-width="1.5" stroke-linejoin="round"/><path d="M301.7,118.0 L302.7,112.0 L303.7,106.5 L304.7,101.8 L305.7,97.9 L306.7,94.4 L307.7,91.4 L308.7,89.1 L309.7,87.5 L310.7,86.2 L311.7,85.0 L312.7,84.0 L313.7,83.3 L314.7,82.9 L315.7,82.6 L316.7,82.4 L317.7,82.2 L318.7,82.0 L319.7,81.8 L320.7,81.7 L321.7,81.6 L322.7,81.5 L323.7,81.5 L324.7,81.5 L325.7,81.6 L326.7,81.7 L327.7,81.9 L328.7,82.1 L329.7,82.3 L330.7,82.6 L331.7,82.9 L332.7,83.2 L333.7,83.5 L334.7,83.8 L335.7,84.1 L336.7,84.5 L337.7,84.8 L338.7,85.2 L339.7,85.6 L340.7,85.9 L341.7,86.3 L342.7,86.7 L343.7,87.1 L344.7,87.4 L345.7,87.8 L346.7,88.0 L347.7,88.3 L348.7,88.5 L349.7,88.7 L350.7,88.9 L351.7,89.0 L352.7,89.2 L353.7,89.4 L354.7,89.6 L355.7,89.8 L356.7,90.1 L357.7,90.3 L358.7,90.6 L359.7,90.9 L360.7,91.1 L361.7,91.4 L362.7,91.7 L363.7,92.0 L364.7,92.2 L365.7,92.5 L366.7,92.8 L367.7,93.0 L368.7,93.3 L369.7,93.5 L370.7,93.7 L371.7,94.0 L372.7,94.2 L373.7,94.4 L374.7,94.6 L375.7,94.9 L376.7,95.1 L377.7,95.3 L378.7,95.5 L379.7,95.8 L380.7,96.0 L381.7,96.2 L382.7,96.4 L383.7,96.6 L384.7,96.8 L385.7,97.0 L386.7,97.2 L387.7,97.5 L388.7,97.7 L389.7,98.1 L390.7,98.5 L391.7,99.2 L392.7,100.3 L393.7,101.5 L394.7,102.7 L395.7,104.0 L396.7,105.3 L397.7,106.8 L398.7,108.3 L399.7,109.7 L400.7,111.2 L401.7,112.5 L402.7,113.8 L403.7,115.2 L404.7,116.7 L405.7,118.1 L406.7,119.2 L407.7,120.1 L408.7,120.6 L409.7,120.6 L410.7,120.0 L411.7,118.9 L412.7,117.6 L413.7,116.1 L414.7,114.7 L415.7,113.4 L416.7,111.9 L417.7,110.3 L418.7,108.7 L419.7,107.2 L420.7,106.0 L421.7,105.2 L422.7,104.9 L423.7,104.6 L424.7,104.4 L425.7,104.2 L426.7,104.1 L427.7,104.0 L428.7,103.9 L429.7,103.7 L430.7,103.6 L431.7,103.4 L432.7,103.1 L433.7,102.8 L434.7,102.4 L435.7,101.9 L436.7,101.4 L437.7,100.8 L438.7,100.2 L439.7,99.5 L440.7,98.8 L441.7,98.1 L442.7,97.4 L443.7,96.6 L444.7,95.6 L445.7,94.6 L446.7,93.5 L447.7,92.4 L448.7,91.3 L449.7,90.3 L450.7,89.2 L451.7,88.3 L452.7,87.3 L453.7,86.3 L454.7,85.2 L455.7,84.1 L456.7,83.1 L457.7,82.2 L458.7,81.5 L459.7,81.0 L460.7,80.8 L461.7,81.0 L462.7,81.6 L463.7,82.5 L464.7,83.7 L465.7,85.0 L466.7,86.4 L467.7,87.8 L468.7,89.3 L469.7,91.3 L470.7,93.5 L471.7,95.8 L472.7,97.8 L473.7,99.2 L474.7,99.7 L475.7,99.3 L476.7,98.3 L477.7,96.8 L478.7,94.9 L479.7,93.0 L480.7,91.0 L481.7,89.3 L482.7,87.3 L483.7,85.2 L484.7,82.9 L485.7,80.6 L486.7,78.4 L487.7,76.5 L488.7,75.0 L489.7,74.0 L490.7,73.5 L490.9,73.4" fill="none" stroke="#8e318f" stroke-width="1.5" stroke-linejoin="round"/></g><line x1="309.20" y1="41.70" x2="309.20" y2="182.90" stroke="#262626" stroke-width="1.35" stroke-dasharray="1.4 2.6"/><line x1="339.52" y1="41.70" x2="339.52" y2="182.90" stroke="#262626" stroke-width="1.35" stroke-dasharray="1.4 2.6"/><line x1="354.68" y1="41.70" x2="354.68" y2="182.90" stroke="#262626" stroke-width="1.35" stroke-dasharray="1.4 2.6"/><line x1="400.16" y1="41.70" x2="400.16" y2="182.90" stroke="#262626" stroke-width="1.35" stroke-dasharray="1.4 2.6"/><line x1="415.32" y1="41.70" x2="415.32" y2="182.90" stroke="#262626" stroke-width="1.35" stroke-dasharray="1.4 2.6"/><line x1="460.80" y1="41.70" x2="460.80" y2="182.90" stroke="#262626" stroke-width="1.35" stroke-dasharray="1.4 2.6"/><path d="M301.70,39.00 L301.70,182.60 L491.10,182.60" fill="none" stroke="#6d6e71" stroke-width="1.1"/><line x1="301.70" y1="174.30" x2="303.90" y2="174.30" stroke="#6d6e71" stroke-width="1"/><text x="296.90" y="180.90" text-anchor="end" font-family='"Liberation Sans", sans-serif' font-size="12" fill="#231f20">0</text><line x1="301.70" y1="131.90" x2="303.90" y2="131.90" stroke="#6d6e71" stroke-width="1"/><text x="296.90" y="138.50" text-anchor="end" font-family='"Liberation Sans", sans-serif' font-size="12" fill="#231f20">5</text><line x1="301.70" y1="89.90" x2="303.90" y2="89.90" stroke="#6d6e71" stroke-width="1"/><text x="296.90" y="96.50" text-anchor="end" font-family='"Liberation Sans", sans-serif' font-size="12" fill="#231f20">10</text><line x1="301.70" y1="47.20" x2="303.90" y2="47.20" stroke="#6d6e71" stroke-width="1"/><text x="296.90" y="53.80" text-anchor="end" font-family='"Liberation Sans", sans-serif' font-size="12" fill="#231f20">15</text><line x1="309.20" y1="182.60" x2="309.20" y2="180.60" stroke="#262626" stroke-width="1"/><text x="309.40" y="193.60" text-anchor="middle" font-family='"Liberation Sans", sans-serif' font-size="12" fill="#231f20">0</text><line x1="339.52" y1="182.60" x2="339.52" y2="180.60" stroke="#262626" stroke-width="1"/><text x="338.92" y="193.60" text-anchor="middle" font-family='"Liberation Sans", sans-serif' font-size="12" fill="#231f20">1</text><line x1="400.16" y1="182.60" x2="400.16" y2="180.60" stroke="#262626" stroke-width="1"/><text x="400.36" y="193.60" text-anchor="middle" font-family='"Liberation Sans", sans-serif' font-size="12" fill="#231f20">3</text><line x1="460.80" y1="182.60" x2="460.80" y2="180.60" stroke="#262626" stroke-width="1"/><text x="461.00" y="193.60" text-anchor="middle" font-family='"Liberation Sans", sans-serif' font-size="12" fill="#231f20">5</text><text x="376.40" y="205.70" font-family='"Liberation Sans", sans-serif' font-size="12" fill="#231f20" textLength="40" lengthAdjust="spacingAndGlyphs">Time (s)</text><text x="357.30" y="35.80" font-family='"Liberation Sans", sans-serif' font-size="12" fill="#231f20" textLength="40.9" lengthAdjust="spacingAndGlyphs">8-14 Hz</text><text transform="translate(277.85,160.10) rotate(-90)" x="0" y="0" font-family='"Liberation Sans", sans-serif' font-size="12" fill="#231f20" textLength="61.4" lengthAdjust="spacingAndGlyphs">Power (dB)</text></g><clipPath id="clipB2"><rect x="301.7" y="226.0" width="190.40000000000003" height="147.39999999999998"/></clipPath><g><rect x="339.92" y="230.70" width="13.6" height="142.70" fill="#d6d6d6"/><rect x="400.56" y="230.70" width="13.6" height="142.70" fill="#d6d6d6"/><g clip-path="url(#clipB2)"><path d="M301.6,320.0 L302.6,315.4 L303.6,310.8 L304.6,306.5 L305.6,302.3 L306.6,298.1 L307.6,294.1 L308.6,290.4 L309.6,286.8 L310.6,283.2 L311.6,279.8 L312.6,276.8 L313.6,274.5 L314.6,272.6 L315.6,271.0 L316.6,269.5 L317.6,268.1 L318.6,266.9 L319.6,265.9 L320.6,265.1 L321.6,264.3 L322.6,263.6 L323.6,263.0 L324.6,262.5 L325.6,261.9 L326.6,261.4 L327.6,260.9 L328.6,260.4 L329.6,259.9 L330.6,259.4 L331.6,258.9 L332.6,258.4 L333.6,257.9 L334.6,257.3 L335.6,256.6 L336.6,255.8 L337.6,255.1 L338.6,254.7 L339.6,254.5 L340.6,254.5 L341.6,254.6 L342.6,254.8 L343.6,254.9 L344.6,255.1 L345.6,255.3 L346.6,255.5 L347.6,255.6 L348.6,255.7 L349.6,255.8 L350.6,255.7 L351.6,255.1 L352.6,254.2 L353.6,253.2 L354.6,252.5 L355.6,251.9 L356.6,251.4 L357.6,250.9 L358.6,250.5 L359.6,250.0 L360.6,249.6 L361.6,249.3 L362.6,249.0 L363.6,248.7 L364.6,248.5 L365.6,248.3 L366.6,248.1 L367.6,247.9 L368.6,247.8 L369.6,247.6 L370.6,247.5 L371.6,247.3 L372.6,247.2 L373.6,247.1 L374.6,247.1 L375.6,247.0 L376.6,247.0 L377.6,247.0 L378.6,247.1 L379.6,247.2 L380.6,247.4 L381.6,247.6 L382.6,247.8 L383.6,248.0 L384.6,248.2 L385.6,248.5 L386.6,248.7 L387.6,248.9 L388.6,249.0 L389.6,249.1 L390.6,249.1 L391.6,249.1 L392.6,249.1 L393.6,249.1 L394.6,249.1 L395.6,249.1 L396.6,248.8 L397.6,248.4 L398.6,247.8 L399.6,247.2 L400.6,246.6 L401.6,246.0 L402.6,245.6 L403.6,245.3 L404.6,245.2 L405.6,245.3 L406.6,245.4 L407.6,245.7 L408.6,245.9 L409.6,246.3 L410.6,246.6 L411.6,246.9 L412.6,247.1 L413.6,247.3 L414.6,247.5 L415.6,247.5 L416.6,247.4 L417.6,247.1 L418.6,246.7 L419.6,246.2 L420.6,245.7 L421.6,245.2 L422.6,244.6 L423.6,244.2 L424.6,243.9 L425.6,243.6 L426.6,243.6 L427.6,243.6 L428.6,243.7 L429.6,243.7 L430.6,243.8 L431.6,243.9 L432.6,243.9 L433.6,244.1 L434.6,244.2 L435.6,244.3 L436.6,244.4 L437.6,244.6 L438.6,244.7 L439.6,244.9 L440.6,245.0 L441.6,245.1 L442.6,245.3 L443.6,245.4 L444.6,245.6 L445.6,245.8 L446.6,245.9 L447.6,246.1 L448.6,246.3 L449.6,246.5 L450.6,246.8 L451.6,247.0 L452.6,247.3 L453.6,247.5 L454.6,247.8 L455.6,248.1 L456.6,248.4 L457.6,248.7 L458.6,249.1 L459.6,249.4 L460.6,249.8 L461.6,250.2 L462.6,250.8 L463.6,251.3 L464.6,252.0 L465.6,252.7 L466.6,253.5 L467.6,254.4 L468.6,255.3 L469.6,256.3 L470.6,257.4 L471.6,258.6 L472.6,260.0 L473.6,261.5 L474.6,263.1 L475.6,264.9 L476.6,266.9 L477.6,269.1 L478.6,271.6 L479.6,274.6 L480.6,278.2 L481.6,282.2 L482.6,286.6 L483.6,291.1 L484.6,295.8 L485.6,300.8 L486.6,306.2 L487.6,311.9 L488.6,318.0 L489.6,324.3 L490.6,331.0 L490.6,337.0 L489.6,330.5 L488.6,324.4 L487.6,318.5 L486.6,312.9 L485.6,307.8 L484.6,303.0 L483.6,298.5 L482.6,294.1 L481.6,290.0 L480.6,286.1 L479.6,282.7 L478.6,279.9 L477.6,277.6 L476.6,275.7 L475.6,273.9 L474.6,272.2 L473.6,270.8 L472.6,269.5 L471.6,268.3 L470.6,267.3 L469.6,266.3 L468.6,265.3 L467.6,264.4 L466.6,263.5 L465.6,262.7 L464.6,262.0 L463.6,261.3 L462.6,260.8 L461.6,260.2 L460.6,259.8 L459.6,259.4 L458.6,259.1 L457.6,258.7 L456.6,258.4 L455.6,258.1 L454.6,257.8 L453.6,257.5 L452.6,257.3 L451.6,257.0 L450.6,256.8 L449.6,256.5 L448.6,256.3 L447.6,256.1 L446.6,255.9 L445.6,255.8 L444.6,255.6 L443.6,255.4 L442.6,255.3 L441.6,255.1 L440.6,255.0 L439.6,254.9 L438.6,254.7 L437.6,254.6 L436.6,254.4 L435.6,254.3 L434.6,254.2 L433.6,254.1 L432.6,253.9 L431.6,253.9 L430.6,253.8 L429.6,253.7 L428.6,253.7 L427.6,253.6 L426.6,253.6 L425.6,253.6 L424.6,253.9 L423.6,254.2 L422.6,254.6 L421.6,255.2 L420.6,255.7 L419.6,256.2 L418.6,256.7 L417.6,257.1 L416.6,257.4 L415.6,257.5 L414.6,257.5 L413.6,257.3 L412.6,257.1 L411.6,256.9 L410.6,256.6 L409.6,256.3 L408.6,255.9 L407.6,255.7 L406.6,255.4 L405.6,255.3 L404.6,255.2 L403.6,255.3 L402.6,255.6 L401.6,256.0 L400.6,256.6 L399.6,257.2 L398.6,257.8 L397.6,258.4 L396.6,258.8 L395.6,259.1 L394.6,259.1 L393.6,259.1 L392.6,259.1 L391.6,259.1 L390.6,259.1 L389.6,259.1 L388.6,259.0 L387.6,258.9 L386.6,258.7 L385.6,258.5 L384.6,258.2 L383.6,258.0 L382.6,257.8 L381.6,257.6 L380.6,257.4 L379.6,257.2 L378.6,257.1 L377.6,257.0 L376.6,257.0 L375.6,257.0 L374.6,257.1 L373.6,257.1 L372.6,257.2 L371.6,257.3 L370.6,257.5 L369.6,257.6 L368.6,257.8 L367.6,257.9 L366.6,258.1 L365.6,258.3 L364.6,258.5 L363.6,258.7 L362.6,259.0 L361.6,259.3 L360.6,259.6 L359.6,260.0 L358.6,260.5 L357.6,260.9 L356.6,261.4 L355.6,261.9 L354.6,262.5 L353.6,263.2 L352.6,264.2 L351.6,265.1 L350.6,265.7 L349.6,265.8 L348.6,265.7 L347.6,265.6 L346.6,265.5 L345.6,265.3 L344.6,265.1 L343.6,264.9 L342.6,264.8 L341.6,264.6 L340.6,264.5 L339.6,264.5 L338.6,264.7 L337.6,265.1 L336.6,265.8 L335.6,266.6 L334.6,267.3 L333.6,267.9 L332.6,268.4 L331.6,268.9 L330.6,269.4 L329.6,269.9 L328.6,270.4 L327.6,270.9 L326.6,271.4 L325.6,271.9 L324.6,272.5 L323.6,273.0 L322.6,273.6 L321.6,274.3 L320.6,275.1 L319.6,275.9 L318.6,276.9 L317.6,278.1 L316.6,279.5 L315.6,281.0 L314.6,282.6 L313.6,284.5 L312.6,286.8 L311.6,289.8 L310.6,293.2 L309.6,296.8 L308.6,300.4 L307.6,304.1 L306.6,308.1 L305.6,312.3 L304.6,316.5 L303.6,320.8 L302.6,325.4 L301.6,330.0 Z" fill="#eff6fa" stroke="none"/><path d="M301.6,320.0 L302.6,315.4 L303.6,310.8 L304.6,306.5 L305.6,302.3 L306.6,298.1 L307.6,294.1 L308.6,290.4 L309.6,286.8 L310.6,283.2 L311.6,279.8 L312.6,276.8 L313.6,274.5 L314.6,272.6 L315.6,271.0 L316.6,269.5 L317.6,268.1 L318.6,266.9 L319.6,265.9 L320.6,265.1 L321.6,264.3 L322.6,263.6 L323.6,263.0 L324.6,262.5 L325.6,261.9 L326.6,261.4 L327.6,260.9 L328.6,260.4 L329.6,259.9 L330.6,259.4 L331.6,258.9 L332.6,258.4 L333.6,257.9 L334.6,257.3 L335.6,256.6 L336.6,255.8 L337.6,255.1 L338.6,254.7 L339.6,254.5 L340.6,254.5 L341.6,254.6 L342.6,254.8 L343.6,254.9 L344.6,255.1 L345.6,255.3 L346.6,255.5 L347.6,255.6 L348.6,255.7 L349.6,255.8 L350.6,255.7 L351.6,255.1 L352.6,254.2 L353.6,253.2 L354.6,252.5 L355.6,251.9 L356.6,251.4 L357.6,250.9 L358.6,250.5 L359.6,250.0 L360.6,249.6 L361.6,249.3 L362.6,249.0 L363.6,248.7 L364.6,248.5 L365.6,248.3 L366.6,248.1 L367.6,247.9 L368.6,247.8 L369.6,247.6 L370.6,247.5 L371.6,247.3 L372.6,247.2 L373.6,247.1 L374.6,247.1 L375.6,247.0 L376.6,247.0 L377.6,247.0 L378.6,247.1 L379.6,247.2 L380.6,247.4 L381.6,247.6 L382.6,247.8 L383.6,248.0 L384.6,248.2 L385.6,248.5 L386.6,248.7 L387.6,248.9 L388.6,249.0 L389.6,249.1 L390.6,249.1 L391.6,249.1 L392.6,249.1 L393.6,249.1 L394.6,249.1 L395.6,249.1 L396.6,248.8 L397.6,248.4 L398.6,247.8 L399.6,247.2 L400.6,246.6 L401.6,246.0 L402.6,245.6 L403.6,245.3 L404.6,245.2 L405.6,245.3 L406.6,245.4 L407.6,245.7 L408.6,245.9 L409.6,246.3 L410.6,246.6 L411.6,246.9 L412.6,247.1 L413.6,247.3 L414.6,247.5 L415.6,247.5 L416.6,247.4 L417.6,247.1 L418.6,246.7 L419.6,246.2 L420.6,245.7 L421.6,245.2 L422.6,244.6 L423.6,244.2 L424.6,243.9 L425.6,243.6 L426.6,243.6 L427.6,243.6 L428.6,243.7 L429.6,243.7 L430.6,243.8 L431.6,243.9 L432.6,243.9 L433.6,244.1 L434.6,244.2 L435.6,244.3 L436.6,244.4 L437.6,244.6 L438.6,244.7 L439.6,244.9 L440.6,245.0 L441.6,245.1 L442.6,245.3 L443.6,245.4 L444.6,245.6 L445.6,245.8 L446.6,245.9 L447.6,246.1 L448.6,246.3 L449.6,246.5 L450.6,246.8 L451.6,247.0 L452.6,247.3 L453.6,247.5 L454.6,247.8 L455.6,248.1 L456.6,248.4 L457.6,248.7 L458.6,249.1 L459.6,249.4 L460.6,249.8 L461.6,250.2 L462.6,250.8 L463.6,251.3 L464.6,252.0 L465.6,252.7 L466.6,253.5 L467.6,254.4 L468.6,255.3 L469.6,256.3 L470.6,257.4 L471.6,258.6 L472.6,260.0 L473.6,261.5 L474.6,263.1 L475.6,264.9 L476.6,266.9 L477.6,269.1 L478.6,271.6 L479.6,274.6 L480.6,278.2 L481.6,282.2 L482.6,286.6 L483.6,291.1 L484.6,295.8 L485.6,300.8 L486.6,306.2 L487.6,311.9 L488.6,318.0 L489.6,324.3 L490.6,331.0" fill="none" stroke="#a9d5e5" stroke-width="0.95"/><path d="M301.6,330.0 L302.6,325.4 L303.6,320.8 L304.6,316.5 L305.6,312.3 L306.6,308.1 L307.6,304.1 L308.6,300.4 L309.6,296.8 L310.6,293.2 L311.6,289.8 L312.6,286.8 L313.6,284.5 L314.6,282.6 L315.6,281.0 L316.6,279.5 L317.6,278.1 L318.6,276.9 L319.6,275.9 L320.6,275.1 L321.6,274.3 L322.6,273.6 L323.6,273.0 L324.6,272.5 L325.6,271.9 L326.6,271.4 L327.6,270.9 L328.6,270.4 L329.6,269.9 L330.6,269.4 L331.6,268.9 L332.6,268.4 L333.6,267.9 L334.6,267.3 L335.6,266.6 L336.6,265.8 L337.6,265.1 L338.6,264.7 L339.6,264.5 L340.6,264.5 L341.6,264.6 L342.6,264.8 L343.6,264.9 L344.6,265.1 L345.6,265.3 L346.6,265.5 L347.6,265.6 L348.6,265.7 L349.6,265.8 L350.6,265.7 L351.6,265.1 L352.6,264.2 L353.6,263.2 L354.6,262.5 L355.6,261.9 L356.6,261.4 L357.6,260.9 L358.6,260.5 L359.6,260.0 L360.6,259.6 L361.6,259.3 L362.6,259.0 L363.6,258.7 L364.6,258.5 L365.6,258.3 L366.6,258.1 L367.6,257.9 L368.6,257.8 L369.6,257.6 L370.6,257.5 L371.6,257.3 L372.6,257.2 L373.6,257.1 L374.6,257.1 L375.6,257.0 L376.6,257.0 L377.6,257.0 L378.6,257.1 L379.6,257.2 L380.6,257.4 L381.6,257.6 L382.6,257.8 L383.6,258.0 L384.6,258.2 L385.6,258.5 L386.6,258.7 L387.6,258.9 L388.6,259.0 L389.6,259.1 L390.6,259.1 L391.6,259.1 L392.6,259.1 L393.6,259.1 L394.6,259.1 L395.6,259.1 L396.6,258.8 L397.6,258.4 L398.6,257.8 L399.6,257.2 L400.6,256.6 L401.6,256.0 L402.6,255.6 L403.6,255.3 L404.6,255.2 L405.6,255.3 L406.6,255.4 L407.6,255.7 L408.6,255.9 L409.6,256.3 L410.6,256.6 L411.6,256.9 L412.6,257.1 L413.6,257.3 L414.6,257.5 L415.6,257.5 L416.6,257.4 L417.6,257.1 L418.6,256.7 L419.6,256.2 L420.6,255.7 L421.6,255.2 L422.6,254.6 L423.6,254.2 L424.6,253.9 L425.6,253.6 L426.6,253.6 L427.6,253.6 L428.6,253.7 L429.6,253.7 L430.6,253.8 L431.6,253.9 L432.6,253.9 L433.6,254.1 L434.6,254.2 L435.6,254.3 L436.6,254.4 L437.6,254.6 L438.6,254.7 L439.6,254.9 L440.6,255.0 L441.6,255.1 L442.6,255.3 L443.6,255.4 L444.6,255.6 L445.6,255.8 L446.6,255.9 L447.6,256.1 L448.6,256.3 L449.6,256.5 L450.6,256.8 L451.6,257.0 L452.6,257.3 L453.6,257.5 L454.6,257.8 L455.6,258.1 L456.6,258.4 L457.6,258.7 L458.6,259.1 L459.6,259.4 L460.6,259.8 L461.6,260.2 L462.6,260.8 L463.6,261.3 L464.6,262.0 L465.6,262.7 L466.6,263.5 L467.6,264.4 L468.6,265.3 L469.6,266.3 L470.6,267.3 L471.6,268.3 L472.6,269.5 L473.6,270.8 L474.6,272.2 L475.6,273.9 L476.6,275.7 L477.6,277.6 L478.6,279.9 L479.6,282.7 L480.6,286.1 L481.6,290.0 L482.6,294.1 L483.6,298.5 L484.6,303.0 L485.6,307.8 L486.6,312.9 L487.6,318.5 L488.6,324.4 L489.6,330.5 L490.6,337.0" fill="none" stroke="#a9d5e5" stroke-width="0.8"/><path d="M301.6,309.5 L302.6,303.9 L303.6,299.1 L304.6,295.2 L305.6,292.4 L306.6,290.8 L307.6,289.6 L308.6,288.8 L309.6,289.0 L310.6,291.4 L311.6,292.8 L312.6,292.7 L313.6,292.4 L314.6,292.0 L315.6,291.6 L316.6,291.3 L317.6,291.0 L318.6,290.8 L319.6,290.8 L320.6,290.9 L321.6,291.1 L322.6,291.4 L323.6,291.7 L324.6,292.0 L325.6,292.3 L326.6,292.7 L327.6,293.0 L328.6,293.4 L329.6,293.9 L330.6,294.5 L331.6,295.0 L332.6,295.7 L333.6,296.3 L334.6,296.9 L335.6,297.5 L336.6,298.1 L337.6,298.7 L338.6,299.2 L339.6,299.6 L340.6,300.0 L341.6,300.4 L342.6,300.8 L343.6,301.2 L344.6,301.6 L345.6,301.9 L346.6,302.2 L347.6,302.5 L348.6,302.8 L349.6,303.1 L350.6,303.4 L351.6,303.6 L352.6,303.9 L353.6,304.1 L354.6,304.3 L355.6,304.5 L356.6,304.7 L357.6,304.9 L358.6,305.1 L359.6,305.3 L360.6,305.5 L361.6,305.7 L362.6,305.9 L363.6,306.1 L364.6,306.3 L365.6,306.5 L366.6,306.8 L367.6,307.0 L368.6,307.2 L369.6,307.5 L370.6,307.7 L371.6,307.9 L372.6,308.2 L373.6,308.4 L374.6,308.6 L375.6,308.9 L376.6,309.1 L377.6,309.4 L378.6,309.7 L379.6,309.9 L380.6,310.2 L381.6,310.6 L382.6,310.9 L383.6,311.2 L384.6,311.6 L385.6,312.0 L386.6,312.4 L387.6,312.9 L388.6,313.5 L389.6,314.1 L390.6,314.7 L391.6,315.5 L392.6,316.3 L393.6,317.2 L394.6,318.2 L395.6,319.3 L396.6,320.9 L397.6,322.7 L398.6,324.7 L399.6,326.7 L400.6,328.4 L401.6,329.9 L402.6,331.4 L403.6,332.9 L404.6,334.4 L405.6,335.7 L406.6,336.7 L407.6,337.3 L408.6,337.3 L409.6,336.5 L410.6,334.8 L411.6,332.6 L412.6,330.0 L413.6,327.4 L414.6,324.9 L415.6,322.9 L416.6,320.9 L417.6,318.6 L418.6,316.4 L419.6,314.4 L420.6,312.8 L421.6,311.8 L422.6,311.5 L423.6,311.6 L424.6,311.7 L425.6,311.8 L426.6,312.0 L427.6,312.2 L428.6,312.3 L429.6,312.3 L430.6,312.2 L431.6,311.8 L432.6,311.3 L433.6,310.7 L434.6,309.9 L435.6,309.0 L436.6,308.1 L437.6,307.1 L438.6,306.1 L439.6,305.1 L440.6,304.1 L441.6,303.2 L442.6,302.4 L443.6,301.4 L444.6,300.4 L445.6,299.2 L446.6,298.1 L447.6,296.9 L448.6,295.7 L449.6,294.6 L450.6,293.6 L451.6,292.6 L452.6,291.8 L453.6,291.1 L454.6,290.7 L455.6,290.4 L456.6,290.4 L457.6,290.5 L458.6,290.6 L459.6,290.8 L460.6,291.0 L461.6,291.5 L462.6,292.5 L463.6,294.0 L464.6,295.8 L465.6,297.8 L466.6,300.0 L467.6,302.2 L468.6,304.3 L469.6,306.7 L470.6,309.8 L471.6,313.0 L472.6,315.7 L473.6,317.5 L474.6,317.7 L475.6,316.1 L476.6,313.3 L477.6,309.5 L478.6,305.4 L479.6,301.3 L480.6,296.1 L481.6,289.4 L482.6,282.7 L483.6,277.4 L484.6,275.1 L485.6,273.7 L486.6,272.7 L487.6,271.9 L488.6,271.5 L489.6,271.6 L490.6,272.3 L490.6,281.3 L489.6,280.6 L488.6,280.5 L487.6,280.9 L486.6,281.7 L485.6,282.7 L484.6,284.1 L483.6,286.4 L482.6,291.7 L481.6,298.4 L480.6,305.1 L479.6,310.3 L478.6,314.4 L477.6,318.5 L476.6,322.3 L475.6,325.1 L474.6,326.7 L473.6,326.5 L472.6,324.7 L471.6,322.0 L470.6,318.8 L469.6,315.7 L468.6,313.3 L467.6,311.2 L466.6,309.0 L465.6,306.8 L464.6,304.8 L463.6,303.0 L462.6,301.5 L461.6,300.5 L460.6,300.0 L459.6,299.8 L458.6,299.6 L457.6,299.5 L456.6,299.4 L455.6,299.4 L454.6,299.7 L453.6,300.1 L452.6,300.8 L451.6,301.6 L450.6,302.6 L449.6,303.6 L448.6,304.7 L447.6,305.9 L446.6,307.1 L445.6,308.2 L444.6,309.4 L443.6,310.4 L442.6,311.4 L441.6,312.2 L440.6,313.1 L439.6,314.1 L438.6,315.1 L437.6,316.1 L436.6,317.1 L435.6,318.0 L434.6,318.9 L433.6,319.7 L432.6,320.3 L431.6,320.8 L430.6,321.2 L429.6,321.3 L428.6,321.3 L427.6,321.2 L426.6,321.0 L425.6,320.8 L424.6,320.7 L423.6,320.6 L422.6,320.5 L421.6,320.8 L420.6,321.8 L419.6,323.4 L418.6,325.4 L417.6,327.6 L416.6,329.9 L415.6,331.9 L414.6,333.9 L413.6,336.4 L412.6,339.0 L411.6,341.6 L410.6,343.8 L409.6,345.5 L408.6,346.3 L407.6,346.3 L406.6,345.7 L405.6,344.7 L404.6,343.4 L403.6,341.9 L402.6,340.4 L401.6,338.9 L400.6,337.4 L399.6,335.7 L398.6,333.7 L397.6,331.7 L396.6,329.9 L395.6,328.3 L394.6,327.2 L393.6,326.2 L392.6,325.3 L391.6,324.5 L390.6,323.7 L389.6,323.1 L388.6,322.5 L387.6,321.9 L386.6,321.4 L385.6,321.0 L384.6,320.6 L383.6,320.2 L382.6,319.9 L381.6,319.6 L380.6,319.2 L379.6,318.9 L378.6,318.7 L377.6,318.4 L376.6,318.1 L375.6,317.9 L374.6,317.6 L373.6,317.4 L372.6,317.2 L371.6,316.9 L370.6,316.7 L369.6,316.5 L368.6,316.2 L367.6,316.0 L366.6,315.8 L365.6,315.5 L364.6,315.3 L363.6,315.1 L362.6,314.9 L361.6,314.7 L360.6,314.5 L359.6,314.3 L358.6,314.1 L357.6,313.9 L356.6,313.7 L355.6,313.5 L354.6,313.3 L353.6,313.1 L352.6,312.9 L351.6,312.6 L350.6,312.4 L349.6,312.1 L348.6,311.8 L347.6,311.5 L346.6,311.2 L345.6,310.9 L344.6,310.6 L343.6,310.2 L342.6,309.8 L341.6,309.4 L340.6,309.0 L339.6,308.6 L338.6,308.2 L337.6,307.7 L336.6,307.1 L335.6,306.5 L334.6,305.9 L333.6,305.3 L332.6,304.7 L331.6,304.0 L330.6,303.5 L329.6,302.9 L328.6,302.4 L327.6,302.0 L326.6,301.7 L325.6,301.3 L324.6,301.0 L323.6,300.7 L322.6,300.4 L321.6,300.1 L320.6,299.9 L319.6,299.8 L318.6,299.8 L317.6,300.0 L316.6,300.3 L315.6,300.6 L314.6,301.0 L313.6,301.4 L312.6,301.7 L311.6,301.8 L310.6,300.4 L309.6,298.0 L308.6,297.8 L307.6,298.6 L306.6,299.8 L305.6,301.4 L304.6,304.2 L303.6,308.1 L302.6,312.9 L301.6,318.5 Z" fill="#f5e9f2" stroke="none"/><path d="M301.6,309.5 L302.6,303.9 L303.6,299.1 L304.6,295.2 L305.6,292.4 L306.6,290.8 L307.6,289.6 L308.6,288.8 L309.6,289.0 L310.6,291.4 L311.6,292.8 L312.6,292.7 L313.6,292.4 L314.6,292.0 L315.6,291.6 L316.6,291.3 L317.6,291.0 L318.6,290.8 L319.6,290.8 L320.6,290.9 L321.6,291.1 L322.6,291.4 L323.6,291.7 L324.6,292.0 L325.6,292.3 L326.6,292.7 L327.6,293.0 L328.6,293.4 L329.6,293.9 L330.6,294.5 L331.6,295.0 L332.6,295.7 L333.6,296.3 L334.6,296.9 L335.6,297.5 L336.6,298.1 L337.6,298.7 L338.6,299.2 L339.6,299.6 L340.6,300.0 L341.6,300.4 L342.6,300.8 L343.6,301.2 L344.6,301.6 L345.6,301.9 L346.6,302.2 L347.6,302.5 L348.6,302.8 L349.6,303.1 L350.6,303.4 L351.6,303.6 L352.6,303.9 L353.6,304.1 L354.6,304.3 L355.6,304.5 L356.6,304.7 L357.6,304.9 L358.6,305.1 L359.6,305.3 L360.6,305.5 L361.6,305.7 L362.6,305.9 L363.6,306.1 L364.6,306.3 L365.6,306.5 L366.6,306.8 L367.6,307.0 L368.6,307.2 L369.6,307.5 L370.6,307.7 L371.6,307.9 L372.6,308.2 L373.6,308.4 L374.6,308.6 L375.6,308.9 L376.6,309.1 L377.6,309.4 L378.6,309.7 L379.6,309.9 L380.6,310.2 L381.6,310.6 L382.6,310.9 L383.6,311.2 L384.6,311.6 L385.6,312.0 L386.6,312.4 L387.6,312.9 L388.6,313.5 L389.6,314.1 L390.6,314.7 L391.6,315.5 L392.6,316.3 L393.6,317.2 L394.6,318.2 L395.6,319.3 L396.6,320.9 L397.6,322.7 L398.6,324.7 L399.6,326.7 L400.6,328.4 L401.6,329.9 L402.6,331.4 L403.6,332.9 L404.6,334.4 L405.6,335.7 L406.6,336.7 L407.6,337.3 L408.6,337.3 L409.6,336.5 L410.6,334.8 L411.6,332.6 L412.6,330.0 L413.6,327.4 L414.6,324.9 L415.6,322.9 L416.6,320.9 L417.6,318.6 L418.6,316.4 L419.6,314.4 L420.6,312.8 L421.6,311.8 L422.6,311.5 L423.6,311.6 L424.6,311.7 L425.6,311.8 L426.6,312.0 L427.6,312.2 L428.6,312.3 L429.6,312.3 L430.6,312.2 L431.6,311.8 L432.6,311.3 L433.6,310.7 L434.6,309.9 L435.6,309.0 L436.6,308.1 L437.6,307.1 L438.6,306.1 L439.6,305.1 L440.6,304.1 L441.6,303.2 L442.6,302.4 L443.6,301.4 L444.6,300.4 L445.6,299.2 L446.6,298.1 L447.6,296.9 L448.6,295.7 L449.6,294.6 L450.6,293.6 L451.6,292.6 L452.6,291.8 L453.6,291.1 L454.6,290.7 L455.6,290.4 L456.6,290.4 L457.6,290.5 L458.6,290.6 L459.6,290.8 L460.6,291.0 L461.6,291.5 L462.6,292.5 L463.6,294.0 L464.6,295.8 L465.6,297.8 L466.6,300.0 L467.6,302.2 L468.6,304.3 L469.6,306.7 L470.6,309.8 L471.6,313.0 L472.6,315.7 L473.6,317.5 L474.6,317.7 L475.6,316.1 L476.6,313.3 L477.6,309.5 L478.6,305.4 L479.6,301.3 L480.6,296.1 L481.6,289.4 L482.6,282.7 L483.6,277.4 L484.6,275.1 L485.6,273.7 L486.6,272.7 L487.6,271.9 L488.6,271.5 L489.6,271.6 L490.6,272.3" fill="none" stroke="#d4a2d0" stroke-width="0.95"/><path d="M301.6,318.5 L302.6,312.9 L303.6,308.1 L304.6,304.2 L305.6,301.4 L306.6,299.8 L307.6,298.6 L308.6,297.8 L309.6,298.0 L310.6,300.4 L311.6,301.8 L312.6,301.7 L313.6,301.4 L314.6,301.0 L315.6,300.6 L316.6,300.3 L317.6,300.0 L318.6,299.8 L319.6,299.8 L320.6,299.9 L321.6,300.1 L322.6,300.4 L323.6,300.7 L324.6,301.0 L325.6,301.3 L326.6,301.7 L327.6,302.0 L328.6,302.4 L329.6,302.9 L330.6,303.5 L331.6,304.0 L332.6,304.7 L333.6,305.3 L334.6,305.9 L335.6,306.5 L336.6,307.1 L337.6,307.7 L338.6,308.2 L339.6,308.6 L340.6,309.0 L341.6,309.4 L342.6,309.8 L343.6,310.2 L344.6,310.6 L345.6,310.9 L346.6,311.2 L347.6,311.5 L348.6,311.8 L349.6,312.1 L350.6,312.4 L351.6,312.6 L352.6,312.9 L353.6,313.1 L354.6,313.3 L355.6,313.5 L356.6,313.7 L357.6,313.9 L358.6,314.1 L359.6,314.3 L360.6,314.5 L361.6,314.7 L362.6,314.9 L363.6,315.1 L364.6,315.3 L365.6,315.5 L366.6,315.8 L367.6,316.0 L368.6,316.2 L369.6,316.5 L370.6,316.7 L371.6,316.9 L372.6,317.2 L373.6,317.4 L374.6,317.6 L375.6,317.9 L376.6,318.1 L377.6,318.4 L378.6,318.7 L379.6,318.9 L380.6,319.2 L381.6,319.6 L382.6,319.9 L383.6,320.2 L384.6,320.6 L385.6,321.0 L386.6,321.4 L387.6,321.9 L388.6,322.5 L389.6,323.1 L390.6,323.7 L391.6,324.5 L392.6,325.3 L393.6,326.2 L394.6,327.2 L395.6,328.3 L396.6,329.9 L397.6,331.7 L398.6,333.7 L399.6,335.7 L400.6,337.4 L401.6,338.9 L402.6,340.4 L403.6,341.9 L404.6,343.4 L405.6,344.7 L406.6,345.7 L407.6,346.3 L408.6,346.3 L409.6,345.5 L410.6,343.8 L411.6,341.6 L412.6,339.0 L413.6,336.4 L414.6,333.9 L415.6,331.9 L416.6,329.9 L417.6,327.6 L418.6,325.4 L419.6,323.4 L420.6,321.8 L421.6,320.8 L422.6,320.5 L423.6,320.6 L424.6,320.7 L425.6,320.8 L426.6,321.0 L427.6,321.2 L428.6,321.3 L429.6,321.3 L430.6,321.2 L431.6,320.8 L432.6,320.3 L433.6,319.7 L434.6,318.9 L435.6,318.0 L436.6,317.1 L437.6,316.1 L438.6,315.1 L439.6,314.1 L440.6,313.1 L441.6,312.2 L442.6,311.4 L443.6,310.4 L444.6,309.4 L445.6,308.2 L446.6,307.1 L447.6,305.9 L448.6,304.7 L449.6,303.6 L450.6,302.6 L451.6,301.6 L452.6,300.8 L453.6,300.1 L454.6,299.7 L455.6,299.4 L456.6,299.4 L457.6,299.5 L458.6,299.6 L459.6,299.8 L460.6,300.0 L461.6,300.5 L462.6,301.5 L463.6,303.0 L464.6,304.8 L465.6,306.8 L466.6,309.0 L467.6,311.2 L468.6,313.3 L469.6,315.7 L470.6,318.8 L471.6,322.0 L472.6,324.7 L473.6,326.5 L474.6,326.7 L475.6,325.1 L476.6,322.3 L477.6,318.5 L478.6,314.4 L479.6,310.3 L480.6,305.1 L481.6,298.4 L482.6,291.7 L483.6,286.4 L484.6,284.1 L485.6,282.7 L486.6,281.7 L487.6,280.9 L488.6,280.5 L489.6,280.6 L490.6,281.3" fill="none" stroke="#d4a2d0" stroke-width="0.8"/><path d="M301.6,325.0 L302.6,320.4 L303.6,315.8 L304.6,311.5 L305.6,307.3 L306.6,303.1 L307.6,299.1 L308.6,295.4 L309.6,291.8 L310.6,288.2 L311.6,284.8 L312.6,281.8 L313.6,279.5 L314.6,277.6 L315.6,276.0 L316.6,274.5 L317.6,273.1 L318.6,271.9 L319.6,270.9 L320.6,270.1 L321.6,269.3 L322.6,268.6 L323.6,268.0 L324.6,267.5 L325.6,266.9 L326.6,266.4 L327.6,265.9 L328.6,265.4 L329.6,264.9 L330.6,264.4 L331.6,263.9 L332.6,263.4 L333.6,262.9 L334.6,262.3 L335.6,261.6 L336.6,260.8 L337.6,260.1 L338.6,259.7 L339.6,259.5 L340.6,259.5 L341.6,259.6 L342.6,259.8 L343.6,259.9 L344.6,260.1 L345.6,260.3 L346.6,260.5 L347.6,260.6 L348.6,260.7 L349.6,260.8 L350.6,260.7 L351.6,260.1 L352.6,259.2 L353.6,258.2 L354.6,257.5 L355.6,256.9 L356.6,256.4 L357.6,255.9 L358.6,255.5 L359.6,255.0 L360.6,254.6 L361.6,254.3 L362.6,254.0 L363.6,253.7 L364.6,253.5 L365.6,253.3 L366.6,253.1 L367.6,252.9 L368.6,252.8 L369.6,252.6 L370.6,252.5 L371.6,252.3 L372.6,252.2 L373.6,252.1 L374.6,252.1 L375.6,252.0 L376.6,252.0 L377.6,252.0 L378.6,252.1 L379.6,252.2 L380.6,252.4 L381.6,252.6 L382.6,252.8 L383.6,253.0 L384.6,253.2 L385.6,253.5 L386.6,253.7 L387.6,253.9 L388.6,254.0 L389.6,254.1 L390.6,254.1 L391.6,254.1 L392.6,254.1 L393.6,254.1 L394.6,254.1 L395.6,254.1 L396.6,253.8 L397.6,253.4 L398.6,252.8 L399.6,252.2 L400.6,251.6 L401.6,251.0 L402.6,250.6 L403.6,250.3 L404.6,250.2 L405.6,250.3 L406.6,250.4 L407.6,250.7 L408.6,250.9 L409.6,251.3 L410.6,251.6 L411.6,251.9 L412.6,252.1 L413.6,252.3 L414.6,252.5 L415.6,252.5 L416.6,252.4 L417.6,252.1 L418.6,251.7 L419.6,251.2 L420.6,250.7 L421.6,250.2 L422.6,249.6 L423.6,249.2 L424.6,248.9 L425.6,248.6 L426.6,248.6 L427.6,248.6 L428.6,248.7 L429.6,248.7 L430.6,248.8 L431.6,248.9 L432.6,248.9 L433.6,249.1 L434.6,249.2 L435.6,249.3 L436.6,249.4 L437.6,249.6 L438.6,249.7 L439.6,249.9 L440.6,250.0 L441.6,250.1 L442.6,250.3 L443.6,250.4 L444.6,250.6 L445.6,250.8 L446.6,250.9 L447.6,251.1 L448.6,251.3 L449.6,251.5 L450.6,251.8 L451.6,252.0 L452.6,252.3 L453.6,252.5 L454.6,252.8 L455.6,253.1 L456.6,253.4 L457.6,253.7 L458.6,254.1 L459.6,254.4 L460.6,254.8 L461.6,255.2 L462.6,255.8 L463.6,256.3 L464.6,257.0 L465.6,257.7 L466.6,258.5 L467.6,259.4 L468.6,260.3 L469.6,261.3 L470.6,262.3 L471.6,263.5 L472.6,264.7 L473.6,266.1 L474.6,267.7 L475.6,269.4 L476.6,271.3 L477.6,273.4 L478.6,275.7 L479.6,278.7 L480.6,282.2 L481.6,286.1 L482.6,290.4 L483.6,294.8 L484.6,299.4 L485.6,304.3 L486.6,309.6 L487.6,315.2 L488.6,321.2 L489.6,327.4 L490.6,334.0" fill="none" stroke="#66b3cf" stroke-width="1.5" stroke-linejoin="round"/><path d="M301.6,314.0 L302.6,308.4 L303.6,303.6 L304.6,299.7 L305.6,296.9 L306.6,295.3 L307.6,294.1 L308.6,293.3 L309.6,293.5 L310.6,295.9 L311.6,297.3 L312.6,297.2 L313.6,296.9 L314.6,296.5 L315.6,296.1 L316.6,295.8 L317.6,295.5 L318.6,295.3 L319.6,295.3 L320.6,295.4 L321.6,295.6 L322.6,295.9 L323.6,296.2 L324.6,296.5 L325.6,296.8 L326.6,297.2 L327.6,297.5 L328.6,297.9 L329.6,298.4 L330.6,299.0 L331.6,299.5 L332.6,300.2 L333.6,300.8 L334.6,301.4 L335.6,302.0 L336.6,302.6 L337.6,303.2 L338.6,303.7 L339.6,304.1 L340.6,304.5 L341.6,304.9 L342.6,305.3 L343.6,305.7 L344.6,306.1 L345.6,306.4 L346.6,306.7 L347.6,307.0 L348.6,307.3 L349.6,307.6 L350.6,307.9 L351.6,308.1 L352.6,308.4 L353.6,308.6 L354.6,308.8 L355.6,309.0 L356.6,309.2 L357.6,309.4 L358.6,309.6 L359.6,309.8 L360.6,310.0 L361.6,310.2 L362.6,310.4 L363.6,310.6 L364.6,310.8 L365.6,311.0 L366.6,311.3 L367.6,311.5 L368.6,311.7 L369.6,312.0 L370.6,312.2 L371.6,312.4 L372.6,312.7 L373.6,312.9 L374.6,313.1 L375.6,313.4 L376.6,313.6 L377.6,313.9 L378.6,314.2 L379.6,314.4 L380.6,314.7 L381.6,315.1 L382.6,315.4 L383.6,315.7 L384.6,316.1 L385.6,316.5 L386.6,316.9 L387.6,317.4 L388.6,318.0 L389.6,318.6 L390.6,319.2 L391.6,320.0 L392.6,320.8 L393.6,321.7 L394.6,322.7 L395.6,323.8 L396.6,325.4 L397.6,327.2 L398.6,329.2 L399.6,331.2 L400.6,332.9 L401.6,334.4 L402.6,335.9 L403.6,337.4 L404.6,338.9 L405.6,340.2 L406.6,341.2 L407.6,341.8 L408.6,341.8 L409.6,341.0 L410.6,339.3 L411.6,337.1 L412.6,334.5 L413.6,331.9 L414.6,329.4 L415.6,327.4 L416.6,325.4 L417.6,323.1 L418.6,320.9 L419.6,318.9 L420.6,317.3 L421.6,316.3 L422.6,316.0 L423.6,316.1 L424.6,316.2 L425.6,316.3 L426.6,316.5 L427.6,316.7 L428.6,316.8 L429.6,316.8 L430.6,316.7 L431.6,316.3 L432.6,315.8 L433.6,315.2 L434.6,314.4 L435.6,313.5 L436.6,312.6 L437.6,311.6 L438.6,310.6 L439.6,309.6 L440.6,308.6 L441.6,307.7 L442.6,306.9 L443.6,305.9 L444.6,304.9 L445.6,303.7 L446.6,302.6 L447.6,301.4 L448.6,300.2 L449.6,299.1 L450.6,298.1 L451.6,297.1 L452.6,296.3 L453.6,295.6 L454.6,295.2 L455.6,294.9 L456.6,294.9 L457.6,295.0 L458.6,295.1 L459.6,295.3 L460.6,295.5 L461.6,296.0 L462.6,297.0 L463.6,298.5 L464.6,300.3 L465.6,302.3 L466.6,304.5 L467.6,306.7 L468.6,308.8 L469.6,311.2 L470.6,314.3 L471.6,317.5 L472.6,320.2 L473.6,322.0 L474.6,322.2 L475.6,320.6 L476.6,317.8 L477.6,314.0 L478.6,309.9 L479.6,305.8 L480.6,300.6 L481.6,293.9 L482.6,287.2 L483.6,281.9 L484.6,279.6 L485.6,278.2 L486.6,277.2 L487.6,276.4 L488.6,276.0 L489.6,276.1 L490.6,276.8" fill="none" stroke="#8e318f" stroke-width="1.5" stroke-linejoin="round"/></g><line x1="309.20" y1="231.90" x2="309.20" y2="373.70" stroke="#262626" stroke-width="1.35" stroke-dasharray="1.4 2.6"/><line x1="339.52" y1="231.90" x2="339.52" y2="373.70" stroke="#262626" stroke-width="1.35" stroke-dasharray="1.4 2.6"/><line x1="354.68" y1="231.90" x2="354.68" y2="373.70" stroke="#262626" stroke-width="1.35" stroke-dasharray="1.4 2.6"/><line x1="400.16" y1="231.90" x2="400.16" y2="373.70" stroke="#262626" stroke-width="1.35" stroke-dasharray="1.4 2.6"/><line x1="415.32" y1="231.90" x2="415.32" y2="373.70" stroke="#262626" stroke-width="1.35" stroke-dasharray="1.4 2.6"/><line x1="460.80" y1="231.90" x2="460.80" y2="373.70" stroke="#262626" stroke-width="1.35" stroke-dasharray="1.4 2.6"/><path d="M301.70,229.00 L301.70,373.40 L491.10,373.40" fill="none" stroke="#6d6e71" stroke-width="1.1"/><line x1="301.70" y1="360.40" x2="303.90" y2="360.40" stroke="#6d6e71" stroke-width="1"/><text x="296.90" y="367.00" text-anchor="end" font-family='"Liberation Sans", sans-serif' font-size="12" fill="#231f20">0</text><line x1="301.70" y1="294.70" x2="303.90" y2="294.70" stroke="#6d6e71" stroke-width="1"/><text x="296.90" y="301.30" text-anchor="end" font-family='"Liberation Sans", sans-serif' font-size="12" fill="#231f20">5</text><line x1="301.70" y1="229.60" x2="303.90" y2="229.60" stroke="#6d6e71" stroke-width="1"/><text x="296.90" y="236.20" text-anchor="end" font-family='"Liberation Sans", sans-serif' font-size="12" fill="#231f20">10</text><line x1="309.20" y1="373.40" x2="309.20" y2="371.40" stroke="#262626" stroke-width="1"/><text x="309.40" y="384.10" text-anchor="middle" font-family='"Liberation Sans", sans-serif' font-size="12" fill="#231f20">0</text><line x1="339.52" y1="373.40" x2="339.52" y2="371.40" stroke="#262626" stroke-width="1"/><text x="338.92" y="384.10" text-anchor="middle" font-family='"Liberation Sans", sans-serif' font-size="12" fill="#231f20">1</text><line x1="400.16" y1="373.40" x2="400.16" y2="371.40" stroke="#262626" stroke-width="1"/><text x="400.36" y="384.10" text-anchor="middle" font-family='"Liberation Sans", sans-serif' font-size="12" fill="#231f20">3</text><line x1="460.80" y1="373.40" x2="460.80" y2="371.40" stroke="#262626" stroke-width="1"/><text x="461.00" y="384.10" text-anchor="middle" font-family='"Liberation Sans", sans-serif' font-size="12" fill="#231f20">5</text><text x="376.40" y="396.20" font-family='"Liberation Sans", sans-serif' font-size="12" fill="#231f20" textLength="40" lengthAdjust="spacingAndGlyphs">Time (s)</text><text x="355.00" y="225.20" font-family='"Liberation Sans", sans-serif' font-size="12" fill="#231f20" textLength="43.9" lengthAdjust="spacingAndGlyphs">16-32Hz</text><text transform="translate(277.85,350.10) rotate(-90)" x="0" y="0" font-family='"Liberation Sans", sans-serif' font-size="12" fill="#231f20" textLength="61.4" lengthAdjust="spacingAndGlyphs">Power (dB)</text></g><clipPath id="clipB3"><rect x="301.7" y="427.0" width="190.40000000000003" height="146.79999999999995"/></clipPath><g><rect x="339.92" y="430.90" width="13.6" height="142.90" fill="#d6d6d6"/><rect x="400.56" y="430.90" width="13.6" height="142.90" fill="#d6d6d6"/><g clip-path="url(#clipB3)"><path d="M301.6,446.0 L302.6,445.1 L303.6,444.3 L304.6,443.7 L305.6,443.4 L306.6,443.2 L307.6,443.3 L308.6,443.8 L309.6,444.4 L310.6,444.8 L311.6,445.0 L312.6,444.6 L313.6,443.7 L314.6,442.5 L315.6,441.2 L316.6,440.0 L317.6,439.0 L318.6,438.5 L319.6,438.5 L320.6,438.7 L321.6,439.0 L322.6,439.3 L323.6,439.7 L324.6,440.1 L325.6,440.6 L326.6,441.0 L327.6,441.5 L328.6,441.9 L329.6,442.4 L330.6,443.0 L331.6,443.5 L332.6,444.1 L333.6,444.7 L334.6,445.3 L335.6,445.9 L336.6,446.5 L337.6,447.0 L338.6,447.6 L339.6,448.0 L340.6,448.6 L341.6,449.1 L342.6,449.7 L343.6,450.2 L344.6,450.5 L345.6,450.7 L346.6,450.7 L347.6,450.5 L348.6,450.3 L349.6,450.0 L350.6,449.6 L351.6,449.2 L352.6,448.3 L353.6,447.1 L354.6,446.0 L355.6,445.0 L356.6,444.0 L357.6,443.0 L358.6,442.0 L359.6,441.1 L360.6,440.5 L361.6,440.0 L362.6,439.9 L363.6,439.8 L364.6,439.7 L365.6,439.6 L366.6,439.5 L367.6,439.4 L368.6,439.4 L369.6,439.3 L370.6,439.3 L371.6,439.3 L372.6,439.2 L373.6,439.2 L374.6,439.2 L375.6,439.2 L376.6,439.2 L377.6,439.3 L378.6,439.4 L379.6,439.6 L380.6,439.8 L381.6,440.0 L382.6,440.3 L383.6,440.5 L384.6,440.8 L385.6,441.0 L386.6,441.2 L387.6,441.5 L388.6,441.7 L389.6,442.0 L390.6,442.3 L391.6,442.5 L392.6,442.8 L393.6,443.0 L394.6,443.2 L395.6,443.3 L396.6,443.3 L397.6,443.4 L398.6,443.4 L399.6,443.5 L400.6,443.6 L401.6,443.9 L402.6,444.2 L403.6,444.7 L404.6,445.1 L405.6,445.6 L406.6,446.0 L407.6,446.4 L408.6,446.6 L409.6,446.8 L410.6,446.9 L411.6,447.0 L412.6,447.2 L413.6,447.2 L414.6,447.3 L415.6,447.3 L416.6,446.6 L417.6,445.3 L418.6,443.6 L419.6,441.8 L420.6,440.1 L421.6,438.9 L422.6,438.1 L423.6,437.4 L424.6,436.7 L425.6,436.1 L426.6,435.5 L427.6,435.0 L428.6,434.5 L429.6,434.1 L430.6,433.7 L431.6,433.4 L432.6,433.1 L433.6,432.9 L434.6,432.7 L435.6,432.5 L436.6,432.3 L437.6,432.1 L438.6,431.9 L439.6,431.7 L440.6,431.6 L441.6,431.4 L442.6,431.3 L443.6,431.2 L444.6,431.1 L445.6,431.1 L446.6,431.1 L447.6,431.2 L448.6,431.4 L449.6,431.7 L450.6,432.1 L451.6,432.5 L452.6,432.9 L453.6,433.3 L454.6,433.7 L455.6,434.2 L456.6,434.8 L457.6,435.3 L458.6,435.9 L459.6,436.5 L460.6,437.1 L461.6,437.7 L462.6,438.2 L463.6,438.8 L464.6,439.4 L465.6,440.0 L466.6,440.7 L467.6,441.5 L468.6,442.5 L469.6,443.8 L470.6,445.3 L471.6,447.1 L472.6,449.1 L473.6,451.2 L474.6,453.4 L475.6,455.6 L476.6,457.8 L477.6,460.3 L478.6,463.0 L479.6,465.8 L480.6,468.7 L481.6,471.5 L482.6,474.3 L483.6,476.9 L484.6,479.6 L485.6,482.2 L486.6,484.8 L487.6,487.4 L488.6,490.0 L489.6,492.6 L490.6,495.1 L490.9,495.9 L490.9,501.9 L490.6,501.2 L489.6,498.8 L488.6,496.4 L487.6,494.1 L486.6,491.6 L485.6,489.2 L484.6,486.8 L483.6,484.3 L482.6,481.9 L481.6,479.3 L480.6,476.6 L479.6,474.0 L478.6,471.3 L477.6,468.9 L476.6,466.6 L475.6,464.5 L474.6,462.5 L473.6,460.5 L472.6,458.6 L471.6,456.8 L470.6,455.2 L469.6,453.8 L468.6,452.5 L467.6,451.5 L466.6,450.7 L465.6,450.0 L464.6,449.4 L463.6,448.8 L462.6,448.2 L461.6,447.7 L460.6,447.1 L459.6,446.5 L458.6,445.9 L457.6,445.3 L456.6,444.8 L455.6,444.2 L454.6,443.7 L453.6,443.3 L452.6,442.9 L451.6,442.5 L450.6,442.1 L449.6,441.7 L448.6,441.4 L447.6,441.2 L446.6,441.1 L445.6,441.1 L444.6,441.1 L443.6,441.2 L442.6,441.3 L441.6,441.4 L440.6,441.6 L439.6,441.7 L438.6,441.9 L437.6,442.1 L436.6,442.3 L435.6,442.5 L434.6,442.7 L433.6,442.9 L432.6,443.1 L431.6,443.4 L430.6,443.7 L429.6,444.1 L428.6,444.5 L427.6,445.0 L426.6,445.5 L425.6,446.1 L424.6,446.7 L423.6,447.4 L422.6,448.1 L421.6,448.9 L420.6,450.1 L419.6,451.8 L418.6,453.6 L417.6,455.3 L416.6,456.6 L415.6,457.3 L414.6,457.3 L413.6,457.2 L412.6,457.2 L411.6,457.0 L410.6,456.9 L409.6,456.8 L408.6,456.6 L407.6,456.4 L406.6,456.0 L405.6,455.6 L404.6,455.1 L403.6,454.7 L402.6,454.2 L401.6,453.9 L400.6,453.6 L399.6,453.5 L398.6,453.4 L397.6,453.4 L396.6,453.3 L395.6,453.3 L394.6,453.2 L393.6,453.0 L392.6,452.8 L391.6,452.5 L390.6,452.3 L389.6,452.0 L388.6,451.7 L387.6,451.5 L386.6,451.2 L385.6,451.0 L384.6,450.8 L383.6,450.5 L382.6,450.3 L381.6,450.0 L380.6,449.8 L379.6,449.6 L378.6,449.4 L377.6,449.3 L376.6,449.2 L375.6,449.2 L374.6,449.2 L373.6,449.2 L372.6,449.2 L371.6,449.3 L370.6,449.3 L369.6,449.3 L368.6,449.4 L367.6,449.4 L366.6,449.5 L365.6,449.6 L364.6,449.7 L363.6,449.8 L362.6,449.9 L361.6,450.0 L360.6,450.5 L359.6,451.1 L358.6,452.0 L357.6,453.0 L356.6,454.0 L355.6,455.0 L354.6,456.0 L353.6,457.1 L352.6,458.3 L351.6,459.2 L350.6,459.6 L349.6,460.0 L348.6,460.3 L347.6,460.5 L346.6,460.7 L345.6,460.7 L344.6,460.5 L343.6,460.2 L342.6,459.7 L341.6,459.1 L340.6,458.6 L339.6,458.0 L338.6,457.6 L337.6,457.0 L336.6,456.5 L335.6,455.9 L334.6,455.3 L333.6,454.7 L332.6,454.1 L331.6,453.5 L330.6,453.0 L329.6,452.4 L328.6,451.9 L327.6,451.5 L326.6,451.0 L325.6,450.6 L324.6,450.1 L323.6,449.7 L322.6,449.3 L321.6,449.0 L320.6,448.7 L319.6,448.5 L318.6,448.5 L317.6,449.0 L316.6,450.0 L315.6,451.2 L314.6,452.5 L313.6,453.7 L312.6,454.6 L311.6,455.0 L310.6,454.8 L309.6,454.4 L308.6,453.8 L307.6,453.3 L306.6,453.2 L305.6,453.4 L304.6,453.7 L303.6,454.3 L302.6,455.1 L301.6,456.0 Z" fill="#eff6fa" stroke="none"/><path d="M301.6,446.0 L302.6,445.1 L303.6,444.3 L304.6,443.7 L305.6,443.4 L306.6,443.2 L307.6,443.3 L308.6,443.8 L309.6,444.4 L310.6,444.8 L311.6,445.0 L312.6,444.6 L313.6,443.7 L314.6,442.5 L315.6,441.2 L316.6,440.0 L317.6,439.0 L318.6,438.5 L319.6,438.5 L320.6,438.7 L321.6,439.0 L322.6,439.3 L323.6,439.7 L324.6,440.1 L325.6,440.6 L326.6,441.0 L327.6,441.5 L328.6,441.9 L329.6,442.4 L330.6,443.0 L331.6,443.5 L332.6,444.1 L333.6,444.7 L334.6,445.3 L335.6,445.9 L336.6,446.5 L337.6,447.0 L338.6,447.6 L339.6,448.0 L340.6,448.6 L341.6,449.1 L342.6,449.7 L343.6,450.2 L344.6,450.5 L345.6,450.7 L346.6,450.7 L347.6,450.5 L348.6,450.3 L349.6,450.0 L350.6,449.6 L351.6,449.2 L352.6,448.3 L353.6,447.1 L354.6,446.0 L355.6,445.0 L356.6,444.0 L357.6,443.0 L358.6,442.0 L359.6,441.1 L360.6,440.5 L361.6,440.0 L362.6,439.9 L363.6,439.8 L364.6,439.7 L365.6,439.6 L366.6,439.5 L367.6,439.4 L368.6,439.4 L369.6,439.3 L370.6,439.3 L371.6,439.3 L372.6,439.2 L373.6,439.2 L374.6,439.2 L375.6,439.2 L376.6,439.2 L377.6,439.3 L378.6,439.4 L379.6,439.6 L380.6,439.8 L381.6,440.0 L382.6,440.3 L383.6,440.5 L384.6,440.8 L385.6,441.0 L386.6,441.2 L387.6,441.5 L388.6,441.7 L389.6,442.0 L390.6,442.3 L391.6,442.5 L392.6,442.8 L393.6,443.0 L394.6,443.2 L395.6,443.3 L396.6,443.3 L397.6,443.4 L398.6,443.4 L399.6,443.5 L400.6,443.6 L401.6,443.9 L402.6,444.2 L403.6,444.7 L404.6,445.1 L405.6,445.6 L406.6,446.0 L407.6,446.4 L408.6,446.6 L409.6,446.8 L410.6,446.9 L411.6,447.0 L412.6,447.2 L413.6,447.2 L414.6,447.3 L415.6,447.3 L416.6,446.6 L417.6,445.3 L418.6,443.6 L419.6,441.8 L420.6,440.1 L421.6,438.9 L422.6,438.1 L423.6,437.4 L424.6,436.7 L425.6,436.1 L426.6,435.5 L427.6,435.0 L428.6,434.5 L429.6,434.1 L430.6,433.7 L431.6,433.4 L432.6,433.1 L433.6,432.9 L434.6,432.7 L435.6,432.5 L436.6,432.3 L437.6,432.1 L438.6,431.9 L439.6,431.7 L440.6,431.6 L441.6,431.4 L442.6,431.3 L443.6,431.2 L444.6,431.1 L445.6,431.1 L446.6,431.1 L447.6,431.2 L448.6,431.4 L449.6,431.7 L450.6,432.1 L451.6,432.5 L452.6,432.9 L453.6,433.3 L454.6,433.7 L455.6,434.2 L456.6,434.8 L457.6,435.3 L458.6,435.9 L459.6,436.5 L460.6,437.1 L461.6,437.7 L462.6,438.2 L463.6,438.8 L464.6,439.4 L465.6,440.0 L466.6,440.7 L467.6,441.5 L468.6,442.5 L469.6,443.8 L470.6,445.3 L471.6,447.1 L472.6,449.1 L473.6,451.2 L474.6,453.4 L475.6,455.6 L476.6,457.8 L477.6,460.3 L478.6,463.0 L479.6,465.8 L480.6,468.7 L481.6,471.5 L482.6,474.3 L483.6,476.9 L484.6,479.6 L485.6,482.2 L486.6,484.8 L487.6,487.4 L488.6,490.0 L489.6,492.6 L490.6,495.1 L490.9,495.9" fill="none" stroke="#a9d5e5" stroke-width="0.95"/><path d="M301.6,456.0 L302.6,455.1 L303.6,454.3 L304.6,453.7 L305.6,453.4 L306.6,453.2 L307.6,453.3 L308.6,453.8 L309.6,454.4 L310.6,454.8 L311.6,455.0 L312.6,454.6 L313.6,453.7 L314.6,452.5 L315.6,451.2 L316.6,450.0 L317.6,449.0 L318.6,448.5 L319.6,448.5 L320.6,448.7 L321.6,449.0 L322.6,449.3 L323.6,449.7 L324.6,450.1 L325.6,450.6 L326.6,451.0 L327.6,451.5 L328.6,451.9 L329.6,452.4 L330.6,453.0 L331.6,453.5 L332.6,454.1 L333.6,454.7 L334.6,455.3 L335.6,455.9 L336.6,456.5 L337.6,457.0 L338.6,457.6 L339.6,458.0 L340.6,458.6 L341.6,459.1 L342.6,459.7 L343.6,460.2 L344.6,460.5 L345.6,460.7 L346.6,460.7 L347.6,460.5 L348.6,460.3 L349.6,460.0 L350.6,459.6 L351.6,459.2 L352.6,458.3 L353.6,457.1 L354.6,456.0 L355.6,455.0 L356.6,454.0 L357.6,453.0 L358.6,452.0 L359.6,451.1 L360.6,450.5 L361.6,450.0 L362.6,449.9 L363.6,449.8 L364.6,449.7 L365.6,449.6 L366.6,449.5 L367.6,449.4 L368.6,449.4 L369.6,449.3 L370.6,449.3 L371.6,449.3 L372.6,449.2 L373.6,449.2 L374.6,449.2 L375.6,449.2 L376.6,449.2 L377.6,449.3 L378.6,449.4 L379.6,449.6 L380.6,449.8 L381.6,450.0 L382.6,450.3 L383.6,450.5 L384.6,450.8 L385.6,451.0 L386.6,451.2 L387.6,451.5 L388.6,451.7 L389.6,452.0 L390.6,452.3 L391.6,452.5 L392.6,452.8 L393.6,453.0 L394.6,453.2 L395.6,453.3 L396.6,453.3 L397.6,453.4 L398.6,453.4 L399.6,453.5 L400.6,453.6 L401.6,453.9 L402.6,454.2 L403.6,454.7 L404.6,455.1 L405.6,455.6 L406.6,456.0 L407.6,456.4 L408.6,456.6 L409.6,456.8 L410.6,456.9 L411.6,457.0 L412.6,457.2 L413.6,457.2 L414.6,457.3 L415.6,457.3 L416.6,456.6 L417.6,455.3 L418.6,453.6 L419.6,451.8 L420.6,450.1 L421.6,448.9 L422.6,448.1 L423.6,447.4 L424.6,446.7 L425.6,446.1 L426.6,445.5 L427.6,445.0 L428.6,444.5 L429.6,444.1 L430.6,443.7 L431.6,443.4 L432.6,443.1 L433.6,442.9 L434.6,442.7 L435.6,442.5 L436.6,442.3 L437.6,442.1 L438.6,441.9 L439.6,441.7 L440.6,441.6 L441.6,441.4 L442.6,441.3 L443.6,441.2 L444.6,441.1 L445.6,441.1 L446.6,441.1 L447.6,441.2 L448.6,441.4 L449.6,441.7 L450.6,442.1 L451.6,442.5 L452.6,442.9 L453.6,443.3 L454.6,443.7 L455.6,444.2 L456.6,444.8 L457.6,445.3 L458.6,445.9 L459.6,446.5 L460.6,447.1 L461.6,447.7 L462.6,448.2 L463.6,448.8 L464.6,449.4 L465.6,450.0 L466.6,450.7 L467.6,451.5 L468.6,452.5 L469.6,453.8 L470.6,455.2 L471.6,456.8 L472.6,458.6 L473.6,460.5 L474.6,462.5 L475.6,464.5 L476.6,466.6 L477.6,468.9 L478.6,471.3 L479.6,474.0 L480.6,476.6 L481.6,479.3 L482.6,481.9 L483.6,484.3 L484.6,486.8 L485.6,489.2 L486.6,491.6 L487.6,494.1 L488.6,496.4 L489.6,498.8 L490.6,501.2 L490.9,501.9" fill="none" stroke="#a9d5e5" stroke-width="0.8"/><path d="M301.6,439.5 L302.6,438.1 L303.6,437.3 L304.6,437.0 L305.6,437.3 L306.6,438.4 L307.6,440.1 L308.6,443.8 L309.6,454.6 L310.6,463.4 L311.6,465.0 L312.6,466.1 L313.6,466.8 L314.6,467.4 L315.6,467.9 L316.6,468.3 L317.6,468.7 L318.6,469.1 L319.6,469.6 L320.6,470.3 L321.6,471.1 L322.6,471.8 L323.6,472.6 L324.6,473.4 L325.6,474.2 L326.6,475.1 L327.6,476.0 L328.6,476.8 L329.6,477.7 L330.6,478.6 L331.6,479.5 L332.6,480.3 L333.6,481.2 L334.6,482.1 L335.6,483.0 L336.6,483.9 L337.6,484.7 L338.6,485.6 L339.6,486.4 L340.6,487.2 L341.6,488.2 L342.6,489.1 L343.6,490.1 L344.6,491.0 L345.6,492.0 L346.6,492.8 L347.6,493.7 L348.6,494.4 L349.6,495.0 L350.6,495.5 L351.6,495.9 L352.6,496.1 L353.6,496.3 L354.6,496.5 L355.6,496.6 L356.6,496.7 L357.6,496.8 L358.6,496.8 L359.6,496.9 L360.6,497.0 L361.6,497.0 L362.6,497.1 L363.6,497.1 L364.6,497.2 L365.6,497.2 L366.6,497.3 L367.6,497.3 L368.6,497.4 L369.6,497.5 L370.6,497.6 L371.6,497.8 L372.6,498.0 L373.6,498.2 L374.6,498.5 L375.6,498.7 L376.6,499.1 L377.6,499.4 L378.6,499.8 L379.6,500.2 L380.6,500.6 L381.6,501.0 L382.6,501.4 L383.6,501.9 L384.6,502.3 L385.6,502.8 L386.6,503.2 L387.6,503.7 L388.6,504.3 L389.6,504.8 L390.6,505.5 L391.6,506.1 L392.6,506.8 L393.6,507.5 L394.6,508.3 L395.6,509.2 L396.6,510.2 L397.6,511.3 L398.6,512.5 L399.6,513.7 L400.6,514.8 L401.6,515.8 L402.6,516.6 L403.6,517.5 L404.6,518.4 L405.6,519.2 L406.6,519.8 L407.6,520.3 L408.6,520.5 L409.6,520.2 L410.6,519.4 L411.6,518.3 L412.6,516.9 L413.6,515.4 L414.6,513.9 L415.6,512.5 L416.6,510.8 L417.6,508.9 L418.6,506.7 L419.6,504.4 L420.6,502.0 L421.6,499.7 L422.6,497.6 L423.6,495.8 L424.6,494.3 L425.6,493.4 L426.6,492.9 L427.6,492.6 L428.6,492.3 L429.6,492.1 L430.6,491.9 L431.6,491.7 L432.6,491.5 L433.6,491.4 L434.6,491.2 L435.6,491.0 L436.6,490.8 L437.6,490.5 L438.6,490.3 L439.6,490.0 L440.6,489.7 L441.6,489.5 L442.6,489.2 L443.6,489.0 L444.6,488.8 L445.6,488.6 L446.6,488.5 L447.6,488.4 L448.6,488.3 L449.6,488.3 L450.6,488.4 L451.6,488.5 L452.6,488.8 L453.6,489.0 L454.6,489.4 L455.6,489.8 L456.6,490.2 L457.6,490.7 L458.6,491.2 L459.6,491.7 L460.6,492.3 L461.6,493.0 L462.6,493.9 L463.6,495.1 L464.6,496.4 L465.6,497.8 L466.6,499.3 L467.6,500.7 L468.6,502.1 L469.6,503.8 L470.6,505.6 L471.6,507.4 L472.6,509.0 L473.6,510.1 L474.6,510.6 L475.6,510.2 L476.6,509.1 L477.6,507.4 L478.6,505.3 L479.6,503.0 L480.6,500.6 L481.6,498.3 L482.6,495.7 L483.6,492.6 L484.6,489.4 L485.6,486.5 L486.6,484.1 L487.6,482.5 L488.6,481.1 L489.6,479.9 L490.6,479.1 L490.9,478.9 L490.9,487.9 L490.6,488.1 L489.6,488.9 L488.6,490.1 L487.6,491.5 L486.6,493.1 L485.6,495.5 L484.6,498.4 L483.6,501.6 L482.6,504.7 L481.6,507.3 L480.6,509.6 L479.6,512.0 L478.6,514.3 L477.6,516.4 L476.6,518.1 L475.6,519.2 L474.6,519.6 L473.6,519.1 L472.6,518.0 L471.6,516.4 L470.6,514.6 L469.6,512.8 L468.6,511.1 L467.6,509.7 L466.6,508.3 L465.6,506.8 L464.6,505.4 L463.6,504.1 L462.6,502.9 L461.6,502.0 L460.6,501.3 L459.6,500.7 L458.6,500.2 L457.6,499.7 L456.6,499.2 L455.6,498.8 L454.6,498.4 L453.6,498.0 L452.6,497.8 L451.6,497.5 L450.6,497.4 L449.6,497.3 L448.6,497.3 L447.6,497.4 L446.6,497.5 L445.6,497.6 L444.6,497.8 L443.6,498.0 L442.6,498.2 L441.6,498.5 L440.6,498.7 L439.6,499.0 L438.6,499.3 L437.6,499.5 L436.6,499.8 L435.6,500.0 L434.6,500.2 L433.6,500.4 L432.6,500.5 L431.6,500.7 L430.6,500.9 L429.6,501.1 L428.6,501.3 L427.6,501.6 L426.6,501.9 L425.6,502.4 L424.6,503.3 L423.6,504.8 L422.6,506.6 L421.6,508.7 L420.6,511.0 L419.6,513.4 L418.6,515.9 L417.6,518.2 L416.6,520.4 L415.6,522.2 L414.6,523.8 L413.6,525.4 L412.6,527.1 L411.6,528.7 L410.6,530.0 L409.6,530.9 L408.6,531.3 L407.6,531.3 L406.6,531.0 L405.6,530.5 L404.6,529.9 L403.6,529.1 L402.6,528.4 L401.6,527.7 L400.6,526.9 L399.6,526.0 L398.6,525.0 L397.6,523.9 L396.6,522.9 L395.6,522.1 L394.6,521.3 L393.6,520.5 L392.6,519.8 L391.6,519.1 L390.6,518.5 L389.6,517.8 L388.6,517.3 L387.6,516.7 L386.6,516.2 L385.6,515.8 L384.6,515.3 L383.6,514.9 L382.6,514.4 L381.6,514.0 L380.6,513.6 L379.6,513.2 L378.6,512.8 L377.6,512.4 L376.6,512.1 L375.6,511.7 L374.6,511.5 L373.6,511.2 L372.6,511.0 L371.6,510.8 L370.6,510.6 L369.6,510.5 L368.6,510.4 L367.6,510.3 L366.6,510.3 L365.6,510.2 L364.6,510.2 L363.6,510.1 L362.6,510.1 L361.6,510.0 L360.6,510.0 L359.6,509.9 L358.6,509.8 L357.6,509.8 L356.6,509.7 L355.6,509.6 L354.6,509.5 L353.6,509.3 L352.6,509.1 L351.6,508.9 L350.6,508.5 L349.6,508.0 L348.6,507.4 L347.6,506.7 L346.6,505.8 L345.6,505.0 L344.6,504.0 L343.6,503.1 L342.6,502.1 L341.6,501.2 L340.6,500.2 L339.6,499.4 L338.6,498.6 L337.6,497.7 L336.6,496.9 L335.6,496.0 L334.6,495.1 L333.6,494.2 L332.6,493.3 L331.6,492.5 L330.6,491.6 L329.6,490.7 L328.6,489.8 L327.6,489.0 L326.6,488.1 L325.6,487.2 L324.6,486.4 L323.6,485.6 L322.6,484.8 L321.6,484.1 L320.6,483.3 L319.6,482.6 L318.6,482.1 L317.6,481.7 L316.6,481.3 L315.6,480.9 L314.6,480.4 L313.6,479.8 L312.6,479.1 L311.6,478.0 L310.6,476.4 L309.6,467.6 L308.6,456.8 L307.6,453.1 L306.6,451.4 L305.6,450.3 L304.6,450.0 L303.6,450.3 L302.6,451.1 L301.6,452.5 Z" fill="#f5e9f2" stroke="none"/><path d="M301.6,439.5 L302.6,438.1 L303.6,437.3 L304.6,437.0 L305.6,437.3 L306.6,438.4 L307.6,440.1 L308.6,443.8 L309.6,454.6 L310.6,463.4 L311.6,465.0 L312.6,466.1 L313.6,466.8 L314.6,467.4 L315.6,467.9 L316.6,468.3 L317.6,468.7 L318.6,469.1 L319.6,469.6 L320.6,470.3 L321.6,471.1 L322.6,471.8 L323.6,472.6 L324.6,473.4 L325.6,474.2 L326.6,475.1 L327.6,476.0 L328.6,476.8 L329.6,477.7 L330.6,478.6 L331.6,479.5 L332.6,480.3 L333.6,481.2 L334.6,482.1 L335.6,483.0 L336.6,483.9 L337.6,484.7 L338.6,485.6 L339.6,486.4 L340.6,487.2 L341.6,488.2 L342.6,489.1 L343.6,490.1 L344.6,491.0 L345.6,492.0 L346.6,492.8 L347.6,493.7 L348.6,494.4 L349.6,495.0 L350.6,495.5 L351.6,495.9 L352.6,496.1 L353.6,496.3 L354.6,496.5 L355.6,496.6 L356.6,496.7 L357.6,496.8 L358.6,496.8 L359.6,496.9 L360.6,497.0 L361.6,497.0 L362.6,497.1 L363.6,497.1 L364.6,497.2 L365.6,497.2 L366.6,497.3 L367.6,497.3 L368.6,497.4 L369.6,497.5 L370.6,497.6 L371.6,497.8 L372.6,498.0 L373.6,498.2 L374.6,498.5 L375.6,498.7 L376.6,499.1 L377.6,499.4 L378.6,499.8 L379.6,500.2 L380.6,500.6 L381.6,501.0 L382.6,501.4 L383.6,501.9 L384.6,502.3 L385.6,502.8 L386.6,503.2 L387.6,503.7 L388.6,504.3 L389.6,504.8 L390.6,505.5 L391.6,506.1 L392.6,506.8 L393.6,507.5 L394.6,508.3 L395.6,509.2 L396.6,510.2 L397.6,511.3 L398.6,512.5 L399.6,513.7 L400.6,514.8 L401.6,515.8 L402.6,516.6 L403.6,517.5 L404.6,518.4 L405.6,519.2 L406.6,519.8 L407.6,520.3 L408.6,520.5 L409.6,520.2 L410.6,519.4 L411.6,518.3 L412.6,516.9 L413.6,515.4 L414.6,513.9 L415.6,512.5 L416.6,510.8 L417.6,508.9 L418.6,506.7 L419.6,504.4 L420.6,502.0 L421.6,499.7 L422.6,497.6 L423.6,495.8 L424.6,494.3 L425.6,493.4 L426.6,492.9 L427.6,492.6 L428.6,492.3 L429.6,492.1 L430.6,491.9 L431.6,491.7 L432.6,491.5 L433.6,491.4 L434.6,491.2 L435.6,491.0 L436.6,490.8 L437.6,490.5 L438.6,490.3 L439.6,490.0 L440.6,489.7 L441.6,489.5 L442.6,489.2 L443.6,489.0 L444.6,488.8 L445.6,488.6 L446.6,488.5 L447.6,488.4 L448.6,488.3 L449.6,488.3 L450.6,488.4 L451.6,488.5 L452.6,488.8 L453.6,489.0 L454.6,489.4 L455.6,489.8 L456.6,490.2 L457.6,490.7 L458.6,491.2 L459.6,491.7 L460.6,492.3 L461.6,493.0 L462.6,493.9 L463.6,495.1 L464.6,496.4 L465.6,497.8 L466.6,499.3 L467.6,500.7 L468.6,502.1 L469.6,503.8 L470.6,505.6 L471.6,507.4 L472.6,509.0 L473.6,510.1 L474.6,510.6 L475.6,510.2 L476.6,509.1 L477.6,507.4 L478.6,505.3 L479.6,503.0 L480.6,500.6 L481.6,498.3 L482.6,495.7 L483.6,492.6 L484.6,489.4 L485.6,486.5 L486.6,484.1 L487.6,482.5 L488.6,481.1 L489.6,479.9 L490.6,479.1 L490.9,478.9" fill="none" stroke="#d4a2d0" stroke-width="0.95"/><path d="M301.6,452.5 L302.6,451.1 L303.6,450.3 L304.6,450.0 L305.6,450.3 L306.6,451.4 L307.6,453.1 L308.6,456.8 L309.6,467.6 L310.6,476.4 L311.6,478.0 L312.6,479.1 L313.6,479.8 L314.6,480.4 L315.6,480.9 L316.6,481.3 L317.6,481.7 L318.6,482.1 L319.6,482.6 L320.6,483.3 L321.6,484.1 L322.6,484.8 L323.6,485.6 L324.6,486.4 L325.6,487.2 L326.6,488.1 L327.6,489.0 L328.6,489.8 L329.6,490.7 L330.6,491.6 L331.6,492.5 L332.6,493.3 L333.6,494.2 L334.6,495.1 L335.6,496.0 L336.6,496.9 L337.6,497.7 L338.6,498.6 L339.6,499.4 L340.6,500.2 L341.6,501.2 L342.6,502.1 L343.6,503.1 L344.6,504.0 L345.6,505.0 L346.6,505.8 L347.6,506.7 L348.6,507.4 L349.6,508.0 L350.6,508.5 L351.6,508.9 L352.6,509.1 L353.6,509.3 L354.6,509.5 L355.6,509.6 L356.6,509.7 L357.6,509.8 L358.6,509.8 L359.6,509.9 L360.6,510.0 L361.6,510.0 L362.6,510.1 L363.6,510.1 L364.6,510.2 L365.6,510.2 L366.6,510.3 L367.6,510.3 L368.6,510.4 L369.6,510.5 L370.6,510.6 L371.6,510.8 L372.6,511.0 L373.6,511.2 L374.6,511.5 L375.6,511.7 L376.6,512.1 L377.6,512.4 L378.6,512.8 L379.6,513.2 L380.6,513.6 L381.6,514.0 L382.6,514.4 L383.6,514.9 L384.6,515.3 L385.6,515.8 L386.6,516.2 L387.6,516.7 L388.6,517.3 L389.6,517.8 L390.6,518.5 L391.6,519.1 L392.6,519.8 L393.6,520.5 L394.6,521.3 L395.6,522.1 L396.6,522.9 L397.6,523.9 L398.6,525.0 L399.6,526.0 L400.6,526.9 L401.6,527.7 L402.6,528.4 L403.6,529.1 L404.6,529.9 L405.6,530.5 L406.6,531.0 L407.6,531.3 L408.6,531.3 L409.6,530.9 L410.6,530.0 L411.6,528.7 L412.6,527.1 L413.6,525.4 L414.6,523.8 L415.6,522.2 L416.6,520.4 L417.6,518.2 L418.6,515.9 L419.6,513.4 L420.6,511.0 L421.6,508.7 L422.6,506.6 L423.6,504.8 L424.6,503.3 L425.6,502.4 L426.6,501.9 L427.6,501.6 L428.6,501.3 L429.6,501.1 L430.6,500.9 L431.6,500.7 L432.6,500.5 L433.6,500.4 L434.6,500.2 L435.6,500.0 L436.6,499.8 L437.6,499.5 L438.6,499.3 L439.6,499.0 L440.6,498.7 L441.6,498.5 L442.6,498.2 L443.6,498.0 L444.6,497.8 L445.6,497.6 L446.6,497.5 L447.6,497.4 L448.6,497.3 L449.6,497.3 L450.6,497.4 L451.6,497.5 L452.6,497.8 L453.6,498.0 L454.6,498.4 L455.6,498.8 L456.6,499.2 L457.6,499.7 L458.6,500.2 L459.6,500.7 L460.6,501.3 L461.6,502.0 L462.6,502.9 L463.6,504.1 L464.6,505.4 L465.6,506.8 L466.6,508.3 L467.6,509.7 L468.6,511.1 L469.6,512.8 L470.6,514.6 L471.6,516.4 L472.6,518.0 L473.6,519.1 L474.6,519.6 L475.6,519.2 L476.6,518.1 L477.6,516.4 L478.6,514.3 L479.6,512.0 L480.6,509.6 L481.6,507.3 L482.6,504.7 L483.6,501.6 L484.6,498.4 L485.6,495.5 L486.6,493.1 L487.6,491.5 L488.6,490.1 L489.6,488.9 L490.6,488.1 L490.9,487.9" fill="none" stroke="#d4a2d0" stroke-width="0.8"/><path d="M301.6,451.0 L302.6,450.1 L303.6,449.3 L304.6,448.7 L305.6,448.4 L306.6,448.2 L307.6,448.3 L308.6,448.8 L309.6,449.4 L310.6,449.8 L311.6,450.0 L312.6,449.6 L313.6,448.7 L314.6,447.5 L315.6,446.2 L316.6,445.0 L317.6,444.0 L318.6,443.5 L319.6,443.5 L320.6,443.7 L321.6,444.0 L322.6,444.3 L323.6,444.7 L324.6,445.1 L325.6,445.6 L326.6,446.0 L327.6,446.5 L328.6,446.9 L329.6,447.4 L330.6,448.0 L331.6,448.5 L332.6,449.1 L333.6,449.7 L334.6,450.3 L335.6,450.9 L336.6,451.5 L337.6,452.0 L338.6,452.6 L339.6,453.0 L340.6,453.6 L341.6,454.1 L342.6,454.7 L343.6,455.2 L344.6,455.5 L345.6,455.7 L346.6,455.7 L347.6,455.5 L348.6,455.3 L349.6,455.0 L350.6,454.6 L351.6,454.2 L352.6,453.3 L353.6,452.1 L354.6,451.0 L355.6,450.0 L356.6,449.0 L357.6,448.0 L358.6,447.0 L359.6,446.1 L360.6,445.5 L361.6,445.0 L362.6,444.9 L363.6,444.8 L364.6,444.7 L365.6,444.6 L366.6,444.5 L367.6,444.4 L368.6,444.4 L369.6,444.3 L370.6,444.3 L371.6,444.3 L372.6,444.2 L373.6,444.2 L374.6,444.2 L375.6,444.2 L376.6,444.2 L377.6,444.3 L378.6,444.4 L379.6,444.6 L380.6,444.8 L381.6,445.0 L382.6,445.3 L383.6,445.5 L384.6,445.8 L385.6,446.0 L386.6,446.2 L387.6,446.5 L388.6,446.7 L389.6,447.0 L390.6,447.3 L391.6,447.5 L392.6,447.8 L393.6,448.0 L394.6,448.2 L395.6,448.3 L396.6,448.3 L397.6,448.4 L398.6,448.4 L399.6,448.5 L400.6,448.6 L401.6,448.9 L402.6,449.2 L403.6,449.7 L404.6,450.1 L405.6,450.6 L406.6,451.0 L407.6,451.4 L408.6,451.6 L409.6,451.8 L410.6,451.9 L411.6,452.0 L412.6,452.2 L413.6,452.2 L414.6,452.3 L415.6,452.3 L416.6,451.6 L417.6,450.3 L418.6,448.6 L419.6,446.8 L420.6,445.1 L421.6,443.9 L422.6,443.1 L423.6,442.4 L424.6,441.7 L425.6,441.1 L426.6,440.5 L427.6,440.0 L428.6,439.5 L429.6,439.1 L430.6,438.7 L431.6,438.4 L432.6,438.1 L433.6,437.9 L434.6,437.7 L435.6,437.5 L436.6,437.3 L437.6,437.1 L438.6,436.9 L439.6,436.7 L440.6,436.6 L441.6,436.4 L442.6,436.3 L443.6,436.2 L444.6,436.1 L445.6,436.1 L446.6,436.1 L447.6,436.2 L448.6,436.4 L449.6,436.7 L450.6,437.1 L451.6,437.5 L452.6,437.9 L453.6,438.3 L454.6,438.7 L455.6,439.2 L456.6,439.8 L457.6,440.3 L458.6,440.9 L459.6,441.5 L460.6,442.1 L461.6,442.7 L462.6,443.2 L463.6,443.8 L464.6,444.4 L465.6,445.0 L466.6,445.7 L467.6,446.5 L468.6,447.5 L469.6,448.8 L470.6,450.3 L471.6,452.0 L472.6,453.9 L473.6,455.9 L474.6,457.9 L475.6,460.0 L476.6,462.2 L477.6,464.6 L478.6,467.2 L479.6,469.9 L480.6,472.7 L481.6,475.4 L482.6,478.1 L483.6,480.6 L484.6,483.2 L485.6,485.7 L486.6,488.2 L487.6,490.7 L488.6,493.2 L489.6,495.7 L490.6,498.2 L490.9,498.9" fill="none" stroke="#66b3cf" stroke-width="1.5" stroke-linejoin="round"/><path d="M301.6,446.0 L302.6,444.6 L303.6,443.8 L304.6,443.5 L305.6,443.8 L306.6,444.9 L307.6,446.6 L308.6,450.3 L309.6,461.1 L310.6,469.9 L311.6,471.5 L312.6,472.6 L313.6,473.3 L314.6,473.9 L315.6,474.4 L316.6,474.8 L317.6,475.2 L318.6,475.6 L319.6,476.1 L320.6,476.8 L321.6,477.6 L322.6,478.3 L323.6,479.1 L324.6,479.9 L325.6,480.7 L326.6,481.6 L327.6,482.5 L328.6,483.3 L329.6,484.2 L330.6,485.1 L331.6,486.0 L332.6,486.8 L333.6,487.7 L334.6,488.6 L335.6,489.5 L336.6,490.4 L337.6,491.2 L338.6,492.1 L339.6,492.9 L340.6,493.7 L341.6,494.7 L342.6,495.6 L343.6,496.6 L344.6,497.5 L345.6,498.5 L346.6,499.3 L347.6,500.2 L348.6,500.9 L349.6,501.5 L350.6,502.0 L351.6,502.4 L352.6,502.6 L353.6,502.8 L354.6,503.0 L355.6,503.1 L356.6,503.2 L357.6,503.3 L358.6,503.3 L359.6,503.4 L360.6,503.5 L361.6,503.5 L362.6,503.6 L363.6,503.6 L364.6,503.7 L365.6,503.7 L366.6,503.8 L367.6,503.8 L368.6,503.9 L369.6,504.0 L370.6,504.1 L371.6,504.3 L372.6,504.5 L373.6,504.7 L374.6,505.0 L375.6,505.2 L376.6,505.6 L377.6,505.9 L378.6,506.3 L379.6,506.7 L380.6,507.1 L381.6,507.5 L382.6,507.9 L383.6,508.4 L384.6,508.8 L385.6,509.3 L386.6,509.7 L387.6,510.2 L388.6,510.8 L389.6,511.3 L390.6,512.0 L391.6,512.6 L392.6,513.3 L393.6,514.0 L394.6,514.8 L395.6,515.6 L396.6,516.6 L397.6,517.6 L398.6,518.8 L399.6,519.9 L400.6,520.9 L401.6,521.7 L402.6,522.5 L403.6,523.3 L404.6,524.1 L405.6,524.8 L406.6,525.4 L407.6,525.8 L408.6,525.9 L409.6,525.5 L410.6,524.7 L411.6,523.5 L412.6,522.0 L413.6,520.4 L414.6,518.8 L415.6,517.4 L416.6,515.6 L417.6,513.6 L418.6,511.3 L419.6,508.9 L420.6,506.5 L421.6,504.2 L422.6,502.1 L423.6,500.3 L424.6,498.8 L425.6,497.9 L426.6,497.4 L427.6,497.1 L428.6,496.8 L429.6,496.6 L430.6,496.4 L431.6,496.2 L432.6,496.0 L433.6,495.9 L434.6,495.7 L435.6,495.5 L436.6,495.3 L437.6,495.0 L438.6,494.8 L439.6,494.5 L440.6,494.2 L441.6,494.0 L442.6,493.7 L443.6,493.5 L444.6,493.3 L445.6,493.1 L446.6,493.0 L447.6,492.9 L448.6,492.8 L449.6,492.8 L450.6,492.9 L451.6,493.0 L452.6,493.3 L453.6,493.5 L454.6,493.9 L455.6,494.3 L456.6,494.7 L457.6,495.2 L458.6,495.7 L459.6,496.2 L460.6,496.8 L461.6,497.5 L462.6,498.4 L463.6,499.6 L464.6,500.9 L465.6,502.3 L466.6,503.8 L467.6,505.2 L468.6,506.6 L469.6,508.3 L470.6,510.1 L471.6,511.9 L472.6,513.5 L473.6,514.6 L474.6,515.1 L475.6,514.7 L476.6,513.6 L477.6,511.9 L478.6,509.8 L479.6,507.5 L480.6,505.1 L481.6,502.8 L482.6,500.2 L483.6,497.1 L484.6,493.9 L485.6,491.0 L486.6,488.6 L487.6,487.0 L488.6,485.6 L489.6,484.4 L490.6,483.6 L490.9,483.4" fill="none" stroke="#8e318f" stroke-width="1.5" stroke-linejoin="round"/></g><line x1="309.20" y1="432.70" x2="309.20" y2="574.10" stroke="#262626" stroke-width="1.35" stroke-dasharray="1.4 2.6"/><line x1="339.52" y1="432.70" x2="339.52" y2="574.10" stroke="#262626" stroke-width="1.35" stroke-dasharray="1.4 2.6"/><line x1="354.68" y1="432.70" x2="354.68" y2="574.10" stroke="#262626" stroke-width="1.35" stroke-dasharray="1.4 2.6"/><line x1="400.16" y1="432.70" x2="400.16" y2="574.10" stroke="#262626" stroke-width="1.35" stroke-dasharray="1.4 2.6"/><line x1="415.32" y1="432.70" x2="415.32" y2="574.10" stroke="#262626" stroke-width="1.35" stroke-dasharray="1.4 2.6"/><line x1="460.80" y1="432.70" x2="460.80" y2="574.10" stroke="#262626" stroke-width="1.35" stroke-dasharray="1.4 2.6"/><path d="M301.70,430.00 L301.70,573.80 L491.10,573.80" fill="none" stroke="#6d6e71" stroke-width="1.1"/><line x1="301.70" y1="558.60" x2="303.90" y2="558.60" stroke="#6d6e71" stroke-width="1"/><text x="296.90" y="565.20" text-anchor="end" font-family='"Liberation Sans", sans-serif' font-size="12" fill="#231f20">-2</text><line x1="301.70" y1="494.00" x2="303.90" y2="494.00" stroke="#6d6e71" stroke-width="1"/><text x="296.90" y="500.60" text-anchor="end" font-family='"Liberation Sans", sans-serif' font-size="12" fill="#231f20">0</text><line x1="301.70" y1="430.40" x2="303.90" y2="430.40" stroke="#6d6e71" stroke-width="1"/><text x="296.90" y="437.00" text-anchor="end" font-family='"Liberation Sans", sans-serif' font-size="12" fill="#231f20">2</text><line x1="309.20" y1="573.80" x2="309.20" y2="571.80" stroke="#262626" stroke-width="1"/><text x="309.40" y="584.30" text-anchor="middle" font-family='"Liberation Sans", sans-serif' font-size="12" fill="#231f20">0</text><line x1="339.52" y1="573.80" x2="339.52" y2="571.80" stroke="#262626" stroke-width="1"/><text x="338.92" y="584.30" text-anchor="middle" font-family='"Liberation Sans", sans-serif' font-size="12" fill="#231f20">1</text><line x1="400.16" y1="573.80" x2="400.16" y2="571.80" stroke="#262626" stroke-width="1"/><text x="400.36" y="584.30" text-anchor="middle" font-family='"Liberation Sans", sans-serif' font-size="12" fill="#231f20">3</text><line x1="460.80" y1="573.80" x2="460.80" y2="571.80" stroke="#262626" stroke-width="1"/><text x="461.00" y="584.30" text-anchor="middle" font-family='"Liberation Sans", sans-serif' font-size="12" fill="#231f20">5</text><text x="376.40" y="596.10" font-family='"Liberation Sans", sans-serif' font-size="12" fill="#231f20" textLength="40" lengthAdjust="spacingAndGlyphs">Time (s)</text><text x="354.30" y="426.30" font-family='"Liberation Sans", sans-serif' font-size="12" fill="#231f20" textLength="47.3" lengthAdjust="spacingAndGlyphs">33-64 Hz</text><text transform="translate(280.80,551.10) rotate(-90)" x="0" y="0" font-family='"Liberation Sans", sans-serif' font-size="12" fill="#231f20" textLength="61.4" lengthAdjust="spacingAndGlyphs">Power (dB)</text></g><clipPath id="clipB4"><rect x="301.7" y="617.6" width="190.40000000000003" height="146.19999999999993"/></clipPath><g><rect x="339.92" y="621.70" width="13.6" height="142.10" fill="#d6d6d6"/><rect x="400.56" y="621.70" width="13.6" height="142.10" fill="#d6d6d6"/><g clip-path="url(#clipB4)"><path d="M301.6,649.0 L302.6,646.9 L303.6,645.1 L304.6,643.9 L305.6,643.2 L306.6,642.8 L307.6,642.6 L308.6,643.5 L309.6,649.0 L310.6,655.5 L311.6,658.1 L312.6,658.0 L313.6,657.7 L314.6,657.2 L315.6,656.7 L316.6,656.3 L317.6,655.9 L318.6,655.7 L319.6,655.7 L320.6,655.8 L321.6,656.0 L322.6,656.3 L323.6,656.5 L324.6,656.8 L325.6,657.0 L326.6,657.2 L327.6,657.3 L328.6,657.4 L329.6,657.2 L330.6,656.7 L331.6,656.1 L332.6,655.5 L333.6,654.8 L334.6,654.0 L335.6,652.8 L336.6,651.5 L337.6,650.3 L338.6,649.3 L339.6,648.8 L340.6,648.5 L341.6,648.3 L342.6,648.2 L343.6,648.0 L344.6,647.9 L345.6,647.9 L346.6,648.0 L347.6,648.4 L348.6,649.0 L349.6,649.6 L350.6,649.8 L351.6,649.5 L352.6,648.6 L353.6,647.5 L354.6,646.5 L355.6,645.7 L356.6,644.7 L357.6,643.8 L358.6,643.2 L359.6,643.0 L360.6,643.0 L361.6,643.1 L362.6,643.3 L363.6,643.4 L364.6,643.7 L365.6,643.9 L366.6,644.2 L367.6,644.5 L368.6,644.8 L369.6,645.1 L370.6,645.4 L371.6,645.7 L372.6,645.9 L373.6,646.2 L374.6,646.4 L375.6,646.6 L376.6,646.8 L377.6,647.1 L378.6,647.3 L379.6,647.6 L380.6,647.9 L381.6,648.1 L382.6,648.4 L383.6,648.6 L384.6,648.9 L385.6,649.1 L386.6,649.3 L387.6,649.5 L388.6,649.7 L389.6,649.9 L390.6,650.0 L391.6,650.1 L392.6,650.2 L393.6,650.3 L394.6,650.3 L395.6,650.3 L396.6,649.9 L397.6,649.3 L398.6,648.6 L399.6,647.7 L400.6,646.9 L401.6,646.1 L402.6,645.5 L403.6,645.0 L404.6,644.9 L405.6,645.0 L406.6,645.4 L407.6,645.8 L408.6,646.4 L409.6,647.1 L410.6,647.7 L411.6,648.3 L412.6,648.9 L413.6,649.3 L414.6,649.5 L415.6,649.6 L416.6,649.2 L417.6,648.5 L418.6,647.5 L419.6,646.3 L420.6,645.0 L421.6,643.7 L422.6,642.4 L423.6,641.4 L424.6,640.6 L425.6,640.2 L426.6,640.1 L427.6,640.4 L428.6,640.8 L429.6,641.4 L430.6,642.0 L431.6,642.7 L432.6,643.4 L433.6,644.0 L434.6,644.6 L435.6,644.9 L436.6,645.2 L437.6,645.4 L438.6,645.6 L439.6,645.8 L440.6,646.0 L441.6,646.1 L442.6,646.3 L443.6,646.5 L444.6,646.8 L445.6,647.1 L446.6,647.5 L447.6,647.9 L448.6,648.4 L449.6,648.9 L450.6,649.4 L451.6,650.0 L452.6,650.6 L453.6,651.2 L454.6,651.9 L455.6,652.7 L456.6,653.6 L457.6,654.5 L458.6,655.3 L459.6,656.1 L460.6,656.9 L461.6,657.5 L462.6,658.1 L463.6,658.7 L464.6,659.2 L465.6,659.7 L466.6,660.3 L467.6,660.9 L468.6,661.5 L469.6,662.0 L470.6,662.7 L471.6,663.4 L472.6,664.2 L473.6,665.1 L474.6,666.1 L475.6,667.2 L476.6,668.6 L477.6,670.6 L478.6,673.1 L479.6,675.9 L480.6,679.0 L481.6,682.2 L482.6,685.9 L483.6,690.1 L484.6,694.3 L485.6,698.0 L486.6,701.1 L487.6,704.1 L488.6,706.8 L489.6,709.3 L490.3,710.8 L490.3,714.8 L489.6,713.6 L488.6,711.6 L487.6,709.3 L486.6,706.7 L485.6,704.0 L484.6,700.9 L483.6,697.1 L482.6,693.3 L481.6,690.0 L480.6,687.3 L479.6,684.7 L478.6,682.2 L477.6,680.2 L476.6,678.7 L475.6,677.7 L474.6,677.1 L473.6,676.5 L472.6,676.1 L471.6,675.7 L470.6,675.4 L469.6,675.0 L468.6,674.5 L467.6,673.9 L466.6,673.3 L465.6,672.7 L464.6,672.2 L463.6,671.7 L462.6,671.1 L461.6,670.5 L460.6,669.9 L459.6,669.1 L458.6,668.3 L457.6,667.5 L456.6,666.6 L455.6,665.7 L454.6,664.9 L453.6,664.2 L452.6,663.6 L451.6,663.0 L450.6,662.4 L449.6,661.9 L448.6,661.4 L447.6,660.9 L446.6,660.5 L445.6,660.1 L444.6,659.8 L443.6,659.5 L442.6,659.3 L441.6,659.1 L440.6,659.0 L439.6,658.8 L438.6,658.6 L437.6,658.4 L436.6,658.2 L435.6,657.9 L434.6,657.6 L433.6,657.0 L432.6,656.4 L431.6,655.7 L430.6,655.0 L429.6,654.4 L428.6,653.8 L427.6,653.4 L426.6,653.1 L425.6,653.2 L424.6,653.6 L423.6,654.4 L422.6,655.4 L421.6,656.7 L420.6,658.0 L419.6,659.3 L418.6,660.5 L417.6,661.5 L416.6,662.2 L415.6,662.6 L414.6,662.5 L413.6,662.3 L412.6,661.9 L411.6,661.3 L410.6,660.7 L409.6,660.1 L408.6,659.4 L407.6,658.8 L406.6,658.4 L405.6,658.0 L404.6,657.9 L403.6,658.0 L402.6,658.5 L401.6,659.1 L400.6,659.9 L399.6,660.7 L398.6,661.6 L397.6,662.3 L396.6,662.9 L395.6,663.2 L394.6,663.3 L393.6,663.2 L392.6,663.2 L391.6,663.1 L390.6,662.9 L389.6,662.8 L388.6,662.6 L387.6,662.4 L386.6,662.2 L385.6,662.0 L384.6,661.7 L383.6,661.5 L382.6,661.2 L381.6,660.9 L380.6,660.7 L379.6,660.4 L378.6,660.1 L377.6,659.9 L376.6,659.6 L375.6,659.4 L374.6,659.1 L373.6,658.9 L372.6,658.7 L371.6,658.4 L370.6,658.1 L369.6,657.8 L368.6,657.5 L367.6,657.1 L366.6,656.8 L365.6,656.6 L364.6,656.3 L363.6,656.1 L362.6,655.9 L361.6,655.7 L360.6,655.6 L359.6,655.6 L358.6,655.8 L357.6,656.4 L356.6,657.3 L355.6,658.2 L354.6,659.0 L353.6,660.0 L352.6,661.2 L351.6,662.0 L350.6,662.3 L349.6,662.1 L348.6,661.5 L347.6,660.9 L346.6,660.4 L345.6,660.3 L344.6,660.4 L343.6,660.4 L342.6,660.6 L341.6,660.7 L340.6,660.9 L339.6,661.2 L338.6,661.7 L337.6,662.6 L336.6,663.8 L335.6,665.1 L334.6,666.3 L333.6,667.1 L332.6,667.8 L331.6,668.4 L330.6,669.0 L329.6,669.4 L328.6,669.6 L327.6,669.6 L326.6,669.5 L325.6,669.3 L324.6,669.0 L323.6,668.7 L322.6,668.5 L321.6,668.2 L320.6,668.0 L319.6,667.9 L318.6,667.9 L317.6,668.1 L316.6,668.4 L315.6,668.9 L314.6,669.4 L313.6,669.8 L312.6,670.1 L311.6,670.2 L310.6,667.5 L309.6,661.1 L308.6,655.5 L307.6,654.7 L306.6,654.9 L305.6,655.2 L304.6,655.9 L303.6,657.1 L302.6,658.9 L301.6,661.0 Z" fill="#eff6fa" stroke="none"/><path d="M301.6,649.0 L302.6,646.9 L303.6,645.1 L304.6,643.9 L305.6,643.2 L306.6,642.8 L307.6,642.6 L308.6,643.5 L309.6,649.0 L310.6,655.5 L311.6,658.1 L312.6,658.0 L313.6,657.7 L314.6,657.2 L315.6,656.7 L316.6,656.3 L317.6,655.9 L318.6,655.7 L319.6,655.7 L320.6,655.8 L321.6,656.0 L322.6,656.3 L323.6,656.5 L324.6,656.8 L325.6,657.0 L326.6,657.2 L327.6,657.3 L328.6,657.4 L329.6,657.2 L330.6,656.7 L331.6,656.1 L332.6,655.5 L333.6,654.8 L334.6,654.0 L335.6,652.8 L336.6,651.5 L337.6,650.3 L338.6,649.3 L339.6,648.8 L340.6,648.5 L341.6,648.3 L342.6,648.2 L343.6,648.0 L344.6,647.9 L345.6,647.9 L346.6,648.0 L347.6,648.4 L348.6,649.0 L349.6,649.6 L350.6,649.8 L351.6,649.5 L352.6,648.6 L353.6,647.5 L354.6,646.5 L355.6,645.7 L356.6,644.7 L357.6,643.8 L358.6,643.2 L359.6,643.0 L360.6,643.0 L361.6,643.1 L362.6,643.3 L363.6,643.4 L364.6,643.7 L365.6,643.9 L366.6,644.2 L367.6,644.5 L368.6,644.8 L369.6,645.1 L370.6,645.4 L371.6,645.7 L372.6,645.9 L373.6,646.2 L374.6,646.4 L375.6,646.6 L376.6,646.8 L377.6,647.1 L378.6,647.3 L379.6,647.6 L380.6,647.9 L381.6,648.1 L382.6,648.4 L383.6,648.6 L384.6,648.9 L385.6,649.1 L386.6,649.3 L387.6,649.5 L388.6,649.7 L389.6,649.9 L390.6,650.0 L391.6,650.1 L392.6,650.2 L393.6,650.3 L394.6,650.3 L395.6,650.3 L396.6,649.9 L397.6,649.3 L398.6,648.6 L399.6,647.7 L400.6,646.9 L401.6,646.1 L402.6,645.5 L403.6,645.0 L404.6,644.9 L405.6,645.0 L406.6,645.4 L407.6,645.8 L408.6,646.4 L409.6,647.1 L410.6,647.7 L411.6,648.3 L412.6,648.9 L413.6,649.3 L414.6,649.5 L415.6,649.6 L416.6,649.2 L417.6,648.5 L418.6,647.5 L419.6,646.3 L420.6,645.0 L421.6,643.7 L422.6,642.4 L423.6,641.4 L424.6,640.6 L425.6,640.2 L426.6,640.1 L427.6,640.4 L428.6,640.8 L429.6,641.4 L430.6,642.0 L431.6,642.7 L432.6,643.4 L433.6,644.0 L434.6,644.6 L435.6,644.9 L436.6,645.2 L437.6,645.4 L438.6,645.6 L439.6,645.8 L440.6,646.0 L441.6,646.1 L442.6,646.3 L443.6,646.5 L444.6,646.8 L445.6,647.1 L446.6,647.5 L447.6,647.9 L448.6,648.4 L449.6,648.9 L450.6,649.4 L451.6,650.0 L452.6,650.6 L453.6,651.2 L454.6,651.9 L455.6,652.7 L456.6,653.6 L457.6,654.5 L458.6,655.3 L459.6,656.1 L460.6,656.9 L461.6,657.5 L462.6,658.1 L463.6,658.7 L464.6,659.2 L465.6,659.7 L466.6,660.3 L467.6,660.9 L468.6,661.5 L469.6,662.0 L470.6,662.7 L471.6,663.4 L472.6,664.2 L473.6,665.1 L474.6,666.1 L475.6,667.2 L476.6,668.6 L477.6,670.6 L478.6,673.1 L479.6,675.9 L480.6,679.0 L481.6,682.2 L482.6,685.9 L483.6,690.1 L484.6,694.3 L485.6,698.0 L486.6,701.1 L487.6,704.1 L488.6,706.8 L489.6,709.3 L490.3,710.8" fill="none" stroke="#a9d5e5" stroke-width="0.95"/><path d="M301.6,661.0 L302.6,658.9 L303.6,657.1 L304.6,655.9 L305.6,655.2 L306.6,654.9 L307.6,654.7 L308.6,655.5 L309.6,661.1 L310.6,667.5 L311.6,670.2 L312.6,670.1 L313.6,669.8 L314.6,669.4 L315.6,668.9 L316.6,668.4 L317.6,668.1 L318.6,667.9 L319.6,667.9 L320.6,668.0 L321.6,668.2 L322.6,668.5 L323.6,668.7 L324.6,669.0 L325.6,669.3 L326.6,669.5 L327.6,669.6 L328.6,669.6 L329.6,669.4 L330.6,669.0 L331.6,668.4 L332.6,667.8 L333.6,667.1 L334.6,666.3 L335.6,665.1 L336.6,663.8 L337.6,662.6 L338.6,661.7 L339.6,661.2 L340.6,660.9 L341.6,660.7 L342.6,660.6 L343.6,660.4 L344.6,660.4 L345.6,660.3 L346.6,660.4 L347.6,660.9 L348.6,661.5 L349.6,662.1 L350.6,662.3 L351.6,662.0 L352.6,661.2 L353.6,660.0 L354.6,659.0 L355.6,658.2 L356.6,657.3 L357.6,656.4 L358.6,655.8 L359.6,655.6 L360.6,655.6 L361.6,655.7 L362.6,655.9 L363.6,656.1 L364.6,656.3 L365.6,656.6 L366.6,656.8 L367.6,657.1 L368.6,657.5 L369.6,657.8 L370.6,658.1 L371.6,658.4 L372.6,658.7 L373.6,658.9 L374.6,659.1 L375.6,659.4 L376.6,659.6 L377.6,659.9 L378.6,660.1 L379.6,660.4 L380.6,660.7 L381.6,660.9 L382.6,661.2 L383.6,661.5 L384.6,661.7 L385.6,662.0 L386.6,662.2 L387.6,662.4 L388.6,662.6 L389.6,662.8 L390.6,662.9 L391.6,663.1 L392.6,663.2 L393.6,663.2 L394.6,663.3 L395.6,663.2 L396.6,662.9 L397.6,662.3 L398.6,661.6 L399.6,660.7 L400.6,659.9 L401.6,659.1 L402.6,658.5 L403.6,658.0 L404.6,657.9 L405.6,658.0 L406.6,658.4 L407.6,658.8 L408.6,659.4 L409.6,660.1 L410.6,660.7 L411.6,661.3 L412.6,661.9 L413.6,662.3 L414.6,662.5 L415.6,662.6 L416.6,662.2 L417.6,661.5 L418.6,660.5 L419.6,659.3 L420.6,658.0 L421.6,656.7 L422.6,655.4 L423.6,654.4 L424.6,653.6 L425.6,653.2 L426.6,653.1 L427.6,653.4 L428.6,653.8 L429.6,654.4 L430.6,655.0 L431.6,655.7 L432.6,656.4 L433.6,657.0 L434.6,657.6 L435.6,657.9 L436.6,658.2 L437.6,658.4 L438.6,658.6 L439.6,658.8 L440.6,659.0 L441.6,659.1 L442.6,659.3 L443.6,659.5 L444.6,659.8 L445.6,660.1 L446.6,660.5 L447.6,660.9 L448.6,661.4 L449.6,661.9 L450.6,662.4 L451.6,663.0 L452.6,663.6 L453.6,664.2 L454.6,664.9 L455.6,665.7 L456.6,666.6 L457.6,667.5 L458.6,668.3 L459.6,669.1 L460.6,669.9 L461.6,670.5 L462.6,671.1 L463.6,671.7 L464.6,672.2 L465.6,672.7 L466.6,673.3 L467.6,673.9 L468.6,674.5 L469.6,675.0 L470.6,675.4 L471.6,675.7 L472.6,676.1 L473.6,676.5 L474.6,677.1 L475.6,677.7 L476.6,678.7 L477.6,680.2 L478.6,682.2 L479.6,684.7 L480.6,687.3 L481.6,690.0 L482.6,693.3 L483.6,697.1 L484.6,700.9 L485.6,704.0 L486.6,706.7 L487.6,709.3 L488.6,711.6 L489.6,713.6 L490.3,714.8" fill="none" stroke="#a9d5e5" stroke-width="0.8"/><path d="M301.6,638.3 L302.6,636.2 L303.6,634.8 L304.6,634.2 L305.6,634.5 L306.6,635.3 L307.6,636.8 L308.6,641.4 L309.6,658.6 L310.6,672.7 L311.6,674.5 L312.6,675.4 L313.6,676.2 L314.6,676.7 L315.6,677.1 L316.6,677.5 L317.6,677.8 L318.6,678.2 L319.6,678.6 L320.6,679.2 L321.6,679.8 L322.6,680.5 L323.6,681.3 L324.6,682.0 L325.6,682.8 L326.6,683.5 L327.6,684.1 L328.6,684.6 L329.6,685.0 L330.6,685.2 L331.6,685.2 L332.6,684.9 L333.6,684.5 L334.6,684.0 L335.6,683.5 L336.6,683.0 L337.6,682.7 L338.6,682.6 L339.6,683.0 L340.6,683.9 L341.6,685.2 L342.6,686.6 L343.6,687.8 L344.6,689.4 L345.6,691.3 L346.6,693.2 L347.6,695.2 L348.6,697.0 L349.6,698.5 L350.6,699.5 L351.6,700.2 L352.6,700.8 L353.6,701.3 L354.6,701.6 L355.6,701.8 L356.6,702.0 L357.6,702.2 L358.6,702.3 L359.6,702.4 L360.6,702.5 L361.6,702.6 L362.6,702.7 L363.6,702.7 L364.6,702.8 L365.6,702.9 L366.6,703.0 L367.6,703.2 L368.6,703.3 L369.6,703.5 L370.6,703.7 L371.6,704.0 L372.6,704.5 L373.6,705.1 L374.6,705.7 L375.6,706.3 L376.6,706.9 L377.6,707.4 L378.6,707.8 L379.6,708.0 L380.6,708.1 L381.6,708.2 L382.6,708.3 L383.6,708.3 L384.6,708.4 L385.6,708.5 L386.6,708.5 L387.6,708.6 L388.6,708.7 L389.6,708.7 L390.6,708.7 L391.6,708.8 L392.6,708.8 L393.6,708.8 L394.6,708.8 L395.6,708.8 L396.6,708.7 L397.6,708.5 L398.6,708.1 L399.6,707.8 L400.6,707.4 L401.6,707.1 L402.6,706.9 L403.6,706.7 L404.6,706.6 L405.6,706.7 L406.6,706.9 L407.6,707.1 L408.6,707.4 L409.6,707.7 L410.6,708.0 L411.6,708.3 L412.6,708.6 L413.6,708.8 L414.6,709.0 L415.6,709.0 L416.6,708.6 L417.6,707.9 L418.6,706.9 L419.6,705.7 L420.6,704.4 L421.6,703.1 L422.6,701.9 L423.6,700.8 L424.6,700.0 L425.6,699.6 L426.6,699.6 L427.6,699.8 L428.6,700.1 L429.6,700.5 L430.6,701.0 L431.6,701.6 L432.6,702.2 L433.6,702.8 L434.6,703.3 L435.6,703.7 L436.6,704.1 L437.6,704.3 L438.6,704.3 L439.6,704.3 L440.6,704.2 L441.6,704.1 L442.6,703.9 L443.6,703.8 L444.6,703.6 L445.6,703.4 L446.6,703.2 L447.6,703.0 L448.6,702.8 L449.6,702.7 L450.6,702.5 L451.6,702.4 L452.6,702.3 L453.6,702.2 L454.6,702.2 L455.6,702.1 L456.6,702.1 L457.6,702.0 L458.6,702.0 L459.6,701.9 L460.6,701.8 L461.6,701.6 L462.6,701.4 L463.6,701.1 L464.6,700.7 L465.6,700.3 L466.6,699.7 L467.6,698.8 L468.6,697.7 L469.6,696.6 L470.6,695.4 L471.6,694.3 L472.6,693.4 L473.6,692.8 L474.6,692.4 L475.6,692.3 L476.6,692.2 L477.6,692.1 L478.6,692.0 L479.6,692.0 L480.6,691.9 L481.6,691.8 L482.6,691.8 L483.6,691.8 L484.6,691.8 L485.6,691.8 L486.6,691.9 L487.6,692.2 L488.6,692.6 L489.6,693.1 L490.6,693.6 L490.9,693.8 L490.9,704.8 L490.6,704.6 L489.6,704.1 L488.6,703.6 L487.6,703.2 L486.6,702.9 L485.6,702.8 L484.6,702.8 L483.6,702.9 L482.6,702.9 L481.6,702.9 L480.6,703.0 L479.6,703.1 L478.6,703.2 L477.6,703.3 L476.6,703.4 L475.6,703.5 L474.6,703.6 L473.6,704.0 L472.6,704.6 L471.6,705.6 L470.6,706.6 L469.6,707.8 L468.6,709.0 L467.6,710.0 L466.6,710.9 L465.6,711.6 L464.6,712.0 L463.6,712.4 L462.6,712.7 L461.6,712.9 L460.6,713.1 L459.6,713.2 L458.6,713.3 L457.6,713.4 L456.6,713.5 L455.6,713.5 L454.6,713.6 L453.6,713.7 L452.6,713.7 L451.6,713.8 L450.6,714.0 L449.6,714.1 L448.6,714.3 L447.6,714.5 L446.6,714.7 L445.6,714.9 L444.6,715.1 L443.6,715.3 L442.6,715.5 L441.6,715.6 L440.6,715.7 L439.6,715.8 L438.6,715.9 L437.6,715.9 L436.6,715.7 L435.6,715.3 L434.6,714.9 L433.6,714.4 L432.6,713.8 L431.6,713.3 L430.6,712.7 L429.6,712.2 L428.6,711.8 L427.6,711.4 L426.6,711.3 L425.6,711.3 L424.6,711.8 L423.6,712.6 L422.6,713.6 L421.6,714.9 L420.6,716.2 L419.6,717.5 L418.6,718.7 L417.6,719.7 L416.6,720.4 L415.6,720.8 L414.6,720.8 L413.6,720.7 L412.6,720.5 L411.6,720.2 L410.6,719.9 L409.6,719.6 L408.6,719.3 L407.6,719.0 L406.6,718.8 L405.6,718.6 L404.6,718.6 L403.6,718.6 L402.6,718.8 L401.6,719.1 L400.6,719.4 L399.6,719.8 L398.6,720.2 L397.6,720.5 L396.6,720.8 L395.6,720.9 L394.6,721.0 L393.6,721.0 L392.6,721.0 L391.6,720.9 L390.6,720.9 L389.6,720.9 L388.6,720.9 L387.6,720.9 L386.6,720.8 L385.6,720.8 L384.6,720.7 L383.6,720.7 L382.6,720.6 L381.6,720.5 L380.6,720.5 L379.6,720.4 L378.6,720.2 L377.6,719.8 L376.6,719.4 L375.6,718.8 L374.6,718.2 L373.6,717.6 L372.6,717.0 L371.6,716.6 L370.6,716.3 L369.6,716.1 L368.6,715.9 L367.6,715.8 L366.6,715.7 L365.6,715.6 L364.6,715.6 L363.6,715.5 L362.6,715.4 L361.6,715.4 L360.6,715.3 L359.6,715.2 L358.6,715.1 L357.6,715.0 L356.6,714.9 L355.6,714.7 L354.6,714.5 L353.6,714.2 L352.6,713.8 L351.6,713.2 L350.6,712.5 L349.6,711.5 L348.6,710.0 L347.6,708.2 L346.6,706.3 L345.6,704.4 L344.6,702.6 L343.6,701.0 L342.6,699.7 L341.6,698.4 L340.6,697.1 L339.6,696.2 L338.6,695.8 L337.6,695.9 L336.6,696.3 L335.6,696.8 L334.6,697.3 L333.6,697.9 L332.6,698.3 L331.6,698.6 L330.6,698.6 L329.6,698.4 L328.6,698.0 L327.6,697.6 L326.6,697.0 L325.6,696.3 L324.6,695.6 L323.6,694.8 L322.6,694.1 L321.6,693.4 L320.6,692.8 L319.6,692.3 L318.6,691.8 L317.6,691.5 L316.6,691.2 L315.6,690.9 L314.6,690.4 L313.6,689.9 L312.6,689.2 L311.6,688.3 L310.6,686.5 L309.6,672.5 L308.6,655.3 L307.6,650.6 L306.6,649.2 L305.6,648.4 L304.6,648.2 L303.6,648.8 L302.6,650.2 L301.6,652.3 Z" fill="#f5e9f2" stroke="none"/><path d="M301.6,638.3 L302.6,636.2 L303.6,634.8 L304.6,634.2 L305.6,634.5 L306.6,635.3 L307.6,636.8 L308.6,641.4 L309.6,658.6 L310.6,672.7 L311.6,674.5 L312.6,675.4 L313.6,676.2 L314.6,676.7 L315.6,677.1 L316.6,677.5 L317.6,677.8 L318.6,678.2 L319.6,678.6 L320.6,679.2 L321.6,679.8 L322.6,680.5 L323.6,681.3 L324.6,682.0 L325.6,682.8 L326.6,683.5 L327.6,684.1 L328.6,684.6 L329.6,685.0 L330.6,685.2 L331.6,685.2 L332.6,684.9 L333.6,684.5 L334.6,684.0 L335.6,683.5 L336.6,683.0 L337.6,682.7 L338.6,682.6 L339.6,683.0 L340.6,683.9 L341.6,685.2 L342.6,686.6 L343.6,687.8 L344.6,689.4 L345.6,691.3 L346.6,693.2 L347.6,695.2 L348.6,697.0 L349.6,698.5 L350.6,699.5 L351.6,700.2 L352.6,700.8 L353.6,701.3 L354.6,701.6 L355.6,701.8 L356.6,702.0 L357.6,702.2 L358.6,702.3 L359.6,702.4 L360.6,702.5 L361.6,702.6 L362.6,702.7 L363.6,702.7 L364.6,702.8 L365.6,702.9 L366.6,703.0 L367.6,703.2 L368.6,703.3 L369.6,703.5 L370.6,703.7 L371.6,704.0 L372.6,704.5 L373.6,705.1 L374.6,705.7 L375.6,706.3 L376.6,706.9 L377.6,707.4 L378.6,707.8 L379.6,708.0 L380.6,708.1 L381.6,708.2 L382.6,708.3 L383.6,708.3 L384.6,708.4 L385.6,708.5 L386.6,708.5 L387.6,708.6 L388.6,708.7 L389.6,708.7 L390.6,708.7 L391.6,708.8 L392.6,708.8 L393.6,708.8 L394.6,708.8 L395.6,708.8 L396.6,708.7 L397.6,708.5 L398.6,708.1 L399.6,707.8 L400.6,707.4 L401.6,707.1 L402.6,706.9 L403.6,706.7 L404.6,706.6 L405.6,706.7 L406.6,706.9 L407.6,707.1 L408.6,707.4 L409.6,707.7 L410.6,708.0 L411.6,708.3 L412.6,708.6 L413.6,708.8 L414.6,709.0 L415.6,709.0 L416.6,708.6 L417.6,707.9 L418.6,706.9 L419.6,705.7 L420.6,704.4 L421.6,703.1 L422.6,701.9 L423.6,700.8 L424.6,700.0 L425.6,699.6 L426.6,699.6 L427.6,699.8 L428.6,700.1 L429.6,700.5 L430.6,701.0 L431.6,701.6 L432.6,702.2 L433.6,702.8 L434.6,703.3 L435.6,703.7 L436.6,704.1 L437.6,704.3 L438.6,704.3 L439.6,704.3 L440.6,704.2 L441.6,704.1 L442.6,703.9 L443.6,703.8 L444.6,703.6 L445.6,703.4 L446.6,703.2 L447.6,703.0 L448.6,702.8 L449.6,702.7 L450.6,702.5 L451.6,702.4 L452.6,702.3 L453.6,702.2 L454.6,702.2 L455.6,702.1 L456.6,702.1 L457.6,702.0 L458.6,702.0 L459.6,701.9 L460.6,701.8 L461.6,701.6 L462.6,701.4 L463.6,701.1 L464.6,700.7 L465.6,700.3 L466.6,699.7 L467.6,698.8 L468.6,697.7 L469.6,696.6 L470.6,695.4 L471.6,694.3 L472.6,693.4 L473.6,692.8 L474.6,692.4 L475.6,692.3 L476.6,692.2 L477.6,692.1 L478.6,692.0 L479.6,692.0 L480.6,691.9 L481.6,691.8 L482.6,691.8 L483.6,691.8 L484.6,691.8 L485.6,691.8 L486.6,691.9 L487.6,692.2 L488.6,692.6 L489.6,693.1 L490.6,693.6 L490.9,693.8" fill="none" stroke="#d4a2d0" stroke-width="0.95"/><path d="M301.6,652.3 L302.6,650.2 L303.6,648.8 L304.6,648.2 L305.6,648.4 L306.6,649.2 L307.6,650.6 L308.6,655.3 L309.6,672.5 L310.6,686.5 L311.6,688.3 L312.6,689.2 L313.6,689.9 L314.6,690.4 L315.6,690.9 L316.6,691.2 L317.6,691.5 L318.6,691.8 L319.6,692.3 L320.6,692.8 L321.6,693.4 L322.6,694.1 L323.6,694.8 L324.6,695.6 L325.6,696.3 L326.6,697.0 L327.6,697.6 L328.6,698.0 L329.6,698.4 L330.6,698.6 L331.6,698.6 L332.6,698.3 L333.6,697.9 L334.6,697.3 L335.6,696.8 L336.6,696.3 L337.6,695.9 L338.6,695.8 L339.6,696.2 L340.6,697.1 L341.6,698.4 L342.6,699.7 L343.6,701.0 L344.6,702.6 L345.6,704.4 L346.6,706.3 L347.6,708.2 L348.6,710.0 L349.6,711.5 L350.6,712.5 L351.6,713.2 L352.6,713.8 L353.6,714.2 L354.6,714.5 L355.6,714.7 L356.6,714.9 L357.6,715.0 L358.6,715.1 L359.6,715.2 L360.6,715.3 L361.6,715.4 L362.6,715.4 L363.6,715.5 L364.6,715.6 L365.6,715.6 L366.6,715.7 L367.6,715.8 L368.6,715.9 L369.6,716.1 L370.6,716.3 L371.6,716.6 L372.6,717.0 L373.6,717.6 L374.6,718.2 L375.6,718.8 L376.6,719.4 L377.6,719.8 L378.6,720.2 L379.6,720.4 L380.6,720.5 L381.6,720.5 L382.6,720.6 L383.6,720.7 L384.6,720.7 L385.6,720.8 L386.6,720.8 L387.6,720.9 L388.6,720.9 L389.6,720.9 L390.6,720.9 L391.6,720.9 L392.6,721.0 L393.6,721.0 L394.6,721.0 L395.6,720.9 L396.6,720.8 L397.6,720.5 L398.6,720.2 L399.6,719.8 L400.6,719.4 L401.6,719.1 L402.6,718.8 L403.6,718.6 L404.6,718.6 L405.6,718.6 L406.6,718.8 L407.6,719.0 L408.6,719.3 L409.6,719.6 L410.6,719.9 L411.6,720.2 L412.6,720.5 L413.6,720.7 L414.6,720.8 L415.6,720.8 L416.6,720.4 L417.6,719.7 L418.6,718.7 L419.6,717.5 L420.6,716.2 L421.6,714.9 L422.6,713.6 L423.6,712.6 L424.6,711.8 L425.6,711.3 L426.6,711.3 L427.6,711.4 L428.6,711.8 L429.6,712.2 L430.6,712.7 L431.6,713.3 L432.6,713.8 L433.6,714.4 L434.6,714.9 L435.6,715.3 L436.6,715.7 L437.6,715.9 L438.6,715.9 L439.6,715.8 L440.6,715.7 L441.6,715.6 L442.6,715.5 L443.6,715.3 L444.6,715.1 L445.6,714.9 L446.6,714.7 L447.6,714.5 L448.6,714.3 L449.6,714.1 L450.6,714.0 L451.6,713.8 L452.6,713.7 L453.6,713.7 L454.6,713.6 L455.6,713.5 L456.6,713.5 L457.6,713.4 L458.6,713.3 L459.6,713.2 L460.6,713.1 L461.6,712.9 L462.6,712.7 L463.6,712.4 L464.6,712.0 L465.6,711.6 L466.6,710.9 L467.6,710.0 L468.6,709.0 L469.6,707.8 L470.6,706.6 L471.6,705.6 L472.6,704.6 L473.6,704.0 L474.6,703.6 L475.6,703.5 L476.6,703.4 L477.6,703.3 L478.6,703.2 L479.6,703.1 L480.6,703.0 L481.6,702.9 L482.6,702.9 L483.6,702.9 L484.6,702.8 L485.6,702.8 L486.6,702.9 L487.6,703.2 L488.6,703.6 L489.6,704.1 L490.6,704.6 L490.9,704.8" fill="none" stroke="#d4a2d0" stroke-width="0.8"/><path d="M301.6,655.0 L302.6,652.9 L303.6,651.1 L304.6,649.9 L305.6,649.2 L306.6,648.9 L307.6,648.6 L308.6,649.5 L309.6,655.0 L310.6,661.5 L311.6,664.2 L312.6,664.1 L313.6,663.7 L314.6,663.3 L315.6,662.8 L316.6,662.4 L317.6,662.0 L318.6,661.8 L319.6,661.8 L320.6,661.9 L321.6,662.1 L322.6,662.4 L323.6,662.6 L324.6,662.9 L325.6,663.1 L326.6,663.3 L327.6,663.5 L328.6,663.5 L329.6,663.3 L330.6,662.9 L331.6,662.3 L332.6,661.6 L333.6,660.9 L334.6,660.1 L335.6,659.0 L336.6,657.7 L337.6,656.4 L338.6,655.5 L339.6,655.0 L340.6,654.7 L341.6,654.5 L342.6,654.4 L343.6,654.2 L344.6,654.1 L345.6,654.1 L346.6,654.2 L347.6,654.7 L348.6,655.3 L349.6,655.8 L350.6,656.1 L351.6,655.8 L352.6,654.9 L353.6,653.8 L354.6,652.8 L355.6,651.9 L356.6,651.0 L357.6,650.1 L358.6,649.5 L359.6,649.3 L360.6,649.3 L361.6,649.4 L362.6,649.6 L363.6,649.8 L364.6,650.0 L365.6,650.2 L366.6,650.5 L367.6,650.8 L368.6,651.1 L369.6,651.4 L370.6,651.7 L371.6,652.0 L372.6,652.3 L373.6,652.5 L374.6,652.8 L375.6,653.0 L376.6,653.2 L377.6,653.5 L378.6,653.7 L379.6,654.0 L380.6,654.3 L381.6,654.5 L382.6,654.8 L383.6,655.0 L384.6,655.3 L385.6,655.5 L386.6,655.8 L387.6,656.0 L388.6,656.2 L389.6,656.3 L390.6,656.5 L391.6,656.6 L392.6,656.7 L393.6,656.8 L394.6,656.8 L395.6,656.7 L396.6,656.4 L397.6,655.8 L398.6,655.1 L399.6,654.2 L400.6,653.4 L401.6,652.6 L402.6,652.0 L403.6,651.5 L404.6,651.4 L405.6,651.5 L406.6,651.9 L407.6,652.3 L408.6,652.9 L409.6,653.6 L410.6,654.2 L411.6,654.8 L412.6,655.4 L413.6,655.8 L414.6,656.0 L415.6,656.1 L416.6,655.7 L417.6,655.0 L418.6,654.0 L419.6,652.8 L420.6,651.5 L421.6,650.2 L422.6,648.9 L423.6,647.9 L424.6,647.1 L425.6,646.7 L426.6,646.6 L427.6,646.9 L428.6,647.3 L429.6,647.9 L430.6,648.5 L431.6,649.2 L432.6,649.9 L433.6,650.5 L434.6,651.1 L435.6,651.4 L436.6,651.7 L437.6,651.9 L438.6,652.1 L439.6,652.3 L440.6,652.5 L441.6,652.6 L442.6,652.8 L443.6,653.0 L444.6,653.3 L445.6,653.6 L446.6,654.0 L447.6,654.4 L448.6,654.9 L449.6,655.4 L450.6,655.9 L451.6,656.5 L452.6,657.1 L453.6,657.7 L454.6,658.4 L455.6,659.2 L456.6,660.1 L457.6,661.0 L458.6,661.8 L459.6,662.6 L460.6,663.4 L461.6,664.0 L462.6,664.6 L463.6,665.2 L464.6,665.7 L465.6,666.2 L466.6,666.8 L467.6,667.4 L468.6,668.0 L469.6,668.5 L470.6,669.0 L471.6,669.6 L472.6,670.2 L473.6,670.8 L474.6,671.6 L475.6,672.5 L476.6,673.6 L477.6,675.4 L478.6,677.6 L479.6,680.3 L480.6,683.2 L481.6,686.1 L482.6,689.6 L483.6,693.6 L484.6,697.6 L485.6,701.0 L486.6,703.9 L487.6,706.7 L488.6,709.2 L489.6,711.4 L490.3,712.8" fill="none" stroke="#66b3cf" stroke-width="1.5" stroke-linejoin="round"/><path d="M301.6,645.3 L302.6,643.2 L303.6,641.8 L304.6,641.2 L305.6,641.5 L306.6,642.3 L307.6,643.7 L308.6,648.4 L309.6,665.6 L310.6,679.6 L311.6,681.4 L312.6,682.3 L313.6,683.0 L314.6,683.6 L315.6,684.0 L316.6,684.4 L317.6,684.7 L318.6,685.0 L319.6,685.4 L320.6,686.0 L321.6,686.6 L322.6,687.3 L323.6,688.1 L324.6,688.8 L325.6,689.5 L326.6,690.2 L327.6,690.8 L328.6,691.3 L329.6,691.7 L330.6,691.9 L331.6,691.9 L332.6,691.6 L333.6,691.2 L334.6,690.7 L335.6,690.1 L336.6,689.6 L337.6,689.3 L338.6,689.2 L339.6,689.6 L340.6,690.5 L341.6,691.8 L342.6,693.1 L343.6,694.4 L344.6,696.0 L345.6,697.8 L346.6,699.8 L347.6,701.7 L348.6,703.5 L349.6,705.0 L350.6,706.0 L351.6,706.7 L352.6,707.3 L353.6,707.8 L354.6,708.1 L355.6,708.3 L356.6,708.4 L357.6,708.6 L358.6,708.7 L359.6,708.8 L360.6,708.9 L361.6,709.0 L362.6,709.0 L363.6,709.1 L364.6,709.2 L365.6,709.3 L366.6,709.4 L367.6,709.5 L368.6,709.6 L369.6,709.8 L370.6,710.0 L371.6,710.3 L372.6,710.8 L373.6,711.3 L374.6,711.9 L375.6,712.5 L376.6,713.1 L377.6,713.6 L378.6,714.0 L379.6,714.2 L380.6,714.3 L381.6,714.4 L382.6,714.4 L383.6,714.5 L384.6,714.6 L385.6,714.6 L386.6,714.7 L387.6,714.7 L388.6,714.8 L389.6,714.8 L390.6,714.8 L391.6,714.9 L392.6,714.9 L393.6,714.9 L394.6,714.9 L395.6,714.9 L396.6,714.7 L397.6,714.5 L398.6,714.2 L399.6,713.8 L400.6,713.4 L401.6,713.1 L402.6,712.8 L403.6,712.7 L404.6,712.6 L405.6,712.7 L406.6,712.8 L407.6,713.1 L408.6,713.3 L409.6,713.7 L410.6,714.0 L411.6,714.3 L412.6,714.5 L413.6,714.7 L414.6,714.9 L415.6,714.9 L416.6,714.5 L417.6,713.8 L418.6,712.8 L419.6,711.6 L420.6,710.3 L421.6,709.0 L422.6,707.7 L423.6,706.7 L424.6,705.9 L425.6,705.5 L426.6,705.4 L427.6,705.6 L428.6,705.9 L429.6,706.4 L430.6,706.9 L431.6,707.4 L432.6,708.0 L433.6,708.6 L434.6,709.1 L435.6,709.5 L436.6,709.9 L437.6,710.1 L438.6,710.1 L439.6,710.1 L440.6,710.0 L441.6,709.9 L442.6,709.7 L443.6,709.5 L444.6,709.3 L445.6,709.2 L446.6,709.0 L447.6,708.8 L448.6,708.6 L449.6,708.4 L450.6,708.2 L451.6,708.1 L452.6,708.0 L453.6,708.0 L454.6,707.9 L455.6,707.8 L456.6,707.8 L457.6,707.7 L458.6,707.6 L459.6,707.5 L460.6,707.4 L461.6,707.3 L462.6,707.0 L463.6,706.7 L464.6,706.4 L465.6,706.0 L466.6,705.3 L467.6,704.4 L468.6,703.3 L469.6,702.2 L470.6,701.0 L471.6,700.0 L472.6,699.0 L473.6,698.4 L474.6,698.0 L475.6,697.9 L476.6,697.8 L477.6,697.7 L478.6,697.6 L479.6,697.5 L480.6,697.5 L481.6,697.4 L482.6,697.4 L483.6,697.3 L484.6,697.3 L485.6,697.3 L486.6,697.4 L487.6,697.7 L488.6,698.1 L489.6,698.6 L490.6,699.1 L490.9,699.3" fill="none" stroke="#8e318f" stroke-width="1.5" stroke-linejoin="round"/></g><line x1="309.20" y1="622.80" x2="309.20" y2="764.10" stroke="#262626" stroke-width="1.35" stroke-dasharray="1.4 2.6"/><line x1="339.52" y1="622.80" x2="339.52" y2="764.10" stroke="#262626" stroke-width="1.35" stroke-dasharray="1.4 2.6"/><line x1="354.68" y1="622.80" x2="354.68" y2="764.10" stroke="#262626" stroke-width="1.35" stroke-dasharray="1.4 2.6"/><line x1="400.16" y1="622.80" x2="400.16" y2="764.10" stroke="#262626" stroke-width="1.35" stroke-dasharray="1.4 2.6"/><line x1="415.32" y1="622.80" x2="415.32" y2="764.10" stroke="#262626" stroke-width="1.35" stroke-dasharray="1.4 2.6"/><line x1="460.80" y1="622.80" x2="460.80" y2="764.10" stroke="#262626" stroke-width="1.35" stroke-dasharray="1.4 2.6"/><path d="M301.70,620.60 L301.70,763.80 L491.10,763.80" fill="none" stroke="#6d6e71" stroke-width="1.1"/><line x1="301.70" y1="763.80" x2="303.90" y2="763.80" stroke="#6d6e71" stroke-width="1"/><text x="296.90" y="770.40" text-anchor="end" font-family='"Liberation Sans", sans-serif' font-size="12" fill="#231f20">-1</text><line x1="301.70" y1="716.30" x2="303.90" y2="716.30" stroke="#6d6e71" stroke-width="1"/><text x="296.90" y="722.90" text-anchor="end" font-family='"Liberation Sans", sans-serif' font-size="12" fill="#231f20">0</text><line x1="301.70" y1="668.30" x2="303.90" y2="668.30" stroke="#6d6e71" stroke-width="1"/><text x="296.90" y="674.90" text-anchor="end" font-family='"Liberation Sans", sans-serif' font-size="12" fill="#231f20">1</text><line x1="301.70" y1="620.90" x2="303.90" y2="620.90" stroke="#6d6e71" stroke-width="1"/><text x="296.90" y="627.50" text-anchor="end" font-family='"Liberation Sans", sans-serif' font-size="12" fill="#231f20">2</text><line x1="309.20" y1="763.80" x2="309.20" y2="761.80" stroke="#262626" stroke-width="1"/><text x="309.40" y="775.90" text-anchor="middle" font-family='"Liberation Sans", sans-serif' font-size="12" fill="#231f20">0</text><line x1="339.52" y1="763.80" x2="339.52" y2="761.80" stroke="#262626" stroke-width="1"/><text x="338.92" y="775.90" text-anchor="middle" font-family='"Liberation Sans", sans-serif' font-size="12" fill="#231f20">1</text><line x1="400.16" y1="763.80" x2="400.16" y2="761.80" stroke="#262626" stroke-width="1"/><text x="400.36" y="775.90" text-anchor="middle" font-family='"Liberation Sans", sans-serif' font-size="12" fill="#231f20">3</text><line x1="460.80" y1="763.80" x2="460.80" y2="761.80" stroke="#262626" stroke-width="1"/><text x="461.00" y="775.90" text-anchor="middle" font-family='"Liberation Sans", sans-serif' font-size="12" fill="#231f20">5</text><text x="376.40" y="787.20" font-family='"Liberation Sans", sans-serif' font-size="12" fill="#231f20" textLength="40" lengthAdjust="spacingAndGlyphs">Time (s)</text><text x="357.25" y="616.80" font-family='"Liberation Sans", sans-serif' font-size="12" fill="#231f20" textLength="54.0" lengthAdjust="spacingAndGlyphs">65-100 Hz</text><text transform="translate(280.80,741.70) rotate(-90)" x="0" y="0" font-family='"Liberation Sans", sans-serif' font-size="12" fill="#231f20" textLength="61.4" lengthAdjust="spacingAndGlyphs">Power (dB)</text></g><text x="510.9" y="11.9" font-family='"Liberation Sans", sans-serif' font-weight="bold" font-size="14" fill="#000" textLength="10.0" lengthAdjust="spacingAndGlyphs">C</text><text x="577.9" y="15.6" font-family='"Liberation Sans", sans-serif' font-size="15" fill="#231f20" textLength="106.7" lengthAdjust="spacingAndGlyphs">Posterior-Ventral</text><clipPath id="clipC1"><rect x="551.2" y="36.0" width="189.29999999999995" height="146.6"/></clipPath><g><rect x="589.06" y="39.30" width="13.6" height="143.30" fill="#d6d6d6"/><rect x="649.38" y="39.30" width="13.6" height="143.30" fill="#d6d6d6"/><g clip-path="url(#clipC1)"><path d="M551.4,142.9 L552.4,138.1 L553.4,133.6 L554.4,129.3 L555.4,125.3 L556.4,121.4 L557.4,117.7 L558.4,114.7 L559.4,112.6 L560.4,110.8 L561.4,109.2 L562.4,107.8 L563.4,106.5 L564.4,105.3 L565.4,104.1 L566.4,103.0 L567.4,102.0 L568.4,101.1 L569.4,100.2 L570.4,99.5 L571.4,98.9 L572.4,98.2 L573.4,97.6 L574.4,97.1 L575.4,96.9 L576.4,96.9 L577.4,97.1 L578.4,97.3 L579.4,97.6 L580.4,97.8 L581.4,98.1 L582.4,98.4 L583.4,98.6 L584.4,98.7 L585.4,98.7 L586.4,98.8 L587.4,98.8 L588.4,98.9 L589.4,98.9 L590.4,99.0 L591.4,99.1 L592.4,99.2 L593.4,99.4 L594.4,99.6 L595.4,99.8 L596.4,100.0 L597.4,100.1 L598.4,100.2 L599.4,100.3 L600.4,100.3 L601.4,100.1 L602.4,99.7 L603.4,99.3 L604.4,98.9 L605.4,98.5 L606.4,98.1 L607.4,97.6 L608.4,97.2 L609.4,96.8 L610.4,96.4 L611.4,96.0 L612.4,95.8 L613.4,95.6 L614.4,95.5 L615.4,95.4 L616.4,95.4 L617.4,95.3 L618.4,95.3 L619.4,95.2 L620.4,95.2 L621.4,95.1 L622.4,95.1 L623.4,95.1 L624.4,95.0 L625.4,94.9 L626.4,94.8 L627.4,94.7 L628.4,94.5 L629.4,94.3 L630.4,94.1 L631.4,93.9 L632.4,93.7 L633.4,93.5 L634.4,93.3 L635.4,93.1 L636.4,92.9 L637.4,92.8 L638.4,92.7 L639.4,92.6 L640.4,92.6 L641.4,92.6 L642.4,92.7 L643.4,92.7 L644.4,92.7 L645.4,92.8 L646.4,92.8 L647.4,92.9 L648.4,92.9 L649.4,92.9 L650.4,92.8 L651.4,92.7 L652.4,92.5 L653.4,92.3 L654.4,92.2 L655.4,92.2 L656.4,92.3 L657.4,92.4 L658.4,92.6 L659.4,92.8 L660.4,93.0 L661.4,93.2 L662.4,93.4 L663.4,93.6 L664.4,93.8 L665.4,93.9 L666.4,94.0 L667.4,94.0 L668.4,94.0 L669.4,93.9 L670.4,93.8 L671.4,93.7 L672.4,93.6 L673.4,93.4 L674.4,93.2 L675.4,93.1 L676.4,92.9 L677.4,92.7 L678.4,92.5 L679.4,92.3 L680.4,92.2 L681.4,92.0 L682.4,91.9 L683.4,91.7 L684.4,91.6 L685.4,91.6 L686.4,91.5 L687.4,91.5 L688.4,91.6 L689.4,91.7 L690.4,91.9 L691.4,92.1 L692.4,92.4 L693.4,92.6 L694.4,92.9 L695.4,93.2 L696.4,93.5 L697.4,93.7 L698.4,93.9 L699.4,94.2 L700.4,94.5 L701.4,94.8 L702.4,95.1 L703.4,95.4 L704.4,95.6 L705.4,95.9 L706.4,96.0 L707.4,96.2 L708.4,96.3 L709.4,96.3 L710.4,96.3 L711.4,96.3 L712.4,96.3 L713.4,96.3 L714.4,96.3 L715.4,96.3 L716.4,96.4 L717.4,96.5 L718.4,96.6 L719.4,96.9 L720.4,97.6 L721.4,98.5 L722.4,99.5 L723.4,100.7 L724.4,102.0 L725.4,103.9 L726.4,106.1 L727.4,108.6 L728.4,111.2 L729.4,113.8 L730.4,116.4 L731.4,119.2 L732.4,122.1 L733.4,125.1 L734.4,128.1 L735.4,131.2 L736.4,134.4 L737.4,137.6 L738.4,140.9 L739.3,144.0 L739.3,150.0 L738.4,147.1 L737.4,144.0 L736.4,141.0 L735.4,138.0 L734.4,135.1 L733.4,132.3 L732.4,129.5 L731.4,126.8 L730.4,124.2 L729.4,121.8 L728.4,119.5 L727.4,117.1 L726.4,114.8 L725.4,112.7 L724.4,111.1 L723.4,110.0 L722.4,109.0 L721.4,108.2 L720.4,107.5 L719.4,107.0 L718.4,107.0 L717.4,107.1 L716.4,107.2 L715.4,107.3 L714.4,107.3 L713.4,107.3 L712.4,107.3 L711.4,107.3 L710.4,107.3 L709.4,107.3 L708.4,107.3 L707.4,107.2 L706.4,107.0 L705.4,106.9 L704.4,106.6 L703.4,106.4 L702.4,106.1 L701.4,105.8 L700.4,105.5 L699.4,105.2 L698.4,104.9 L697.4,104.7 L696.4,104.5 L695.4,104.2 L694.4,103.9 L693.4,103.6 L692.4,103.4 L691.4,103.1 L690.4,102.9 L689.4,102.7 L688.4,102.6 L687.4,102.5 L686.4,102.5 L685.4,102.6 L684.4,102.6 L683.4,102.7 L682.4,102.9 L681.4,103.0 L680.4,103.2 L679.4,103.3 L678.4,103.5 L677.4,103.7 L676.4,103.9 L675.4,104.1 L674.4,104.2 L673.4,104.4 L672.4,104.6 L671.4,104.7 L670.4,104.8 L669.4,104.9 L668.4,105.0 L667.4,105.0 L666.4,105.0 L665.4,104.9 L664.4,104.8 L663.4,104.6 L662.4,104.4 L661.4,104.2 L660.4,104.0 L659.4,103.8 L658.4,103.6 L657.4,103.4 L656.4,103.3 L655.4,103.2 L654.4,103.2 L653.4,103.3 L652.4,103.5 L651.4,103.7 L650.4,103.8 L649.4,103.9 L648.4,103.9 L647.4,103.9 L646.4,103.8 L645.4,103.8 L644.4,103.7 L643.4,103.7 L642.4,103.7 L641.4,103.6 L640.4,103.6 L639.4,103.6 L638.4,103.7 L637.4,103.8 L636.4,103.9 L635.4,104.1 L634.4,104.3 L633.4,104.5 L632.4,104.7 L631.4,104.9 L630.4,105.1 L629.4,105.3 L628.4,105.5 L627.4,105.7 L626.4,105.8 L625.4,105.9 L624.4,106.0 L623.4,106.1 L622.4,106.1 L621.4,106.1 L620.4,106.2 L619.4,106.2 L618.4,106.3 L617.4,106.3 L616.4,106.4 L615.4,106.4 L614.4,106.5 L613.4,106.6 L612.4,106.8 L611.4,107.0 L610.4,107.4 L609.4,107.8 L608.4,108.2 L607.4,108.6 L606.4,109.1 L605.4,109.5 L604.4,109.9 L603.4,110.3 L602.4,110.7 L601.4,111.1 L600.4,111.3 L599.4,111.3 L598.4,111.2 L597.4,111.1 L596.4,111.0 L595.4,110.8 L594.4,110.6 L593.4,110.4 L592.4,110.2 L591.4,110.1 L590.4,110.0 L589.4,109.9 L588.4,109.9 L587.4,109.8 L586.4,109.8 L585.4,109.7 L584.4,109.7 L583.4,109.6 L582.4,109.4 L581.4,109.1 L580.4,108.8 L579.4,108.6 L578.4,108.3 L577.4,108.1 L576.4,107.9 L575.4,107.9 L574.4,108.1 L573.4,108.6 L572.4,109.2 L571.4,109.9 L570.4,110.5 L569.4,111.2 L568.4,112.1 L567.4,113.0 L566.4,114.0 L565.4,115.1 L564.4,116.3 L563.4,117.5 L562.4,118.8 L561.4,120.2 L560.4,121.8 L559.4,123.6 L558.4,125.7 L557.4,128.7 L556.4,132.4 L555.4,136.3 L554.4,140.3 L553.4,144.6 L552.4,149.1 L551.4,153.9 Z" fill="#eff6fa" stroke="none"/><path d="M551.4,142.9 L552.4,138.1 L553.4,133.6 L554.4,129.3 L555.4,125.3 L556.4,121.4 L557.4,117.7 L558.4,114.7 L559.4,112.6 L560.4,110.8 L561.4,109.2 L562.4,107.8 L563.4,106.5 L564.4,105.3 L565.4,104.1 L566.4,103.0 L567.4,102.0 L568.4,101.1 L569.4,100.2 L570.4,99.5 L571.4,98.9 L572.4,98.2 L573.4,97.6 L574.4,97.1 L575.4,96.9 L576.4,96.9 L577.4,97.1 L578.4,97.3 L579.4,97.6 L580.4,97.8 L581.4,98.1 L582.4,98.4 L583.4,98.6 L584.4,98.7 L585.4,98.7 L586.4,98.8 L587.4,98.8 L588.4,98.9 L589.4,98.9 L590.4,99.0 L591.4,99.1 L592.4,99.2 L593.4,99.4 L594.4,99.6 L595.4,99.8 L596.4,100.0 L597.4,100.1 L598.4,100.2 L599.4,100.3 L600.4,100.3 L601.4,100.1 L602.4,99.7 L603.4,99.3 L604.4,98.9 L605.4,98.5 L606.4,98.1 L607.4,97.6 L608.4,97.2 L609.4,96.8 L610.4,96.4 L611.4,96.0 L612.4,95.8 L613.4,95.6 L614.4,95.5 L615.4,95.4 L616.4,95.4 L617.4,95.3 L618.4,95.3 L619.4,95.2 L620.4,95.2 L621.4,95.1 L622.4,95.1 L623.4,95.1 L624.4,95.0 L625.4,94.9 L626.4,94.8 L627.4,94.7 L628.4,94.5 L629.4,94.3 L630.4,94.1 L631.4,93.9 L632.4,93.7 L633.4,93.5 L634.4,93.3 L635.4,93.1 L636.4,92.9 L637.4,92.8 L638.4,92.7 L639.4,92.6 L640.4,92.6 L641.4,92.6 L642.4,92.7 L643.4,92.7 L644.4,92.7 L645.4,92.8 L646.4,92.8 L647.4,92.9 L648.4,92.9 L649.4,92.9 L650.4,92.8 L651.4,92.7 L652.4,92.5 L653.4,92.3 L654.4,92.2 L655.4,92.2 L656.4,92.3 L657.4,92.4 L658.4,92.6 L659.4,92.8 L660.4,93.0 L661.4,93.2 L662.4,93.4 L663.4,93.6 L664.4,93.8 L665.4,93.9 L666.4,94.0 L667.4,94.0 L668.4,94.0 L669.4,93.9 L670.4,93.8 L671.4,93.7 L672.4,93.6 L673.4,93.4 L674.4,93.2 L675.4,93.1 L676.4,92.9 L677.4,92.7 L678.4,92.5 L679.4,92.3 L680.4,92.2 L681.4,92.0 L682.4,91.9 L683.4,91.7 L684.4,91.6 L685.4,91.6 L686.4,91.5 L687.4,91.5 L688.4,91.6 L689.4,91.7 L690.4,91.9 L691.4,92.1 L692.4,92.4 L693.4,92.6 L694.4,92.9 L695.4,93.2 L696.4,93.5 L697.4,93.7 L698.4,93.9 L699.4,94.2 L700.4,94.5 L701.4,94.8 L702.4,95.1 L703.4,95.4 L704.4,95.6 L705.4,95.9 L706.4,96.0 L707.4,96.2 L708.4,96.3 L709.4,96.3 L710.4,96.3 L711.4,96.3 L712.4,96.3 L713.4,96.3 L714.4,96.3 L715.4,96.3 L716.4,96.4 L717.4,96.5 L718.4,96.6 L719.4,96.9 L720.4,97.6 L721.4,98.5 L722.4,99.5 L723.4,100.7 L724.4,102.0 L725.4,103.9 L726.4,106.1 L727.4,108.6 L728.4,111.2 L729.4,113.8 L730.4,116.4 L731.4,119.2 L732.4,122.1 L733.4,125.1 L734.4,128.1 L735.4,131.2 L736.4,134.4 L737.4,137.6 L738.4,140.9 L739.3,144.0" fill="none" stroke="#a9d5e5" stroke-width="0.95"/><path d="M551.4,153.9 L552.4,149.1 L553.4,144.6 L554.4,140.3 L555.4,136.3 L556.4,132.4 L557.4,128.7 L558.4,125.7 L559.4,123.6 L560.4,121.8 L561.4,120.2 L562.4,118.8 L563.4,117.5 L564.4,116.3 L565.4,115.1 L566.4,114.0 L567.4,113.0 L568.4,112.1 L569.4,111.2 L570.4,110.5 L571.4,109.9 L572.4,109.2 L573.4,108.6 L574.4,108.1 L575.4,107.9 L576.4,107.9 L577.4,108.1 L578.4,108.3 L579.4,108.6 L580.4,108.8 L581.4,109.1 L582.4,109.4 L583.4,109.6 L584.4,109.7 L585.4,109.7 L586.4,109.8 L587.4,109.8 L588.4,109.9 L589.4,109.9 L590.4,110.0 L591.4,110.1 L592.4,110.2 L593.4,110.4 L594.4,110.6 L595.4,110.8 L596.4,111.0 L597.4,111.1 L598.4,111.2 L599.4,111.3 L600.4,111.3 L601.4,111.1 L602.4,110.7 L603.4,110.3 L604.4,109.9 L605.4,109.5 L606.4,109.1 L607.4,108.6 L608.4,108.2 L609.4,107.8 L610.4,107.4 L611.4,107.0 L612.4,106.8 L613.4,106.6 L614.4,106.5 L615.4,106.4 L616.4,106.4 L617.4,106.3 L618.4,106.3 L619.4,106.2 L620.4,106.2 L621.4,106.1 L622.4,106.1 L623.4,106.1 L624.4,106.0 L625.4,105.9 L626.4,105.8 L627.4,105.7 L628.4,105.5 L629.4,105.3 L630.4,105.1 L631.4,104.9 L632.4,104.7 L633.4,104.5 L634.4,104.3 L635.4,104.1 L636.4,103.9 L637.4,103.8 L638.4,103.7 L639.4,103.6 L640.4,103.6 L641.4,103.6 L642.4,103.7 L643.4,103.7 L644.4,103.7 L645.4,103.8 L646.4,103.8 L647.4,103.9 L648.4,103.9 L649.4,103.9 L650.4,103.8 L651.4,103.7 L652.4,103.5 L653.4,103.3 L654.4,103.2 L655.4,103.2 L656.4,103.3 L657.4,103.4 L658.4,103.6 L659.4,103.8 L660.4,104.0 L661.4,104.2 L662.4,104.4 L663.4,104.6 L664.4,104.8 L665.4,104.9 L666.4,105.0 L667.4,105.0 L668.4,105.0 L669.4,104.9 L670.4,104.8 L671.4,104.7 L672.4,104.6 L673.4,104.4 L674.4,104.2 L675.4,104.1 L676.4,103.9 L677.4,103.7 L678.4,103.5 L679.4,103.3 L680.4,103.2 L681.4,103.0 L682.4,102.9 L683.4,102.7 L684.4,102.6 L685.4,102.6 L686.4,102.5 L687.4,102.5 L688.4,102.6 L689.4,102.7 L690.4,102.9 L691.4,103.1 L692.4,103.4 L693.4,103.6 L694.4,103.9 L695.4,104.2 L696.4,104.5 L697.4,104.7 L698.4,104.9 L699.4,105.2 L700.4,105.5 L701.4,105.8 L702.4,106.1 L703.4,106.4 L704.4,106.6 L705.4,106.9 L706.4,107.0 L707.4,107.2 L708.4,107.3 L709.4,107.3 L710.4,107.3 L711.4,107.3 L712.4,107.3 L713.4,107.3 L714.4,107.3 L715.4,107.3 L716.4,107.2 L717.4,107.1 L718.4,107.0 L719.4,107.0 L720.4,107.5 L721.4,108.2 L722.4,109.0 L723.4,110.0 L724.4,111.1 L725.4,112.7 L726.4,114.8 L727.4,117.1 L728.4,119.5 L729.4,121.8 L730.4,124.2 L731.4,126.8 L732.4,129.5 L733.4,132.3 L734.4,135.1 L735.4,138.0 L736.4,141.0 L737.4,144.0 L738.4,147.1 L739.3,150.0" fill="none" stroke="#a9d5e5" stroke-width="0.8"/><path d="M551.4,117.2 L552.4,112.0 L553.4,107.3 L554.4,103.2 L555.4,99.6 L556.4,96.4 L557.4,93.6 L558.4,91.6 L559.4,90.5 L560.4,89.5 L561.4,88.8 L562.4,88.1 L563.4,87.6 L564.4,87.0 L565.4,86.5 L566.4,86.0 L567.4,85.6 L568.4,85.2 L569.4,84.8 L570.4,84.5 L571.4,84.1 L572.4,83.7 L573.4,83.3 L574.4,82.9 L575.4,82.6 L576.4,82.2 L577.4,81.9 L578.4,81.7 L579.4,81.5 L580.4,81.4 L581.4,81.4 L582.4,81.5 L583.4,81.6 L584.4,81.7 L585.4,81.9 L586.4,82.1 L587.4,82.4 L588.4,82.6 L589.4,82.9 L590.4,83.3 L591.4,83.7 L592.4,84.0 L593.4,84.1 L594.4,84.1 L595.4,84.0 L596.4,83.9 L597.4,83.9 L598.4,83.8 L599.4,83.7 L600.4,83.6 L601.4,83.5 L602.4,83.4 L603.4,83.4 L604.4,83.4 L605.4,83.5 L606.4,83.6 L607.4,83.8 L608.4,84.1 L609.4,84.3 L610.4,84.6 L611.4,84.9 L612.4,85.1 L613.4,85.4 L614.4,85.6 L615.4,85.8 L616.4,86.0 L617.4,86.3 L618.4,86.5 L619.4,86.7 L620.4,86.9 L621.4,87.2 L622.4,87.4 L623.4,87.6 L624.4,87.8 L625.4,88.0 L626.4,88.2 L627.4,88.4 L628.4,88.6 L629.4,88.7 L630.4,88.9 L631.4,89.0 L632.4,89.2 L633.4,89.4 L634.4,89.6 L635.4,89.9 L636.4,90.2 L637.4,90.7 L638.4,91.6 L639.4,92.4 L640.4,93.1 L641.4,93.7 L642.4,94.2 L643.4,94.7 L644.4,95.3 L645.4,96.3 L646.4,97.5 L647.4,98.9 L648.4,100.4 L649.4,101.8 L650.4,103.2 L651.4,104.9 L652.4,106.6 L653.4,108.4 L654.4,110.1 L655.4,111.6 L656.4,113.0 L657.4,114.1 L658.4,114.9 L659.4,115.2 L660.4,115.0 L661.4,114.3 L662.4,113.4 L663.4,112.4 L664.4,111.5 L665.4,110.8 L666.4,110.0 L667.4,109.2 L668.4,108.4 L669.4,107.6 L670.4,106.8 L671.4,106.1 L672.4,105.3 L673.4,104.7 L674.4,104.0 L675.4,103.4 L676.4,102.7 L677.4,102.1 L678.4,101.5 L679.4,100.9 L680.4,100.4 L681.4,99.8 L682.4,99.3 L683.4,98.7 L684.4,98.2 L685.4,97.8 L686.4,97.3 L687.4,96.9 L688.4,96.5 L689.4,96.1 L690.4,95.8 L691.4,95.5 L692.4,95.2 L693.4,94.8 L694.4,94.5 L695.4,94.1 L696.4,93.7 L697.4,93.2 L698.4,92.6 L699.4,91.8 L700.4,90.9 L701.4,90.0 L702.4,89.0 L703.4,88.1 L704.4,87.2 L705.4,86.4 L706.4,85.7 L707.4,85.2 L708.4,84.9 L709.4,84.8 L710.4,85.0 L711.4,85.5 L712.4,86.1 L713.4,86.9 L714.4,87.7 L715.4,88.6 L716.4,89.4 L717.4,90.6 L718.4,92.0 L719.4,93.5 L720.4,95.0 L721.4,96.5 L722.4,97.9 L723.4,99.0 L724.4,99.8 L725.4,100.3 L726.4,100.2 L727.4,99.3 L728.4,98.0 L729.4,96.3 L730.4,94.4 L731.4,92.6 L732.4,91.1 L733.4,90.0 L734.4,89.2 L735.4,88.4 L736.4,87.6 L737.4,87.0 L738.4,86.5 L739.3,86.1 L739.3,97.1 L738.4,97.5 L737.4,98.0 L736.4,98.6 L735.4,99.4 L734.4,100.2 L733.4,101.0 L732.4,102.1 L731.4,103.6 L730.4,105.4 L729.4,107.3 L728.4,109.0 L727.4,110.3 L726.4,111.2 L725.4,111.3 L724.4,110.8 L723.4,110.0 L722.4,108.9 L721.4,107.5 L720.4,106.0 L719.4,104.5 L718.4,103.0 L717.4,101.6 L716.4,100.4 L715.4,99.6 L714.4,98.7 L713.4,97.9 L712.4,97.1 L711.4,96.5 L710.4,96.0 L709.4,95.8 L708.4,95.9 L707.4,96.2 L706.4,96.7 L705.4,97.4 L704.4,98.2 L703.4,99.1 L702.4,100.0 L701.4,101.0 L700.4,101.9 L699.4,102.8 L698.4,103.6 L697.4,104.2 L696.4,104.7 L695.4,105.1 L694.4,105.5 L693.4,105.8 L692.4,106.2 L691.4,106.5 L690.4,106.8 L689.4,107.1 L688.4,107.5 L687.4,107.9 L686.4,108.3 L685.4,108.8 L684.4,109.2 L683.4,109.7 L682.4,110.3 L681.4,110.8 L680.4,111.4 L679.4,111.9 L678.4,112.5 L677.4,113.1 L676.4,113.7 L675.4,114.4 L674.4,115.0 L673.4,115.7 L672.4,116.3 L671.4,117.1 L670.4,117.8 L669.4,118.6 L668.4,119.4 L667.4,120.2 L666.4,121.0 L665.4,121.8 L664.4,122.5 L663.4,123.4 L662.4,124.4 L661.4,125.3 L660.4,126.0 L659.4,126.2 L658.4,125.9 L657.4,125.1 L656.4,124.0 L655.4,122.6 L654.4,121.1 L653.4,119.4 L652.4,117.6 L651.4,115.9 L650.4,114.2 L649.4,112.8 L648.4,111.4 L647.4,109.9 L646.4,108.5 L645.4,107.3 L644.4,106.3 L643.4,105.7 L642.4,105.2 L641.4,104.7 L640.4,104.1 L639.4,103.4 L638.4,102.6 L637.4,101.7 L636.4,101.2 L635.4,100.9 L634.4,100.6 L633.4,100.4 L632.4,100.2 L631.4,100.0 L630.4,99.9 L629.4,99.7 L628.4,99.6 L627.4,99.4 L626.4,99.2 L625.4,99.0 L624.4,98.8 L623.4,98.6 L622.4,98.4 L621.4,98.2 L620.4,97.9 L619.4,97.7 L618.4,97.5 L617.4,97.3 L616.4,97.0 L615.4,96.8 L614.4,96.6 L613.4,96.4 L612.4,96.1 L611.4,95.9 L610.4,95.6 L609.4,95.3 L608.4,95.1 L607.4,94.8 L606.4,94.6 L605.4,94.5 L604.4,94.4 L603.4,94.4 L602.4,94.4 L601.4,94.5 L600.4,94.6 L599.4,94.7 L598.4,94.8 L597.4,94.9 L596.4,94.9 L595.4,95.0 L594.4,95.1 L593.4,95.1 L592.4,95.0 L591.4,94.7 L590.4,94.3 L589.4,93.9 L588.4,93.6 L587.4,93.4 L586.4,93.1 L585.4,92.9 L584.4,92.7 L583.4,92.6 L582.4,92.5 L581.4,92.4 L580.4,92.4 L579.4,92.5 L578.4,92.7 L577.4,92.9 L576.4,93.2 L575.4,93.6 L574.4,93.9 L573.4,94.3 L572.4,94.7 L571.4,95.1 L570.4,95.5 L569.4,95.8 L568.4,96.2 L567.4,96.6 L566.4,97.0 L565.4,97.5 L564.4,98.0 L563.4,98.6 L562.4,99.1 L561.4,99.8 L560.4,100.5 L559.4,101.5 L558.4,102.6 L557.4,104.6 L556.4,107.4 L555.4,110.6 L554.4,114.2 L553.4,118.3 L552.4,123.0 L551.4,128.2 Z" fill="#f5e9f2" stroke="none"/><path d="M551.4,117.2 L552.4,112.0 L553.4,107.3 L554.4,103.2 L555.4,99.6 L556.4,96.4 L557.4,93.6 L558.4,91.6 L559.4,90.5 L560.4,89.5 L561.4,88.8 L562.4,88.1 L563.4,87.6 L564.4,87.0 L565.4,86.5 L566.4,86.0 L567.4,85.6 L568.4,85.2 L569.4,84.8 L570.4,84.5 L571.4,84.1 L572.4,83.7 L573.4,83.3 L574.4,82.9 L575.4,82.6 L576.4,82.2 L577.4,81.9 L578.4,81.7 L579.4,81.5 L580.4,81.4 L581.4,81.4 L582.4,81.5 L583.4,81.6 L584.4,81.7 L585.4,81.9 L586.4,82.1 L587.4,82.4 L588.4,82.6 L589.4,82.9 L590.4,83.3 L591.4,83.7 L592.4,84.0 L593.4,84.1 L594.4,84.1 L595.4,84.0 L596.4,83.9 L597.4,83.9 L598.4,83.8 L599.4,83.7 L600.4,83.6 L601.4,83.5 L602.4,83.4 L603.4,83.4 L604.4,83.4 L605.4,83.5 L606.4,83.6 L607.4,83.8 L608.4,84.1 L609.4,84.3 L610.4,84.6 L611.4,84.9 L612.4,85.1 L613.4,85.4 L614.4,85.6 L615.4,85.8 L616.4,86.0 L617.4,86.3 L618.4,86.5 L619.4,86.7 L620.4,86.9 L621.4,87.2 L622.4,87.4 L623.4,87.6 L624.4,87.8 L625.4,88.0 L626.4,88.2 L627.4,88.4 L628.4,88.6 L629.4,88.7 L630.4,88.9 L631.4,89.0 L632.4,89.2 L633.4,89.4 L634.4,89.6 L635.4,89.9 L636.4,90.2 L637.4,90.7 L638.4,91.6 L639.4,92.4 L640.4,93.1 L641.4,93.7 L642.4,94.2 L643.4,94.7 L644.4,95.3 L645.4,96.3 L646.4,97.5 L647.4,98.9 L648.4,100.4 L649.4,101.8 L650.4,103.2 L651.4,104.9 L652.4,106.6 L653.4,108.4 L654.4,110.1 L655.4,111.6 L656.4,113.0 L657.4,114.1 L658.4,114.9 L659.4,115.2 L660.4,115.0 L661.4,114.3 L662.4,113.4 L663.4,112.4 L664.4,111.5 L665.4,110.8 L666.4,110.0 L667.4,109.2 L668.4,108.4 L669.4,107.6 L670.4,106.8 L671.4,106.1 L672.4,105.3 L673.4,104.7 L674.4,104.0 L675.4,103.4 L676.4,102.7 L677.4,102.1 L678.4,101.5 L679.4,100.9 L680.4,100.4 L681.4,99.8 L682.4,99.3 L683.4,98.7 L684.4,98.2 L685.4,97.8 L686.4,97.3 L687.4,96.9 L688.4,96.5 L689.4,96.1 L690.4,95.8 L691.4,95.5 L692.4,95.2 L693.4,94.8 L694.4,94.5 L695.4,94.1 L696.4,93.7 L697.4,93.2 L698.4,92.6 L699.4,91.8 L700.4,90.9 L701.4,90.0 L702.4,89.0 L703.4,88.1 L704.4,87.2 L705.4,86.4 L706.4,85.7 L707.4,85.2 L708.4,84.9 L709.4,84.8 L710.4,85.0 L711.4,85.5 L712.4,86.1 L713.4,86.9 L714.4,87.7 L715.4,88.6 L716.4,89.4 L717.4,90.6 L718.4,92.0 L719.4,93.5 L720.4,95.0 L721.4,96.5 L722.4,97.9 L723.4,99.0 L724.4,99.8 L725.4,100.3 L726.4,100.2 L727.4,99.3 L728.4,98.0 L729.4,96.3 L730.4,94.4 L731.4,92.6 L732.4,91.1 L733.4,90.0 L734.4,89.2 L735.4,88.4 L736.4,87.6 L737.4,87.0 L738.4,86.5 L739.3,86.1" fill="none" stroke="#d4a2d0" stroke-width="0.95"/><path d="M551.4,128.2 L552.4,123.0 L553.4,118.3 L554.4,114.2 L555.4,110.6 L556.4,107.4 L557.4,104.6 L558.4,102.6 L559.4,101.5 L560.4,100.5 L561.4,99.8 L562.4,99.1 L563.4,98.6 L564.4,98.0 L565.4,97.5 L566.4,97.0 L567.4,96.6 L568.4,96.2 L569.4,95.8 L570.4,95.5 L571.4,95.1 L572.4,94.7 L573.4,94.3 L574.4,93.9 L575.4,93.6 L576.4,93.2 L577.4,92.9 L578.4,92.7 L579.4,92.5 L580.4,92.4 L581.4,92.4 L582.4,92.5 L583.4,92.6 L584.4,92.7 L585.4,92.9 L586.4,93.1 L587.4,93.4 L588.4,93.6 L589.4,93.9 L590.4,94.3 L591.4,94.7 L592.4,95.0 L593.4,95.1 L594.4,95.1 L595.4,95.0 L596.4,94.9 L597.4,94.9 L598.4,94.8 L599.4,94.7 L600.4,94.6 L601.4,94.5 L602.4,94.4 L603.4,94.4 L604.4,94.4 L605.4,94.5 L606.4,94.6 L607.4,94.8 L608.4,95.1 L609.4,95.3 L610.4,95.6 L611.4,95.9 L612.4,96.1 L613.4,96.4 L614.4,96.6 L615.4,96.8 L616.4,97.0 L617.4,97.3 L618.4,97.5 L619.4,97.7 L620.4,97.9 L621.4,98.2 L622.4,98.4 L623.4,98.6 L624.4,98.8 L625.4,99.0 L626.4,99.2 L627.4,99.4 L628.4,99.6 L629.4,99.7 L630.4,99.9 L631.4,100.0 L632.4,100.2 L633.4,100.4 L634.4,100.6 L635.4,100.9 L636.4,101.2 L637.4,101.7 L638.4,102.6 L639.4,103.4 L640.4,104.1 L641.4,104.7 L642.4,105.2 L643.4,105.7 L644.4,106.3 L645.4,107.3 L646.4,108.5 L647.4,109.9 L648.4,111.4 L649.4,112.8 L650.4,114.2 L651.4,115.9 L652.4,117.6 L653.4,119.4 L654.4,121.1 L655.4,122.6 L656.4,124.0 L657.4,125.1 L658.4,125.9 L659.4,126.2 L660.4,126.0 L661.4,125.3 L662.4,124.4 L663.4,123.4 L664.4,122.5 L665.4,121.8 L666.4,121.0 L667.4,120.2 L668.4,119.4 L669.4,118.6 L670.4,117.8 L671.4,117.1 L672.4,116.3 L673.4,115.7 L674.4,115.0 L675.4,114.4 L676.4,113.7 L677.4,113.1 L678.4,112.5 L679.4,111.9 L680.4,111.4 L681.4,110.8 L682.4,110.3 L683.4,109.7 L684.4,109.2 L685.4,108.8 L686.4,108.3 L687.4,107.9 L688.4,107.5 L689.4,107.1 L690.4,106.8 L691.4,106.5 L692.4,106.2 L693.4,105.8 L694.4,105.5 L695.4,105.1 L696.4,104.7 L697.4,104.2 L698.4,103.6 L699.4,102.8 L700.4,101.9 L701.4,101.0 L702.4,100.0 L703.4,99.1 L704.4,98.2 L705.4,97.4 L706.4,96.7 L707.4,96.2 L708.4,95.9 L709.4,95.8 L710.4,96.0 L711.4,96.5 L712.4,97.1 L713.4,97.9 L714.4,98.7 L715.4,99.6 L716.4,100.4 L717.4,101.6 L718.4,103.0 L719.4,104.5 L720.4,106.0 L721.4,107.5 L722.4,108.9 L723.4,110.0 L724.4,110.8 L725.4,111.3 L726.4,111.2 L727.4,110.3 L728.4,109.0 L729.4,107.3 L730.4,105.4 L731.4,103.6 L732.4,102.1 L733.4,101.0 L734.4,100.2 L735.4,99.4 L736.4,98.6 L737.4,98.0 L738.4,97.5 L739.3,97.1" fill="none" stroke="#d4a2d0" stroke-width="0.8"/><path d="M551.4,148.4 L552.4,143.6 L553.4,139.1 L554.4,134.8 L555.4,130.8 L556.4,126.9 L557.4,123.2 L558.4,120.2 L559.4,118.1 L560.4,116.3 L561.4,114.7 L562.4,113.3 L563.4,112.0 L564.4,110.8 L565.4,109.6 L566.4,108.5 L567.4,107.5 L568.4,106.6 L569.4,105.7 L570.4,105.0 L571.4,104.4 L572.4,103.7 L573.4,103.1 L574.4,102.6 L575.4,102.4 L576.4,102.4 L577.4,102.6 L578.4,102.8 L579.4,103.1 L580.4,103.3 L581.4,103.6 L582.4,103.9 L583.4,104.1 L584.4,104.2 L585.4,104.2 L586.4,104.3 L587.4,104.3 L588.4,104.4 L589.4,104.4 L590.4,104.5 L591.4,104.6 L592.4,104.7 L593.4,104.9 L594.4,105.1 L595.4,105.3 L596.4,105.5 L597.4,105.6 L598.4,105.7 L599.4,105.8 L600.4,105.8 L601.4,105.6 L602.4,105.2 L603.4,104.8 L604.4,104.4 L605.4,104.0 L606.4,103.6 L607.4,103.1 L608.4,102.7 L609.4,102.3 L610.4,101.9 L611.4,101.5 L612.4,101.3 L613.4,101.1 L614.4,101.0 L615.4,100.9 L616.4,100.9 L617.4,100.8 L618.4,100.8 L619.4,100.7 L620.4,100.7 L621.4,100.6 L622.4,100.6 L623.4,100.6 L624.4,100.5 L625.4,100.4 L626.4,100.3 L627.4,100.2 L628.4,100.0 L629.4,99.8 L630.4,99.6 L631.4,99.4 L632.4,99.2 L633.4,99.0 L634.4,98.8 L635.4,98.6 L636.4,98.4 L637.4,98.3 L638.4,98.2 L639.4,98.1 L640.4,98.1 L641.4,98.1 L642.4,98.2 L643.4,98.2 L644.4,98.2 L645.4,98.3 L646.4,98.3 L647.4,98.4 L648.4,98.4 L649.4,98.4 L650.4,98.3 L651.4,98.2 L652.4,98.0 L653.4,97.8 L654.4,97.7 L655.4,97.7 L656.4,97.8 L657.4,97.9 L658.4,98.1 L659.4,98.3 L660.4,98.5 L661.4,98.7 L662.4,98.9 L663.4,99.1 L664.4,99.3 L665.4,99.4 L666.4,99.5 L667.4,99.5 L668.4,99.5 L669.4,99.4 L670.4,99.3 L671.4,99.2 L672.4,99.1 L673.4,98.9 L674.4,98.7 L675.4,98.6 L676.4,98.4 L677.4,98.2 L678.4,98.0 L679.4,97.8 L680.4,97.7 L681.4,97.5 L682.4,97.4 L683.4,97.2 L684.4,97.1 L685.4,97.1 L686.4,97.0 L687.4,97.0 L688.4,97.1 L689.4,97.2 L690.4,97.4 L691.4,97.6 L692.4,97.9 L693.4,98.1 L694.4,98.4 L695.4,98.7 L696.4,99.0 L697.4,99.2 L698.4,99.4 L699.4,99.7 L700.4,100.0 L701.4,100.3 L702.4,100.6 L703.4,100.9 L704.4,101.1 L705.4,101.4 L706.4,101.5 L707.4,101.7 L708.4,101.8 L709.4,101.8 L710.4,101.8 L711.4,101.8 L712.4,101.8 L713.4,101.8 L714.4,101.8 L715.4,101.8 L716.4,101.8 L717.4,101.8 L718.4,101.8 L719.4,102.0 L720.4,102.5 L721.4,103.3 L722.4,104.3 L723.4,105.4 L724.4,106.6 L725.4,108.3 L726.4,110.4 L727.4,112.8 L728.4,115.3 L729.4,117.8 L730.4,120.3 L731.4,123.0 L732.4,125.8 L733.4,128.7 L734.4,131.6 L735.4,134.6 L736.4,137.7 L737.4,140.8 L738.4,144.0 L739.3,147.0" fill="none" stroke="#66b3cf" stroke-width="1.5" stroke-linejoin="round"/><path d="M551.4,122.7 L552.4,117.5 L553.4,112.8 L554.4,108.7 L555.4,105.1 L556.4,101.9 L557.4,99.1 L558.4,97.1 L559.4,96.0 L560.4,95.0 L561.4,94.3 L562.4,93.6 L563.4,93.1 L564.4,92.5 L565.4,92.0 L566.4,91.5 L567.4,91.1 L568.4,90.7 L569.4,90.3 L570.4,90.0 L571.4,89.6 L572.4,89.2 L573.4,88.8 L574.4,88.4 L575.4,88.1 L576.4,87.7 L577.4,87.4 L578.4,87.2 L579.4,87.0 L580.4,86.9 L581.4,86.9 L582.4,87.0 L583.4,87.1 L584.4,87.2 L585.4,87.4 L586.4,87.6 L587.4,87.9 L588.4,88.1 L589.4,88.4 L590.4,88.8 L591.4,89.2 L592.4,89.5 L593.4,89.6 L594.4,89.6 L595.4,89.5 L596.4,89.4 L597.4,89.4 L598.4,89.3 L599.4,89.2 L600.4,89.1 L601.4,89.0 L602.4,88.9 L603.4,88.9 L604.4,88.9 L605.4,89.0 L606.4,89.1 L607.4,89.3 L608.4,89.6 L609.4,89.8 L610.4,90.1 L611.4,90.4 L612.4,90.6 L613.4,90.9 L614.4,91.1 L615.4,91.3 L616.4,91.5 L617.4,91.8 L618.4,92.0 L619.4,92.2 L620.4,92.4 L621.4,92.7 L622.4,92.9 L623.4,93.1 L624.4,93.3 L625.4,93.5 L626.4,93.7 L627.4,93.9 L628.4,94.1 L629.4,94.2 L630.4,94.4 L631.4,94.5 L632.4,94.7 L633.4,94.9 L634.4,95.1 L635.4,95.4 L636.4,95.7 L637.4,96.2 L638.4,97.1 L639.4,97.9 L640.4,98.6 L641.4,99.2 L642.4,99.7 L643.4,100.2 L644.4,100.8 L645.4,101.8 L646.4,103.0 L647.4,104.4 L648.4,105.9 L649.4,107.3 L650.4,108.7 L651.4,110.4 L652.4,112.1 L653.4,113.9 L654.4,115.6 L655.4,117.1 L656.4,118.5 L657.4,119.6 L658.4,120.4 L659.4,120.7 L660.4,120.5 L661.4,119.8 L662.4,118.9 L663.4,117.9 L664.4,117.0 L665.4,116.3 L666.4,115.5 L667.4,114.7 L668.4,113.9 L669.4,113.1 L670.4,112.3 L671.4,111.6 L672.4,110.8 L673.4,110.2 L674.4,109.5 L675.4,108.9 L676.4,108.2 L677.4,107.6 L678.4,107.0 L679.4,106.4 L680.4,105.9 L681.4,105.3 L682.4,104.8 L683.4,104.2 L684.4,103.7 L685.4,103.3 L686.4,102.8 L687.4,102.4 L688.4,102.0 L689.4,101.6 L690.4,101.3 L691.4,101.0 L692.4,100.7 L693.4,100.3 L694.4,100.0 L695.4,99.6 L696.4,99.2 L697.4,98.7 L698.4,98.1 L699.4,97.3 L700.4,96.4 L701.4,95.5 L702.4,94.5 L703.4,93.6 L704.4,92.7 L705.4,91.9 L706.4,91.2 L707.4,90.7 L708.4,90.4 L709.4,90.3 L710.4,90.5 L711.4,91.0 L712.4,91.6 L713.4,92.4 L714.4,93.2 L715.4,94.1 L716.4,94.9 L717.4,96.1 L718.4,97.5 L719.4,99.0 L720.4,100.5 L721.4,102.0 L722.4,103.4 L723.4,104.5 L724.4,105.3 L725.4,105.8 L726.4,105.7 L727.4,104.8 L728.4,103.5 L729.4,101.8 L730.4,99.9 L731.4,98.1 L732.4,96.6 L733.4,95.5 L734.4,94.7 L735.4,93.9 L736.4,93.1 L737.4,92.5 L738.4,92.0 L739.3,91.6" fill="none" stroke="#8e318f" stroke-width="1.5" stroke-linejoin="round"/></g><line x1="558.50" y1="41.70" x2="558.50" y2="182.90" stroke="#262626" stroke-width="1.35" stroke-dasharray="1.4 2.6"/><line x1="588.66" y1="41.70" x2="588.66" y2="182.90" stroke="#262626" stroke-width="1.35" stroke-dasharray="1.4 2.6"/><line x1="603.74" y1="41.70" x2="603.74" y2="182.90" stroke="#262626" stroke-width="1.35" stroke-dasharray="1.4 2.6"/><line x1="648.98" y1="41.70" x2="648.98" y2="182.90" stroke="#262626" stroke-width="1.35" stroke-dasharray="1.4 2.6"/><line x1="664.06" y1="41.70" x2="664.06" y2="182.90" stroke="#262626" stroke-width="1.35" stroke-dasharray="1.4 2.6"/><line x1="709.30" y1="41.70" x2="709.30" y2="182.90" stroke="#262626" stroke-width="1.35" stroke-dasharray="1.4 2.6"/><path d="M551.20,39.00 L551.20,182.60 L739.50,182.60" fill="none" stroke="#6d6e71" stroke-width="1.1"/><line x1="551.20" y1="174.30" x2="553.40" y2="174.30" stroke="#6d6e71" stroke-width="1"/><text x="546.40" y="180.90" text-anchor="end" font-family='"Liberation Sans", sans-serif' font-size="12" fill="#231f20">0</text><line x1="551.20" y1="131.90" x2="553.40" y2="131.90" stroke="#6d6e71" stroke-width="1"/><text x="546.40" y="138.50" text-anchor="end" font-family='"Liberation Sans", sans-serif' font-size="12" fill="#231f20">5</text><line x1="551.20" y1="89.90" x2="553.40" y2="89.90" stroke="#6d6e71" stroke-width="1"/><text x="546.40" y="96.50" text-anchor="end" font-family='"Liberation Sans", sans-serif' font-size="12" fill="#231f20">10</text><line x1="551.20" y1="47.20" x2="553.40" y2="47.20" stroke="#6d6e71" stroke-width="1"/><text x="546.40" y="53.80" text-anchor="end" font-family='"Liberation Sans", sans-serif' font-size="12" fill="#231f20">15</text><line x1="558.50" y1="182.60" x2="558.50" y2="180.60" stroke="#262626" stroke-width="1"/><text x="558.70" y="193.60" text-anchor="middle" font-family='"Liberation Sans", sans-serif' font-size="12" fill="#231f20">0</text><line x1="588.66" y1="182.60" x2="588.66" y2="180.60" stroke="#262626" stroke-width="1"/><text x="588.06" y="193.60" text-anchor="middle" font-family='"Liberation Sans", sans-serif' font-size="12" fill="#231f20">1</text><line x1="648.98" y1="182.60" x2="648.98" y2="180.60" stroke="#262626" stroke-width="1"/><text x="649.18" y="193.60" text-anchor="middle" font-family='"Liberation Sans", sans-serif' font-size="12" fill="#231f20">3</text><line x1="709.30" y1="182.60" x2="709.30" y2="180.60" stroke="#262626" stroke-width="1"/><text x="709.50" y="193.60" text-anchor="middle" font-family='"Liberation Sans", sans-serif' font-size="12" fill="#231f20">5</text><text x="625.35" y="205.70" font-family='"Liberation Sans", sans-serif' font-size="12" fill="#231f20" textLength="40" lengthAdjust="spacingAndGlyphs">Time (s)</text><text x="606.90" y="35.80" font-family='"Liberation Sans", sans-serif' font-size="12" fill="#231f20" textLength="40.9" lengthAdjust="spacingAndGlyphs">8-14 Hz</text><text transform="translate(527.35,160.10) rotate(-90)" x="0" y="0" font-family='"Liberation Sans", sans-serif' font-size="12" fill="#231f20" textLength="61.4" lengthAdjust="spacingAndGlyphs">Power (dB)</text></g><clipPath id="clipC2"><rect x="551.2" y="226.0" width="189.29999999999995" height="147.39999999999998"/></clipPath><g><rect x="589.06" y="230.70" width="13.6" height="142.70" fill="#d6d6d6"/><rect x="649.38" y="230.70" width="13.6" height="142.70" fill="#d6d6d6"/><g clip-path="url(#clipC2)"><path d="M551.4,331.0 L552.4,327.8 L553.4,324.7 L554.4,321.8 L555.4,318.9 L556.4,316.1 L557.4,313.5 L558.4,311.0 L559.4,308.8 L560.4,306.7 L561.4,304.6 L562.4,302.7 L563.4,300.9 L564.4,299.3 L565.4,297.9 L566.4,296.5 L567.4,295.2 L568.4,294.0 L569.4,292.9 L570.4,292.0 L571.4,291.3 L572.4,290.8 L573.4,290.4 L574.4,290.1 L575.4,289.8 L576.4,289.5 L577.4,289.2 L578.4,288.9 L579.4,288.6 L580.4,288.2 L581.4,287.7 L582.4,287.2 L583.4,286.6 L584.4,286.1 L585.4,285.6 L586.4,285.3 L587.4,285.1 L588.4,285.1 L589.4,285.3 L590.4,285.6 L591.4,286.0 L592.4,286.5 L593.4,287.0 L594.4,287.5 L595.4,288.0 L596.4,288.5 L597.4,288.9 L598.4,289.2 L599.4,289.4 L600.4,289.3 L601.4,288.8 L602.4,287.9 L603.4,287.0 L604.4,286.2 L605.4,285.4 L606.4,284.6 L607.4,283.8 L608.4,283.0 L609.4,282.3 L610.4,281.7 L611.4,281.2 L612.4,281.0 L613.4,280.8 L614.4,280.7 L615.4,280.5 L616.4,280.4 L617.4,280.3 L618.4,280.2 L619.4,280.2 L620.4,280.1 L621.4,280.0 L622.4,280.0 L623.4,279.9 L624.4,279.8 L625.4,279.7 L626.4,279.6 L627.4,279.6 L628.4,279.5 L629.4,279.4 L630.4,279.3 L631.4,279.3 L632.4,279.2 L633.4,279.0 L634.4,278.9 L635.4,278.7 L636.4,278.4 L637.4,278.1 L638.4,277.8 L639.4,277.6 L640.4,277.6 L641.4,277.6 L642.4,277.7 L643.4,277.8 L644.4,277.8 L645.4,277.9 L646.4,278.0 L647.4,278.1 L648.4,278.1 L649.4,278.1 L650.4,277.6 L651.4,276.9 L652.4,276.7 L653.4,276.9 L654.4,277.2 L655.4,277.7 L656.4,278.3 L657.4,278.9 L658.4,279.6 L659.4,280.3 L660.4,280.9 L661.4,281.4 L662.4,281.8 L663.4,282.1 L664.4,282.1 L665.4,282.0 L666.4,281.8 L667.4,281.4 L668.4,281.0 L669.4,280.6 L670.4,280.0 L671.4,279.5 L672.4,279.0 L673.4,278.5 L674.4,278.0 L675.4,277.5 L676.4,277.2 L677.4,276.9 L678.4,276.7 L679.4,276.7 L680.4,276.8 L681.4,276.9 L682.4,277.0 L683.4,277.3 L684.4,277.5 L685.4,277.9 L686.4,278.2 L687.4,278.5 L688.4,278.9 L689.4,279.3 L690.4,279.6 L691.4,280.0 L692.4,280.3 L693.4,280.6 L694.4,280.9 L695.4,281.1 L696.4,281.4 L697.4,281.6 L698.4,281.8 L699.4,282.0 L700.4,282.3 L701.4,282.5 L702.4,282.7 L703.4,282.9 L704.4,283.2 L705.4,283.4 L706.4,283.7 L707.4,283.9 L708.4,284.2 L709.4,284.5 L710.4,284.7 L711.4,285.0 L712.4,285.3 L713.4,285.5 L714.4,285.8 L715.4,286.2 L716.4,286.7 L717.4,287.3 L718.4,287.9 L719.4,288.7 L720.4,289.7 L721.4,290.8 L722.4,292.2 L723.4,293.6 L724.4,295.3 L725.4,297.0 L726.4,298.8 L727.4,301.0 L728.4,303.7 L729.4,306.7 L730.4,309.9 L731.4,313.1 L732.4,316.1 L733.4,319.0 L734.4,322.0 L735.4,325.1 L736.4,328.1 L737.4,331.2 L738.4,334.3 L739.3,337.1 L739.3,343.1 L738.4,340.5 L737.4,337.7 L736.4,334.8 L735.4,332.0 L734.4,329.3 L733.4,326.5 L732.4,323.8 L731.4,321.0 L730.4,318.1 L729.4,315.2 L728.4,312.4 L727.4,309.9 L726.4,308.0 L725.4,306.4 L724.4,304.9 L723.4,303.6 L722.4,302.3 L721.4,301.2 L720.4,300.3 L719.4,299.6 L718.4,299.1 L717.4,298.7 L716.4,298.4 L715.4,298.1 L714.4,297.8 L713.4,297.5 L712.4,297.3 L711.4,297.0 L710.4,296.7 L709.4,296.5 L708.4,296.2 L707.4,295.9 L706.4,295.7 L705.4,295.4 L704.4,295.2 L703.4,294.9 L702.4,294.7 L701.4,294.5 L700.4,294.3 L699.4,294.0 L698.4,293.8 L697.4,293.6 L696.4,293.4 L695.4,293.1 L694.4,292.9 L693.4,292.6 L692.4,292.3 L691.4,292.0 L690.4,291.6 L689.4,291.3 L688.4,290.9 L687.4,290.5 L686.4,290.2 L685.4,289.9 L684.4,289.5 L683.4,289.3 L682.4,289.0 L681.4,288.9 L680.4,288.8 L679.4,288.7 L678.4,288.7 L677.4,288.9 L676.4,289.2 L675.4,289.5 L674.4,290.0 L673.4,290.5 L672.4,291.0 L671.4,291.5 L670.4,292.0 L669.4,292.6 L668.4,293.0 L667.4,293.4 L666.4,293.8 L665.4,294.0 L664.4,294.1 L663.4,294.1 L662.4,293.8 L661.4,293.4 L660.4,292.9 L659.4,292.3 L658.4,291.6 L657.4,290.9 L656.4,290.3 L655.4,289.7 L654.4,289.2 L653.4,288.9 L652.4,288.7 L651.4,288.9 L650.4,289.6 L649.4,290.1 L648.4,290.1 L647.4,290.1 L646.4,290.0 L645.4,289.9 L644.4,289.8 L643.4,289.8 L642.4,289.7 L641.4,289.6 L640.4,289.6 L639.4,289.6 L638.4,289.8 L637.4,290.1 L636.4,290.4 L635.4,290.7 L634.4,290.9 L633.4,291.0 L632.4,291.2 L631.4,291.3 L630.4,291.3 L629.4,291.4 L628.4,291.5 L627.4,291.6 L626.4,291.6 L625.4,291.7 L624.4,291.8 L623.4,291.9 L622.4,292.0 L621.4,292.0 L620.4,292.1 L619.4,292.2 L618.4,292.2 L617.4,292.3 L616.4,292.4 L615.4,292.5 L614.4,292.7 L613.4,292.8 L612.4,293.0 L611.4,293.2 L610.4,293.7 L609.4,294.3 L608.4,295.0 L607.4,295.8 L606.4,296.6 L605.4,297.4 L604.4,298.2 L603.4,299.0 L602.4,299.9 L601.4,300.8 L600.4,301.3 L599.4,301.4 L598.4,301.2 L597.4,300.9 L596.4,300.5 L595.4,300.0 L594.4,299.5 L593.4,299.0 L592.4,298.5 L591.4,298.0 L590.4,297.6 L589.4,297.3 L588.4,297.1 L587.4,297.1 L586.4,297.3 L585.4,297.6 L584.4,298.1 L583.4,298.6 L582.4,299.2 L581.4,299.7 L580.4,300.2 L579.4,300.6 L578.4,300.9 L577.4,301.2 L576.4,301.5 L575.4,301.8 L574.4,302.1 L573.4,302.4 L572.4,302.8 L571.4,303.3 L570.4,304.0 L569.4,304.9 L568.4,306.0 L567.4,307.2 L566.4,308.5 L565.4,309.9 L564.4,311.3 L563.4,312.9 L562.4,314.7 L561.4,316.6 L560.4,318.7 L559.4,320.8 L558.4,323.0 L557.4,325.5 L556.4,328.1 L555.4,330.9 L554.4,333.8 L553.4,336.7 L552.4,339.8 L551.4,343.0 Z" fill="#eff6fa" stroke="none"/><path d="M551.4,331.0 L552.4,327.8 L553.4,324.7 L554.4,321.8 L555.4,318.9 L556.4,316.1 L557.4,313.5 L558.4,311.0 L559.4,308.8 L560.4,306.7 L561.4,304.6 L562.4,302.7 L563.4,300.9 L564.4,299.3 L565.4,297.9 L566.4,296.5 L567.4,295.2 L568.4,294.0 L569.4,292.9 L570.4,292.0 L571.4,291.3 L572.4,290.8 L573.4,290.4 L574.4,290.1 L575.4,289.8 L576.4,289.5 L577.4,289.2 L578.4,288.9 L579.4,288.6 L580.4,288.2 L581.4,287.7 L582.4,287.2 L583.4,286.6 L584.4,286.1 L585.4,285.6 L586.4,285.3 L587.4,285.1 L588.4,285.1 L589.4,285.3 L590.4,285.6 L591.4,286.0 L592.4,286.5 L593.4,287.0 L594.4,287.5 L595.4,288.0 L596.4,288.5 L597.4,288.9 L598.4,289.2 L599.4,289.4 L600.4,289.3 L601.4,288.8 L602.4,287.9 L603.4,287.0 L604.4,286.2 L605.4,285.4 L606.4,284.6 L607.4,283.8 L608.4,283.0 L609.4,282.3 L610.4,281.7 L611.4,281.2 L612.4,281.0 L613.4,280.8 L614.4,280.7 L615.4,280.5 L616.4,280.4 L617.4,280.3 L618.4,280.2 L619.4,280.2 L620.4,280.1 L621.4,280.0 L622.4,280.0 L623.4,279.9 L624.4,279.8 L625.4,279.7 L626.4,279.6 L627.4,279.6 L628.4,279.5 L629.4,279.4 L630.4,279.3 L631.4,279.3 L632.4,279.2 L633.4,279.0 L634.4,278.9 L635.4,278.7 L636.4,278.4 L637.4,278.1 L638.4,277.8 L639.4,277.6 L640.4,277.6 L641.4,277.6 L642.4,277.7 L643.4,277.8 L644.4,277.8 L645.4,277.9 L646.4,278.0 L647.4,278.1 L648.4,278.1 L649.4,278.1 L650.4,277.6 L651.4,276.9 L652.4,276.7 L653.4,276.9 L654.4,277.2 L655.4,277.7 L656.4,278.3 L657.4,278.9 L658.4,279.6 L659.4,280.3 L660.4,280.9 L661.4,281.4 L662.4,281.8 L663.4,282.1 L664.4,282.1 L665.4,282.0 L666.4,281.8 L667.4,281.4 L668.4,281.0 L669.4,280.6 L670.4,280.0 L671.4,279.5 L672.4,279.0 L673.4,278.5 L674.4,278.0 L675.4,277.5 L676.4,277.2 L677.4,276.9 L678.4,276.7 L679.4,276.7 L680.4,276.8 L681.4,276.9 L682.4,277.0 L683.4,277.3 L684.4,277.5 L685.4,277.9 L686.4,278.2 L687.4,278.5 L688.4,278.9 L689.4,279.3 L690.4,279.6 L691.4,280.0 L692.4,280.3 L693.4,280.6 L694.4,280.9 L695.4,281.1 L696.4,281.4 L697.4,281.6 L698.4,281.8 L699.4,282.0 L700.4,282.3 L701.4,282.5 L702.4,282.7 L703.4,282.9 L704.4,283.2 L705.4,283.4 L706.4,283.7 L707.4,283.9 L708.4,284.2 L709.4,284.5 L710.4,284.7 L711.4,285.0 L712.4,285.3 L713.4,285.5 L714.4,285.8 L715.4,286.2 L716.4,286.7 L717.4,287.3 L718.4,287.9 L719.4,288.7 L720.4,289.7 L721.4,290.8 L722.4,292.2 L723.4,293.6 L724.4,295.3 L725.4,297.0 L726.4,298.8 L727.4,301.0 L728.4,303.7 L729.4,306.7 L730.4,309.9 L731.4,313.1 L732.4,316.1 L733.4,319.0 L734.4,322.0 L735.4,325.1 L736.4,328.1 L737.4,331.2 L738.4,334.3 L739.3,337.1" fill="none" stroke="#a9d5e5" stroke-width="0.95"/><path d="M551.4,343.0 L552.4,339.8 L553.4,336.7 L554.4,333.8 L555.4,330.9 L556.4,328.1 L557.4,325.5 L558.4,323.0 L559.4,320.8 L560.4,318.7 L561.4,316.6 L562.4,314.7 L563.4,312.9 L564.4,311.3 L565.4,309.9 L566.4,308.5 L567.4,307.2 L568.4,306.0 L569.4,304.9 L570.4,304.0 L571.4,303.3 L572.4,302.8 L573.4,302.4 L574.4,302.1 L575.4,301.8 L576.4,301.5 L577.4,301.2 L578.4,300.9 L579.4,300.6 L580.4,300.2 L581.4,299.7 L582.4,299.2 L583.4,298.6 L584.4,298.1 L585.4,297.6 L586.4,297.3 L587.4,297.1 L588.4,297.1 L589.4,297.3 L590.4,297.6 L591.4,298.0 L592.4,298.5 L593.4,299.0 L594.4,299.5 L595.4,300.0 L596.4,300.5 L597.4,300.9 L598.4,301.2 L599.4,301.4 L600.4,301.3 L601.4,300.8 L602.4,299.9 L603.4,299.0 L604.4,298.2 L605.4,297.4 L606.4,296.6 L607.4,295.8 L608.4,295.0 L609.4,294.3 L610.4,293.7 L611.4,293.2 L612.4,293.0 L613.4,292.8 L614.4,292.7 L615.4,292.5 L616.4,292.4 L617.4,292.3 L618.4,292.2 L619.4,292.2 L620.4,292.1 L621.4,292.0 L622.4,292.0 L623.4,291.9 L624.4,291.8 L625.4,291.7 L626.4,291.6 L627.4,291.6 L628.4,291.5 L629.4,291.4 L630.4,291.3 L631.4,291.3 L632.4,291.2 L633.4,291.0 L634.4,290.9 L635.4,290.7 L636.4,290.4 L637.4,290.1 L638.4,289.8 L639.4,289.6 L640.4,289.6 L641.4,289.6 L642.4,289.7 L643.4,289.8 L644.4,289.8 L645.4,289.9 L646.4,290.0 L647.4,290.1 L648.4,290.1 L649.4,290.1 L650.4,289.6 L651.4,288.9 L652.4,288.7 L653.4,288.9 L654.4,289.2 L655.4,289.7 L656.4,290.3 L657.4,290.9 L658.4,291.6 L659.4,292.3 L660.4,292.9 L661.4,293.4 L662.4,293.8 L663.4,294.1 L664.4,294.1 L665.4,294.0 L666.4,293.8 L667.4,293.4 L668.4,293.0 L669.4,292.6 L670.4,292.0 L671.4,291.5 L672.4,291.0 L673.4,290.5 L674.4,290.0 L675.4,289.5 L676.4,289.2 L677.4,288.9 L678.4,288.7 L679.4,288.7 L680.4,288.8 L681.4,288.9 L682.4,289.0 L683.4,289.3 L684.4,289.5 L685.4,289.9 L686.4,290.2 L687.4,290.5 L688.4,290.9 L689.4,291.3 L690.4,291.6 L691.4,292.0 L692.4,292.3 L693.4,292.6 L694.4,292.9 L695.4,293.1 L696.4,293.4 L697.4,293.6 L698.4,293.8 L699.4,294.0 L700.4,294.3 L701.4,294.5 L702.4,294.7 L703.4,294.9 L704.4,295.2 L705.4,295.4 L706.4,295.7 L707.4,295.9 L708.4,296.2 L709.4,296.5 L710.4,296.7 L711.4,297.0 L712.4,297.3 L713.4,297.5 L714.4,297.8 L715.4,298.1 L716.4,298.4 L717.4,298.7 L718.4,299.1 L719.4,299.6 L720.4,300.3 L721.4,301.2 L722.4,302.3 L723.4,303.6 L724.4,304.9 L725.4,306.4 L726.4,308.0 L727.4,309.9 L728.4,312.4 L729.4,315.2 L730.4,318.1 L731.4,321.0 L732.4,323.8 L733.4,326.5 L734.4,329.3 L735.4,332.0 L736.4,334.8 L737.4,337.7 L738.4,340.5 L739.3,343.1" fill="none" stroke="#a9d5e5" stroke-width="0.8"/><path d="M551.4,313.4 L552.4,309.9 L553.4,306.9 L554.4,304.4 L555.4,302.6 L556.4,301.2 L557.4,300.2 L558.4,300.0 L559.4,300.8 L560.4,301.8 L561.4,301.9 L562.4,301.7 L563.4,301.5 L564.4,301.1 L565.4,300.8 L566.4,300.5 L567.4,300.2 L568.4,299.9 L569.4,299.5 L570.4,299.1 L571.4,298.8 L572.4,298.5 L573.4,298.4 L574.4,298.3 L575.4,298.3 L576.4,298.4 L577.4,298.6 L578.4,298.8 L579.4,299.1 L580.4,299.3 L581.4,299.6 L582.4,299.9 L583.4,300.3 L584.4,300.8 L585.4,301.5 L586.4,302.1 L587.4,302.7 L588.4,303.2 L589.4,303.5 L590.4,303.8 L591.4,304.1 L592.4,304.3 L593.4,304.5 L594.4,304.7 L595.4,304.9 L596.4,305.0 L597.4,305.0 L598.4,305.0 L599.4,304.9 L600.4,304.8 L601.4,304.7 L602.4,304.6 L603.4,304.6 L604.4,304.6 L605.4,304.8 L606.4,305.0 L607.4,305.4 L608.4,305.7 L609.4,306.2 L610.4,306.6 L611.4,307.0 L612.4,307.4 L613.4,307.8 L614.4,308.2 L615.4,308.7 L616.4,309.2 L617.4,309.7 L618.4,310.1 L619.4,310.6 L620.4,311.0 L621.4,311.4 L622.4,311.7 L623.4,312.0 L624.4,312.1 L625.4,312.2 L626.4,312.3 L627.4,312.3 L628.4,312.4 L629.4,312.4 L630.4,312.4 L631.4,312.5 L632.4,312.6 L633.4,312.7 L634.4,312.8 L635.4,313.1 L636.4,313.5 L637.4,314.1 L638.4,314.7 L639.4,315.4 L640.4,316.1 L641.4,317.0 L642.4,318.0 L643.4,319.1 L644.4,320.4 L645.4,321.7 L646.4,323.1 L647.4,324.4 L648.4,325.7 L649.4,326.9 L650.4,328.3 L651.4,329.8 L652.4,331.4 L653.4,333.0 L654.4,334.5 L655.4,335.7 L656.4,336.7 L657.4,337.3 L658.4,337.5 L659.4,337.2 L660.4,336.5 L661.4,335.6 L662.4,334.5 L663.4,333.4 L664.4,332.3 L665.4,330.9 L666.4,329.3 L667.4,327.5 L668.4,325.7 L669.4,324.0 L670.4,322.6 L671.4,321.6 L672.4,320.8 L673.4,320.0 L674.4,319.3 L675.4,318.6 L676.4,318.0 L677.4,317.4 L678.4,316.8 L679.4,316.3 L680.4,315.8 L681.4,315.3 L682.4,314.8 L683.4,314.3 L684.4,313.9 L685.4,313.4 L686.4,312.9 L687.4,312.5 L688.4,312.0 L689.4,311.5 L690.4,311.1 L691.4,310.6 L692.4,310.2 L693.4,309.8 L694.4,309.4 L695.4,309.0 L696.4,308.6 L697.4,308.1 L698.4,307.7 L699.4,307.2 L700.4,306.7 L701.4,306.2 L702.4,305.7 L703.4,305.2 L704.4,304.8 L705.4,304.4 L706.4,304.1 L707.4,303.9 L708.4,303.7 L709.4,303.7 L710.4,304.0 L711.4,304.8 L712.4,305.8 L713.4,307.0 L714.4,308.2 L715.4,309.5 L716.4,310.7 L717.4,312.4 L718.4,314.3 L719.4,316.3 L720.4,318.0 L721.4,319.5 L722.4,320.4 L723.4,320.5 L724.4,318.8 L725.4,315.8 L726.4,312.0 L727.4,308.4 L728.4,305.2 L729.4,301.7 L730.4,298.1 L731.4,294.8 L732.4,292.2 L733.4,290.6 L734.4,289.4 L735.4,288.5 L736.4,288.1 L737.4,288.3 L738.4,289.1 L739.3,290.2 L739.3,299.6 L738.4,298.5 L737.4,297.7 L736.4,297.5 L735.4,297.9 L734.4,298.8 L733.4,300.0 L732.4,301.6 L731.4,304.2 L730.4,307.5 L729.4,311.1 L728.4,314.6 L727.4,317.8 L726.4,321.4 L725.4,325.2 L724.4,328.2 L723.4,329.9 L722.4,329.8 L721.4,328.9 L720.4,327.4 L719.4,325.7 L718.4,323.7 L717.4,321.8 L716.4,320.1 L715.4,318.9 L714.4,317.6 L713.4,316.4 L712.4,315.2 L711.4,314.2 L710.4,313.4 L709.4,313.1 L708.4,313.1 L707.4,313.3 L706.4,313.5 L705.4,313.8 L704.4,314.2 L703.4,314.6 L702.4,315.1 L701.4,315.6 L700.4,316.1 L699.4,316.6 L698.4,317.1 L697.4,317.5 L696.4,318.0 L695.4,318.4 L694.4,318.8 L693.4,319.2 L692.4,319.6 L691.4,320.0 L690.4,320.5 L689.4,320.9 L688.4,321.4 L687.4,321.9 L686.4,322.3 L685.4,322.8 L684.4,323.3 L683.4,323.7 L682.4,324.2 L681.4,324.7 L680.4,325.2 L679.4,325.7 L678.4,326.2 L677.4,326.8 L676.4,327.4 L675.4,328.0 L674.4,328.7 L673.4,329.4 L672.4,330.2 L671.4,331.0 L670.4,332.0 L669.4,333.4 L668.4,335.1 L667.4,336.9 L666.4,338.7 L665.4,340.3 L664.4,341.7 L663.4,342.8 L662.4,343.9 L661.4,345.0 L660.4,345.9 L659.4,346.6 L658.4,346.9 L657.4,346.7 L656.4,346.1 L655.4,345.1 L654.4,343.9 L653.4,342.4 L652.4,340.8 L651.4,339.2 L650.4,337.7 L649.4,336.3 L648.4,335.1 L647.4,333.8 L646.4,332.5 L645.4,331.1 L644.4,329.8 L643.4,328.5 L642.4,327.4 L641.4,326.4 L640.4,325.5 L639.4,324.8 L638.4,324.1 L637.4,323.5 L636.4,322.9 L635.4,322.5 L634.4,322.2 L633.4,322.1 L632.4,322.0 L631.4,321.9 L630.4,321.8 L629.4,321.8 L628.4,321.8 L627.4,321.7 L626.4,321.7 L625.4,321.6 L624.4,321.5 L623.4,321.4 L622.4,321.1 L621.4,320.8 L620.4,320.4 L619.4,320.0 L618.4,319.5 L617.4,319.1 L616.4,318.6 L615.4,318.1 L614.4,317.6 L613.4,317.2 L612.4,316.8 L611.4,316.4 L610.4,316.0 L609.4,315.6 L608.4,315.1 L607.4,314.8 L606.4,314.4 L605.4,314.2 L604.4,314.0 L603.4,314.0 L602.4,314.0 L601.4,314.1 L600.4,314.2 L599.4,314.3 L598.4,314.4 L597.4,314.4 L596.4,314.4 L595.4,314.3 L594.4,314.1 L593.4,313.9 L592.4,313.7 L591.4,313.5 L590.4,313.2 L589.4,312.9 L588.4,312.6 L587.4,312.1 L586.4,311.5 L585.4,310.9 L584.4,310.2 L583.4,309.7 L582.4,309.3 L581.4,309.0 L580.4,308.7 L579.4,308.5 L578.4,308.2 L577.4,308.0 L576.4,307.8 L575.4,307.7 L574.4,307.7 L573.4,307.8 L572.4,307.9 L571.4,308.2 L570.4,308.5 L569.4,308.9 L568.4,309.3 L567.4,309.6 L566.4,309.9 L565.4,310.2 L564.4,310.5 L563.4,310.9 L562.4,311.1 L561.4,311.3 L560.4,311.2 L559.4,310.2 L558.4,309.4 L557.4,309.6 L556.4,310.6 L555.4,312.0 L554.4,313.8 L553.4,316.3 L552.4,319.3 L551.4,322.8 Z" fill="#f5e9f2" stroke="none"/><path d="M551.4,313.4 L552.4,309.9 L553.4,306.9 L554.4,304.4 L555.4,302.6 L556.4,301.2 L557.4,300.2 L558.4,300.0 L559.4,300.8 L560.4,301.8 L561.4,301.9 L562.4,301.7 L563.4,301.5 L564.4,301.1 L565.4,300.8 L566.4,300.5 L567.4,300.2 L568.4,299.9 L569.4,299.5 L570.4,299.1 L571.4,298.8 L572.4,298.5 L573.4,298.4 L574.4,298.3 L575.4,298.3 L576.4,298.4 L577.4,298.6 L578.4,298.8 L579.4,299.1 L580.4,299.3 L581.4,299.6 L582.4,299.9 L583.4,300.3 L584.4,300.8 L585.4,301.5 L586.4,302.1 L587.4,302.7 L588.4,303.2 L589.4,303.5 L590.4,303.8 L591.4,304.1 L592.4,304.3 L593.4,304.5 L594.4,304.7 L595.4,304.9 L596.4,305.0 L597.4,305.0 L598.4,305.0 L599.4,304.9 L600.4,304.8 L601.4,304.7 L602.4,304.6 L603.4,304.6 L604.4,304.6 L605.4,304.8 L606.4,305.0 L607.4,305.4 L608.4,305.7 L609.4,306.2 L610.4,306.6 L611.4,307.0 L612.4,307.4 L613.4,307.8 L614.4,308.2 L615.4,308.7 L616.4,309.2 L617.4,309.7 L618.4,310.1 L619.4,310.6 L620.4,311.0 L621.4,311.4 L622.4,311.7 L623.4,312.0 L624.4,312.1 L625.4,312.2 L626.4,312.3 L627.4,312.3 L628.4,312.4 L629.4,312.4 L630.4,312.4 L631.4,312.5 L632.4,312.6 L633.4,312.7 L634.4,312.8 L635.4,313.1 L636.4,313.5 L637.4,314.1 L638.4,314.7 L639.4,315.4 L640.4,316.1 L641.4,317.0 L642.4,318.0 L643.4,319.1 L644.4,320.4 L645.4,321.7 L646.4,323.1 L647.4,324.4 L648.4,325.7 L649.4,326.9 L650.4,328.3 L651.4,329.8 L652.4,331.4 L653.4,333.0 L654.4,334.5 L655.4,335.7 L656.4,336.7 L657.4,337.3 L658.4,337.5 L659.4,337.2 L660.4,336.5 L661.4,335.6 L662.4,334.5 L663.4,333.4 L664.4,332.3 L665.4,330.9 L666.4,329.3 L667.4,327.5 L668.4,325.7 L669.4,324.0 L670.4,322.6 L671.4,321.6 L672.4,320.8 L673.4,320.0 L674.4,319.3 L675.4,318.6 L676.4,318.0 L677.4,317.4 L678.4,316.8 L679.4,316.3 L680.4,315.8 L681.4,315.3 L682.4,314.8 L683.4,314.3 L684.4,313.9 L685.4,313.4 L686.4,312.9 L687.4,312.5 L688.4,312.0 L689.4,311.5 L690.4,311.1 L691.4,310.6 L692.4,310.2 L693.4,309.8 L694.4,309.4 L695.4,309.0 L696.4,308.6 L697.4,308.1 L698.4,307.7 L699.4,307.2 L700.4,306.7 L701.4,306.2 L702.4,305.7 L703.4,305.2 L704.4,304.8 L705.4,304.4 L706.4,304.1 L707.4,303.9 L708.4,303.7 L709.4,303.7 L710.4,304.0 L711.4,304.8 L712.4,305.8 L713.4,307.0 L714.4,308.2 L715.4,309.5 L716.4,310.7 L717.4,312.4 L718.4,314.3 L719.4,316.3 L720.4,318.0 L721.4,319.5 L722.4,320.4 L723.4,320.5 L724.4,318.8 L725.4,315.8 L726.4,312.0 L727.4,308.4 L728.4,305.2 L729.4,301.7 L730.4,298.1 L731.4,294.8 L732.4,292.2 L733.4,290.6 L734.4,289.4 L735.4,288.5 L736.4,288.1 L737.4,288.3 L738.4,289.1 L739.3,290.2" fill="none" stroke="#d4a2d0" stroke-width="0.95"/><path d="M551.4,322.8 L552.4,319.3 L553.4,316.3 L554.4,313.8 L555.4,312.0 L556.4,310.6 L557.4,309.6 L558.4,309.4 L559.4,310.2 L560.4,311.2 L561.4,311.3 L562.4,311.1 L563.4,310.9 L564.4,310.5 L565.4,310.2 L566.4,309.9 L567.4,309.6 L568.4,309.3 L569.4,308.9 L570.4,308.5 L571.4,308.2 L572.4,307.9 L573.4,307.8 L574.4,307.7 L575.4,307.7 L576.4,307.8 L577.4,308.0 L578.4,308.2 L579.4,308.5 L580.4,308.7 L581.4,309.0 L582.4,309.3 L583.4,309.7 L584.4,310.2 L585.4,310.9 L586.4,311.5 L587.4,312.1 L588.4,312.6 L589.4,312.9 L590.4,313.2 L591.4,313.5 L592.4,313.7 L593.4,313.9 L594.4,314.1 L595.4,314.3 L596.4,314.4 L597.4,314.4 L598.4,314.4 L599.4,314.3 L600.4,314.2 L601.4,314.1 L602.4,314.0 L603.4,314.0 L604.4,314.0 L605.4,314.2 L606.4,314.4 L607.4,314.8 L608.4,315.1 L609.4,315.6 L610.4,316.0 L611.4,316.4 L612.4,316.8 L613.4,317.2 L614.4,317.6 L615.4,318.1 L616.4,318.6 L617.4,319.1 L618.4,319.5 L619.4,320.0 L620.4,320.4 L621.4,320.8 L622.4,321.1 L623.4,321.4 L624.4,321.5 L625.4,321.6 L626.4,321.7 L627.4,321.7 L628.4,321.8 L629.4,321.8 L630.4,321.8 L631.4,321.9 L632.4,322.0 L633.4,322.1 L634.4,322.2 L635.4,322.5 L636.4,322.9 L637.4,323.5 L638.4,324.1 L639.4,324.8 L640.4,325.5 L641.4,326.4 L642.4,327.4 L643.4,328.5 L644.4,329.8 L645.4,331.1 L646.4,332.5 L647.4,333.8 L648.4,335.1 L649.4,336.3 L650.4,337.7 L651.4,339.2 L652.4,340.8 L653.4,342.4 L654.4,343.9 L655.4,345.1 L656.4,346.1 L657.4,346.7 L658.4,346.9 L659.4,346.6 L660.4,345.9 L661.4,345.0 L662.4,343.9 L663.4,342.8 L664.4,341.7 L665.4,340.3 L666.4,338.7 L667.4,336.9 L668.4,335.1 L669.4,333.4 L670.4,332.0 L671.4,331.0 L672.4,330.2 L673.4,329.4 L674.4,328.7 L675.4,328.0 L676.4,327.4 L677.4,326.8 L678.4,326.2 L679.4,325.7 L680.4,325.2 L681.4,324.7 L682.4,324.2 L683.4,323.7 L684.4,323.3 L685.4,322.8 L686.4,322.3 L687.4,321.9 L688.4,321.4 L689.4,320.9 L690.4,320.5 L691.4,320.0 L692.4,319.6 L693.4,319.2 L694.4,318.8 L695.4,318.4 L696.4,318.0 L697.4,317.5 L698.4,317.1 L699.4,316.6 L700.4,316.1 L701.4,315.6 L702.4,315.1 L703.4,314.6 L704.4,314.2 L705.4,313.8 L706.4,313.5 L707.4,313.3 L708.4,313.1 L709.4,313.1 L710.4,313.4 L711.4,314.2 L712.4,315.2 L713.4,316.4 L714.4,317.6 L715.4,318.9 L716.4,320.1 L717.4,321.8 L718.4,323.7 L719.4,325.7 L720.4,327.4 L721.4,328.9 L722.4,329.8 L723.4,329.9 L724.4,328.2 L725.4,325.2 L726.4,321.4 L727.4,317.8 L728.4,314.6 L729.4,311.1 L730.4,307.5 L731.4,304.2 L732.4,301.6 L733.4,300.0 L734.4,298.8 L735.4,297.9 L736.4,297.5 L737.4,297.7 L738.4,298.5 L739.3,299.6" fill="none" stroke="#d4a2d0" stroke-width="0.8"/><path d="M551.4,337.0 L552.4,333.8 L553.4,330.7 L554.4,327.8 L555.4,324.9 L556.4,322.1 L557.4,319.5 L558.4,317.0 L559.4,314.8 L560.4,312.7 L561.4,310.6 L562.4,308.7 L563.4,306.9 L564.4,305.3 L565.4,303.9 L566.4,302.5 L567.4,301.2 L568.4,300.0 L569.4,298.9 L570.4,298.0 L571.4,297.3 L572.4,296.8 L573.4,296.4 L574.4,296.1 L575.4,295.8 L576.4,295.5 L577.4,295.2 L578.4,294.9 L579.4,294.6 L580.4,294.2 L581.4,293.7 L582.4,293.2 L583.4,292.6 L584.4,292.1 L585.4,291.6 L586.4,291.3 L587.4,291.1 L588.4,291.1 L589.4,291.3 L590.4,291.6 L591.4,292.0 L592.4,292.5 L593.4,293.0 L594.4,293.5 L595.4,294.0 L596.4,294.5 L597.4,294.9 L598.4,295.2 L599.4,295.4 L600.4,295.3 L601.4,294.8 L602.4,293.9 L603.4,293.0 L604.4,292.2 L605.4,291.4 L606.4,290.6 L607.4,289.8 L608.4,289.0 L609.4,288.3 L610.4,287.7 L611.4,287.2 L612.4,287.0 L613.4,286.8 L614.4,286.7 L615.4,286.5 L616.4,286.4 L617.4,286.3 L618.4,286.2 L619.4,286.2 L620.4,286.1 L621.4,286.0 L622.4,286.0 L623.4,285.9 L624.4,285.8 L625.4,285.7 L626.4,285.6 L627.4,285.6 L628.4,285.5 L629.4,285.4 L630.4,285.3 L631.4,285.3 L632.4,285.2 L633.4,285.0 L634.4,284.9 L635.4,284.7 L636.4,284.4 L637.4,284.1 L638.4,283.8 L639.4,283.6 L640.4,283.6 L641.4,283.6 L642.4,283.7 L643.4,283.8 L644.4,283.8 L645.4,283.9 L646.4,284.0 L647.4,284.1 L648.4,284.1 L649.4,284.1 L650.4,283.6 L651.4,282.9 L652.4,282.7 L653.4,282.9 L654.4,283.2 L655.4,283.7 L656.4,284.3 L657.4,284.9 L658.4,285.6 L659.4,286.3 L660.4,286.9 L661.4,287.4 L662.4,287.8 L663.4,288.1 L664.4,288.1 L665.4,288.0 L666.4,287.8 L667.4,287.4 L668.4,287.0 L669.4,286.6 L670.4,286.0 L671.4,285.5 L672.4,285.0 L673.4,284.5 L674.4,284.0 L675.4,283.5 L676.4,283.2 L677.4,282.9 L678.4,282.7 L679.4,282.7 L680.4,282.8 L681.4,282.9 L682.4,283.0 L683.4,283.3 L684.4,283.5 L685.4,283.9 L686.4,284.2 L687.4,284.5 L688.4,284.9 L689.4,285.3 L690.4,285.6 L691.4,286.0 L692.4,286.3 L693.4,286.6 L694.4,286.9 L695.4,287.1 L696.4,287.4 L697.4,287.6 L698.4,287.8 L699.4,288.0 L700.4,288.3 L701.4,288.5 L702.4,288.7 L703.4,288.9 L704.4,289.2 L705.4,289.4 L706.4,289.7 L707.4,289.9 L708.4,290.2 L709.4,290.5 L710.4,290.7 L711.4,291.0 L712.4,291.3 L713.4,291.5 L714.4,291.8 L715.4,292.2 L716.4,292.6 L717.4,293.0 L718.4,293.5 L719.4,294.1 L720.4,295.0 L721.4,296.0 L722.4,297.2 L723.4,298.6 L724.4,300.1 L725.4,301.7 L726.4,303.4 L727.4,305.5 L728.4,308.0 L729.4,310.9 L730.4,314.0 L731.4,317.0 L732.4,319.9 L733.4,322.8 L734.4,325.7 L735.4,328.6 L736.4,331.5 L737.4,334.4 L738.4,337.4 L739.3,340.1" fill="none" stroke="#66b3cf" stroke-width="1.5" stroke-linejoin="round"/><path d="M551.4,318.1 L552.4,314.6 L553.4,311.6 L554.4,309.1 L555.4,307.3 L556.4,305.9 L557.4,304.9 L558.4,304.7 L559.4,305.5 L560.4,306.5 L561.4,306.6 L562.4,306.4 L563.4,306.2 L564.4,305.8 L565.4,305.5 L566.4,305.2 L567.4,304.9 L568.4,304.6 L569.4,304.2 L570.4,303.8 L571.4,303.5 L572.4,303.2 L573.4,303.1 L574.4,303.0 L575.4,303.0 L576.4,303.1 L577.4,303.3 L578.4,303.5 L579.4,303.8 L580.4,304.0 L581.4,304.3 L582.4,304.6 L583.4,305.0 L584.4,305.5 L585.4,306.2 L586.4,306.8 L587.4,307.4 L588.4,307.9 L589.4,308.2 L590.4,308.5 L591.4,308.8 L592.4,309.0 L593.4,309.2 L594.4,309.4 L595.4,309.6 L596.4,309.7 L597.4,309.7 L598.4,309.7 L599.4,309.6 L600.4,309.5 L601.4,309.4 L602.4,309.3 L603.4,309.3 L604.4,309.3 L605.4,309.5 L606.4,309.7 L607.4,310.1 L608.4,310.4 L609.4,310.9 L610.4,311.3 L611.4,311.7 L612.4,312.1 L613.4,312.5 L614.4,312.9 L615.4,313.4 L616.4,313.9 L617.4,314.4 L618.4,314.8 L619.4,315.3 L620.4,315.7 L621.4,316.1 L622.4,316.4 L623.4,316.7 L624.4,316.8 L625.4,316.9 L626.4,317.0 L627.4,317.0 L628.4,317.1 L629.4,317.1 L630.4,317.1 L631.4,317.2 L632.4,317.3 L633.4,317.4 L634.4,317.5 L635.4,317.8 L636.4,318.2 L637.4,318.8 L638.4,319.4 L639.4,320.1 L640.4,320.8 L641.4,321.7 L642.4,322.7 L643.4,323.8 L644.4,325.1 L645.4,326.4 L646.4,327.8 L647.4,329.1 L648.4,330.4 L649.4,331.6 L650.4,333.0 L651.4,334.5 L652.4,336.1 L653.4,337.7 L654.4,339.2 L655.4,340.4 L656.4,341.4 L657.4,342.0 L658.4,342.2 L659.4,341.9 L660.4,341.2 L661.4,340.3 L662.4,339.2 L663.4,338.1 L664.4,337.0 L665.4,335.6 L666.4,334.0 L667.4,332.2 L668.4,330.4 L669.4,328.7 L670.4,327.3 L671.4,326.3 L672.4,325.5 L673.4,324.7 L674.4,324.0 L675.4,323.3 L676.4,322.7 L677.4,322.1 L678.4,321.5 L679.4,321.0 L680.4,320.5 L681.4,320.0 L682.4,319.5 L683.4,319.0 L684.4,318.6 L685.4,318.1 L686.4,317.6 L687.4,317.2 L688.4,316.7 L689.4,316.2 L690.4,315.8 L691.4,315.3 L692.4,314.9 L693.4,314.5 L694.4,314.1 L695.4,313.7 L696.4,313.3 L697.4,312.8 L698.4,312.4 L699.4,311.9 L700.4,311.4 L701.4,310.9 L702.4,310.4 L703.4,309.9 L704.4,309.5 L705.4,309.1 L706.4,308.8 L707.4,308.6 L708.4,308.4 L709.4,308.4 L710.4,308.7 L711.4,309.5 L712.4,310.5 L713.4,311.7 L714.4,312.9 L715.4,314.2 L716.4,315.4 L717.4,317.1 L718.4,319.0 L719.4,321.0 L720.4,322.7 L721.4,324.2 L722.4,325.1 L723.4,325.2 L724.4,323.5 L725.4,320.5 L726.4,316.7 L727.4,313.1 L728.4,309.9 L729.4,306.4 L730.4,302.8 L731.4,299.5 L732.4,296.9 L733.4,295.3 L734.4,294.1 L735.4,293.2 L736.4,292.8 L737.4,293.0 L738.4,293.8 L739.3,294.9" fill="none" stroke="#8e318f" stroke-width="1.5" stroke-linejoin="round"/></g><line x1="558.50" y1="231.90" x2="558.50" y2="373.70" stroke="#262626" stroke-width="1.35" stroke-dasharray="1.4 2.6"/><line x1="588.66" y1="231.90" x2="588.66" y2="373.70" stroke="#262626" stroke-width="1.35" stroke-dasharray="1.4 2.6"/><line x1="603.74" y1="231.90" x2="603.74" y2="373.70" stroke="#262626" stroke-width="1.35" stroke-dasharray="1.4 2.6"/><line x1="648.98" y1="231.90" x2="648.98" y2="373.70" stroke="#262626" stroke-width="1.35" stroke-dasharray="1.4 2.6"/><line x1="664.06" y1="231.90" x2="664.06" y2="373.70" stroke="#262626" stroke-width="1.35" stroke-dasharray="1.4 2.6"/><line x1="709.30" y1="231.90" x2="709.30" y2="373.70" stroke="#262626" stroke-width="1.35" stroke-dasharray="1.4 2.6"/><path d="M551.20,229.00 L551.20,373.40 L739.50,373.40" fill="none" stroke="#6d6e71" stroke-width="1.1"/><line x1="551.20" y1="360.40" x2="553.40" y2="360.40" stroke="#6d6e71" stroke-width="1"/><text x="546.40" y="367.00" text-anchor="end" font-family='"Liberation Sans", sans-serif' font-size="12" fill="#231f20">0</text><line x1="551.20" y1="294.70" x2="553.40" y2="294.70" stroke="#6d6e71" stroke-width="1"/><text x="546.40" y="301.30" text-anchor="end" font-family='"Liberation Sans", sans-serif' font-size="12" fill="#231f20">5</text><line x1="551.20" y1="229.60" x2="553.40" y2="229.60" stroke="#6d6e71" stroke-width="1"/><text x="546.40" y="236.20" text-anchor="end" font-family='"Liberation Sans", sans-serif' font-size="12" fill="#231f20">10</text><line x1="558.50" y1="373.40" x2="558.50" y2="371.40" stroke="#262626" stroke-width="1"/><text x="558.70" y="384.10" text-anchor="middle" font-family='"Liberation Sans", sans-serif' font-size="12" fill="#231f20">0</text><line x1="588.66" y1="373.40" x2="588.66" y2="371.40" stroke="#262626" stroke-width="1"/><text x="588.06" y="384.10" text-anchor="middle" font-family='"Liberation Sans", sans-serif' font-size="12" fill="#231f20">1</text><line x1="648.98" y1="373.40" x2="648.98" y2="371.40" stroke="#262626" stroke-width="1"/><text x="649.18" y="384.10" text-anchor="middle" font-family='"Liberation Sans", sans-serif' font-size="12" fill="#231f20">3</text><line x1="709.30" y1="373.40" x2="709.30" y2="371.40" stroke="#262626" stroke-width="1"/><text x="709.50" y="384.10" text-anchor="middle" font-family='"Liberation Sans", sans-serif' font-size="12" fill="#231f20">5</text><text x="625.35" y="396.20" font-family='"Liberation Sans", sans-serif' font-size="12" fill="#231f20" textLength="40" lengthAdjust="spacingAndGlyphs">Time (s)</text><text x="604.60" y="225.20" font-family='"Liberation Sans", sans-serif' font-size="12" fill="#231f20" textLength="43.9" lengthAdjust="spacingAndGlyphs">16-32Hz</text><text transform="translate(527.35,350.10) rotate(-90)" x="0" y="0" font-family='"Liberation Sans", sans-serif' font-size="12" fill="#231f20" textLength="61.4" lengthAdjust="spacingAndGlyphs">Power (dB)</text></g><clipPath id="clipC3"><rect x="551.2" y="427.0" width="189.29999999999995" height="146.79999999999995"/></clipPath><g><rect x="589.06" y="430.90" width="13.6" height="142.90" fill="#d6d6d6"/><rect x="649.38" y="430.90" width="13.6" height="142.90" fill="#d6d6d6"/><g clip-path="url(#clipC3)"><path d="M551.4,468.8 L552.4,469.0 L553.4,469.3 L554.4,469.6 L555.4,469.9 L556.4,470.3 L557.4,470.9 L558.4,471.4 L559.4,471.9 L560.4,472.2 L561.4,472.0 L562.4,470.8 L563.4,468.9 L564.4,466.9 L565.4,465.1 L566.4,463.9 L567.4,463.1 L568.4,462.2 L569.4,461.4 L570.4,460.7 L571.4,460.1 L572.4,459.7 L573.4,459.4 L574.4,459.3 L575.4,459.4 L576.4,459.8 L577.4,460.2 L578.4,460.8 L579.4,461.5 L580.4,462.2 L581.4,462.8 L582.4,463.4 L583.4,464.0 L584.4,464.6 L585.4,465.2 L586.4,465.9 L587.4,466.5 L588.4,467.1 L589.4,467.6 L590.4,468.1 L591.4,468.5 L592.4,468.8 L593.4,469.2 L594.4,469.6 L595.4,469.9 L596.4,470.1 L597.4,470.3 L598.4,470.4 L599.4,470.2 L600.4,469.4 L601.4,468.3 L602.4,467.1 L603.4,466.0 L604.4,465.2 L605.4,464.5 L606.4,463.8 L607.4,463.2 L608.4,462.6 L609.4,462.0 L610.4,461.5 L611.4,461.0 L612.4,460.6 L613.4,460.2 L614.4,459.8 L615.4,459.4 L616.4,458.9 L617.4,458.5 L618.4,458.2 L619.4,457.8 L620.4,457.5 L621.4,457.2 L622.4,457.0 L623.4,456.8 L624.4,456.7 L625.4,456.6 L626.4,456.6 L627.4,456.8 L628.4,457.1 L629.4,457.4 L630.4,457.7 L631.4,457.9 L632.4,458.0 L633.4,457.7 L634.4,457.1 L635.4,456.1 L636.4,455.0 L637.4,453.9 L638.4,452.9 L639.4,452.1 L640.4,451.8 L641.4,451.6 L642.4,451.4 L643.4,451.2 L644.4,451.2 L645.4,451.6 L646.4,452.3 L647.4,453.2 L648.4,454.0 L649.4,454.7 L650.4,455.4 L651.4,456.1 L652.4,456.8 L653.4,457.4 L654.4,458.0 L655.4,458.4 L656.4,458.6 L657.4,458.8 L658.4,458.9 L659.4,459.0 L660.4,459.1 L661.4,459.2 L662.4,459.3 L663.4,459.3 L664.4,459.3 L665.4,458.9 L666.4,458.1 L667.4,457.1 L668.4,456.0 L669.4,454.9 L670.4,453.8 L671.4,453.0 L672.4,452.1 L673.4,451.2 L674.4,450.2 L675.4,449.5 L676.4,448.9 L677.4,448.5 L678.4,448.5 L679.4,448.6 L680.4,448.7 L681.4,448.9 L682.4,449.1 L683.4,449.3 L684.4,449.6 L685.4,449.9 L686.4,450.2 L687.4,450.5 L688.4,451.0 L689.4,451.6 L690.4,452.2 L691.4,452.6 L692.4,452.8 L693.4,453.0 L694.4,453.2 L695.4,453.3 L696.4,453.4 L697.4,453.5 L698.4,453.7 L699.4,453.9 L700.4,454.1 L701.4,454.4 L702.4,454.8 L703.4,455.2 L704.4,455.6 L705.4,456.0 L706.4,456.4 L707.4,456.8 L708.4,457.1 L709.4,457.3 L710.4,457.6 L711.4,457.8 L712.4,457.9 L713.4,458.1 L714.4,458.3 L715.4,458.6 L716.4,458.9 L717.4,459.3 L718.4,459.7 L719.4,460.2 L720.4,460.7 L721.4,461.2 L722.4,461.8 L723.4,462.4 L724.4,463.2 L725.4,464.1 L726.4,465.2 L727.4,466.4 L728.4,467.7 L729.4,469.1 L730.4,470.6 L731.4,472.1 L732.4,473.7 L733.4,475.4 L734.4,477.2 L735.4,479.1 L736.4,481.2 L737.4,483.4 L738.4,485.6 L739.3,487.7 L739.3,493.7 L738.4,491.8 L737.4,489.7 L736.4,487.7 L735.4,485.8 L734.4,484.0 L733.4,482.3 L732.4,480.8 L731.4,479.4 L730.4,478.1 L729.4,476.7 L728.4,475.5 L727.4,474.3 L726.4,473.3 L725.4,472.4 L724.4,471.6 L723.4,471.1 L722.4,470.6 L721.4,470.2 L720.4,469.8 L719.4,469.4 L718.4,469.2 L717.4,468.9 L716.4,468.7 L715.4,468.5 L714.4,468.3 L713.4,468.1 L712.4,467.9 L711.4,467.8 L710.4,467.6 L709.4,467.3 L708.4,467.1 L707.4,466.8 L706.4,466.4 L705.4,466.0 L704.4,465.6 L703.4,465.2 L702.4,464.8 L701.4,464.4 L700.4,464.1 L699.4,463.9 L698.4,463.7 L697.4,463.5 L696.4,463.4 L695.4,463.3 L694.4,463.2 L693.4,463.0 L692.4,462.8 L691.4,462.6 L690.4,462.2 L689.4,461.6 L688.4,461.0 L687.4,460.5 L686.4,460.2 L685.4,459.9 L684.4,459.6 L683.4,459.3 L682.4,459.1 L681.4,458.9 L680.4,458.7 L679.4,458.6 L678.4,458.5 L677.4,458.5 L676.4,458.9 L675.4,459.5 L674.4,460.2 L673.4,461.2 L672.4,462.1 L671.4,463.0 L670.4,463.8 L669.4,464.9 L668.4,466.0 L667.4,467.1 L666.4,468.1 L665.4,468.9 L664.4,469.3 L663.4,469.3 L662.4,469.3 L661.4,469.2 L660.4,469.1 L659.4,469.0 L658.4,468.9 L657.4,468.8 L656.4,468.6 L655.4,468.4 L654.4,468.0 L653.4,467.4 L652.4,466.8 L651.4,466.1 L650.4,465.4 L649.4,464.7 L648.4,464.0 L647.4,463.2 L646.4,462.3 L645.4,461.6 L644.4,461.2 L643.4,461.2 L642.4,461.4 L641.4,461.6 L640.4,461.8 L639.4,462.1 L638.4,462.9 L637.4,463.9 L636.4,465.0 L635.4,466.1 L634.4,467.1 L633.4,467.7 L632.4,468.0 L631.4,467.9 L630.4,467.7 L629.4,467.4 L628.4,467.1 L627.4,466.8 L626.4,466.6 L625.4,466.6 L624.4,466.7 L623.4,466.8 L622.4,467.0 L621.4,467.2 L620.4,467.5 L619.4,467.8 L618.4,468.2 L617.4,468.5 L616.4,468.9 L615.4,469.4 L614.4,469.8 L613.4,470.2 L612.4,470.6 L611.4,471.0 L610.4,471.5 L609.4,472.0 L608.4,472.6 L607.4,473.2 L606.4,473.8 L605.4,474.5 L604.4,475.2 L603.4,476.0 L602.4,477.1 L601.4,478.3 L600.4,479.4 L599.4,480.2 L598.4,480.4 L597.4,480.3 L596.4,480.1 L595.4,479.9 L594.4,479.6 L593.4,479.2 L592.4,478.8 L591.4,478.5 L590.4,478.1 L589.4,477.6 L588.4,477.1 L587.4,476.5 L586.4,475.9 L585.4,475.2 L584.4,474.6 L583.4,474.0 L582.4,473.4 L581.4,472.8 L580.4,472.2 L579.4,471.5 L578.4,470.8 L577.4,470.2 L576.4,469.8 L575.4,469.4 L574.4,469.3 L573.4,469.4 L572.4,469.7 L571.4,470.1 L570.4,470.7 L569.4,471.4 L568.4,472.2 L567.4,473.1 L566.4,473.9 L565.4,475.1 L564.4,476.9 L563.4,478.9 L562.4,480.8 L561.4,482.0 L560.4,482.2 L559.4,481.9 L558.4,481.4 L557.4,480.9 L556.4,480.3 L555.4,479.9 L554.4,479.6 L553.4,479.3 L552.4,479.0 L551.4,478.8 Z" fill="#eff6fa" stroke="none"/><path d="M551.4,468.8 L552.4,469.0 L553.4,469.3 L554.4,469.6 L555.4,469.9 L556.4,470.3 L557.4,470.9 L558.4,471.4 L559.4,471.9 L560.4,472.2 L561.4,472.0 L562.4,470.8 L563.4,468.9 L564.4,466.9 L565.4,465.1 L566.4,463.9 L567.4,463.1 L568.4,462.2 L569.4,461.4 L570.4,460.7 L571.4,460.1 L572.4,459.7 L573.4,459.4 L574.4,459.3 L575.4,459.4 L576.4,459.8 L577.4,460.2 L578.4,460.8 L579.4,461.5 L580.4,462.2 L581.4,462.8 L582.4,463.4 L583.4,464.0 L584.4,464.6 L585.4,465.2 L586.4,465.9 L587.4,466.5 L588.4,467.1 L589.4,467.6 L590.4,468.1 L591.4,468.5 L592.4,468.8 L593.4,469.2 L594.4,469.6 L595.4,469.9 L596.4,470.1 L597.4,470.3 L598.4,470.4 L599.4,470.2 L600.4,469.4 L601.4,468.3 L602.4,467.1 L603.4,466.0 L604.4,465.2 L605.4,464.5 L606.4,463.8 L607.4,463.2 L608.4,462.6 L609.4,462.0 L610.4,461.5 L611.4,461.0 L612.4,460.6 L613.4,460.2 L614.4,459.8 L615.4,459.4 L616.4,458.9 L617.4,458.5 L618.4,458.2 L619.4,457.8 L620.4,457.5 L621.4,457.2 L622.4,457.0 L623.4,456.8 L624.4,456.7 L625.4,456.6 L626.4,456.6 L627.4,456.8 L628.4,457.1 L629.4,457.4 L630.4,457.7 L631.4,457.9 L632.4,458.0 L633.4,457.7 L634.4,457.1 L635.4,456.1 L636.4,455.0 L637.4,453.9 L638.4,452.9 L639.4,452.1 L640.4,451.8 L641.4,451.6 L642.4,451.4 L643.4,451.2 L644.4,451.2 L645.4,451.6 L646.4,452.3 L647.4,453.2 L648.4,454.0 L649.4,454.7 L650.4,455.4 L651.4,456.1 L652.4,456.8 L653.4,457.4 L654.4,458.0 L655.4,458.4 L656.4,458.6 L657.4,458.8 L658.4,458.9 L659.4,459.0 L660.4,459.1 L661.4,459.2 L662.4,459.3 L663.4,459.3 L664.4,459.3 L665.4,458.9 L666.4,458.1 L667.4,457.1 L668.4,456.0 L669.4,454.9 L670.4,453.8 L671.4,453.0 L672.4,452.1 L673.4,451.2 L674.4,450.2 L675.4,449.5 L676.4,448.9 L677.4,448.5 L678.4,448.5 L679.4,448.6 L680.4,448.7 L681.4,448.9 L682.4,449.1 L683.4,449.3 L684.4,449.6 L685.4,449.9 L686.4,450.2 L687.4,450.5 L688.4,451.0 L689.4,451.6 L690.4,452.2 L691.4,452.6 L692.4,452.8 L693.4,453.0 L694.4,453.2 L695.4,453.3 L696.4,453.4 L697.4,453.5 L698.4,453.7 L699.4,453.9 L700.4,454.1 L701.4,454.4 L702.4,454.8 L703.4,455.2 L704.4,455.6 L705.4,456.0 L706.4,456.4 L707.4,456.8 L708.4,457.1 L709.4,457.3 L710.4,457.6 L711.4,457.8 L712.4,457.9 L713.4,458.1 L714.4,458.3 L715.4,458.6 L716.4,458.9 L717.4,459.3 L718.4,459.7 L719.4,460.2 L720.4,460.7 L721.4,461.2 L722.4,461.8 L723.4,462.4 L724.4,463.2 L725.4,464.1 L726.4,465.2 L727.4,466.4 L728.4,467.7 L729.4,469.1 L730.4,470.6 L731.4,472.1 L732.4,473.7 L733.4,475.4 L734.4,477.2 L735.4,479.1 L736.4,481.2 L737.4,483.4 L738.4,485.6 L739.3,487.7" fill="none" stroke="#a9d5e5" stroke-width="0.95"/><path d="M551.4,478.8 L552.4,479.0 L553.4,479.3 L554.4,479.6 L555.4,479.9 L556.4,480.3 L557.4,480.9 L558.4,481.4 L559.4,481.9 L560.4,482.2 L561.4,482.0 L562.4,480.8 L563.4,478.9 L564.4,476.9 L565.4,475.1 L566.4,473.9 L567.4,473.1 L568.4,472.2 L569.4,471.4 L570.4,470.7 L571.4,470.1 L572.4,469.7 L573.4,469.4 L574.4,469.3 L575.4,469.4 L576.4,469.8 L577.4,470.2 L578.4,470.8 L579.4,471.5 L580.4,472.2 L581.4,472.8 L582.4,473.4 L583.4,474.0 L584.4,474.6 L585.4,475.2 L586.4,475.9 L587.4,476.5 L588.4,477.1 L589.4,477.6 L590.4,478.1 L591.4,478.5 L592.4,478.8 L593.4,479.2 L594.4,479.6 L595.4,479.9 L596.4,480.1 L597.4,480.3 L598.4,480.4 L599.4,480.2 L600.4,479.4 L601.4,478.3 L602.4,477.1 L603.4,476.0 L604.4,475.2 L605.4,474.5 L606.4,473.8 L607.4,473.2 L608.4,472.6 L609.4,472.0 L610.4,471.5 L611.4,471.0 L612.4,470.6 L613.4,470.2 L614.4,469.8 L615.4,469.4 L616.4,468.9 L617.4,468.5 L618.4,468.2 L619.4,467.8 L620.4,467.5 L621.4,467.2 L622.4,467.0 L623.4,466.8 L624.4,466.7 L625.4,466.6 L626.4,466.6 L627.4,466.8 L628.4,467.1 L629.4,467.4 L630.4,467.7 L631.4,467.9 L632.4,468.0 L633.4,467.7 L634.4,467.1 L635.4,466.1 L636.4,465.0 L637.4,463.9 L638.4,462.9 L639.4,462.1 L640.4,461.8 L641.4,461.6 L642.4,461.4 L643.4,461.2 L644.4,461.2 L645.4,461.6 L646.4,462.3 L647.4,463.2 L648.4,464.0 L649.4,464.7 L650.4,465.4 L651.4,466.1 L652.4,466.8 L653.4,467.4 L654.4,468.0 L655.4,468.4 L656.4,468.6 L657.4,468.8 L658.4,468.9 L659.4,469.0 L660.4,469.1 L661.4,469.2 L662.4,469.3 L663.4,469.3 L664.4,469.3 L665.4,468.9 L666.4,468.1 L667.4,467.1 L668.4,466.0 L669.4,464.9 L670.4,463.8 L671.4,463.0 L672.4,462.1 L673.4,461.2 L674.4,460.2 L675.4,459.5 L676.4,458.9 L677.4,458.5 L678.4,458.5 L679.4,458.6 L680.4,458.7 L681.4,458.9 L682.4,459.1 L683.4,459.3 L684.4,459.6 L685.4,459.9 L686.4,460.2 L687.4,460.5 L688.4,461.0 L689.4,461.6 L690.4,462.2 L691.4,462.6 L692.4,462.8 L693.4,463.0 L694.4,463.2 L695.4,463.3 L696.4,463.4 L697.4,463.5 L698.4,463.7 L699.4,463.9 L700.4,464.1 L701.4,464.4 L702.4,464.8 L703.4,465.2 L704.4,465.6 L705.4,466.0 L706.4,466.4 L707.4,466.8 L708.4,467.1 L709.4,467.3 L710.4,467.6 L711.4,467.8 L712.4,467.9 L713.4,468.1 L714.4,468.3 L715.4,468.5 L716.4,468.7 L717.4,468.9 L718.4,469.2 L719.4,469.4 L720.4,469.8 L721.4,470.2 L722.4,470.6 L723.4,471.1 L724.4,471.6 L725.4,472.4 L726.4,473.3 L727.4,474.3 L728.4,475.5 L729.4,476.7 L730.4,478.1 L731.4,479.4 L732.4,480.8 L733.4,482.3 L734.4,484.0 L735.4,485.8 L736.4,487.7 L737.4,489.7 L738.4,491.8 L739.3,493.7" fill="none" stroke="#a9d5e5" stroke-width="0.8"/><path d="M551.4,447.7 L552.4,446.8 L553.4,446.4 L554.4,446.3 L555.4,446.6 L556.4,447.8 L557.4,449.9 L558.4,453.1 L559.4,461.8 L560.4,466.4 L561.4,467.7 L562.4,468.5 L563.4,469.2 L564.4,470.0 L565.4,470.8 L566.4,471.5 L567.4,472.2 L568.4,472.8 L569.4,473.4 L570.4,474.1 L571.4,474.7 L572.4,475.4 L573.4,476.1 L574.4,476.8 L575.4,477.5 L576.4,478.4 L577.4,479.2 L578.4,480.1 L579.4,480.9 L580.4,481.8 L581.4,482.7 L582.4,483.6 L583.4,484.5 L584.4,485.3 L585.4,486.2 L586.4,486.9 L587.4,487.7 L588.4,488.4 L589.4,489.0 L590.4,489.6 L591.4,490.2 L592.4,490.8 L593.4,491.4 L594.4,491.9 L595.4,492.5 L596.4,493.0 L597.4,493.5 L598.4,493.9 L599.4,494.4 L600.4,494.8 L601.4,495.2 L602.4,495.6 L603.4,495.9 L604.4,496.2 L605.4,496.5 L606.4,496.8 L607.4,497.0 L608.4,497.3 L609.4,497.7 L610.4,498.1 L611.4,498.6 L612.4,499.1 L613.4,499.8 L614.4,500.4 L615.4,501.1 L616.4,501.7 L617.4,502.3 L618.4,502.9 L619.4,503.4 L620.4,503.8 L621.4,504.2 L622.4,504.5 L623.4,504.9 L624.4,505.2 L625.4,505.4 L626.4,505.7 L627.4,505.9 L628.4,506.2 L629.4,506.5 L630.4,506.7 L631.4,507.0 L632.4,507.3 L633.4,507.7 L634.4,508.0 L635.4,508.4 L636.4,508.8 L637.4,509.2 L638.4,509.6 L639.4,510.2 L640.4,510.8 L641.4,511.5 L642.4,512.5 L643.4,513.6 L644.4,514.7 L645.4,515.9 L646.4,517.1 L647.4,518.3 L648.4,519.3 L649.4,520.2 L650.4,521.1 L651.4,522.0 L652.4,522.9 L653.4,523.8 L654.4,524.5 L655.4,525.1 L656.4,525.4 L657.4,525.4 L658.4,525.2 L659.4,524.9 L660.4,524.4 L661.4,523.8 L662.4,523.2 L663.4,522.5 L664.4,521.7 L665.4,520.6 L666.4,519.1 L667.4,517.2 L668.4,515.2 L669.4,513.2 L670.4,511.1 L671.4,509.2 L672.4,507.5 L673.4,506.2 L674.4,505.2 L675.4,504.3 L676.4,503.4 L677.4,502.5 L678.4,501.7 L679.4,500.9 L680.4,500.2 L681.4,499.6 L682.4,499.0 L683.4,498.6 L684.4,498.3 L685.4,498.1 L686.4,498.1 L687.4,498.1 L688.4,498.1 L689.4,498.2 L690.4,498.2 L691.4,498.3 L692.4,498.3 L693.4,498.4 L694.4,498.4 L695.4,498.4 L696.4,498.5 L697.4,498.5 L698.4,498.5 L699.4,498.5 L700.4,498.5 L701.4,498.6 L702.4,498.6 L703.4,498.8 L704.4,499.1 L705.4,499.5 L706.4,500.1 L707.4,500.6 L708.4,501.2 L709.4,501.8 L710.4,502.5 L711.4,503.3 L712.4,504.2 L713.4,505.1 L714.4,506.0 L715.4,506.9 L716.4,507.7 L717.4,508.6 L718.4,509.6 L719.4,510.6 L720.4,511.4 L721.4,512.1 L722.4,512.5 L723.4,512.5 L724.4,511.5 L725.4,509.7 L726.4,507.3 L727.4,504.7 L728.4,502.3 L729.4,499.2 L730.4,495.8 L731.4,492.4 L732.4,489.4 L733.4,487.2 L734.4,485.3 L735.4,483.5 L736.4,481.9 L737.4,480.6 L738.4,479.5 L739.3,478.8 L739.3,491.8 L738.4,492.5 L737.4,493.6 L736.4,494.9 L735.4,496.5 L734.4,498.3 L733.4,500.2 L732.4,502.4 L731.4,505.4 L730.4,508.8 L729.4,512.2 L728.4,515.3 L727.4,517.7 L726.4,520.3 L725.4,522.7 L724.4,524.5 L723.4,525.5 L722.4,525.5 L721.4,525.1 L720.4,524.4 L719.4,523.6 L718.4,522.6 L717.4,521.6 L716.4,520.7 L715.4,519.9 L714.4,519.0 L713.4,518.1 L712.4,517.2 L711.4,516.3 L710.4,515.5 L709.4,514.8 L708.4,514.2 L707.4,513.6 L706.4,513.1 L705.4,512.5 L704.4,512.1 L703.4,511.8 L702.4,511.6 L701.4,511.6 L700.4,511.5 L699.4,511.5 L698.4,511.5 L697.4,511.5 L696.4,511.5 L695.4,511.4 L694.4,511.4 L693.4,511.4 L692.4,511.3 L691.4,511.3 L690.4,511.2 L689.4,511.2 L688.4,511.1 L687.4,511.1 L686.4,511.1 L685.4,511.1 L684.4,511.3 L683.4,511.6 L682.4,512.0 L681.4,512.6 L680.4,513.2 L679.4,513.9 L678.4,514.7 L677.4,515.5 L676.4,516.4 L675.4,517.3 L674.4,518.2 L673.4,519.2 L672.4,520.5 L671.4,522.2 L670.4,524.1 L669.4,526.2 L668.4,528.2 L667.4,530.2 L666.4,532.1 L665.4,533.6 L664.4,534.7 L663.4,535.5 L662.4,536.2 L661.4,536.8 L660.4,537.4 L659.4,537.9 L658.4,538.2 L657.4,538.4 L656.4,538.4 L655.4,538.1 L654.4,537.5 L653.4,536.8 L652.4,535.9 L651.4,535.0 L650.4,534.1 L649.4,533.2 L648.4,532.3 L647.4,531.3 L646.4,530.1 L645.4,528.9 L644.4,527.7 L643.4,526.6 L642.4,525.5 L641.4,524.5 L640.4,523.8 L639.4,523.2 L638.4,522.6 L637.4,522.2 L636.4,521.8 L635.4,521.4 L634.4,521.0 L633.4,520.7 L632.4,520.3 L631.4,520.0 L630.4,519.7 L629.4,519.5 L628.4,519.2 L627.4,518.9 L626.4,518.7 L625.4,518.4 L624.4,518.2 L623.4,517.9 L622.4,517.5 L621.4,517.2 L620.4,516.8 L619.4,516.4 L618.4,515.9 L617.4,515.3 L616.4,514.7 L615.4,514.1 L614.4,513.4 L613.4,512.8 L612.4,512.1 L611.4,511.6 L610.4,511.1 L609.4,510.7 L608.4,510.3 L607.4,510.0 L606.4,509.8 L605.4,509.5 L604.4,509.2 L603.4,508.9 L602.4,508.6 L601.4,508.2 L600.4,507.8 L599.4,507.4 L598.4,506.9 L597.4,506.5 L596.4,506.0 L595.4,505.5 L594.4,504.9 L593.4,504.4 L592.4,503.8 L591.4,503.2 L590.4,502.6 L589.4,502.0 L588.4,501.4 L587.4,500.7 L586.4,499.9 L585.4,499.2 L584.4,498.3 L583.4,497.5 L582.4,496.6 L581.4,495.7 L580.4,494.8 L579.4,493.9 L578.4,493.1 L577.4,492.2 L576.4,491.4 L575.4,490.5 L574.4,489.8 L573.4,489.1 L572.4,488.4 L571.4,487.7 L570.4,487.1 L569.4,486.4 L568.4,485.8 L567.4,485.2 L566.4,484.5 L565.4,483.8 L564.4,483.0 L563.4,482.2 L562.4,481.5 L561.4,480.7 L560.4,479.4 L559.4,474.8 L558.4,466.1 L557.4,462.9 L556.4,460.8 L555.4,459.6 L554.4,459.3 L553.4,459.4 L552.4,459.8 L551.4,460.7 Z" fill="#f5e9f2" stroke="none"/><path d="M551.4,447.7 L552.4,446.8 L553.4,446.4 L554.4,446.3 L555.4,446.6 L556.4,447.8 L557.4,449.9 L558.4,453.1 L559.4,461.8 L560.4,466.4 L561.4,467.7 L562.4,468.5 L563.4,469.2 L564.4,470.0 L565.4,470.8 L566.4,471.5 L567.4,472.2 L568.4,472.8 L569.4,473.4 L570.4,474.1 L571.4,474.7 L572.4,475.4 L573.4,476.1 L574.4,476.8 L575.4,477.5 L576.4,478.4 L577.4,479.2 L578.4,480.1 L579.4,480.9 L580.4,481.8 L581.4,482.7 L582.4,483.6 L583.4,484.5 L584.4,485.3 L585.4,486.2 L586.4,486.9 L587.4,487.7 L588.4,488.4 L589.4,489.0 L590.4,489.6 L591.4,490.2 L592.4,490.8 L593.4,491.4 L594.4,491.9 L595.4,492.5 L596.4,493.0 L597.4,493.5 L598.4,493.9 L599.4,494.4 L600.4,494.8 L601.4,495.2 L602.4,495.6 L603.4,495.9 L604.4,496.2 L605.4,496.5 L606.4,496.8 L607.4,497.0 L608.4,497.3 L609.4,497.7 L610.4,498.1 L611.4,498.6 L612.4,499.1 L613.4,499.8 L614.4,500.4 L615.4,501.1 L616.4,501.7 L617.4,502.3 L618.4,502.9 L619.4,503.4 L620.4,503.8 L621.4,504.2 L622.4,504.5 L623.4,504.9 L624.4,505.2 L625.4,505.4 L626.4,505.7 L627.4,505.9 L628.4,506.2 L629.4,506.5 L630.4,506.7 L631.4,507.0 L632.4,507.3 L633.4,507.7 L634.4,508.0 L635.4,508.4 L636.4,508.8 L637.4,509.2 L638.4,509.6 L639.4,510.2 L640.4,510.8 L641.4,511.5 L642.4,512.5 L643.4,513.6 L644.4,514.7 L645.4,515.9 L646.4,517.1 L647.4,518.3 L648.4,519.3 L649.4,520.2 L650.4,521.1 L651.4,522.0 L652.4,522.9 L653.4,523.8 L654.4,524.5 L655.4,525.1 L656.4,525.4 L657.4,525.4 L658.4,525.2 L659.4,524.9 L660.4,524.4 L661.4,523.8 L662.4,523.2 L663.4,522.5 L664.4,521.7 L665.4,520.6 L666.4,519.1 L667.4,517.2 L668.4,515.2 L669.4,513.2 L670.4,511.1 L671.4,509.2 L672.4,507.5 L673.4,506.2 L674.4,505.2 L675.4,504.3 L676.4,503.4 L677.4,502.5 L678.4,501.7 L679.4,500.9 L680.4,500.2 L681.4,499.6 L682.4,499.0 L683.4,498.6 L684.4,498.3 L685.4,498.1 L686.4,498.1 L687.4,498.1 L688.4,498.1 L689.4,498.2 L690.4,498.2 L691.4,498.3 L692.4,498.3 L693.4,498.4 L694.4,498.4 L695.4,498.4 L696.4,498.5 L697.4,498.5 L698.4,498.5 L699.4,498.5 L700.4,498.5 L701.4,498.6 L702.4,498.6 L703.4,498.8 L704.4,499.1 L705.4,499.5 L706.4,500.1 L707.4,500.6 L708.4,501.2 L709.4,501.8 L710.4,502.5 L711.4,503.3 L712.4,504.2 L713.4,505.1 L714.4,506.0 L715.4,506.9 L716.4,507.7 L717.4,508.6 L718.4,509.6 L719.4,510.6 L720.4,511.4 L721.4,512.1 L722.4,512.5 L723.4,512.5 L724.4,511.5 L725.4,509.7 L726.4,507.3 L727.4,504.7 L728.4,502.3 L729.4,499.2 L730.4,495.8 L731.4,492.4 L732.4,489.4 L733.4,487.2 L734.4,485.3 L735.4,483.5 L736.4,481.9 L737.4,480.6 L738.4,479.5 L739.3,478.8" fill="none" stroke="#d4a2d0" stroke-width="0.95"/><path d="M551.4,460.7 L552.4,459.8 L553.4,459.4 L554.4,459.3 L555.4,459.6 L556.4,460.8 L557.4,462.9 L558.4,466.1 L559.4,474.8 L560.4,479.4 L561.4,480.7 L562.4,481.5 L563.4,482.2 L564.4,483.0 L565.4,483.8 L566.4,484.5 L567.4,485.2 L568.4,485.8 L569.4,486.4 L570.4,487.1 L571.4,487.7 L572.4,488.4 L573.4,489.1 L574.4,489.8 L575.4,490.5 L576.4,491.4 L577.4,492.2 L578.4,493.1 L579.4,493.9 L580.4,494.8 L581.4,495.7 L582.4,496.6 L583.4,497.5 L584.4,498.3 L585.4,499.2 L586.4,499.9 L587.4,500.7 L588.4,501.4 L589.4,502.0 L590.4,502.6 L591.4,503.2 L592.4,503.8 L593.4,504.4 L594.4,504.9 L595.4,505.5 L596.4,506.0 L597.4,506.5 L598.4,506.9 L599.4,507.4 L600.4,507.8 L601.4,508.2 L602.4,508.6 L603.4,508.9 L604.4,509.2 L605.4,509.5 L606.4,509.8 L607.4,510.0 L608.4,510.3 L609.4,510.7 L610.4,511.1 L611.4,511.6 L612.4,512.1 L613.4,512.8 L614.4,513.4 L615.4,514.1 L616.4,514.7 L617.4,515.3 L618.4,515.9 L619.4,516.4 L620.4,516.8 L621.4,517.2 L622.4,517.5 L623.4,517.9 L624.4,518.2 L625.4,518.4 L626.4,518.7 L627.4,518.9 L628.4,519.2 L629.4,519.5 L630.4,519.7 L631.4,520.0 L632.4,520.3 L633.4,520.7 L634.4,521.0 L635.4,521.4 L636.4,521.8 L637.4,522.2 L638.4,522.6 L639.4,523.2 L640.4,523.8 L641.4,524.5 L642.4,525.5 L643.4,526.6 L644.4,527.7 L645.4,528.9 L646.4,530.1 L647.4,531.3 L648.4,532.3 L649.4,533.2 L650.4,534.1 L651.4,535.0 L652.4,535.9 L653.4,536.8 L654.4,537.5 L655.4,538.1 L656.4,538.4 L657.4,538.4 L658.4,538.2 L659.4,537.9 L660.4,537.4 L661.4,536.8 L662.4,536.2 L663.4,535.5 L664.4,534.7 L665.4,533.6 L666.4,532.1 L667.4,530.2 L668.4,528.2 L669.4,526.2 L670.4,524.1 L671.4,522.2 L672.4,520.5 L673.4,519.2 L674.4,518.2 L675.4,517.3 L676.4,516.4 L677.4,515.5 L678.4,514.7 L679.4,513.9 L680.4,513.2 L681.4,512.6 L682.4,512.0 L683.4,511.6 L684.4,511.3 L685.4,511.1 L686.4,511.1 L687.4,511.1 L688.4,511.1 L689.4,511.2 L690.4,511.2 L691.4,511.3 L692.4,511.3 L693.4,511.4 L694.4,511.4 L695.4,511.4 L696.4,511.5 L697.4,511.5 L698.4,511.5 L699.4,511.5 L700.4,511.5 L701.4,511.6 L702.4,511.6 L703.4,511.8 L704.4,512.1 L705.4,512.5 L706.4,513.1 L707.4,513.6 L708.4,514.2 L709.4,514.8 L710.4,515.5 L711.4,516.3 L712.4,517.2 L713.4,518.1 L714.4,519.0 L715.4,519.9 L716.4,520.7 L717.4,521.6 L718.4,522.6 L719.4,523.6 L720.4,524.4 L721.4,525.1 L722.4,525.5 L723.4,525.5 L724.4,524.5 L725.4,522.7 L726.4,520.3 L727.4,517.7 L728.4,515.3 L729.4,512.2 L730.4,508.8 L731.4,505.4 L732.4,502.4 L733.4,500.2 L734.4,498.3 L735.4,496.5 L736.4,494.9 L737.4,493.6 L738.4,492.5 L739.3,491.8" fill="none" stroke="#d4a2d0" stroke-width="0.8"/><path d="M551.4,473.8 L552.4,474.0 L553.4,474.3 L554.4,474.6 L555.4,474.9 L556.4,475.3 L557.4,475.9 L558.4,476.4 L559.4,476.9 L560.4,477.2 L561.4,477.0 L562.4,475.8 L563.4,473.9 L564.4,471.9 L565.4,470.1 L566.4,468.9 L567.4,468.1 L568.4,467.2 L569.4,466.4 L570.4,465.7 L571.4,465.1 L572.4,464.7 L573.4,464.4 L574.4,464.3 L575.4,464.4 L576.4,464.8 L577.4,465.2 L578.4,465.8 L579.4,466.5 L580.4,467.2 L581.4,467.8 L582.4,468.4 L583.4,469.0 L584.4,469.6 L585.4,470.2 L586.4,470.9 L587.4,471.5 L588.4,472.1 L589.4,472.6 L590.4,473.1 L591.4,473.5 L592.4,473.8 L593.4,474.2 L594.4,474.6 L595.4,474.9 L596.4,475.1 L597.4,475.3 L598.4,475.4 L599.4,475.2 L600.4,474.4 L601.4,473.3 L602.4,472.1 L603.4,471.0 L604.4,470.2 L605.4,469.5 L606.4,468.8 L607.4,468.2 L608.4,467.6 L609.4,467.0 L610.4,466.5 L611.4,466.0 L612.4,465.6 L613.4,465.2 L614.4,464.8 L615.4,464.4 L616.4,463.9 L617.4,463.5 L618.4,463.2 L619.4,462.8 L620.4,462.5 L621.4,462.2 L622.4,462.0 L623.4,461.8 L624.4,461.7 L625.4,461.6 L626.4,461.6 L627.4,461.8 L628.4,462.1 L629.4,462.4 L630.4,462.7 L631.4,462.9 L632.4,463.0 L633.4,462.7 L634.4,462.1 L635.4,461.1 L636.4,460.0 L637.4,458.9 L638.4,457.9 L639.4,457.1 L640.4,456.8 L641.4,456.6 L642.4,456.4 L643.4,456.2 L644.4,456.2 L645.4,456.6 L646.4,457.3 L647.4,458.2 L648.4,459.0 L649.4,459.7 L650.4,460.4 L651.4,461.1 L652.4,461.8 L653.4,462.4 L654.4,463.0 L655.4,463.4 L656.4,463.6 L657.4,463.8 L658.4,463.9 L659.4,464.0 L660.4,464.1 L661.4,464.2 L662.4,464.3 L663.4,464.3 L664.4,464.3 L665.4,463.9 L666.4,463.1 L667.4,462.1 L668.4,461.0 L669.4,459.9 L670.4,458.8 L671.4,458.0 L672.4,457.1 L673.4,456.2 L674.4,455.2 L675.4,454.5 L676.4,453.9 L677.4,453.5 L678.4,453.5 L679.4,453.6 L680.4,453.7 L681.4,453.9 L682.4,454.1 L683.4,454.3 L684.4,454.6 L685.4,454.9 L686.4,455.2 L687.4,455.5 L688.4,456.0 L689.4,456.6 L690.4,457.2 L691.4,457.6 L692.4,457.8 L693.4,458.0 L694.4,458.2 L695.4,458.3 L696.4,458.4 L697.4,458.5 L698.4,458.7 L699.4,458.9 L700.4,459.1 L701.4,459.4 L702.4,459.8 L703.4,460.2 L704.4,460.6 L705.4,461.0 L706.4,461.4 L707.4,461.8 L708.4,462.1 L709.4,462.3 L710.4,462.6 L711.4,462.8 L712.4,462.9 L713.4,463.1 L714.4,463.3 L715.4,463.5 L716.4,463.8 L717.4,464.1 L718.4,464.4 L719.4,464.8 L720.4,465.2 L721.4,465.7 L722.4,466.2 L723.4,466.8 L724.4,467.4 L725.4,468.2 L726.4,469.2 L727.4,470.3 L728.4,471.6 L729.4,472.9 L730.4,474.3 L731.4,475.8 L732.4,477.2 L733.4,478.9 L734.4,480.6 L735.4,482.5 L736.4,484.4 L737.4,486.5 L738.4,488.7 L739.3,490.7" fill="none" stroke="#66b3cf" stroke-width="1.5" stroke-linejoin="round"/><path d="M551.4,454.2 L552.4,453.3 L553.4,452.9 L554.4,452.8 L555.4,453.1 L556.4,454.3 L557.4,456.4 L558.4,459.6 L559.4,468.3 L560.4,472.9 L561.4,474.2 L562.4,475.0 L563.4,475.7 L564.4,476.5 L565.4,477.3 L566.4,478.0 L567.4,478.7 L568.4,479.3 L569.4,479.9 L570.4,480.6 L571.4,481.2 L572.4,481.9 L573.4,482.6 L574.4,483.3 L575.4,484.0 L576.4,484.9 L577.4,485.7 L578.4,486.6 L579.4,487.4 L580.4,488.3 L581.4,489.2 L582.4,490.1 L583.4,491.0 L584.4,491.8 L585.4,492.7 L586.4,493.4 L587.4,494.2 L588.4,494.9 L589.4,495.5 L590.4,496.1 L591.4,496.7 L592.4,497.3 L593.4,497.9 L594.4,498.4 L595.4,499.0 L596.4,499.5 L597.4,500.0 L598.4,500.4 L599.4,500.9 L600.4,501.3 L601.4,501.7 L602.4,502.1 L603.4,502.4 L604.4,502.7 L605.4,503.0 L606.4,503.3 L607.4,503.5 L608.4,503.8 L609.4,504.2 L610.4,504.6 L611.4,505.1 L612.4,505.6 L613.4,506.3 L614.4,506.9 L615.4,507.6 L616.4,508.2 L617.4,508.8 L618.4,509.4 L619.4,509.9 L620.4,510.3 L621.4,510.7 L622.4,511.0 L623.4,511.4 L624.4,511.7 L625.4,511.9 L626.4,512.2 L627.4,512.4 L628.4,512.7 L629.4,513.0 L630.4,513.2 L631.4,513.5 L632.4,513.8 L633.4,514.2 L634.4,514.5 L635.4,514.9 L636.4,515.3 L637.4,515.7 L638.4,516.1 L639.4,516.7 L640.4,517.3 L641.4,518.0 L642.4,519.0 L643.4,520.1 L644.4,521.2 L645.4,522.4 L646.4,523.6 L647.4,524.8 L648.4,525.8 L649.4,526.7 L650.4,527.6 L651.4,528.5 L652.4,529.4 L653.4,530.3 L654.4,531.0 L655.4,531.6 L656.4,531.9 L657.4,531.9 L658.4,531.7 L659.4,531.4 L660.4,530.9 L661.4,530.3 L662.4,529.7 L663.4,529.0 L664.4,528.2 L665.4,527.1 L666.4,525.6 L667.4,523.7 L668.4,521.7 L669.4,519.7 L670.4,517.6 L671.4,515.7 L672.4,514.0 L673.4,512.7 L674.4,511.7 L675.4,510.8 L676.4,509.9 L677.4,509.0 L678.4,508.2 L679.4,507.4 L680.4,506.7 L681.4,506.1 L682.4,505.5 L683.4,505.1 L684.4,504.8 L685.4,504.6 L686.4,504.6 L687.4,504.6 L688.4,504.6 L689.4,504.7 L690.4,504.7 L691.4,504.8 L692.4,504.8 L693.4,504.9 L694.4,504.9 L695.4,504.9 L696.4,505.0 L697.4,505.0 L698.4,505.0 L699.4,505.0 L700.4,505.0 L701.4,505.1 L702.4,505.1 L703.4,505.3 L704.4,505.6 L705.4,506.0 L706.4,506.6 L707.4,507.1 L708.4,507.7 L709.4,508.3 L710.4,509.0 L711.4,509.8 L712.4,510.7 L713.4,511.6 L714.4,512.5 L715.4,513.4 L716.4,514.2 L717.4,515.1 L718.4,516.1 L719.4,517.1 L720.4,517.9 L721.4,518.6 L722.4,519.0 L723.4,519.0 L724.4,518.0 L725.4,516.2 L726.4,513.8 L727.4,511.2 L728.4,508.8 L729.4,505.7 L730.4,502.3 L731.4,498.9 L732.4,495.9 L733.4,493.7 L734.4,491.8 L735.4,490.0 L736.4,488.4 L737.4,487.1 L738.4,486.0 L739.3,485.3" fill="none" stroke="#8e318f" stroke-width="1.5" stroke-linejoin="round"/></g><line x1="558.50" y1="432.70" x2="558.50" y2="574.10" stroke="#262626" stroke-width="1.35" stroke-dasharray="1.4 2.6"/><line x1="588.66" y1="432.70" x2="588.66" y2="574.10" stroke="#262626" stroke-width="1.35" stroke-dasharray="1.4 2.6"/><line x1="603.74" y1="432.70" x2="603.74" y2="574.10" stroke="#262626" stroke-width="1.35" stroke-dasharray="1.4 2.6"/><line x1="648.98" y1="432.70" x2="648.98" y2="574.10" stroke="#262626" stroke-width="1.35" stroke-dasharray="1.4 2.6"/><line x1="664.06" y1="432.70" x2="664.06" y2="574.10" stroke="#262626" stroke-width="1.35" stroke-dasharray="1.4 2.6"/><line x1="709.30" y1="432.70" x2="709.30" y2="574.10" stroke="#262626" stroke-width="1.35" stroke-dasharray="1.4 2.6"/><path d="M551.20,430.00 L551.20,573.80 L739.50,573.80" fill="none" stroke="#6d6e71" stroke-width="1.1"/><line x1="551.20" y1="558.60" x2="553.40" y2="558.60" stroke="#6d6e71" stroke-width="1"/><text x="546.40" y="565.20" text-anchor="end" font-family='"Liberation Sans", sans-serif' font-size="12" fill="#231f20">-2</text><line x1="551.20" y1="494.00" x2="553.40" y2="494.00" stroke="#6d6e71" stroke-width="1"/><text x="546.40" y="500.60" text-anchor="end" font-family='"Liberation Sans", sans-serif' font-size="12" fill="#231f20">0</text><line x1="551.20" y1="430.40" x2="553.40" y2="430.40" stroke="#6d6e71" stroke-width="1"/><text x="546.40" y="437.00" text-anchor="end" font-family='"Liberation Sans", sans-serif' font-size="12" fill="#231f20">2</text><line x1="558.50" y1="573.80" x2="558.50" y2="571.80" stroke="#262626" stroke-width="1"/><text x="558.70" y="584.30" text-anchor="middle" font-family='"Liberation Sans", sans-serif' font-size="12" fill="#231f20">0</text><line x1="588.66" y1="573.80" x2="588.66" y2="571.80" stroke="#262626" stroke-width="1"/><text x="588.06" y="584.30" text-anchor="middle" font-family='"Liberation Sans", sans-serif' font-size="12" fill="#231f20">1</text><line x1="648.98" y1="573.80" x2="648.98" y2="571.80" stroke="#262626" stroke-width="1"/><text x="649.18" y="584.30" text-anchor="middle" font-family='"Liberation Sans", sans-serif' font-size="12" fill="#231f20">3</text><line x1="709.30" y1="573.80" x2="709.30" y2="571.80" stroke="#262626" stroke-width="1"/><text x="709.50" y="584.30" text-anchor="middle" font-family='"Liberation Sans", sans-serif' font-size="12" fill="#231f20">5</text><text x="625.35" y="596.10" font-family='"Liberation Sans", sans-serif' font-size="12" fill="#231f20" textLength="40" lengthAdjust="spacingAndGlyphs">Time (s)</text><text x="603.50" y="426.30" font-family='"Liberation Sans", sans-serif' font-size="12" fill="#231f20" textLength="47.3" lengthAdjust="spacingAndGlyphs">33-64 Hz</text><text transform="translate(530.30,551.10) rotate(-90)" x="0" y="0" font-family='"Liberation Sans", sans-serif' font-size="12" fill="#231f20" textLength="61.4" lengthAdjust="spacingAndGlyphs">Power (dB)</text></g><clipPath id="clipC4"><rect x="551.2" y="617.6" width="189.29999999999995" height="146.19999999999993"/></clipPath><g><rect x="589.06" y="621.70" width="13.6" height="142.10" fill="#d6d6d6"/><rect x="649.38" y="621.70" width="13.6" height="142.10" fill="#d6d6d6"/><g clip-path="url(#clipC4)"><path d="M551.4,691.5 L552.4,691.7 L553.4,692.1 L554.4,692.8 L555.4,693.5 L556.4,695.0 L557.4,697.5 L558.4,700.3 L559.4,702.7 L560.4,704.2 L561.4,704.1 L562.4,703.1 L563.4,701.6 L564.4,699.9 L565.4,698.4 L566.4,697.5 L567.4,696.8 L568.4,696.2 L569.4,695.7 L570.4,695.2 L571.4,694.8 L572.4,694.5 L573.4,694.3 L574.4,694.2 L575.4,694.2 L576.4,694.3 L577.4,694.4 L578.4,694.6 L579.4,694.7 L580.4,694.8 L581.4,694.9 L582.4,694.9 L583.4,694.8 L584.4,694.6 L585.4,694.3 L586.4,694.0 L587.4,693.8 L588.4,693.8 L589.4,694.0 L590.4,694.4 L591.4,694.8 L592.4,695.3 L593.4,695.8 L594.4,696.3 L595.4,696.8 L596.4,697.2 L597.4,697.5 L598.4,697.6 L599.4,697.5 L600.4,697.1 L601.4,696.6 L602.4,695.9 L603.4,695.3 L604.4,694.7 L605.4,694.1 L606.4,693.5 L607.4,692.8 L608.4,692.1 L609.4,691.4 L610.4,690.9 L611.4,690.4 L612.4,690.0 L613.4,689.8 L614.4,689.5 L615.4,689.2 L616.4,689.0 L617.4,688.9 L618.4,688.8 L619.4,688.8 L620.4,688.9 L621.4,689.1 L622.4,689.4 L623.4,689.6 L624.4,689.9 L625.4,690.1 L626.4,690.2 L627.4,690.3 L628.4,690.5 L629.4,690.6 L630.4,690.7 L631.4,690.8 L632.4,690.8 L633.4,690.5 L634.4,689.9 L635.4,688.9 L636.4,687.9 L637.4,686.9 L638.4,686.0 L639.4,685.5 L640.4,685.4 L641.4,685.4 L642.4,685.4 L643.4,685.5 L644.4,685.5 L645.4,685.5 L646.4,685.6 L647.4,685.7 L648.4,685.7 L649.4,685.9 L650.4,686.2 L651.4,686.7 L652.4,687.1 L653.4,687.6 L654.4,688.1 L655.4,688.5 L656.4,688.9 L657.4,689.2 L658.4,689.5 L659.4,689.9 L660.4,690.2 L661.4,690.5 L662.4,690.7 L663.4,690.8 L664.4,690.8 L665.4,690.5 L666.4,689.9 L667.4,689.1 L668.4,688.1 L669.4,686.9 L670.4,685.7 L671.4,684.5 L672.4,683.2 L673.4,682.1 L674.4,681.1 L675.4,680.2 L676.4,679.6 L677.4,679.3 L678.4,679.3 L679.4,679.5 L680.4,679.8 L681.4,680.3 L682.4,680.9 L683.4,681.5 L684.4,682.2 L685.4,682.9 L686.4,683.7 L687.4,684.4 L688.4,685.1 L689.4,685.7 L690.4,686.3 L691.4,686.8 L692.4,687.2 L693.4,687.6 L694.4,688.0 L695.4,688.4 L696.4,688.8 L697.4,689.1 L698.4,689.5 L699.4,689.8 L700.4,690.1 L701.4,690.5 L702.4,690.8 L703.4,691.1 L704.4,691.4 L705.4,691.7 L706.4,692.0 L707.4,692.3 L708.4,692.6 L709.4,693.0 L710.4,693.4 L711.4,693.7 L712.4,694.0 L713.4,694.2 L714.4,694.2 L715.4,694.1 L716.4,693.9 L717.4,693.8 L718.4,693.6 L719.4,693.4 L720.4,693.2 L721.4,693.0 L722.4,692.9 L723.4,692.8 L724.4,692.8 L725.4,693.1 L726.4,693.5 L727.4,694.0 L728.4,694.6 L729.4,695.3 L730.4,695.9 L731.4,696.5 L732.4,697.1 L733.4,697.5 L734.4,697.8 L735.4,697.9 L736.4,698.0 L737.4,698.1 L738.4,698.2 L739.3,698.2 L739.3,707.4 L738.4,707.4 L737.4,707.3 L736.4,707.2 L735.4,707.1 L734.4,707.0 L733.4,706.7 L732.4,706.3 L731.4,705.7 L730.4,705.1 L729.4,704.5 L728.4,703.8 L727.4,703.2 L726.4,702.7 L725.4,702.3 L724.4,702.0 L723.4,702.0 L722.4,702.1 L721.4,702.2 L720.4,702.4 L719.4,702.6 L718.4,702.8 L717.4,703.0 L716.4,703.1 L715.4,703.3 L714.4,703.4 L713.4,703.4 L712.4,703.2 L711.4,702.9 L710.4,702.6 L709.4,702.2 L708.4,701.8 L707.4,701.5 L706.4,701.2 L705.4,700.9 L704.4,700.6 L703.4,700.3 L702.4,700.0 L701.4,699.7 L700.4,699.3 L699.4,699.0 L698.4,698.7 L697.4,698.3 L696.4,698.0 L695.4,697.6 L694.4,697.2 L693.4,696.8 L692.4,696.4 L691.4,696.0 L690.4,695.5 L689.4,694.9 L688.4,694.3 L687.4,693.6 L686.4,692.9 L685.4,692.1 L684.4,691.4 L683.4,690.7 L682.4,690.1 L681.4,689.5 L680.4,689.0 L679.4,688.7 L678.4,688.5 L677.4,688.5 L676.4,688.8 L675.4,689.4 L674.4,690.3 L673.4,691.3 L672.4,692.4 L671.4,693.7 L670.4,694.9 L669.4,696.1 L668.4,697.3 L667.4,698.3 L666.4,699.1 L665.4,699.7 L664.4,700.0 L663.4,700.0 L662.4,699.9 L661.4,699.7 L660.4,699.4 L659.4,699.1 L658.4,698.7 L657.4,698.4 L656.4,698.1 L655.4,697.7 L654.4,697.3 L653.4,696.8 L652.4,696.3 L651.4,695.9 L650.4,695.4 L649.4,695.1 L648.4,694.9 L647.4,694.9 L646.4,694.8 L645.4,694.7 L644.4,694.7 L643.4,694.7 L642.4,694.6 L641.4,694.6 L640.4,694.6 L639.4,694.7 L638.4,695.2 L637.4,696.1 L636.4,697.1 L635.4,698.1 L634.4,699.1 L633.4,699.7 L632.4,700.0 L631.4,700.0 L630.4,699.9 L629.4,699.8 L628.4,699.7 L627.4,699.5 L626.4,699.4 L625.4,699.3 L624.4,699.1 L623.4,698.8 L622.4,698.6 L621.4,698.3 L620.4,698.1 L619.4,698.0 L618.4,698.0 L617.4,698.1 L616.4,698.2 L615.4,698.4 L614.4,698.7 L613.4,699.0 L612.4,699.2 L611.4,699.6 L610.4,700.1 L609.4,700.6 L608.4,701.3 L607.4,702.0 L606.4,702.7 L605.4,703.3 L604.4,703.9 L603.4,704.5 L602.4,705.1 L601.4,705.8 L600.4,706.3 L599.4,706.7 L598.4,706.8 L597.4,706.7 L596.4,706.4 L595.4,706.0 L594.4,705.5 L593.4,705.0 L592.4,704.5 L591.4,704.0 L590.4,703.6 L589.4,703.2 L588.4,703.0 L587.4,703.0 L586.4,703.2 L585.4,703.5 L584.4,703.8 L583.4,704.0 L582.4,704.1 L581.4,704.1 L580.4,704.0 L579.4,703.9 L578.4,703.8 L577.4,703.6 L576.4,703.5 L575.4,703.4 L574.4,703.4 L573.4,703.5 L572.4,703.7 L571.4,704.0 L570.4,704.4 L569.4,704.9 L568.4,705.4 L567.4,706.0 L566.4,706.7 L565.4,707.6 L564.4,709.1 L563.4,710.8 L562.4,712.3 L561.4,713.3 L560.4,713.4 L559.4,711.9 L558.4,709.5 L557.4,706.7 L556.4,704.2 L555.4,702.7 L554.4,702.0 L553.4,701.3 L552.4,700.9 L551.4,700.7 Z" fill="#eff6fa" stroke="none"/><path d="M551.4,691.5 L552.4,691.7 L553.4,692.1 L554.4,692.8 L555.4,693.5 L556.4,695.0 L557.4,697.5 L558.4,700.3 L559.4,702.7 L560.4,704.2 L561.4,704.1 L562.4,703.1 L563.4,701.6 L564.4,699.9 L565.4,698.4 L566.4,697.5 L567.4,696.8 L568.4,696.2 L569.4,695.7 L570.4,695.2 L571.4,694.8 L572.4,694.5 L573.4,694.3 L574.4,694.2 L575.4,694.2 L576.4,694.3 L577.4,694.4 L578.4,694.6 L579.4,694.7 L580.4,694.8 L581.4,694.9 L582.4,694.9 L583.4,694.8 L584.4,694.6 L585.4,694.3 L586.4,694.0 L587.4,693.8 L588.4,693.8 L589.4,694.0 L590.4,694.4 L591.4,694.8 L592.4,695.3 L593.4,695.8 L594.4,696.3 L595.4,696.8 L596.4,697.2 L597.4,697.5 L598.4,697.6 L599.4,697.5 L600.4,697.1 L601.4,696.6 L602.4,695.9 L603.4,695.3 L604.4,694.7 L605.4,694.1 L606.4,693.5 L607.4,692.8 L608.4,692.1 L609.4,691.4 L610.4,690.9 L611.4,690.4 L612.4,690.0 L613.4,689.8 L614.4,689.5 L615.4,689.2 L616.4,689.0 L617.4,688.9 L618.4,688.8 L619.4,688.8 L620.4,688.9 L621.4,689.1 L622.4,689.4 L623.4,689.6 L624.4,689.9 L625.4,690.1 L626.4,690.2 L627.4,690.3 L628.4,690.5 L629.4,690.6 L630.4,690.7 L631.4,690.8 L632.4,690.8 L633.4,690.5 L634.4,689.9 L635.4,688.9 L636.4,687.9 L637.4,686.9 L638.4,686.0 L639.4,685.5 L640.4,685.4 L641.4,685.4 L642.4,685.4 L643.4,685.5 L644.4,685.5 L645.4,685.5 L646.4,685.6 L647.4,685.7 L648.4,685.7 L649.4,685.9 L650.4,686.2 L651.4,686.7 L652.4,687.1 L653.4,687.6 L654.4,688.1 L655.4,688.5 L656.4,688.9 L657.4,689.2 L658.4,689.5 L659.4,689.9 L660.4,690.2 L661.4,690.5 L662.4,690.7 L663.4,690.8 L664.4,690.8 L665.4,690.5 L666.4,689.9 L667.4,689.1 L668.4,688.1 L669.4,686.9 L670.4,685.7 L671.4,684.5 L672.4,683.2 L673.4,682.1 L674.4,681.1 L675.4,680.2 L676.4,679.6 L677.4,679.3 L678.4,679.3 L679.4,679.5 L680.4,679.8 L681.4,680.3 L682.4,680.9 L683.4,681.5 L684.4,682.2 L685.4,682.9 L686.4,683.7 L687.4,684.4 L688.4,685.1 L689.4,685.7 L690.4,686.3 L691.4,686.8 L692.4,687.2 L693.4,687.6 L694.4,688.0 L695.4,688.4 L696.4,688.8 L697.4,689.1 L698.4,689.5 L699.4,689.8 L700.4,690.1 L701.4,690.5 L702.4,690.8 L703.4,691.1 L704.4,691.4 L705.4,691.7 L706.4,692.0 L707.4,692.3 L708.4,692.6 L709.4,693.0 L710.4,693.4 L711.4,693.7 L712.4,694.0 L713.4,694.2 L714.4,694.2 L715.4,694.1 L716.4,693.9 L717.4,693.8 L718.4,693.6 L719.4,693.4 L720.4,693.2 L721.4,693.0 L722.4,692.9 L723.4,692.8 L724.4,692.8 L725.4,693.1 L726.4,693.5 L727.4,694.0 L728.4,694.6 L729.4,695.3 L730.4,695.9 L731.4,696.5 L732.4,697.1 L733.4,697.5 L734.4,697.8 L735.4,697.9 L736.4,698.0 L737.4,698.1 L738.4,698.2 L739.3,698.2" fill="none" stroke="#a9d5e5" stroke-width="0.95"/><path d="M551.4,700.7 L552.4,700.9 L553.4,701.3 L554.4,702.0 L555.4,702.7 L556.4,704.2 L557.4,706.7 L558.4,709.5 L559.4,711.9 L560.4,713.4 L561.4,713.3 L562.4,712.3 L563.4,710.8 L564.4,709.1 L565.4,707.6 L566.4,706.7 L567.4,706.0 L568.4,705.4 L569.4,704.9 L570.4,704.4 L571.4,704.0 L572.4,703.7 L573.4,703.5 L574.4,703.4 L575.4,703.4 L576.4,703.5 L577.4,703.6 L578.4,703.8 L579.4,703.9 L580.4,704.0 L581.4,704.1 L582.4,704.1 L583.4,704.0 L584.4,703.8 L585.4,703.5 L586.4,703.2 L587.4,703.0 L588.4,703.0 L589.4,703.2 L590.4,703.6 L591.4,704.0 L592.4,704.5 L593.4,705.0 L594.4,705.5 L595.4,706.0 L596.4,706.4 L597.4,706.7 L598.4,706.8 L599.4,706.7 L600.4,706.3 L601.4,705.8 L602.4,705.1 L603.4,704.5 L604.4,703.9 L605.4,703.3 L606.4,702.7 L607.4,702.0 L608.4,701.3 L609.4,700.6 L610.4,700.1 L611.4,699.6 L612.4,699.2 L613.4,699.0 L614.4,698.7 L615.4,698.4 L616.4,698.2 L617.4,698.1 L618.4,698.0 L619.4,698.0 L620.4,698.1 L621.4,698.3 L622.4,698.6 L623.4,698.8 L624.4,699.1 L625.4,699.3 L626.4,699.4 L627.4,699.5 L628.4,699.7 L629.4,699.8 L630.4,699.9 L631.4,700.0 L632.4,700.0 L633.4,699.7 L634.4,699.1 L635.4,698.1 L636.4,697.1 L637.4,696.1 L638.4,695.2 L639.4,694.7 L640.4,694.6 L641.4,694.6 L642.4,694.6 L643.4,694.7 L644.4,694.7 L645.4,694.7 L646.4,694.8 L647.4,694.9 L648.4,694.9 L649.4,695.1 L650.4,695.4 L651.4,695.9 L652.4,696.3 L653.4,696.8 L654.4,697.3 L655.4,697.7 L656.4,698.1 L657.4,698.4 L658.4,698.7 L659.4,699.1 L660.4,699.4 L661.4,699.7 L662.4,699.9 L663.4,700.0 L664.4,700.0 L665.4,699.7 L666.4,699.1 L667.4,698.3 L668.4,697.3 L669.4,696.1 L670.4,694.9 L671.4,693.7 L672.4,692.4 L673.4,691.3 L674.4,690.3 L675.4,689.4 L676.4,688.8 L677.4,688.5 L678.4,688.5 L679.4,688.7 L680.4,689.0 L681.4,689.5 L682.4,690.1 L683.4,690.7 L684.4,691.4 L685.4,692.1 L686.4,692.9 L687.4,693.6 L688.4,694.3 L689.4,694.9 L690.4,695.5 L691.4,696.0 L692.4,696.4 L693.4,696.8 L694.4,697.2 L695.4,697.6 L696.4,698.0 L697.4,698.3 L698.4,698.7 L699.4,699.0 L700.4,699.3 L701.4,699.7 L702.4,700.0 L703.4,700.3 L704.4,700.6 L705.4,700.9 L706.4,701.2 L707.4,701.5 L708.4,701.8 L709.4,702.2 L710.4,702.6 L711.4,702.9 L712.4,703.2 L713.4,703.4 L714.4,703.4 L715.4,703.3 L716.4,703.1 L717.4,703.0 L718.4,702.8 L719.4,702.6 L720.4,702.4 L721.4,702.2 L722.4,702.1 L723.4,702.0 L724.4,702.0 L725.4,702.3 L726.4,702.7 L727.4,703.2 L728.4,703.8 L729.4,704.5 L730.4,705.1 L731.4,705.7 L732.4,706.3 L733.4,706.7 L734.4,707.0 L735.4,707.1 L736.4,707.2 L737.4,707.3 L738.4,707.4 L739.3,707.4" fill="none" stroke="#a9d5e5" stroke-width="0.8"/><path d="M551.4,670.8 L552.4,670.9 L553.4,671.2 L554.4,671.7 L555.4,672.4 L556.4,673.2 L557.4,674.5 L558.4,678.3 L559.4,694.5 L560.4,701.3 L561.4,701.6 L562.4,701.8 L563.4,702.0 L564.4,702.1 L565.4,702.2 L566.4,702.3 L567.4,702.3 L568.4,702.4 L569.4,702.5 L570.4,702.6 L571.4,702.8 L572.4,702.9 L573.4,703.1 L574.4,703.3 L575.4,703.5 L576.4,703.6 L577.4,703.8 L578.4,703.9 L579.4,703.9 L580.4,703.9 L581.4,703.8 L582.4,703.8 L583.4,703.7 L584.4,703.6 L585.4,703.5 L586.4,703.4 L587.4,703.4 L588.4,703.3 L589.4,703.3 L590.4,703.4 L591.4,703.6 L592.4,704.0 L593.4,704.4 L594.4,704.9 L595.4,705.5 L596.4,706.1 L597.4,706.7 L598.4,707.2 L599.4,707.8 L600.4,708.3 L601.4,708.7 L602.4,709.1 L603.4,709.4 L604.4,709.8 L605.4,710.1 L606.4,710.4 L607.4,710.7 L608.4,711.0 L609.4,711.4 L610.4,711.7 L611.4,712.0 L612.4,712.3 L613.4,712.7 L614.4,713.0 L615.4,713.3 L616.4,713.6 L617.4,713.9 L618.4,714.3 L619.4,714.5 L620.4,714.8 L621.4,715.1 L622.4,715.4 L623.4,715.6 L624.4,715.8 L625.4,716.1 L626.4,716.3 L627.4,716.6 L628.4,716.8 L629.4,717.1 L630.4,717.3 L631.4,717.6 L632.4,717.9 L633.4,718.1 L634.4,718.4 L635.4,718.7 L636.4,719.0 L637.4,719.3 L638.4,719.7 L639.4,720.0 L640.4,720.3 L641.4,720.7 L642.4,721.1 L643.4,721.6 L644.4,722.0 L645.4,722.4 L646.4,722.8 L647.4,723.2 L648.4,723.6 L649.4,724.0 L650.4,724.5 L651.4,724.9 L652.4,725.3 L653.4,725.7 L654.4,726.0 L655.4,726.2 L656.4,726.2 L657.4,726.1 L658.4,725.9 L659.4,725.5 L660.4,725.1 L661.4,724.7 L662.4,724.2 L663.4,723.8 L664.4,723.4 L665.4,722.9 L666.4,722.3 L667.4,721.7 L668.4,721.0 L669.4,720.3 L670.4,719.7 L671.4,719.0 L672.4,718.4 L673.4,717.8 L674.4,717.3 L675.4,716.9 L676.4,716.7 L677.4,716.5 L678.4,716.5 L679.4,716.6 L680.4,716.7 L681.4,716.9 L682.4,717.2 L683.4,717.4 L684.4,717.7 L685.4,718.0 L686.4,718.3 L687.4,718.5 L688.4,718.8 L689.4,719.0 L690.4,719.1 L691.4,719.2 L692.4,719.3 L693.4,719.3 L694.4,719.3 L695.4,719.4 L696.4,719.4 L697.4,719.4 L698.4,719.5 L699.4,719.5 L700.4,719.5 L701.4,719.5 L702.4,719.6 L703.4,719.6 L704.4,719.6 L705.4,719.6 L706.4,719.7 L707.4,719.7 L708.4,719.7 L709.4,719.8 L710.4,720.0 L711.4,720.2 L712.4,720.6 L713.4,720.9 L714.4,721.3 L715.4,721.7 L716.4,721.9 L717.4,722.1 L718.4,722.2 L719.4,722.0 L720.4,721.6 L721.4,720.8 L722.4,719.9 L723.4,718.8 L724.4,717.7 L725.4,716.4 L726.4,714.5 L727.4,711.9 L728.4,709.1 L729.4,706.2 L730.4,703.5 L731.4,700.9 L732.4,698.0 L733.4,695.5 L734.4,693.9 L735.4,693.4 L736.4,693.0 L737.4,692.7 L738.4,692.6 L739.3,692.5 L739.3,701.1 L738.4,701.2 L737.4,701.3 L736.4,701.6 L735.4,702.0 L734.4,702.5 L733.4,704.1 L732.4,706.6 L731.4,709.5 L730.4,712.1 L729.4,714.8 L728.4,717.7 L727.4,720.5 L726.4,723.1 L725.4,725.0 L724.4,726.3 L723.4,727.4 L722.4,728.5 L721.4,729.4 L720.4,730.2 L719.4,730.6 L718.4,730.8 L717.4,730.7 L716.4,730.5 L715.4,730.3 L714.4,729.9 L713.4,729.5 L712.4,729.2 L711.4,728.8 L710.4,728.6 L709.4,728.4 L708.4,728.3 L707.4,728.3 L706.4,728.3 L705.4,728.2 L704.4,728.2 L703.4,728.2 L702.4,728.2 L701.4,728.1 L700.4,728.1 L699.4,728.1 L698.4,728.1 L697.4,728.0 L696.4,728.0 L695.4,728.0 L694.4,727.9 L693.4,727.9 L692.4,727.9 L691.4,727.8 L690.4,727.7 L689.4,727.6 L688.4,727.4 L687.4,727.1 L686.4,726.9 L685.4,726.6 L684.4,726.3 L683.4,726.0 L682.4,725.8 L681.4,725.5 L680.4,725.3 L679.4,725.2 L678.4,725.1 L677.4,725.1 L676.4,725.3 L675.4,725.5 L674.4,725.9 L673.4,726.4 L672.4,727.0 L671.4,727.6 L670.4,728.3 L669.4,728.9 L668.4,729.6 L667.4,730.3 L666.4,730.9 L665.4,731.5 L664.4,732.0 L663.4,732.4 L662.4,732.8 L661.4,733.3 L660.4,733.7 L659.4,734.1 L658.4,734.5 L657.4,734.7 L656.4,734.8 L655.4,734.8 L654.4,734.6 L653.4,734.3 L652.4,733.9 L651.4,733.5 L650.4,733.1 L649.4,732.6 L648.4,732.2 L647.4,731.8 L646.4,731.4 L645.4,731.0 L644.4,730.6 L643.4,730.2 L642.4,729.7 L641.4,729.3 L640.4,728.9 L639.4,728.6 L638.4,728.3 L637.4,727.9 L636.4,727.6 L635.4,727.3 L634.4,727.0 L633.4,726.7 L632.4,726.5 L631.4,726.2 L630.4,725.9 L629.4,725.7 L628.4,725.4 L627.4,725.2 L626.4,724.9 L625.4,724.7 L624.4,724.4 L623.4,724.2 L622.4,724.0 L621.4,723.7 L620.4,723.4 L619.4,723.1 L618.4,722.9 L617.4,722.5 L616.4,722.2 L615.4,721.9 L614.4,721.6 L613.4,721.3 L612.4,720.9 L611.4,720.6 L610.4,720.3 L609.4,720.0 L608.4,719.6 L607.4,719.3 L606.4,719.0 L605.4,718.7 L604.4,718.4 L603.4,718.0 L602.4,717.7 L601.4,717.3 L600.4,716.9 L599.4,716.4 L598.4,715.8 L597.4,715.3 L596.4,714.7 L595.4,714.1 L594.4,713.5 L593.4,713.0 L592.4,712.6 L591.4,712.2 L590.4,712.0 L589.4,711.9 L588.4,711.9 L587.4,712.0 L586.4,712.0 L585.4,712.1 L584.4,712.2 L583.4,712.3 L582.4,712.4 L581.4,712.4 L580.4,712.5 L579.4,712.5 L578.4,712.5 L577.4,712.4 L576.4,712.2 L575.4,712.1 L574.4,711.9 L573.4,711.7 L572.4,711.5 L571.4,711.4 L570.4,711.2 L569.4,711.1 L568.4,711.0 L567.4,710.9 L566.4,710.9 L565.4,710.8 L564.4,710.7 L563.4,710.6 L562.4,710.4 L561.4,710.2 L560.4,709.9 L559.4,703.1 L558.4,686.9 L557.4,683.1 L556.4,681.8 L555.4,681.0 L554.4,680.3 L553.4,679.8 L552.4,679.5 L551.4,679.4 Z" fill="#f5e9f2" stroke="none"/><path d="M551.4,670.8 L552.4,670.9 L553.4,671.2 L554.4,671.7 L555.4,672.4 L556.4,673.2 L557.4,674.5 L558.4,678.3 L559.4,694.5 L560.4,701.3 L561.4,701.6 L562.4,701.8 L563.4,702.0 L564.4,702.1 L565.4,702.2 L566.4,702.3 L567.4,702.3 L568.4,702.4 L569.4,702.5 L570.4,702.6 L571.4,702.8 L572.4,702.9 L573.4,703.1 L574.4,703.3 L575.4,703.5 L576.4,703.6 L577.4,703.8 L578.4,703.9 L579.4,703.9 L580.4,703.9 L581.4,703.8 L582.4,703.8 L583.4,703.7 L584.4,703.6 L585.4,703.5 L586.4,703.4 L587.4,703.4 L588.4,703.3 L589.4,703.3 L590.4,703.4 L591.4,703.6 L592.4,704.0 L593.4,704.4 L594.4,704.9 L595.4,705.5 L596.4,706.1 L597.4,706.7 L598.4,707.2 L599.4,707.8 L600.4,708.3 L601.4,708.7 L602.4,709.1 L603.4,709.4 L604.4,709.8 L605.4,710.1 L606.4,710.4 L607.4,710.7 L608.4,711.0 L609.4,711.4 L610.4,711.7 L611.4,712.0 L612.4,712.3 L613.4,712.7 L614.4,713.0 L615.4,713.3 L616.4,713.6 L617.4,713.9 L618.4,714.3 L619.4,714.5 L620.4,714.8 L621.4,715.1 L622.4,715.4 L623.4,715.6 L624.4,715.8 L625.4,716.1 L626.4,716.3 L627.4,716.6 L628.4,716.8 L629.4,717.1 L630.4,717.3 L631.4,717.6 L632.4,717.9 L633.4,718.1 L634.4,718.4 L635.4,718.7 L636.4,719.0 L637.4,719.3 L638.4,719.7 L639.4,720.0 L640.4,720.3 L641.4,720.7 L642.4,721.1 L643.4,721.6 L644.4,722.0 L645.4,722.4 L646.4,722.8 L647.4,723.2 L648.4,723.6 L649.4,724.0 L650.4,724.5 L651.4,724.9 L652.4,725.3 L653.4,725.7 L654.4,726.0 L655.4,726.2 L656.4,726.2 L657.4,726.1 L658.4,725.9 L659.4,725.5 L660.4,725.1 L661.4,724.7 L662.4,724.2 L663.4,723.8 L664.4,723.4 L665.4,722.9 L666.4,722.3 L667.4,721.7 L668.4,721.0 L669.4,720.3 L670.4,719.7 L671.4,719.0 L672.4,718.4 L673.4,717.8 L674.4,717.3 L675.4,716.9 L676.4,716.7 L677.4,716.5 L678.4,716.5 L679.4,716.6 L680.4,716.7 L681.4,716.9 L682.4,717.2 L683.4,717.4 L684.4,717.7 L685.4,718.0 L686.4,718.3 L687.4,718.5 L688.4,718.8 L689.4,719.0 L690.4,719.1 L691.4,719.2 L692.4,719.3 L693.4,719.3 L694.4,719.3 L695.4,719.4 L696.4,719.4 L697.4,719.4 L698.4,719.5 L699.4,719.5 L700.4,719.5 L701.4,719.5 L702.4,719.6 L703.4,719.6 L704.4,719.6 L705.4,719.6 L706.4,719.7 L707.4,719.7 L708.4,719.7 L709.4,719.8 L710.4,720.0 L711.4,720.2 L712.4,720.6 L713.4,720.9 L714.4,721.3 L715.4,721.7 L716.4,721.9 L717.4,722.1 L718.4,722.2 L719.4,722.0 L720.4,721.6 L721.4,720.8 L722.4,719.9 L723.4,718.8 L724.4,717.7 L725.4,716.4 L726.4,714.5 L727.4,711.9 L728.4,709.1 L729.4,706.2 L730.4,703.5 L731.4,700.9 L732.4,698.0 L733.4,695.5 L734.4,693.9 L735.4,693.4 L736.4,693.0 L737.4,692.7 L738.4,692.6 L739.3,692.5" fill="none" stroke="#d4a2d0" stroke-width="0.95"/><path d="M551.4,679.4 L552.4,679.5 L553.4,679.8 L554.4,680.3 L555.4,681.0 L556.4,681.8 L557.4,683.1 L558.4,686.9 L559.4,703.1 L560.4,709.9 L561.4,710.2 L562.4,710.4 L563.4,710.6 L564.4,710.7 L565.4,710.8 L566.4,710.9 L567.4,710.9 L568.4,711.0 L569.4,711.1 L570.4,711.2 L571.4,711.4 L572.4,711.5 L573.4,711.7 L574.4,711.9 L575.4,712.1 L576.4,712.2 L577.4,712.4 L578.4,712.5 L579.4,712.5 L580.4,712.5 L581.4,712.4 L582.4,712.4 L583.4,712.3 L584.4,712.2 L585.4,712.1 L586.4,712.0 L587.4,712.0 L588.4,711.9 L589.4,711.9 L590.4,712.0 L591.4,712.2 L592.4,712.6 L593.4,713.0 L594.4,713.5 L595.4,714.1 L596.4,714.7 L597.4,715.3 L598.4,715.8 L599.4,716.4 L600.4,716.9 L601.4,717.3 L602.4,717.7 L603.4,718.0 L604.4,718.4 L605.4,718.7 L606.4,719.0 L607.4,719.3 L608.4,719.6 L609.4,720.0 L610.4,720.3 L611.4,720.6 L612.4,720.9 L613.4,721.3 L614.4,721.6 L615.4,721.9 L616.4,722.2 L617.4,722.5 L618.4,722.9 L619.4,723.1 L620.4,723.4 L621.4,723.7 L622.4,724.0 L623.4,724.2 L624.4,724.4 L625.4,724.7 L626.4,724.9 L627.4,725.2 L628.4,725.4 L629.4,725.7 L630.4,725.9 L631.4,726.2 L632.4,726.5 L633.4,726.7 L634.4,727.0 L635.4,727.3 L636.4,727.6 L637.4,727.9 L638.4,728.3 L639.4,728.6 L640.4,728.9 L641.4,729.3 L642.4,729.7 L643.4,730.2 L644.4,730.6 L645.4,731.0 L646.4,731.4 L647.4,731.8 L648.4,732.2 L649.4,732.6 L650.4,733.1 L651.4,733.5 L652.4,733.9 L653.4,734.3 L654.4,734.6 L655.4,734.8 L656.4,734.8 L657.4,734.7 L658.4,734.5 L659.4,734.1 L660.4,733.7 L661.4,733.3 L662.4,732.8 L663.4,732.4 L664.4,732.0 L665.4,731.5 L666.4,730.9 L667.4,730.3 L668.4,729.6 L669.4,728.9 L670.4,728.3 L671.4,727.6 L672.4,727.0 L673.4,726.4 L674.4,725.9 L675.4,725.5 L676.4,725.3 L677.4,725.1 L678.4,725.1 L679.4,725.2 L680.4,725.3 L681.4,725.5 L682.4,725.8 L683.4,726.0 L684.4,726.3 L685.4,726.6 L686.4,726.9 L687.4,727.1 L688.4,727.4 L689.4,727.6 L690.4,727.7 L691.4,727.8 L692.4,727.9 L693.4,727.9 L694.4,727.9 L695.4,728.0 L696.4,728.0 L697.4,728.0 L698.4,728.1 L699.4,728.1 L700.4,728.1 L701.4,728.1 L702.4,728.2 L703.4,728.2 L704.4,728.2 L705.4,728.2 L706.4,728.3 L707.4,728.3 L708.4,728.3 L709.4,728.4 L710.4,728.6 L711.4,728.8 L712.4,729.2 L713.4,729.5 L714.4,729.9 L715.4,730.3 L716.4,730.5 L717.4,730.7 L718.4,730.8 L719.4,730.6 L720.4,730.2 L721.4,729.4 L722.4,728.5 L723.4,727.4 L724.4,726.3 L725.4,725.0 L726.4,723.1 L727.4,720.5 L728.4,717.7 L729.4,714.8 L730.4,712.1 L731.4,709.5 L732.4,706.6 L733.4,704.1 L734.4,702.5 L735.4,702.0 L736.4,701.6 L737.4,701.3 L738.4,701.2 L739.3,701.1" fill="none" stroke="#d4a2d0" stroke-width="0.8"/><path d="M551.4,696.1 L552.4,696.3 L553.4,696.7 L554.4,697.4 L555.4,698.1 L556.4,699.6 L557.4,702.1 L558.4,704.9 L559.4,707.3 L560.4,708.8 L561.4,708.7 L562.4,707.7 L563.4,706.2 L564.4,704.5 L565.4,703.0 L566.4,702.1 L567.4,701.4 L568.4,700.8 L569.4,700.3 L570.4,699.8 L571.4,699.4 L572.4,699.1 L573.4,698.9 L574.4,698.8 L575.4,698.8 L576.4,698.9 L577.4,699.0 L578.4,699.2 L579.4,699.3 L580.4,699.4 L581.4,699.5 L582.4,699.5 L583.4,699.4 L584.4,699.2 L585.4,698.9 L586.4,698.6 L587.4,698.4 L588.4,698.4 L589.4,698.6 L590.4,699.0 L591.4,699.4 L592.4,699.9 L593.4,700.4 L594.4,700.9 L595.4,701.4 L596.4,701.8 L597.4,702.1 L598.4,702.2 L599.4,702.1 L600.4,701.7 L601.4,701.2 L602.4,700.5 L603.4,699.9 L604.4,699.3 L605.4,698.7 L606.4,698.1 L607.4,697.4 L608.4,696.7 L609.4,696.0 L610.4,695.5 L611.4,695.0 L612.4,694.6 L613.4,694.4 L614.4,694.1 L615.4,693.8 L616.4,693.6 L617.4,693.5 L618.4,693.4 L619.4,693.4 L620.4,693.5 L621.4,693.7 L622.4,694.0 L623.4,694.2 L624.4,694.5 L625.4,694.7 L626.4,694.8 L627.4,694.9 L628.4,695.1 L629.4,695.2 L630.4,695.3 L631.4,695.4 L632.4,695.4 L633.4,695.1 L634.4,694.5 L635.4,693.5 L636.4,692.5 L637.4,691.5 L638.4,690.6 L639.4,690.1 L640.4,690.0 L641.4,690.0 L642.4,690.0 L643.4,690.1 L644.4,690.1 L645.4,690.1 L646.4,690.2 L647.4,690.3 L648.4,690.3 L649.4,690.5 L650.4,690.8 L651.4,691.3 L652.4,691.7 L653.4,692.2 L654.4,692.7 L655.4,693.1 L656.4,693.5 L657.4,693.8 L658.4,694.1 L659.4,694.5 L660.4,694.8 L661.4,695.1 L662.4,695.3 L663.4,695.4 L664.4,695.4 L665.4,695.1 L666.4,694.5 L667.4,693.7 L668.4,692.7 L669.4,691.5 L670.4,690.3 L671.4,689.1 L672.4,687.8 L673.4,686.7 L674.4,685.7 L675.4,684.8 L676.4,684.2 L677.4,683.9 L678.4,683.9 L679.4,684.1 L680.4,684.4 L681.4,684.9 L682.4,685.5 L683.4,686.1 L684.4,686.8 L685.4,687.5 L686.4,688.3 L687.4,689.0 L688.4,689.7 L689.4,690.3 L690.4,690.9 L691.4,691.4 L692.4,691.8 L693.4,692.2 L694.4,692.6 L695.4,693.0 L696.4,693.4 L697.4,693.7 L698.4,694.1 L699.4,694.4 L700.4,694.7 L701.4,695.1 L702.4,695.4 L703.4,695.7 L704.4,696.0 L705.4,696.3 L706.4,696.6 L707.4,696.9 L708.4,697.2 L709.4,697.6 L710.4,698.0 L711.4,698.3 L712.4,698.6 L713.4,698.8 L714.4,698.8 L715.4,698.7 L716.4,698.5 L717.4,698.4 L718.4,698.2 L719.4,698.0 L720.4,697.8 L721.4,697.6 L722.4,697.5 L723.4,697.4 L724.4,697.4 L725.4,697.7 L726.4,698.1 L727.4,698.6 L728.4,699.2 L729.4,699.9 L730.4,700.5 L731.4,701.1 L732.4,701.7 L733.4,702.1 L734.4,702.4 L735.4,702.5 L736.4,702.6 L737.4,702.7 L738.4,702.8 L739.3,702.8" fill="none" stroke="#66b3cf" stroke-width="1.5" stroke-linejoin="round"/><path d="M551.4,675.1 L552.4,675.2 L553.4,675.5 L554.4,676.0 L555.4,676.7 L556.4,677.5 L557.4,678.8 L558.4,682.6 L559.4,698.8 L560.4,705.6 L561.4,705.9 L562.4,706.1 L563.4,706.3 L564.4,706.4 L565.4,706.5 L566.4,706.6 L567.4,706.6 L568.4,706.7 L569.4,706.8 L570.4,706.9 L571.4,707.1 L572.4,707.2 L573.4,707.4 L574.4,707.6 L575.4,707.8 L576.4,707.9 L577.4,708.1 L578.4,708.2 L579.4,708.2 L580.4,708.2 L581.4,708.1 L582.4,708.1 L583.4,708.0 L584.4,707.9 L585.4,707.8 L586.4,707.7 L587.4,707.7 L588.4,707.6 L589.4,707.6 L590.4,707.7 L591.4,707.9 L592.4,708.3 L593.4,708.7 L594.4,709.2 L595.4,709.8 L596.4,710.4 L597.4,711.0 L598.4,711.5 L599.4,712.1 L600.4,712.6 L601.4,713.0 L602.4,713.4 L603.4,713.7 L604.4,714.1 L605.4,714.4 L606.4,714.7 L607.4,715.0 L608.4,715.3 L609.4,715.7 L610.4,716.0 L611.4,716.3 L612.4,716.6 L613.4,717.0 L614.4,717.3 L615.4,717.6 L616.4,717.9 L617.4,718.2 L618.4,718.6 L619.4,718.8 L620.4,719.1 L621.4,719.4 L622.4,719.7 L623.4,719.9 L624.4,720.1 L625.4,720.4 L626.4,720.6 L627.4,720.9 L628.4,721.1 L629.4,721.4 L630.4,721.6 L631.4,721.9 L632.4,722.2 L633.4,722.4 L634.4,722.7 L635.4,723.0 L636.4,723.3 L637.4,723.6 L638.4,724.0 L639.4,724.3 L640.4,724.6 L641.4,725.0 L642.4,725.4 L643.4,725.9 L644.4,726.3 L645.4,726.7 L646.4,727.1 L647.4,727.5 L648.4,727.9 L649.4,728.3 L650.4,728.8 L651.4,729.2 L652.4,729.6 L653.4,730.0 L654.4,730.3 L655.4,730.5 L656.4,730.5 L657.4,730.4 L658.4,730.2 L659.4,729.8 L660.4,729.4 L661.4,729.0 L662.4,728.5 L663.4,728.1 L664.4,727.7 L665.4,727.2 L666.4,726.6 L667.4,726.0 L668.4,725.3 L669.4,724.6 L670.4,724.0 L671.4,723.3 L672.4,722.7 L673.4,722.1 L674.4,721.6 L675.4,721.2 L676.4,721.0 L677.4,720.8 L678.4,720.8 L679.4,720.9 L680.4,721.0 L681.4,721.2 L682.4,721.5 L683.4,721.7 L684.4,722.0 L685.4,722.3 L686.4,722.6 L687.4,722.8 L688.4,723.1 L689.4,723.3 L690.4,723.4 L691.4,723.5 L692.4,723.6 L693.4,723.6 L694.4,723.6 L695.4,723.7 L696.4,723.7 L697.4,723.7 L698.4,723.8 L699.4,723.8 L700.4,723.8 L701.4,723.8 L702.4,723.9 L703.4,723.9 L704.4,723.9 L705.4,723.9 L706.4,724.0 L707.4,724.0 L708.4,724.0 L709.4,724.1 L710.4,724.3 L711.4,724.5 L712.4,724.9 L713.4,725.2 L714.4,725.6 L715.4,726.0 L716.4,726.2 L717.4,726.4 L718.4,726.5 L719.4,726.3 L720.4,725.9 L721.4,725.1 L722.4,724.2 L723.4,723.1 L724.4,722.0 L725.4,720.7 L726.4,718.8 L727.4,716.2 L728.4,713.4 L729.4,710.5 L730.4,707.8 L731.4,705.2 L732.4,702.3 L733.4,699.8 L734.4,698.2 L735.4,697.7 L736.4,697.3 L737.4,697.0 L738.4,696.9 L739.3,696.8" fill="none" stroke="#8e318f" stroke-width="1.5" stroke-linejoin="round"/></g><line x1="558.50" y1="622.80" x2="558.50" y2="764.10" stroke="#262626" stroke-width="1.35" stroke-dasharray="1.4 2.6"/><line x1="588.66" y1="622.80" x2="588.66" y2="764.10" stroke="#262626" stroke-width="1.35" stroke-dasharray="1.4 2.6"/><line x1="603.74" y1="622.80" x2="603.74" y2="764.10" stroke="#262626" stroke-width="1.35" stroke-dasharray="1.4 2.6"/><line x1="648.98" y1="622.80" x2="648.98" y2="764.10" stroke="#262626" stroke-width="1.35" stroke-dasharray="1.4 2.6"/><line x1="664.06" y1="622.80" x2="664.06" y2="764.10" stroke="#262626" stroke-width="1.35" stroke-dasharray="1.4 2.6"/><line x1="709.30" y1="622.80" x2="709.30" y2="764.10" stroke="#262626" stroke-width="1.35" stroke-dasharray="1.4 2.6"/><path d="M551.20,620.60 L551.20,763.80 L739.50,763.80" fill="none" stroke="#6d6e71" stroke-width="1.1"/><line x1="551.20" y1="763.80" x2="553.40" y2="763.80" stroke="#6d6e71" stroke-width="1"/><text x="546.40" y="770.40" text-anchor="end" font-family='"Liberation Sans", sans-serif' font-size="12" fill="#231f20">-1</text><line x1="551.20" y1="716.30" x2="553.40" y2="716.30" stroke="#6d6e71" stroke-width="1"/><text x="546.40" y="722.90" text-anchor="end" font-family='"Liberation Sans", sans-serif' font-size="12" fill="#231f20">0</text><line x1="551.20" y1="668.30" x2="553.40" y2="668.30" stroke="#6d6e71" stroke-width="1"/><text x="546.40" y="674.90" text-anchor="end" font-family='"Liberation Sans", sans-serif' font-size="12" fill="#231f20">1</text><line x1="551.20" y1="620.90" x2="553.40" y2="620.90" stroke="#6d6e71" stroke-width="1"/><text x="546.40" y="627.50" text-anchor="end" font-family='"Liberation Sans", sans-serif' font-size="12" fill="#231f20">2</text><line x1="558.50" y1="763.80" x2="558.50" y2="761.80" stroke="#262626" stroke-width="1"/><text x="558.70" y="775.90" text-anchor="middle" font-family='"Liberation Sans", sans-serif' font-size="12" fill="#231f20">0</text><line x1="588.66" y1="763.80" x2="588.66" y2="761.80" stroke="#262626" stroke-width="1"/><text x="588.06" y="775.90" text-anchor="middle" font-family='"Liberation Sans", sans-serif' font-size="12" fill="#231f20">1</text><line x1="648.98" y1="763.80" x2="648.98" y2="761.80" stroke="#262626" stroke-width="1"/><text x="649.18" y="775.90" text-anchor="middle" font-family='"Liberation Sans", sans-serif' font-size="12" fill="#231f20">3</text><line x1="709.30" y1="763.80" x2="709.30" y2="761.80" stroke="#262626" stroke-width="1"/><text x="709.50" y="775.90" text-anchor="middle" font-family='"Liberation Sans", sans-serif' font-size="12" fill="#231f20">5</text><text x="625.35" y="787.20" font-family='"Liberation Sans", sans-serif' font-size="12" fill="#231f20" textLength="40" lengthAdjust="spacingAndGlyphs">Time (s)</text><text x="606.75" y="616.80" font-family='"Liberation Sans", sans-serif' font-size="12" fill="#231f20" textLength="54.0" lengthAdjust="spacingAndGlyphs">65-100 Hz</text><text transform="translate(530.30,741.70) rotate(-90)" x="0" y="0" font-family='"Liberation Sans", sans-serif' font-size="12" fill="#231f20" textLength="61.4" lengthAdjust="spacingAndGlyphs">Power (dB)</text></g><line x1="609.7" y1="804.4" x2="634.1" y2="804.4" stroke="#72bcbc" stroke-width="2.8"/><line x1="608" y1="821.9" x2="632.8" y2="822.4" stroke="#8e2e8e" stroke-width="2.9"/><text x="641.7" y="807.8" font-family='"Liberation Sans", sans-serif' font-size="14.5" fill="#231f20" textLength="68.3" lengthAdjust="spacingAndGlyphs">Pre-training</text><text x="641.7" y="826.4" font-family='"Liberation Sans", sans-serif' font-size="14.5" fill="#231f20" textLength="74.7" lengthAdjust="spacingAndGlyphs">Post-training</text></svg>
</body></html>
